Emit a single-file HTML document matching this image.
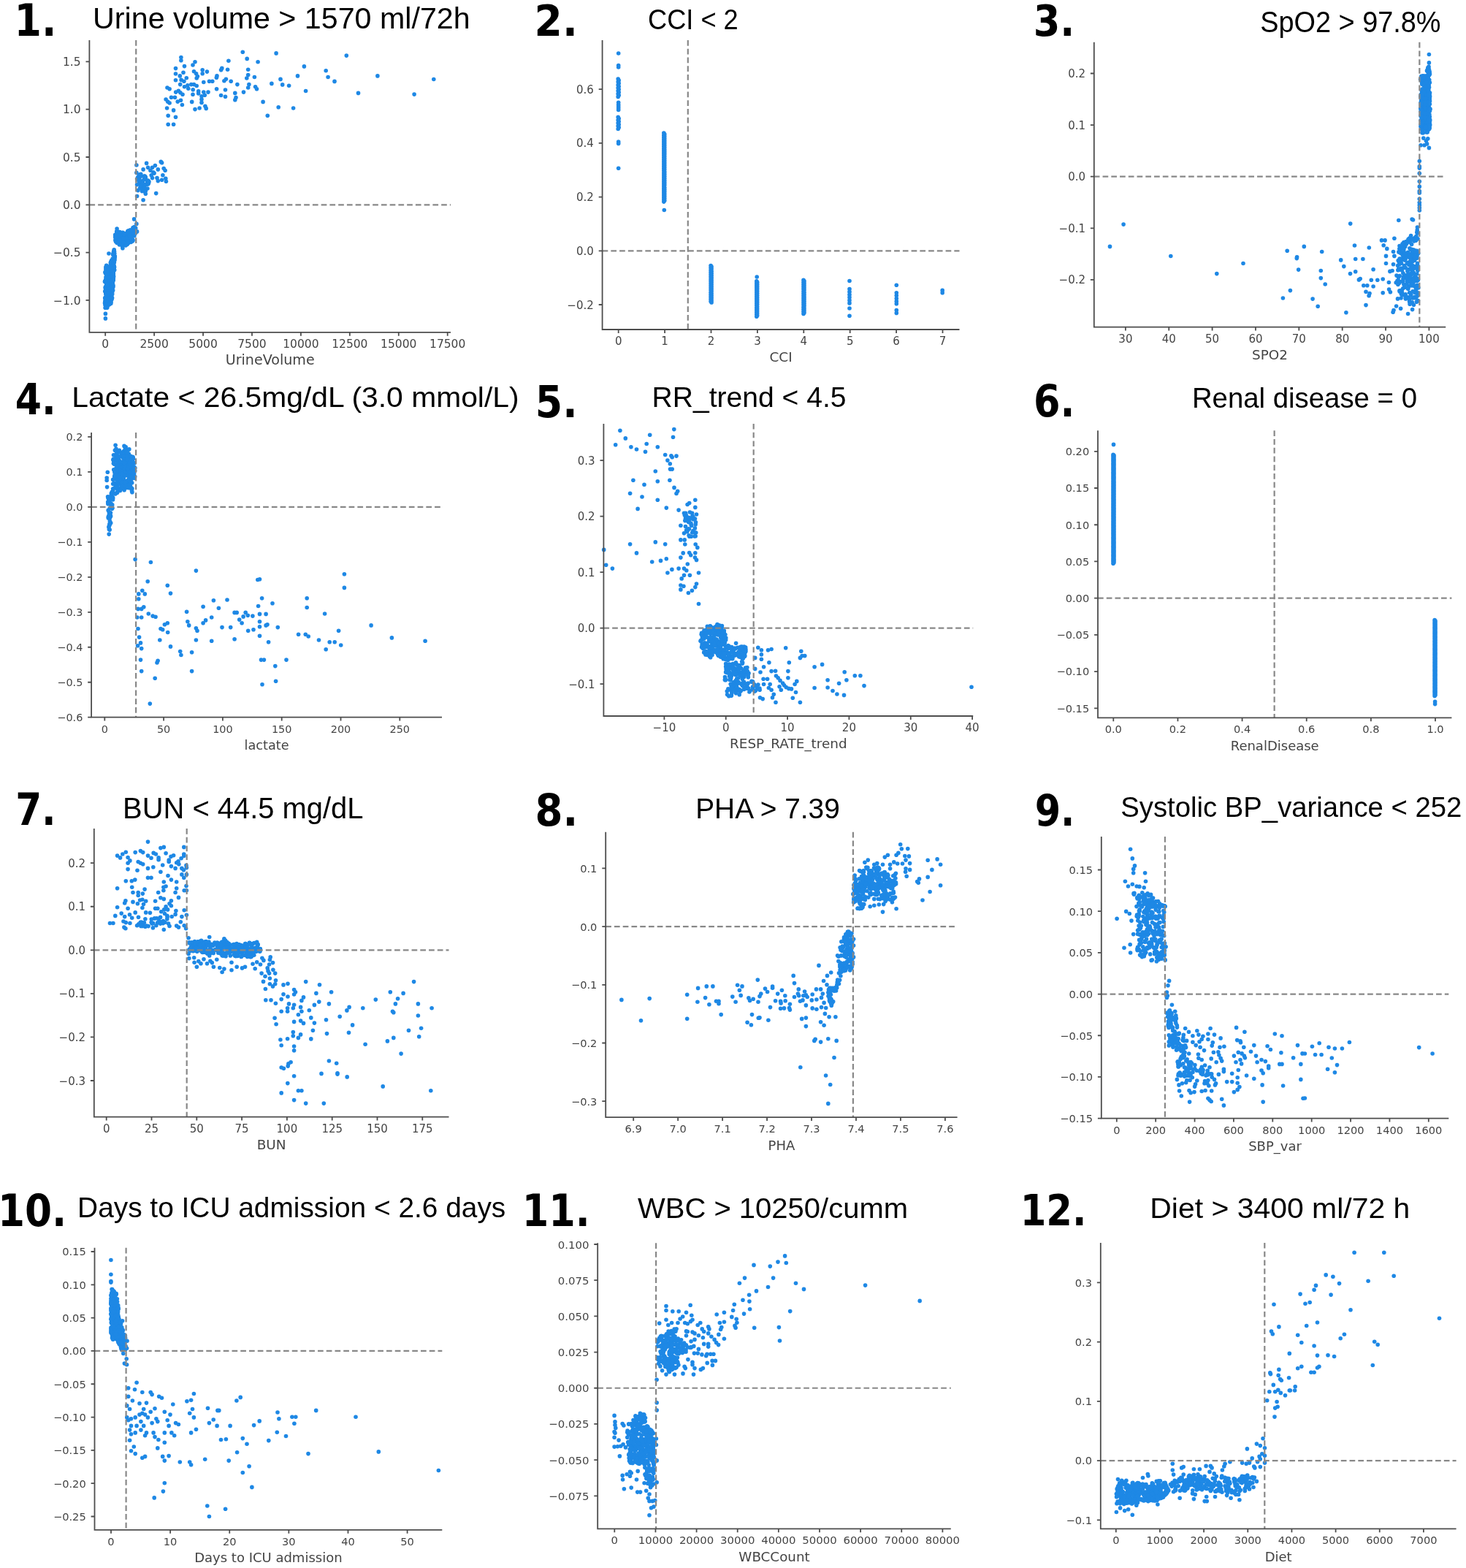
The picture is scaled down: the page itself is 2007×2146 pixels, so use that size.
<!DOCTYPE html><html><head><meta charset="utf-8"><title>SHAP dependence plots</title><style>html,body{margin:0;padding:0;background:#fff;}svg{display:block;}</style></head><body><svg width="2007" height="2146" viewBox="0 0 2007 2146"><rect width="2007" height="2146" fill="#fff"/><g fill="#1E88E5"><circle cx="145.0" cy="410.5" r="2.8"/><circle cx="154.3" cy="362.4" r="2.8"/><circle cx="150.3" cy="378.2" r="2.8"/><circle cx="152.6" cy="405.7" r="2.8"/><circle cx="155.3" cy="376.8" r="2.8"/><circle cx="149.6" cy="400.2" r="2.8"/><circle cx="146.4" cy="418.4" r="2.8"/><circle cx="156.3" cy="344.2" r="2.8"/><circle cx="143.5" cy="385.6" r="2.8"/><circle cx="146.3" cy="376.0" r="2.8"/><circle cx="149.5" cy="381.9" r="2.8"/><circle cx="146.3" cy="379.0" r="2.8"/><circle cx="152.5" cy="356.8" r="2.8"/><circle cx="144.9" cy="368.7" r="2.8"/><circle cx="153.7" cy="399.4" r="2.8"/><circle cx="147.5" cy="389.4" r="2.8"/><circle cx="150.5" cy="389.5" r="2.8"/><circle cx="154.8" cy="375.3" r="2.8"/><circle cx="145.6" cy="386.2" r="2.8"/><circle cx="153.4" cy="396.4" r="2.8"/><circle cx="148.6" cy="377.3" r="2.8"/><circle cx="150.5" cy="404.9" r="2.8"/><circle cx="150.7" cy="373.6" r="2.8"/><circle cx="143.7" cy="398.8" r="2.8"/><circle cx="154.4" cy="385.5" r="2.8"/><circle cx="155.7" cy="360.6" r="2.8"/><circle cx="151.5" cy="379.0" r="2.8"/><circle cx="147.0" cy="386.2" r="2.8"/><circle cx="154.9" cy="383.8" r="2.8"/><circle cx="151.3" cy="376.3" r="2.8"/><circle cx="143.9" cy="412.3" r="2.8"/><circle cx="150.5" cy="381.1" r="2.8"/><circle cx="148.3" cy="369.8" r="2.8"/><circle cx="151.0" cy="392.3" r="2.8"/><circle cx="152.1" cy="378.9" r="2.8"/><circle cx="145.7" cy="389.1" r="2.8"/><circle cx="146.8" cy="410.0" r="2.8"/><circle cx="154.1" cy="362.0" r="2.8"/><circle cx="144.7" cy="392.4" r="2.8"/><circle cx="145.4" cy="384.5" r="2.8"/><circle cx="153.5" cy="378.6" r="2.8"/><circle cx="147.8" cy="380.2" r="2.8"/><circle cx="144.7" cy="414.7" r="2.8"/><circle cx="152.0" cy="408.0" r="2.8"/><circle cx="145.2" cy="400.0" r="2.8"/><circle cx="145.4" cy="398.9" r="2.8"/><circle cx="153.0" cy="385.9" r="2.8"/><circle cx="146.3" cy="420.9" r="2.8"/><circle cx="154.8" cy="383.6" r="2.8"/><circle cx="146.4" cy="394.3" r="2.8"/><circle cx="148.9" cy="388.4" r="2.8"/><circle cx="147.8" cy="392.9" r="2.8"/><circle cx="147.6" cy="411.4" r="2.8"/><circle cx="147.6" cy="417.9" r="2.8"/><circle cx="154.0" cy="375.5" r="2.8"/><circle cx="156.0" cy="344.8" r="2.8"/><circle cx="153.4" cy="383.0" r="2.8"/><circle cx="148.6" cy="369.9" r="2.8"/><circle cx="146.1" cy="396.4" r="2.8"/><circle cx="144.6" cy="395.7" r="2.8"/><circle cx="147.4" cy="382.3" r="2.8"/><circle cx="147.8" cy="412.4" r="2.8"/><circle cx="156.3" cy="343.2" r="2.8"/><circle cx="146.0" cy="368.3" r="2.8"/><circle cx="153.0" cy="409.7" r="2.8"/><circle cx="156.7" cy="369.6" r="2.8"/><circle cx="146.5" cy="400.6" r="2.8"/><circle cx="156.4" cy="359.0" r="2.8"/><circle cx="154.2" cy="390.4" r="2.8"/><circle cx="155.4" cy="371.6" r="2.8"/><circle cx="148.1" cy="365.4" r="2.8"/><circle cx="145.1" cy="386.4" r="2.8"/><circle cx="144.2" cy="412.0" r="2.8"/><circle cx="148.1" cy="391.6" r="2.8"/><circle cx="154.5" cy="372.4" r="2.8"/><circle cx="151.4" cy="359.9" r="2.8"/><circle cx="147.1" cy="405.6" r="2.8"/><circle cx="144.8" cy="413.5" r="2.8"/><circle cx="146.6" cy="402.1" r="2.8"/><circle cx="144.6" cy="415.6" r="2.8"/><circle cx="156.4" cy="365.6" r="2.8"/><circle cx="146.8" cy="380.4" r="2.8"/><circle cx="144.5" cy="394.6" r="2.8"/><circle cx="151.8" cy="378.2" r="2.8"/><circle cx="157.3" cy="350.8" r="2.8"/><circle cx="146.2" cy="391.8" r="2.8"/><circle cx="153.2" cy="395.4" r="2.8"/><circle cx="146.9" cy="385.7" r="2.8"/><circle cx="152.6" cy="393.9" r="2.8"/><circle cx="147.6" cy="368.3" r="2.8"/><circle cx="147.7" cy="410.4" r="2.8"/><circle cx="156.2" cy="366.3" r="2.8"/><circle cx="148.0" cy="385.9" r="2.8"/><circle cx="151.6" cy="390.1" r="2.8"/><circle cx="144.2" cy="393.3" r="2.8"/><circle cx="147.3" cy="406.0" r="2.8"/><circle cx="150.3" cy="411.7" r="2.8"/><circle cx="145.3" cy="382.4" r="2.8"/><circle cx="154.7" cy="348.0" r="2.8"/><circle cx="157.0" cy="355.8" r="2.8"/><circle cx="155.1" cy="367.7" r="2.8"/><circle cx="144.6" cy="383.4" r="2.8"/><circle cx="156.5" cy="365.5" r="2.8"/><circle cx="156.2" cy="353.2" r="2.8"/><circle cx="156.4" cy="344.3" r="2.8"/><circle cx="147.7" cy="415.0" r="2.8"/><circle cx="153.2" cy="356.2" r="2.8"/><circle cx="153.6" cy="395.9" r="2.8"/><circle cx="151.1" cy="385.6" r="2.8"/><circle cx="155.6" cy="378.5" r="2.8"/><circle cx="148.9" cy="369.2" r="2.8"/><circle cx="152.6" cy="375.5" r="2.8"/><circle cx="155.2" cy="374.0" r="2.8"/><circle cx="149.0" cy="391.4" r="2.8"/><circle cx="150.8" cy="382.4" r="2.8"/><circle cx="152.6" cy="377.3" r="2.8"/><circle cx="153.1" cy="401.1" r="2.8"/><circle cx="146.6" cy="381.9" r="2.8"/><circle cx="149.1" cy="387.2" r="2.8"/><circle cx="147.1" cy="394.2" r="2.8"/><circle cx="150.6" cy="412.9" r="2.8"/><circle cx="145.4" cy="403.9" r="2.8"/><circle cx="156.0" cy="367.0" r="2.8"/><circle cx="148.5" cy="398.6" r="2.8"/><circle cx="153.9" cy="390.0" r="2.8"/><circle cx="146.3" cy="387.9" r="2.8"/><circle cx="153.1" cy="399.9" r="2.8"/><circle cx="148.2" cy="383.5" r="2.8"/><circle cx="145.5" cy="400.9" r="2.8"/><circle cx="154.9" cy="392.7" r="2.8"/><circle cx="147.0" cy="415.8" r="2.8"/><circle cx="157.1" cy="353.0" r="2.8"/><circle cx="152.7" cy="398.5" r="2.8"/><circle cx="149.6" cy="416.7" r="2.8"/><circle cx="154.8" cy="376.8" r="2.8"/><circle cx="145.5" cy="368.1" r="2.8"/><circle cx="144.9" cy="415.4" r="2.8"/><circle cx="157.1" cy="351.4" r="2.8"/><circle cx="151.9" cy="374.8" r="2.8"/><circle cx="144.8" cy="365.7" r="2.8"/><circle cx="146.7" cy="402.5" r="2.8"/><circle cx="152.3" cy="390.8" r="2.8"/><circle cx="155.3" cy="358.5" r="2.8"/><circle cx="147.3" cy="385.7" r="2.8"/><circle cx="147.1" cy="389.2" r="2.8"/><circle cx="146.8" cy="397.2" r="2.8"/><circle cx="150.3" cy="411.1" r="2.8"/><circle cx="154.3" cy="388.0" r="2.8"/><circle cx="144.7" cy="407.2" r="2.8"/><circle cx="144.8" cy="402.3" r="2.8"/><circle cx="145.1" cy="382.3" r="2.8"/><circle cx="151.5" cy="367.0" r="2.8"/><circle cx="150.4" cy="370.7" r="2.8"/><circle cx="149.6" cy="378.2" r="2.8"/><circle cx="147.5" cy="374.1" r="2.8"/><circle cx="154.6" cy="397.2" r="2.8"/><circle cx="150.3" cy="394.3" r="2.8"/><circle cx="151.8" cy="413.2" r="2.8"/><circle cx="155.2" cy="383.2" r="2.8"/><circle cx="155.3" cy="374.9" r="2.8"/><circle cx="152.2" cy="384.8" r="2.8"/><circle cx="148.8" cy="376.3" r="2.8"/><circle cx="149.0" cy="411.6" r="2.8"/><circle cx="151.6" cy="401.2" r="2.8"/><circle cx="150.3" cy="402.2" r="2.8"/><circle cx="152.5" cy="394.3" r="2.8"/><circle cx="152.3" cy="374.7" r="2.8"/><circle cx="152.3" cy="393.1" r="2.8"/><circle cx="155.0" cy="390.8" r="2.8"/><circle cx="155.3" cy="381.0" r="2.8"/><circle cx="150.6" cy="402.1" r="2.8"/><circle cx="149.3" cy="370.5" r="2.8"/><circle cx="153.2" cy="374.3" r="2.8"/><circle cx="153.2" cy="390.8" r="2.8"/><circle cx="156.1" cy="363.6" r="2.8"/><circle cx="144.2" cy="409.1" r="2.8"/><circle cx="150.7" cy="371.6" r="2.8"/><circle cx="150.6" cy="401.5" r="2.8"/><circle cx="145.5" cy="394.7" r="2.8"/><circle cx="153.5" cy="407.8" r="2.8"/><circle cx="147.0" cy="391.2" r="2.8"/><circle cx="146.5" cy="387.2" r="2.8"/><circle cx="145.6" cy="405.8" r="2.8"/><circle cx="155.8" cy="368.5" r="2.8"/><circle cx="146.3" cy="419.9" r="2.8"/><circle cx="143.5" cy="414.7" r="2.8"/><circle cx="152.2" cy="367.4" r="2.8"/><circle cx="149.4" cy="403.5" r="2.8"/><circle cx="154.6" cy="357.1" r="2.8"/><circle cx="152.0" cy="363.0" r="2.8"/><circle cx="145.1" cy="399.8" r="2.8"/><circle cx="148.4" cy="402.7" r="2.8"/><circle cx="146.6" cy="400.0" r="2.8"/><circle cx="153.6" cy="366.5" r="2.8"/><circle cx="144.6" cy="373.9" r="2.8"/><circle cx="151.8" cy="413.8" r="2.8"/><circle cx="153.4" cy="407.8" r="2.8"/><circle cx="148.1" cy="409.7" r="2.8"/><circle cx="144.8" cy="397.9" r="2.8"/><circle cx="144.5" cy="374.1" r="2.8"/><circle cx="150.3" cy="372.4" r="2.8"/><circle cx="155.1" cy="379.2" r="2.8"/><circle cx="151.6" cy="358.9" r="2.8"/><circle cx="153.6" cy="368.5" r="2.8"/><circle cx="151.8" cy="415.5" r="2.8"/><circle cx="147.8" cy="372.8" r="2.8"/><circle cx="148.9" cy="413.1" r="2.8"/><circle cx="154.2" cy="354.1" r="2.8"/><circle cx="145.2" cy="395.6" r="2.8"/><circle cx="143.9" cy="372.5" r="2.8"/><circle cx="145.0" cy="379.3" r="2.8"/><circle cx="155.4" cy="345.2" r="2.8"/><circle cx="152.4" cy="402.1" r="2.8"/><circle cx="152.8" cy="373.3" r="2.8"/><circle cx="152.5" cy="361.4" r="2.8"/><circle cx="144.0" cy="417.6" r="2.8"/><circle cx="151.7" cy="370.1" r="2.8"/><circle cx="151.9" cy="387.2" r="2.8"/><circle cx="148.3" cy="375.2" r="2.8"/><circle cx="146.0" cy="413.1" r="2.8"/><circle cx="149.3" cy="395.5" r="2.8"/><circle cx="153.5" cy="402.0" r="2.8"/><circle cx="153.6" cy="402.7" r="2.8"/><circle cx="146.8" cy="420.9" r="2.8"/><circle cx="145.3" cy="416.2" r="2.8"/><circle cx="155.0" cy="379.8" r="2.8"/><circle cx="143.7" cy="384.8" r="2.8"/><circle cx="148.9" cy="399.1" r="2.8"/><circle cx="156.0" cy="343.7" r="2.8"/><circle cx="154.8" cy="348.7" r="2.8"/><circle cx="153.8" cy="367.1" r="2.8"/><circle cx="145.0" cy="406.2" r="2.8"/><circle cx="147.5" cy="376.2" r="2.8"/><circle cx="146.7" cy="386.9" r="2.8"/><circle cx="147.9" cy="369.2" r="2.8"/><circle cx="152.6" cy="378.1" r="2.8"/><circle cx="150.9" cy="414.5" r="2.8"/><circle cx="155.3" cy="365.4" r="2.8"/><circle cx="145.4" cy="371.8" r="2.8"/><circle cx="148.1" cy="388.4" r="2.8"/><circle cx="143.7" cy="407.8" r="2.8"/><circle cx="152.6" cy="367.2" r="2.8"/><circle cx="147.5" cy="370.3" r="2.8"/><circle cx="147.8" cy="402.4" r="2.8"/><circle cx="150.4" cy="384.4" r="2.8"/><circle cx="145.3" cy="415.9" r="2.8"/><circle cx="147.9" cy="368.3" r="2.8"/><circle cx="144.1" cy="421.2" r="2.8"/><circle cx="150.1" cy="415.8" r="2.8"/><circle cx="145.1" cy="384.2" r="2.8"/><circle cx="154.0" cy="371.1" r="2.8"/><circle cx="149.0" cy="379.4" r="2.8"/><circle cx="153.1" cy="387.4" r="2.8"/><circle cx="156.4" cy="356.7" r="2.8"/><circle cx="149.1" cy="400.8" r="2.8"/><circle cx="151.1" cy="363.3" r="2.8"/><circle cx="152.3" cy="384.4" r="2.8"/><circle cx="149.0" cy="347.0" r="2.8"/><circle cx="144.4" cy="429.4" r="2.8"/><circle cx="144.4" cy="435.9" r="2.8"/><circle cx="145.7" cy="363.3" r="2.8"/><circle cx="156.2" cy="341.7" r="2.8"/><circle cx="156.8" cy="347.0" r="2.8"/><circle cx="181.3" cy="329.9" r="2.8"/><circle cx="176.6" cy="317.0" r="2.8"/><circle cx="174.7" cy="326.0" r="2.8"/><circle cx="169.7" cy="319.6" r="2.8"/><circle cx="168.3" cy="334.6" r="2.8"/><circle cx="172.5" cy="324.6" r="2.8"/><circle cx="179.2" cy="331.5" r="2.8"/><circle cx="167.6" cy="337.2" r="2.8"/><circle cx="184.9" cy="312.6" r="2.8"/><circle cx="179.0" cy="329.2" r="2.8"/><circle cx="170.6" cy="323.7" r="2.8"/><circle cx="171.4" cy="335.5" r="2.8"/><circle cx="171.8" cy="332.7" r="2.8"/><circle cx="167.6" cy="334.3" r="2.8"/><circle cx="183.1" cy="321.6" r="2.8"/><circle cx="178.1" cy="322.4" r="2.8"/><circle cx="163.8" cy="317.5" r="2.8"/><circle cx="183.4" cy="315.8" r="2.8"/><circle cx="183.5" cy="317.0" r="2.8"/><circle cx="171.8" cy="323.3" r="2.8"/><circle cx="176.0" cy="325.4" r="2.8"/><circle cx="172.1" cy="335.8" r="2.8"/><circle cx="180.9" cy="329.6" r="2.8"/><circle cx="183.4" cy="313.5" r="2.8"/><circle cx="176.1" cy="315.9" r="2.8"/><circle cx="163.9" cy="334.1" r="2.8"/><circle cx="160.5" cy="323.4" r="2.8"/><circle cx="181.8" cy="315.1" r="2.8"/><circle cx="163.5" cy="334.2" r="2.8"/><circle cx="169.5" cy="329.3" r="2.8"/><circle cx="162.4" cy="328.0" r="2.8"/><circle cx="158.2" cy="329.7" r="2.8"/><circle cx="162.7" cy="328.5" r="2.8"/><circle cx="185.7" cy="312.3" r="2.8"/><circle cx="175.0" cy="330.1" r="2.8"/><circle cx="160.7" cy="317.9" r="2.8"/><circle cx="158.3" cy="321.2" r="2.8"/><circle cx="179.3" cy="330.0" r="2.8"/><circle cx="182.1" cy="328.9" r="2.8"/><circle cx="176.3" cy="317.2" r="2.8"/><circle cx="160.4" cy="321.2" r="2.8"/><circle cx="182.4" cy="311.6" r="2.8"/><circle cx="174.1" cy="319.5" r="2.8"/><circle cx="184.8" cy="315.5" r="2.8"/><circle cx="174.8" cy="320.4" r="2.8"/><circle cx="158.0" cy="324.5" r="2.8"/><circle cx="160.2" cy="326.8" r="2.8"/><circle cx="164.1" cy="321.1" r="2.8"/><circle cx="164.6" cy="325.5" r="2.8"/><circle cx="175.3" cy="331.8" r="2.8"/><circle cx="177.7" cy="315.4" r="2.8"/><circle cx="169.5" cy="323.6" r="2.8"/><circle cx="178.1" cy="315.0" r="2.8"/><circle cx="172.3" cy="321.7" r="2.8"/><circle cx="166.3" cy="327.0" r="2.8"/><circle cx="163.5" cy="335.0" r="2.8"/><circle cx="169.8" cy="323.1" r="2.8"/><circle cx="169.4" cy="323.5" r="2.8"/><circle cx="180.4" cy="318.7" r="2.8"/><circle cx="172.3" cy="335.4" r="2.8"/><circle cx="174.9" cy="316.4" r="2.8"/><circle cx="185.5" cy="318.9" r="2.8"/><circle cx="158.0" cy="328.3" r="2.8"/><circle cx="160.4" cy="316.9" r="2.8"/><circle cx="181.4" cy="328.0" r="2.8"/><circle cx="157.9" cy="321.3" r="2.8"/><circle cx="169.2" cy="322.3" r="2.8"/><circle cx="163.4" cy="325.4" r="2.8"/><circle cx="168.1" cy="335.9" r="2.8"/><circle cx="159.7" cy="330.4" r="2.8"/><circle cx="163.0" cy="324.9" r="2.8"/><circle cx="168.6" cy="321.7" r="2.8"/><circle cx="179.0" cy="319.6" r="2.8"/><circle cx="176.3" cy="331.1" r="2.8"/><circle cx="178.1" cy="322.7" r="2.8"/><circle cx="167.7" cy="321.5" r="2.8"/><circle cx="180.2" cy="315.8" r="2.8"/><circle cx="172.5" cy="322.1" r="2.8"/><circle cx="169.7" cy="328.2" r="2.8"/><circle cx="161.6" cy="320.3" r="2.8"/><circle cx="176.6" cy="328.2" r="2.8"/><circle cx="170.0" cy="323.5" r="2.8"/><circle cx="160.7" cy="324.0" r="2.8"/><circle cx="160.2" cy="323.3" r="2.8"/><circle cx="177.9" cy="315.5" r="2.8"/><circle cx="183.0" cy="321.6" r="2.8"/><circle cx="177.5" cy="319.9" r="2.8"/><circle cx="174.4" cy="334.3" r="2.8"/><circle cx="162.6" cy="323.1" r="2.8"/><circle cx="171.2" cy="319.9" r="2.8"/><circle cx="177.6" cy="321.9" r="2.8"/><circle cx="184.9" cy="317.7" r="2.8"/><circle cx="178.7" cy="327.5" r="2.8"/><circle cx="163.9" cy="326.4" r="2.8"/><circle cx="169.0" cy="327.8" r="2.8"/><circle cx="157.8" cy="321.7" r="2.8"/><circle cx="176.0" cy="332.3" r="2.8"/><circle cx="178.3" cy="326.0" r="2.8"/><circle cx="160.3" cy="332.3" r="2.8"/><circle cx="178.7" cy="325.4" r="2.8"/><circle cx="162.9" cy="331.9" r="2.8"/><circle cx="161.4" cy="326.1" r="2.8"/><circle cx="173.6" cy="321.8" r="2.8"/><circle cx="171.3" cy="332.9" r="2.8"/><circle cx="176.2" cy="330.4" r="2.8"/><circle cx="171.3" cy="328.0" r="2.8"/><circle cx="159.7" cy="330.4" r="2.8"/><circle cx="162.4" cy="330.3" r="2.8"/><circle cx="179.8" cy="319.9" r="2.8"/><circle cx="176.7" cy="331.4" r="2.8"/><circle cx="182.1" cy="311.8" r="2.8"/><circle cx="162.1" cy="319.2" r="2.8"/><circle cx="157.8" cy="324.5" r="2.8"/><circle cx="185.0" cy="318.7" r="2.8"/><circle cx="172.8" cy="319.2" r="2.8"/><circle cx="170.1" cy="333.9" r="2.8"/><circle cx="166.3" cy="327.3" r="2.8"/><circle cx="171.3" cy="323.9" r="2.8"/><circle cx="181.0" cy="316.9" r="2.8"/><circle cx="175.9" cy="331.7" r="2.8"/><circle cx="176.1" cy="319.5" r="2.8"/><circle cx="175.5" cy="319.5" r="2.8"/><circle cx="172.6" cy="333.3" r="2.8"/><circle cx="180.2" cy="326.6" r="2.8"/><circle cx="160.7" cy="332.4" r="2.8"/><circle cx="168.3" cy="318.7" r="2.8"/><circle cx="170.1" cy="327.0" r="2.8"/><circle cx="184.0" cy="317.5" r="2.8"/><circle cx="162.9" cy="328.1" r="2.8"/><circle cx="168.1" cy="318.4" r="2.8"/><circle cx="180.1" cy="314.7" r="2.8"/><circle cx="180.5" cy="326.8" r="2.8"/><circle cx="168.9" cy="332.5" r="2.8"/><circle cx="167.2" cy="334.2" r="2.8"/><circle cx="183.9" cy="322.8" r="2.8"/><circle cx="178.6" cy="330.3" r="2.8"/><circle cx="165.8" cy="326.5" r="2.8"/><circle cx="176.6" cy="318.8" r="2.8"/><circle cx="184.8" cy="318.4" r="2.8"/><circle cx="171.1" cy="334.6" r="2.8"/><circle cx="167.5" cy="318.5" r="2.8"/><circle cx="179.2" cy="320.9" r="2.8"/><circle cx="181.2" cy="319.5" r="2.8"/><circle cx="165.6" cy="326.9" r="2.8"/><circle cx="161.8" cy="317.2" r="2.8"/><circle cx="183.9" cy="310.6" r="2.8"/><circle cx="164.6" cy="320.4" r="2.8"/><circle cx="164.6" cy="318.0" r="2.8"/><circle cx="174.9" cy="317.8" r="2.8"/><circle cx="168.1" cy="330.8" r="2.8"/><circle cx="181.7" cy="320.7" r="2.8"/><circle cx="172.4" cy="333.2" r="2.8"/><circle cx="167.1" cy="330.8" r="2.8"/><circle cx="174.9" cy="319.6" r="2.8"/><circle cx="171.0" cy="326.4" r="2.8"/><circle cx="166.5" cy="332.9" r="2.8"/><circle cx="174.5" cy="325.4" r="2.8"/><circle cx="170.4" cy="320.1" r="2.8"/><circle cx="159.7" cy="316.9" r="2.8"/><circle cx="160.5" cy="318.3" r="2.8"/><circle cx="164.4" cy="322.2" r="2.8"/><circle cx="180.9" cy="323.5" r="2.8"/><circle cx="161.5" cy="322.5" r="2.8"/><circle cx="168.3" cy="326.5" r="2.8"/><circle cx="177.9" cy="323.0" r="2.8"/><circle cx="183.6" cy="312.6" r="2.8"/><circle cx="160.5" cy="332.3" r="2.8"/><circle cx="169.8" cy="320.6" r="2.8"/><circle cx="168.8" cy="331.7" r="2.8"/><circle cx="180.6" cy="324.6" r="2.8"/><circle cx="164.0" cy="328.9" r="2.8"/><circle cx="177.4" cy="327.5" r="2.8"/><circle cx="158.3" cy="324.3" r="2.8"/><circle cx="174.0" cy="327.1" r="2.8"/><circle cx="175.3" cy="330.1" r="2.8"/><circle cx="177.5" cy="322.0" r="2.8"/><circle cx="158.8" cy="331.0" r="2.8"/><circle cx="183.6" cy="299.9" r="2.8"/><circle cx="186.9" cy="306.4" r="2.8"/><circle cx="187.6" cy="316.9" r="2.8"/><circle cx="160.1" cy="313.0" r="2.8"/><circle cx="167.9" cy="339.8" r="2.8"/><circle cx="190.6" cy="251.3" r="2.8"/><circle cx="193.0" cy="252.9" r="2.8"/><circle cx="191.0" cy="243.2" r="2.8"/><circle cx="201.6" cy="249.6" r="2.8"/><circle cx="197.9" cy="241.0" r="2.8"/><circle cx="197.9" cy="259.8" r="2.8"/><circle cx="195.8" cy="256.5" r="2.8"/><circle cx="200.1" cy="252.6" r="2.8"/><circle cx="202.1" cy="249.5" r="2.8"/><circle cx="199.4" cy="260.1" r="2.8"/><circle cx="199.3" cy="261.2" r="2.8"/><circle cx="193.5" cy="258.0" r="2.8"/><circle cx="194.4" cy="261.6" r="2.8"/><circle cx="188.7" cy="242.8" r="2.8"/><circle cx="203.9" cy="248.5" r="2.8"/><circle cx="197.7" cy="245.0" r="2.8"/><circle cx="195.5" cy="247.2" r="2.8"/><circle cx="192.7" cy="252.4" r="2.8"/><circle cx="196.9" cy="260.7" r="2.8"/><circle cx="198.7" cy="261.4" r="2.8"/><circle cx="198.5" cy="241.4" r="2.8"/><circle cx="202.8" cy="252.0" r="2.8"/><circle cx="199.3" cy="242.6" r="2.8"/><circle cx="201.5" cy="252.1" r="2.8"/><circle cx="191.5" cy="238.7" r="2.8"/><circle cx="193.8" cy="241.0" r="2.8"/><circle cx="191.6" cy="257.2" r="2.8"/><circle cx="199.4" cy="245.7" r="2.8"/><circle cx="191.9" cy="239.1" r="2.8"/><circle cx="189.9" cy="247.8" r="2.8"/><circle cx="197.4" cy="241.2" r="2.8"/><circle cx="202.7" cy="247.0" r="2.8"/><circle cx="194.7" cy="250.7" r="2.8"/><circle cx="198.0" cy="252.7" r="2.8"/><circle cx="196.5" cy="253.3" r="2.8"/><circle cx="203.5" cy="250.4" r="2.8"/><circle cx="186.9" cy="226.0" r="2.8"/><circle cx="200.6" cy="223.4" r="2.8"/><circle cx="220.3" cy="221.4" r="2.8"/><circle cx="221.6" cy="222.7" r="2.8"/><circle cx="196.1" cy="231.9" r="2.8"/><circle cx="202.6" cy="229.2" r="2.8"/><circle cx="208.5" cy="229.2" r="2.8"/><circle cx="212.4" cy="226.6" r="2.8"/><circle cx="216.3" cy="231.9" r="2.8"/><circle cx="224.2" cy="230.5" r="2.8"/><circle cx="226.1" cy="233.2" r="2.8"/><circle cx="186.9" cy="236.4" r="2.8"/><circle cx="190.2" cy="239.7" r="2.8"/><circle cx="192.8" cy="238.4" r="2.8"/><circle cx="198.0" cy="242.3" r="2.8"/><circle cx="187.6" cy="244.9" r="2.8"/><circle cx="191.5" cy="247.6" r="2.8"/><circle cx="195.4" cy="250.2" r="2.8"/><circle cx="199.3" cy="243.6" r="2.8"/><circle cx="203.3" cy="248.9" r="2.8"/><circle cx="187.6" cy="252.8" r="2.8"/><circle cx="192.8" cy="254.1" r="2.8"/><circle cx="198.0" cy="256.7" r="2.8"/><circle cx="201.9" cy="258.0" r="2.8"/><circle cx="188.9" cy="260.6" r="2.8"/><circle cx="198.0" cy="261.9" r="2.8"/><circle cx="199.3" cy="265.2" r="2.8"/><circle cx="187.6" cy="268.5" r="2.8"/><circle cx="196.1" cy="273.7" r="2.8"/><circle cx="213.7" cy="264.6" r="2.8"/><circle cx="208.5" cy="243.6" r="2.8"/><circle cx="209.8" cy="235.8" r="2.8"/><circle cx="215.0" cy="243.6" r="2.8"/><circle cx="216.3" cy="247.6" r="2.8"/><circle cx="221.6" cy="246.2" r="2.8"/><circle cx="222.9" cy="239.7" r="2.8"/><circle cx="226.8" cy="244.3" r="2.8"/><circle cx="227.4" cy="248.2" r="2.8"/><circle cx="205.9" cy="233.2" r="2.8"/><circle cx="211.1" cy="237.1" r="2.8"/><circle cx="207.2" cy="239.7" r="2.8"/><circle cx="247.9" cy="78.5" r="2.8"/><circle cx="247.9" cy="82.8" r="2.8"/><circle cx="252.5" cy="90.6" r="2.8"/><circle cx="240.5" cy="93.6" r="2.8"/><circle cx="240.5" cy="101.0" r="2.8"/><circle cx="251.0" cy="99.3" r="2.8"/><circle cx="246.3" cy="103.9" r="2.8"/><circle cx="255.3" cy="106.7" r="2.8"/><circle cx="240.5" cy="109.7" r="2.8"/><circle cx="248.1" cy="109.4" r="2.8"/><circle cx="251.9" cy="111.3" r="2.8"/><circle cx="246.7" cy="115.6" r="2.8"/><circle cx="252.5" cy="118.7" r="2.8"/><circle cx="256.8" cy="116.9" r="2.8"/><circle cx="257.8" cy="121.2" r="2.8"/><circle cx="229.0" cy="120.0" r="2.8"/><circle cx="232.1" cy="121.8" r="2.8"/><circle cx="240.7" cy="126.1" r="2.8"/><circle cx="244.4" cy="124.3" r="2.8"/><circle cx="246.9" cy="126.8" r="2.8"/><circle cx="250.0" cy="129.2" r="2.8"/><circle cx="234.5" cy="133.2" r="2.8"/><circle cx="239.5" cy="133.2" r="2.8"/><circle cx="227.1" cy="136.0" r="2.8"/><circle cx="229.6" cy="139.1" r="2.8"/><circle cx="232.1" cy="141.0" r="2.8"/><circle cx="243.2" cy="139.1" r="2.8"/><circle cx="247.5" cy="137.3" r="2.8"/><circle cx="249.4" cy="143.5" r="2.8"/><circle cx="228.6" cy="148.0" r="2.8"/><circle cx="237.6" cy="150.9" r="2.8"/><circle cx="230.2" cy="158.3" r="2.8"/><circle cx="240.5" cy="160.2" r="2.8"/><circle cx="230.2" cy="170.3" r="2.8"/><circle cx="237.6" cy="170.3" r="2.8"/><circle cx="264.0" cy="89.0" r="2.8"/><circle cx="267.0" cy="84.7" r="2.8"/><circle cx="265.5" cy="97.7" r="2.8"/><circle cx="268.6" cy="100.8" r="2.8"/><circle cx="270.4" cy="104.5" r="2.8"/><circle cx="269.2" cy="107.0" r="2.8"/><circle cx="277.2" cy="95.8" r="2.8"/><circle cx="277.2" cy="100.8" r="2.8"/><circle cx="283.4" cy="98.1" r="2.8"/><circle cx="278.8" cy="112.5" r="2.8"/><circle cx="261.8" cy="115.6" r="2.8"/><circle cx="265.5" cy="115.6" r="2.8"/><circle cx="269.2" cy="117.5" r="2.8"/><circle cx="264.2" cy="122.8" r="2.8"/><circle cx="264.0" cy="129.2" r="2.8"/><circle cx="271.7" cy="124.9" r="2.8"/><circle cx="271.7" cy="128.0" r="2.8"/><circle cx="278.8" cy="126.1" r="2.8"/><circle cx="285.0" cy="126.1" r="2.8"/><circle cx="276.0" cy="131.7" r="2.8"/><circle cx="280.3" cy="130.2" r="2.8"/><circle cx="276.0" cy="136.0" r="2.8"/><circle cx="276.0" cy="140.4" r="2.8"/><circle cx="262.7" cy="139.4" r="2.8"/><circle cx="267.0" cy="149.6" r="2.8"/><circle cx="273.1" cy="148.0" r="2.8"/><circle cx="280.9" cy="145.3" r="2.8"/><circle cx="282.2" cy="148.4" r="2.8"/><circle cx="286.5" cy="111.3" r="2.8"/><circle cx="290.8" cy="111.3" r="2.8"/><circle cx="297.0" cy="103.9" r="2.8"/><circle cx="296.4" cy="106.3" r="2.8"/><circle cx="302.6" cy="95.8" r="2.8"/><circle cx="303.8" cy="93.4" r="2.8"/><circle cx="312.9" cy="83.2" r="2.8"/><circle cx="311.6" cy="95.2" r="2.8"/><circle cx="306.9" cy="110.7" r="2.8"/><circle cx="309.4" cy="108.2" r="2.8"/><circle cx="316.2" cy="111.3" r="2.8"/><circle cx="296.6" cy="121.8" r="2.8"/><circle cx="308.5" cy="123.0" r="2.8"/><circle cx="302.6" cy="130.5" r="2.8"/><circle cx="308.5" cy="132.3" r="2.8"/><circle cx="321.8" cy="127.4" r="2.8"/><circle cx="323.0" cy="133.6" r="2.8"/><circle cx="321.8" cy="136.7" r="2.8"/><circle cx="324.9" cy="115.6" r="2.8"/><circle cx="332.3" cy="71.3" r="2.8"/><circle cx="338.2" cy="80.4" r="2.8"/><circle cx="339.7" cy="95.2" r="2.8"/><circle cx="339.7" cy="102.6" r="2.8"/><circle cx="337.8" cy="107.0" r="2.8"/><circle cx="348.4" cy="105.5" r="2.8"/><circle cx="353.1" cy="84.7" r="2.8"/><circle cx="333.5" cy="126.1" r="2.8"/><circle cx="339.7" cy="120.0" r="2.8"/><circle cx="340.9" cy="115.6" r="2.8"/><circle cx="349.6" cy="118.7" r="2.8"/><circle cx="351.5" cy="121.8" r="2.8"/><circle cx="360.1" cy="139.4" r="2.8"/><circle cx="366.3" cy="158.3" r="2.8"/><circle cx="371.9" cy="114.4" r="2.8"/><circle cx="378.1" cy="72.9" r="2.8"/><circle cx="381.2" cy="146.8" r="2.8"/><circle cx="384.0" cy="108.4" r="2.8"/><circle cx="386.7" cy="115.9" r="2.8"/><circle cx="395.6" cy="117.2" r="2.8"/><circle cx="401.6" cy="148.0" r="2.8"/><circle cx="407.5" cy="103.9" r="2.8"/><circle cx="416.4" cy="90.9" r="2.8"/><circle cx="418.6" cy="124.5" r="2.8"/><circle cx="446.2" cy="96.7" r="2.8"/><circle cx="449.1" cy="105.5" r="2.8"/><circle cx="458.0" cy="111.4" r="2.8"/><circle cx="474.3" cy="76.1" r="2.8"/><circle cx="490.5" cy="127.4" r="2.8"/><circle cx="516.9" cy="103.9" r="2.8"/><circle cx="567.1" cy="129.1" r="2.8"/><circle cx="593.8" cy="108.5" r="2.8"/></g><path d="M122.40,280.30H617.00" stroke="#888888" stroke-width="2.2" stroke-dasharray="7.7 4.05" fill="none"/><path d="M186.23,55.00V454.80" stroke="#888888" stroke-width="2.2" stroke-dasharray="7.7 4.05" fill="none"/><g font-family="DejaVu Sans, sans-serif" font-size="15.5" fill="#444444"><path d="M122.40,55.00V454.80H617.00" fill="none" stroke="#4d4d4d" stroke-width="1.8"/><path d="M144.20,454.80v4.90M211.13,454.80v4.90M278.06,454.80v4.90M344.99,454.80v4.90M411.91,454.80v4.90M478.84,454.80v4.90M545.77,454.80v4.90M612.70,454.80v4.90M122.40,410.90h-4.90M122.40,345.60h-4.90M122.40,280.30h-4.90M122.40,215.00h-4.90M122.40,149.70h-4.90M122.40,84.40h-4.90" stroke="#4d4d4d" stroke-width="1.8"/><text x="144.20" y="475.80" text-anchor="middle">0</text><text x="211.13" y="475.80" text-anchor="middle">2500</text><text x="278.06" y="475.80" text-anchor="middle">5000</text><text x="344.99" y="475.80" text-anchor="middle">7500</text><text x="411.91" y="475.80" text-anchor="middle">10000</text><text x="478.84" y="475.80" text-anchor="middle">12500</text><text x="545.77" y="475.80" text-anchor="middle">15000</text><text x="612.70" y="475.80" text-anchor="middle">17500</text><text x="110.60" y="416.63" text-anchor="end">−1.0</text><text x="110.60" y="351.34" text-anchor="end">−0.5</text><text x="110.60" y="286.04" text-anchor="end">0.0</text><text x="110.60" y="220.74" text-anchor="end">0.5</text><text x="110.60" y="155.44" text-anchor="end">1.0</text><text x="110.60" y="90.14" text-anchor="end">1.5</text></g><text x="369.70" y="499.10" text-anchor="middle" font-family="DejaVu Sans, sans-serif" font-size="19.1" fill="#444444">UrineVolume</text><g fill="#1E88E5"><circle cx="846.7" cy="73.0" r="2.8"/><circle cx="846.7" cy="89.6" r="2.8"/><circle cx="846.7" cy="92.0" r="2.8"/><circle cx="846.7" cy="140.3" r="2.8"/><circle cx="846.7" cy="143.3" r="2.8"/><circle cx="846.7" cy="145.7" r="2.8"/><circle cx="846.7" cy="148.1" r="2.8"/><circle cx="846.7" cy="150.5" r="2.8"/><circle cx="846.7" cy="194.0" r="2.8"/><circle cx="846.7" cy="196.4" r="2.8"/><circle cx="846.7" cy="230.2" r="2.8"/><circle cx="846.2" cy="108.0" r="2.8"/><circle cx="847.2" cy="110.1" r="2.8"/><circle cx="846.2" cy="112.1" r="2.8"/><circle cx="847.2" cy="114.1" r="2.8"/><circle cx="846.2" cy="116.2" r="2.8"/><circle cx="847.2" cy="118.2" r="2.8"/><circle cx="846.2" cy="120.2" r="2.8"/><circle cx="847.2" cy="122.3" r="2.8"/><circle cx="846.2" cy="124.3" r="2.8"/><circle cx="847.2" cy="126.3" r="2.8"/><circle cx="846.2" cy="128.4" r="2.8"/><circle cx="847.2" cy="130.4" r="2.8"/><circle cx="846.2" cy="132.4" r="2.8"/><circle cx="846.2" cy="160.2" r="2.8"/><circle cx="847.2" cy="162.2" r="2.8"/><circle cx="846.2" cy="164.3" r="2.8"/><circle cx="847.2" cy="166.3" r="2.8"/><circle cx="846.2" cy="168.3" r="2.8"/><circle cx="847.2" cy="170.4" r="2.8"/><circle cx="846.2" cy="172.4" r="2.8"/><circle cx="847.2" cy="174.4" r="2.8"/><circle cx="846.2" cy="176.5" r="2.8"/><circle cx="908.8" cy="182.1" r="2.8"/><circle cx="909.8" cy="183.7" r="2.8"/><circle cx="908.8" cy="185.2" r="2.8"/><circle cx="909.8" cy="186.7" r="2.8"/><circle cx="908.8" cy="188.2" r="2.8"/><circle cx="909.8" cy="189.7" r="2.8"/><circle cx="908.8" cy="191.2" r="2.8"/><circle cx="909.8" cy="192.8" r="2.8"/><circle cx="908.8" cy="194.3" r="2.8"/><circle cx="909.8" cy="195.8" r="2.8"/><circle cx="908.8" cy="197.3" r="2.8"/><circle cx="909.8" cy="198.8" r="2.8"/><circle cx="908.8" cy="200.3" r="2.8"/><circle cx="909.8" cy="201.8" r="2.8"/><circle cx="908.8" cy="203.4" r="2.8"/><circle cx="909.8" cy="204.9" r="2.8"/><circle cx="908.8" cy="206.4" r="2.8"/><circle cx="909.8" cy="207.9" r="2.8"/><circle cx="908.8" cy="209.4" r="2.8"/><circle cx="909.8" cy="210.9" r="2.8"/><circle cx="908.8" cy="212.4" r="2.8"/><circle cx="909.8" cy="214.0" r="2.8"/><circle cx="908.8" cy="215.5" r="2.8"/><circle cx="909.8" cy="217.0" r="2.8"/><circle cx="908.8" cy="218.5" r="2.8"/><circle cx="909.8" cy="220.0" r="2.8"/><circle cx="908.8" cy="221.5" r="2.8"/><circle cx="909.8" cy="223.0" r="2.8"/><circle cx="908.8" cy="224.6" r="2.8"/><circle cx="909.8" cy="226.1" r="2.8"/><circle cx="908.8" cy="227.6" r="2.8"/><circle cx="909.8" cy="229.1" r="2.8"/><circle cx="908.8" cy="230.6" r="2.8"/><circle cx="909.8" cy="232.1" r="2.8"/><circle cx="908.8" cy="233.6" r="2.8"/><circle cx="909.8" cy="235.2" r="2.8"/><circle cx="908.8" cy="236.7" r="2.8"/><circle cx="909.8" cy="238.2" r="2.8"/><circle cx="908.8" cy="239.7" r="2.8"/><circle cx="909.8" cy="241.2" r="2.8"/><circle cx="908.8" cy="242.7" r="2.8"/><circle cx="909.8" cy="244.2" r="2.8"/><circle cx="908.8" cy="245.8" r="2.8"/><circle cx="909.8" cy="247.3" r="2.8"/><circle cx="908.8" cy="248.8" r="2.8"/><circle cx="909.8" cy="250.3" r="2.8"/><circle cx="908.8" cy="251.8" r="2.8"/><circle cx="909.8" cy="253.3" r="2.8"/><circle cx="908.8" cy="254.8" r="2.8"/><circle cx="909.8" cy="256.4" r="2.8"/><circle cx="908.8" cy="257.9" r="2.8"/><circle cx="909.8" cy="259.4" r="2.8"/><circle cx="908.8" cy="260.9" r="2.8"/><circle cx="909.8" cy="262.4" r="2.8"/><circle cx="908.8" cy="263.9" r="2.8"/><circle cx="909.8" cy="265.5" r="2.8"/><circle cx="908.8" cy="267.0" r="2.8"/><circle cx="909.8" cy="268.5" r="2.8"/><circle cx="908.8" cy="270.0" r="2.8"/><circle cx="909.8" cy="271.5" r="2.8"/><circle cx="908.8" cy="273.0" r="2.8"/><circle cx="909.8" cy="274.5" r="2.8"/><circle cx="908.8" cy="276.1" r="2.8"/><circle cx="909.3" cy="287.5" r="2.8"/><circle cx="973.1" cy="363.6" r="2.8"/><circle cx="974.1" cy="365.1" r="2.8"/><circle cx="973.1" cy="366.6" r="2.8"/><circle cx="974.1" cy="368.1" r="2.8"/><circle cx="973.1" cy="369.7" r="2.8"/><circle cx="974.1" cy="371.2" r="2.8"/><circle cx="973.1" cy="372.7" r="2.8"/><circle cx="974.1" cy="374.2" r="2.8"/><circle cx="973.1" cy="375.8" r="2.8"/><circle cx="974.1" cy="377.3" r="2.8"/><circle cx="973.1" cy="378.8" r="2.8"/><circle cx="974.1" cy="380.3" r="2.8"/><circle cx="973.1" cy="381.9" r="2.8"/><circle cx="974.1" cy="383.4" r="2.8"/><circle cx="973.1" cy="384.9" r="2.8"/><circle cx="974.1" cy="386.4" r="2.8"/><circle cx="973.1" cy="388.0" r="2.8"/><circle cx="974.1" cy="389.5" r="2.8"/><circle cx="973.1" cy="391.0" r="2.8"/><circle cx="974.1" cy="392.5" r="2.8"/><circle cx="973.1" cy="394.1" r="2.8"/><circle cx="974.1" cy="395.6" r="2.8"/><circle cx="973.1" cy="397.1" r="2.8"/><circle cx="974.1" cy="398.6" r="2.8"/><circle cx="973.1" cy="400.2" r="2.8"/><circle cx="974.1" cy="401.7" r="2.8"/><circle cx="973.1" cy="403.2" r="2.8"/><circle cx="974.1" cy="404.8" r="2.8"/><circle cx="973.1" cy="406.3" r="2.8"/><circle cx="974.1" cy="407.8" r="2.8"/><circle cx="973.1" cy="409.3" r="2.8"/><circle cx="974.1" cy="410.9" r="2.8"/><circle cx="973.1" cy="412.4" r="2.8"/><circle cx="974.1" cy="413.9" r="2.8"/><circle cx="1036.2" cy="379.0" r="2.8"/><circle cx="1035.8" cy="384.9" r="2.8"/><circle cx="1036.7" cy="386.4" r="2.8"/><circle cx="1035.8" cy="387.9" r="2.8"/><circle cx="1036.7" cy="389.4" r="2.8"/><circle cx="1035.8" cy="390.9" r="2.8"/><circle cx="1036.7" cy="392.4" r="2.8"/><circle cx="1035.8" cy="393.9" r="2.8"/><circle cx="1036.7" cy="395.4" r="2.8"/><circle cx="1035.8" cy="397.0" r="2.8"/><circle cx="1036.7" cy="398.5" r="2.8"/><circle cx="1035.8" cy="400.0" r="2.8"/><circle cx="1036.7" cy="401.5" r="2.8"/><circle cx="1035.8" cy="403.0" r="2.8"/><circle cx="1036.7" cy="404.5" r="2.8"/><circle cx="1035.8" cy="406.0" r="2.8"/><circle cx="1036.7" cy="407.6" r="2.8"/><circle cx="1035.8" cy="409.1" r="2.8"/><circle cx="1036.7" cy="410.6" r="2.8"/><circle cx="1035.8" cy="412.1" r="2.8"/><circle cx="1036.7" cy="413.6" r="2.8"/><circle cx="1035.8" cy="415.1" r="2.8"/><circle cx="1036.7" cy="416.6" r="2.8"/><circle cx="1035.8" cy="418.1" r="2.8"/><circle cx="1036.7" cy="419.7" r="2.8"/><circle cx="1035.8" cy="421.2" r="2.8"/><circle cx="1036.7" cy="422.7" r="2.8"/><circle cx="1035.8" cy="424.2" r="2.8"/><circle cx="1036.7" cy="425.7" r="2.8"/><circle cx="1035.8" cy="427.2" r="2.8"/><circle cx="1036.7" cy="428.7" r="2.8"/><circle cx="1035.8" cy="430.2" r="2.8"/><circle cx="1036.7" cy="431.8" r="2.8"/><circle cx="1035.8" cy="433.3" r="2.8"/><circle cx="1100.0" cy="383.3" r="2.8"/><circle cx="1101.0" cy="384.8" r="2.8"/><circle cx="1100.0" cy="386.4" r="2.8"/><circle cx="1101.0" cy="387.9" r="2.8"/><circle cx="1100.0" cy="389.5" r="2.8"/><circle cx="1101.0" cy="391.0" r="2.8"/><circle cx="1100.0" cy="392.5" r="2.8"/><circle cx="1101.0" cy="394.1" r="2.8"/><circle cx="1100.0" cy="395.6" r="2.8"/><circle cx="1101.0" cy="397.1" r="2.8"/><circle cx="1100.0" cy="398.7" r="2.8"/><circle cx="1101.0" cy="400.2" r="2.8"/><circle cx="1100.0" cy="401.7" r="2.8"/><circle cx="1101.0" cy="403.3" r="2.8"/><circle cx="1100.0" cy="404.8" r="2.8"/><circle cx="1101.0" cy="406.4" r="2.8"/><circle cx="1100.0" cy="407.9" r="2.8"/><circle cx="1101.0" cy="409.4" r="2.8"/><circle cx="1100.0" cy="411.0" r="2.8"/><circle cx="1101.0" cy="412.5" r="2.8"/><circle cx="1100.0" cy="414.0" r="2.8"/><circle cx="1101.0" cy="415.6" r="2.8"/><circle cx="1100.0" cy="417.1" r="2.8"/><circle cx="1101.0" cy="418.6" r="2.8"/><circle cx="1100.0" cy="420.2" r="2.8"/><circle cx="1101.0" cy="421.7" r="2.8"/><circle cx="1100.0" cy="423.3" r="2.8"/><circle cx="1101.0" cy="424.8" r="2.8"/><circle cx="1100.0" cy="426.3" r="2.8"/><circle cx="1101.0" cy="427.9" r="2.8"/><circle cx="1100.0" cy="429.4" r="2.8"/><circle cx="1163.0" cy="384.5" r="2.8"/><circle cx="1163.0" cy="395.5" r="2.8"/><circle cx="1163.0" cy="399.4" r="2.8"/><circle cx="1163.0" cy="403.3" r="2.8"/><circle cx="1163.0" cy="407.1" r="2.8"/><circle cx="1163.0" cy="411.0" r="2.8"/><circle cx="1163.0" cy="414.9" r="2.8"/><circle cx="1163.0" cy="422.0" r="2.8"/><circle cx="1163.0" cy="432.3" r="2.8"/><circle cx="1227.3" cy="390.3" r="2.8"/><circle cx="1227.3" cy="400.7" r="2.8"/><circle cx="1227.3" cy="404.6" r="2.8"/><circle cx="1227.3" cy="408.5" r="2.8"/><circle cx="1227.3" cy="412.4" r="2.8"/><circle cx="1227.3" cy="415.8" r="2.8"/><circle cx="1227.3" cy="424.6" r="2.8"/><circle cx="1227.3" cy="428.4" r="2.8"/><circle cx="1290.2" cy="397.4" r="2.8"/><circle cx="1290.2" cy="400.7" r="2.8"/></g><path d="M824.60,343.30H1313.50" stroke="#888888" stroke-width="2.2" stroke-dasharray="7.7 4.05" fill="none"/><path d="M941.80,55.10V451.00" stroke="#888888" stroke-width="2.2" stroke-dasharray="7.7 4.05" fill="none"/><g font-family="DejaVu Sans, sans-serif" font-size="15.0" fill="#444444"><path d="M824.60,55.10V451.00H1313.50" fill="none" stroke="#4d4d4d" stroke-width="1.8"/><path d="M846.70,451.00v4.90M910.10,451.00v4.90M973.50,451.00v4.90M1036.90,451.00v4.90M1100.30,451.00v4.90M1163.70,451.00v4.90M1227.10,451.00v4.90M1290.50,451.00v4.90M824.60,417.00h-4.90M824.60,343.30h-4.90M824.60,269.60h-4.90M824.60,195.90h-4.90M824.60,122.20h-4.90" stroke="#4d4d4d" stroke-width="1.8"/><text x="846.70" y="472.00" text-anchor="middle">0</text><text x="910.10" y="472.00" text-anchor="middle">1</text><text x="973.50" y="472.00" text-anchor="middle">2</text><text x="1036.90" y="472.00" text-anchor="middle">3</text><text x="1100.30" y="472.00" text-anchor="middle">4</text><text x="1163.70" y="472.00" text-anchor="middle">5</text><text x="1227.10" y="472.00" text-anchor="middle">6</text><text x="1290.50" y="472.00" text-anchor="middle">7</text><text x="812.80" y="422.55" text-anchor="end">−0.2</text><text x="812.80" y="348.85" text-anchor="end">0.0</text><text x="812.80" y="275.15" text-anchor="end">0.2</text><text x="812.80" y="201.45" text-anchor="end">0.4</text><text x="812.80" y="127.75" text-anchor="end">0.6</text></g><text x="1069.05" y="495.30" text-anchor="middle" font-family="DejaVu Sans, sans-serif" font-size="18.4" fill="#444444">CCI</text><g fill="#1E88E5"><circle cx="1950.2" cy="141.8" r="2.8"/><circle cx="1956.8" cy="133.2" r="2.8"/><circle cx="1951.0" cy="144.3" r="2.8"/><circle cx="1946.5" cy="137.4" r="2.8"/><circle cx="1952.7" cy="163.0" r="2.8"/><circle cx="1945.2" cy="164.5" r="2.8"/><circle cx="1953.0" cy="146.8" r="2.8"/><circle cx="1946.6" cy="112.8" r="2.8"/><circle cx="1950.1" cy="167.5" r="2.8"/><circle cx="1951.1" cy="149.1" r="2.8"/><circle cx="1950.9" cy="151.1" r="2.8"/><circle cx="1950.3" cy="116.1" r="2.8"/><circle cx="1955.6" cy="155.2" r="2.8"/><circle cx="1948.3" cy="111.7" r="2.8"/><circle cx="1954.6" cy="127.2" r="2.8"/><circle cx="1955.7" cy="126.0" r="2.8"/><circle cx="1957.2" cy="167.9" r="2.8"/><circle cx="1956.6" cy="133.6" r="2.8"/><circle cx="1957.5" cy="127.0" r="2.8"/><circle cx="1945.0" cy="148.1" r="2.8"/><circle cx="1954.7" cy="115.3" r="2.8"/><circle cx="1957.3" cy="159.8" r="2.8"/><circle cx="1955.0" cy="106.9" r="2.8"/><circle cx="1951.7" cy="131.5" r="2.8"/><circle cx="1946.6" cy="157.4" r="2.8"/><circle cx="1945.8" cy="149.4" r="2.8"/><circle cx="1945.6" cy="129.1" r="2.8"/><circle cx="1946.9" cy="115.3" r="2.8"/><circle cx="1957.4" cy="163.9" r="2.8"/><circle cx="1948.2" cy="171.4" r="2.8"/><circle cx="1946.9" cy="126.7" r="2.8"/><circle cx="1955.8" cy="149.2" r="2.8"/><circle cx="1946.9" cy="114.3" r="2.8"/><circle cx="1954.7" cy="120.7" r="2.8"/><circle cx="1945.2" cy="143.8" r="2.8"/><circle cx="1947.3" cy="145.5" r="2.8"/><circle cx="1949.1" cy="132.0" r="2.8"/><circle cx="1957.2" cy="134.8" r="2.8"/><circle cx="1951.9" cy="169.7" r="2.8"/><circle cx="1946.5" cy="104.8" r="2.8"/><circle cx="1956.5" cy="165.3" r="2.8"/><circle cx="1947.4" cy="108.1" r="2.8"/><circle cx="1954.2" cy="176.4" r="2.8"/><circle cx="1946.7" cy="177.3" r="2.8"/><circle cx="1956.2" cy="145.7" r="2.8"/><circle cx="1947.2" cy="154.9" r="2.8"/><circle cx="1947.5" cy="165.8" r="2.8"/><circle cx="1952.2" cy="117.5" r="2.8"/><circle cx="1946.4" cy="156.4" r="2.8"/><circle cx="1951.7" cy="168.4" r="2.8"/><circle cx="1952.5" cy="116.3" r="2.8"/><circle cx="1956.7" cy="109.3" r="2.8"/><circle cx="1946.4" cy="124.4" r="2.8"/><circle cx="1949.0" cy="171.9" r="2.8"/><circle cx="1957.5" cy="150.6" r="2.8"/><circle cx="1953.5" cy="144.0" r="2.8"/><circle cx="1953.7" cy="178.5" r="2.8"/><circle cx="1950.6" cy="157.3" r="2.8"/><circle cx="1948.4" cy="181.8" r="2.8"/><circle cx="1945.0" cy="140.5" r="2.8"/><circle cx="1954.2" cy="172.8" r="2.8"/><circle cx="1954.2" cy="154.9" r="2.8"/><circle cx="1954.9" cy="174.1" r="2.8"/><circle cx="1948.8" cy="153.2" r="2.8"/><circle cx="1956.4" cy="170.1" r="2.8"/><circle cx="1949.7" cy="162.8" r="2.8"/><circle cx="1955.9" cy="142.9" r="2.8"/><circle cx="1952.6" cy="125.6" r="2.8"/><circle cx="1952.0" cy="146.2" r="2.8"/><circle cx="1945.1" cy="149.0" r="2.8"/><circle cx="1957.7" cy="170.9" r="2.8"/><circle cx="1954.0" cy="126.1" r="2.8"/><circle cx="1954.1" cy="143.7" r="2.8"/><circle cx="1950.1" cy="167.1" r="2.8"/><circle cx="1945.1" cy="159.1" r="2.8"/><circle cx="1950.6" cy="111.7" r="2.8"/><circle cx="1953.6" cy="136.1" r="2.8"/><circle cx="1952.5" cy="174.6" r="2.8"/><circle cx="1948.1" cy="152.5" r="2.8"/><circle cx="1946.8" cy="106.2" r="2.8"/><circle cx="1956.5" cy="150.9" r="2.8"/><circle cx="1950.1" cy="172.0" r="2.8"/><circle cx="1948.5" cy="151.4" r="2.8"/><circle cx="1946.7" cy="130.0" r="2.8"/><circle cx="1955.1" cy="174.0" r="2.8"/><circle cx="1956.2" cy="125.8" r="2.8"/><circle cx="1952.0" cy="119.6" r="2.8"/><circle cx="1945.8" cy="136.0" r="2.8"/><circle cx="1955.6" cy="168.1" r="2.8"/><circle cx="1953.8" cy="177.3" r="2.8"/><circle cx="1947.8" cy="106.2" r="2.8"/><circle cx="1950.2" cy="115.8" r="2.8"/><circle cx="1946.9" cy="128.5" r="2.8"/><circle cx="1952.6" cy="135.7" r="2.8"/><circle cx="1948.3" cy="167.2" r="2.8"/><circle cx="1957.6" cy="132.0" r="2.8"/><circle cx="1956.1" cy="94.5" r="2.8"/><circle cx="1953.8" cy="142.7" r="2.8"/><circle cx="1948.2" cy="162.9" r="2.8"/><circle cx="1955.5" cy="112.4" r="2.8"/><circle cx="1952.7" cy="131.4" r="2.8"/><circle cx="1952.7" cy="150.4" r="2.8"/><circle cx="1955.1" cy="178.1" r="2.8"/><circle cx="1953.4" cy="108.9" r="2.8"/><circle cx="1950.5" cy="107.0" r="2.8"/><circle cx="1953.8" cy="107.1" r="2.8"/><circle cx="1947.7" cy="122.3" r="2.8"/><circle cx="1953.6" cy="138.2" r="2.8"/><circle cx="1952.5" cy="159.6" r="2.8"/><circle cx="1949.4" cy="162.9" r="2.8"/><circle cx="1956.5" cy="98.7" r="2.8"/><circle cx="1956.9" cy="156.6" r="2.8"/><circle cx="1945.7" cy="132.1" r="2.8"/><circle cx="1952.6" cy="173.6" r="2.8"/><circle cx="1949.2" cy="142.6" r="2.8"/><circle cx="1956.1" cy="163.3" r="2.8"/><circle cx="1957.0" cy="133.0" r="2.8"/><circle cx="1953.0" cy="109.4" r="2.8"/><circle cx="1954.0" cy="165.3" r="2.8"/><circle cx="1952.8" cy="156.1" r="2.8"/><circle cx="1946.9" cy="172.7" r="2.8"/><circle cx="1951.4" cy="162.8" r="2.8"/><circle cx="1948.4" cy="173.7" r="2.8"/><circle cx="1955.8" cy="122.5" r="2.8"/><circle cx="1945.1" cy="130.9" r="2.8"/><circle cx="1951.6" cy="160.7" r="2.8"/><circle cx="1955.2" cy="96.6" r="2.8"/><circle cx="1955.0" cy="106.5" r="2.8"/><circle cx="1948.6" cy="162.5" r="2.8"/><circle cx="1945.9" cy="104.3" r="2.8"/><circle cx="1951.1" cy="156.7" r="2.8"/><circle cx="1955.6" cy="153.6" r="2.8"/><circle cx="1957.1" cy="135.6" r="2.8"/><circle cx="1957.1" cy="98.6" r="2.8"/><circle cx="1947.0" cy="138.7" r="2.8"/><circle cx="1948.0" cy="157.2" r="2.8"/><circle cx="1952.8" cy="138.4" r="2.8"/><circle cx="1955.6" cy="141.8" r="2.8"/><circle cx="1948.3" cy="125.5" r="2.8"/><circle cx="1955.7" cy="172.8" r="2.8"/><circle cx="1946.8" cy="168.3" r="2.8"/><circle cx="1957.4" cy="138.5" r="2.8"/><circle cx="1951.9" cy="109.1" r="2.8"/><circle cx="1951.4" cy="136.6" r="2.8"/><circle cx="1957.4" cy="137.8" r="2.8"/><circle cx="1949.5" cy="163.7" r="2.8"/><circle cx="1951.8" cy="135.5" r="2.8"/><circle cx="1953.5" cy="96.8" r="2.8"/><circle cx="1951.4" cy="128.5" r="2.8"/><circle cx="1957.2" cy="174.9" r="2.8"/><circle cx="1947.7" cy="133.9" r="2.8"/><circle cx="1945.7" cy="130.3" r="2.8"/><circle cx="1955.3" cy="172.8" r="2.8"/><circle cx="1950.6" cy="119.7" r="2.8"/><circle cx="1946.6" cy="147.0" r="2.8"/><circle cx="1956.8" cy="102.6" r="2.8"/><circle cx="1954.8" cy="92.8" r="2.8"/><circle cx="1946.6" cy="111.5" r="2.8"/><circle cx="1953.5" cy="120.1" r="2.8"/><circle cx="1948.9" cy="147.2" r="2.8"/><circle cx="1945.4" cy="157.3" r="2.8"/><circle cx="1945.6" cy="137.3" r="2.8"/><circle cx="1947.4" cy="108.8" r="2.8"/><circle cx="1951.3" cy="130.5" r="2.8"/><circle cx="1949.2" cy="128.4" r="2.8"/><circle cx="1951.3" cy="105.3" r="2.8"/><circle cx="1946.8" cy="148.3" r="2.8"/><circle cx="1952.8" cy="139.0" r="2.8"/><circle cx="1955.8" cy="146.5" r="2.8"/><circle cx="1955.8" cy="112.0" r="2.8"/><circle cx="1954.2" cy="164.6" r="2.8"/><circle cx="1956.5" cy="119.5" r="2.8"/><circle cx="1948.3" cy="174.8" r="2.8"/><circle cx="1947.0" cy="181.7" r="2.8"/><circle cx="1956.3" cy="103.0" r="2.8"/><circle cx="1947.3" cy="156.9" r="2.8"/><circle cx="1955.5" cy="129.2" r="2.8"/><circle cx="1954.9" cy="102.2" r="2.8"/><circle cx="1949.5" cy="153.2" r="2.8"/><circle cx="1953.4" cy="173.8" r="2.8"/><circle cx="1957.4" cy="101.3" r="2.8"/><circle cx="1951.0" cy="159.8" r="2.8"/><circle cx="1950.9" cy="153.2" r="2.8"/><circle cx="1951.6" cy="137.7" r="2.8"/><circle cx="1951.8" cy="104.1" r="2.8"/><circle cx="1946.5" cy="109.3" r="2.8"/><circle cx="1956.8" cy="99.4" r="2.8"/><circle cx="1950.4" cy="160.4" r="2.8"/><circle cx="1948.5" cy="133.3" r="2.8"/><circle cx="1951.1" cy="129.9" r="2.8"/><circle cx="1953.7" cy="167.7" r="2.8"/><circle cx="1946.5" cy="132.1" r="2.8"/><circle cx="1954.2" cy="127.7" r="2.8"/><circle cx="1946.6" cy="105.8" r="2.8"/><circle cx="1956.3" cy="163.8" r="2.8"/><circle cx="1953.7" cy="169.2" r="2.8"/><circle cx="1952.7" cy="127.6" r="2.8"/><circle cx="1952.3" cy="136.7" r="2.8"/><circle cx="1957.6" cy="164.1" r="2.8"/><circle cx="1947.5" cy="173.8" r="2.8"/><circle cx="1954.3" cy="161.6" r="2.8"/><circle cx="1955.2" cy="127.7" r="2.8"/><circle cx="1956.4" cy="170.9" r="2.8"/><circle cx="1953.6" cy="160.7" r="2.8"/><circle cx="1954.6" cy="127.7" r="2.8"/><circle cx="1954.0" cy="97.2" r="2.8"/><circle cx="1948.7" cy="133.5" r="2.8"/><circle cx="1952.8" cy="147.6" r="2.8"/><circle cx="1947.2" cy="176.8" r="2.8"/><circle cx="1953.2" cy="121.5" r="2.8"/><circle cx="1953.1" cy="142.6" r="2.8"/><circle cx="1951.3" cy="126.3" r="2.8"/><circle cx="1957.8" cy="149.3" r="2.8"/><circle cx="1953.7" cy="160.1" r="2.8"/><circle cx="1952.5" cy="158.1" r="2.8"/><circle cx="1947.5" cy="127.3" r="2.8"/><circle cx="1944.6" cy="108.6" r="2.8"/><circle cx="1947.4" cy="173.3" r="2.8"/><circle cx="1951.6" cy="137.0" r="2.8"/><circle cx="1957.4" cy="142.5" r="2.8"/><circle cx="1957.7" cy="148.9" r="2.8"/><circle cx="1955.2" cy="97.7" r="2.8"/><circle cx="1952.2" cy="159.9" r="2.8"/><circle cx="1946.2" cy="133.7" r="2.8"/><circle cx="1946.3" cy="135.9" r="2.8"/><circle cx="1957.1" cy="129.1" r="2.8"/><circle cx="1951.2" cy="145.2" r="2.8"/><circle cx="1949.0" cy="116.8" r="2.8"/><circle cx="1953.0" cy="141.8" r="2.8"/><circle cx="1947.9" cy="156.0" r="2.8"/><circle cx="1946.1" cy="159.5" r="2.8"/><circle cx="1949.4" cy="172.5" r="2.8"/><circle cx="1954.3" cy="95.3" r="2.8"/><circle cx="1945.0" cy="173.2" r="2.8"/><circle cx="1949.9" cy="134.3" r="2.8"/><circle cx="1957.4" cy="113.0" r="2.8"/><circle cx="1951.2" cy="176.1" r="2.8"/><circle cx="1954.0" cy="133.4" r="2.8"/><circle cx="1957.5" cy="165.2" r="2.8"/><circle cx="1952.6" cy="132.3" r="2.8"/><circle cx="1950.1" cy="151.6" r="2.8"/><circle cx="1950.3" cy="114.6" r="2.8"/><circle cx="1952.0" cy="129.0" r="2.8"/><circle cx="1954.7" cy="139.1" r="2.8"/><circle cx="1954.1" cy="112.5" r="2.8"/><circle cx="1945.5" cy="172.1" r="2.8"/><circle cx="1954.8" cy="147.7" r="2.8"/><circle cx="1948.9" cy="115.5" r="2.8"/><circle cx="1953.4" cy="142.2" r="2.8"/><circle cx="1952.1" cy="148.4" r="2.8"/><circle cx="1954.4" cy="108.1" r="2.8"/><circle cx="1947.4" cy="180.0" r="2.8"/><circle cx="1956.6" cy="170.8" r="2.8"/><circle cx="1947.7" cy="129.5" r="2.8"/><circle cx="1945.1" cy="152.4" r="2.8"/><circle cx="1951.6" cy="148.2" r="2.8"/><circle cx="1949.1" cy="134.4" r="2.8"/><circle cx="1946.9" cy="122.1" r="2.8"/><circle cx="1954.3" cy="167.1" r="2.8"/><circle cx="1955.2" cy="147.6" r="2.8"/><circle cx="1954.6" cy="110.2" r="2.8"/><circle cx="1949.8" cy="114.3" r="2.8"/><circle cx="1955.2" cy="124.4" r="2.8"/><circle cx="1953.0" cy="180.9" r="2.8"/><circle cx="1948.5" cy="140.7" r="2.8"/><circle cx="1954.3" cy="174.6" r="2.8"/><circle cx="1949.9" cy="124.4" r="2.8"/><circle cx="1945.3" cy="170.5" r="2.8"/><circle cx="1951.8" cy="134.9" r="2.8"/><circle cx="1953.4" cy="118.0" r="2.8"/><circle cx="1954.7" cy="97.7" r="2.8"/><circle cx="1946.9" cy="151.1" r="2.8"/><circle cx="1954.0" cy="154.0" r="2.8"/><circle cx="1947.9" cy="103.8" r="2.8"/><circle cx="1948.9" cy="156.9" r="2.8"/><circle cx="1953.8" cy="142.6" r="2.8"/><circle cx="1956.7" cy="176.4" r="2.8"/><circle cx="1956.6" cy="130.7" r="2.8"/><circle cx="1955.1" cy="118.5" r="2.8"/><circle cx="1948.3" cy="127.2" r="2.8"/><circle cx="1956.9" cy="172.3" r="2.8"/><circle cx="1947.4" cy="123.7" r="2.8"/><circle cx="1949.0" cy="123.9" r="2.8"/><circle cx="1949.4" cy="126.1" r="2.8"/><circle cx="1946.6" cy="142.1" r="2.8"/><circle cx="1955.0" cy="140.0" r="2.8"/><circle cx="1955.5" cy="142.0" r="2.8"/><circle cx="1946.4" cy="159.9" r="2.8"/><circle cx="1956.2" cy="116.4" r="2.8"/><circle cx="1951.5" cy="142.5" r="2.8"/><circle cx="1957.3" cy="150.1" r="2.8"/><circle cx="1955.1" cy="96.6" r="2.8"/><circle cx="1951.5" cy="162.5" r="2.8"/><circle cx="1954.2" cy="172.7" r="2.8"/><circle cx="1945.1" cy="148.5" r="2.8"/><circle cx="1945.9" cy="158.7" r="2.8"/><circle cx="1952.9" cy="113.1" r="2.8"/><circle cx="1947.0" cy="160.5" r="2.8"/><circle cx="1951.2" cy="160.4" r="2.8"/><circle cx="1949.4" cy="121.5" r="2.8"/><circle cx="1957.4" cy="152.0" r="2.8"/><circle cx="1950.8" cy="139.7" r="2.8"/><circle cx="1953.9" cy="155.3" r="2.8"/><circle cx="1956.6" cy="128.2" r="2.8"/><circle cx="1955.4" cy="151.5" r="2.8"/><circle cx="1955.8" cy="164.2" r="2.8"/><circle cx="1955.5" cy="171.7" r="2.8"/><circle cx="1957.2" cy="149.1" r="2.8"/><circle cx="1951.2" cy="155.4" r="2.8"/><circle cx="1955.1" cy="129.2" r="2.8"/><circle cx="1949.8" cy="104.1" r="2.8"/><circle cx="1954.2" cy="181.0" r="2.8"/><circle cx="1949.2" cy="106.0" r="2.8"/><circle cx="1946.8" cy="129.5" r="2.8"/><circle cx="1948.0" cy="179.1" r="2.8"/><circle cx="1945.5" cy="149.8" r="2.8"/><circle cx="1954.7" cy="107.1" r="2.8"/><circle cx="1944.8" cy="132.6" r="2.8"/><circle cx="1952.0" cy="173.6" r="2.8"/><circle cx="1956.4" cy="74.5" r="2.8"/><circle cx="1956.4" cy="85.9" r="2.8"/><circle cx="1948.8" cy="189.1" r="2.8"/><circle cx="1954.8" cy="189.7" r="2.8"/><circle cx="1945.1" cy="198.7" r="2.8"/><circle cx="1950.0" cy="198.7" r="2.8"/><circle cx="1953.6" cy="196.9" r="2.8"/><circle cx="1956.4" cy="202.4" r="2.8"/><circle cx="1952.4" cy="192.7" r="2.8"/><circle cx="1956.0" cy="91.4" r="2.8"/><circle cx="1956.6" cy="96.2" r="2.8"/><circle cx="1943.3" cy="220.5" r="2.8"/><circle cx="1943.3" cy="227.7" r="2.8"/><circle cx="1943.3" cy="230.1" r="2.8"/><circle cx="1943.3" cy="237.3" r="2.8"/><circle cx="1943.3" cy="248.2" r="2.8"/><circle cx="1943.3" cy="255.4" r="2.8"/><circle cx="1943.3" cy="261.5" r="2.8"/><circle cx="1943.3" cy="263.9" r="2.8"/><circle cx="1943.3" cy="272.3" r="2.8"/><circle cx="1943.3" cy="277.2" r="2.8"/><circle cx="1943.3" cy="280.8" r="2.8"/><circle cx="1943.3" cy="284.4" r="2.8"/><circle cx="1943.3" cy="288.0" r="2.8"/><circle cx="1925.5" cy="381.1" r="2.8"/><circle cx="1931.4" cy="327.0" r="2.8"/><circle cx="1919.2" cy="397.2" r="2.8"/><circle cx="1932.2" cy="375.3" r="2.8"/><circle cx="1928.1" cy="381.6" r="2.8"/><circle cx="1915.2" cy="358.3" r="2.8"/><circle cx="1913.0" cy="384.2" r="2.8"/><circle cx="1921.2" cy="354.6" r="2.8"/><circle cx="1941.4" cy="411.6" r="2.8"/><circle cx="1914.2" cy="356.5" r="2.8"/><circle cx="1914.9" cy="344.9" r="2.8"/><circle cx="1930.0" cy="329.2" r="2.8"/><circle cx="1916.0" cy="397.8" r="2.8"/><circle cx="1923.2" cy="356.1" r="2.8"/><circle cx="1929.2" cy="362.1" r="2.8"/><circle cx="1933.3" cy="413.7" r="2.8"/><circle cx="1941.1" cy="381.8" r="2.8"/><circle cx="1921.8" cy="350.2" r="2.8"/><circle cx="1932.2" cy="382.9" r="2.8"/><circle cx="1922.0" cy="365.8" r="2.8"/><circle cx="1935.9" cy="364.6" r="2.8"/><circle cx="1924.1" cy="366.6" r="2.8"/><circle cx="1917.6" cy="356.9" r="2.8"/><circle cx="1922.8" cy="393.2" r="2.8"/><circle cx="1913.9" cy="369.8" r="2.8"/><circle cx="1916.2" cy="385.2" r="2.8"/><circle cx="1921.4" cy="379.0" r="2.8"/><circle cx="1917.2" cy="341.7" r="2.8"/><circle cx="1922.0" cy="331.9" r="2.8"/><circle cx="1934.0" cy="407.9" r="2.8"/><circle cx="1934.7" cy="348.0" r="2.8"/><circle cx="1912.0" cy="377.1" r="2.8"/><circle cx="1920.7" cy="394.8" r="2.8"/><circle cx="1936.6" cy="379.2" r="2.8"/><circle cx="1917.8" cy="367.5" r="2.8"/><circle cx="1925.6" cy="377.9" r="2.8"/><circle cx="1938.5" cy="329.1" r="2.8"/><circle cx="1919.8" cy="403.8" r="2.8"/><circle cx="1926.7" cy="385.2" r="2.8"/><circle cx="1932.6" cy="334.5" r="2.8"/><circle cx="1919.6" cy="338.8" r="2.8"/><circle cx="1932.0" cy="385.0" r="2.8"/><circle cx="1923.8" cy="337.4" r="2.8"/><circle cx="1928.1" cy="377.7" r="2.8"/><circle cx="1939.3" cy="413.2" r="2.8"/><circle cx="1934.4" cy="355.9" r="2.8"/><circle cx="1929.0" cy="406.8" r="2.8"/><circle cx="1935.2" cy="373.0" r="2.8"/><circle cx="1921.5" cy="350.8" r="2.8"/><circle cx="1933.6" cy="371.2" r="2.8"/><circle cx="1911.2" cy="386.7" r="2.8"/><circle cx="1938.8" cy="395.9" r="2.8"/><circle cx="1938.6" cy="407.8" r="2.8"/><circle cx="1927.3" cy="395.0" r="2.8"/><circle cx="1921.7" cy="344.8" r="2.8"/><circle cx="1939.8" cy="384.5" r="2.8"/><circle cx="1927.5" cy="377.4" r="2.8"/><circle cx="1914.6" cy="368.2" r="2.8"/><circle cx="1932.5" cy="353.5" r="2.8"/><circle cx="1918.4" cy="354.8" r="2.8"/><circle cx="1920.8" cy="384.1" r="2.8"/><circle cx="1920.4" cy="385.2" r="2.8"/><circle cx="1934.3" cy="381.4" r="2.8"/><circle cx="1939.8" cy="350.5" r="2.8"/><circle cx="1924.5" cy="330.9" r="2.8"/><circle cx="1931.5" cy="347.9" r="2.8"/><circle cx="1918.1" cy="346.4" r="2.8"/><circle cx="1921.9" cy="341.4" r="2.8"/><circle cx="1917.0" cy="357.5" r="2.8"/><circle cx="1926.3" cy="385.4" r="2.8"/><circle cx="1915.8" cy="360.9" r="2.8"/><circle cx="1929.6" cy="400.6" r="2.8"/><circle cx="1918.5" cy="360.3" r="2.8"/><circle cx="1937.3" cy="399.5" r="2.8"/><circle cx="1917.8" cy="368.6" r="2.8"/><circle cx="1934.4" cy="353.6" r="2.8"/><circle cx="1931.6" cy="381.8" r="2.8"/><circle cx="1940.9" cy="370.3" r="2.8"/><circle cx="1931.9" cy="348.8" r="2.8"/><circle cx="1933.5" cy="345.9" r="2.8"/><circle cx="1926.3" cy="350.0" r="2.8"/><circle cx="1917.7" cy="369.2" r="2.8"/><circle cx="1935.7" cy="342.0" r="2.8"/><circle cx="1939.8" cy="375.0" r="2.8"/><circle cx="1922.8" cy="403.8" r="2.8"/><circle cx="1938.6" cy="345.8" r="2.8"/><circle cx="1914.6" cy="379.4" r="2.8"/><circle cx="1936.9" cy="376.0" r="2.8"/><circle cx="1935.1" cy="355.4" r="2.8"/><circle cx="1929.9" cy="339.7" r="2.8"/><circle cx="1923.4" cy="351.9" r="2.8"/><circle cx="1922.7" cy="354.0" r="2.8"/><circle cx="1935.8" cy="329.9" r="2.8"/><circle cx="1917.1" cy="338.8" r="2.8"/><circle cx="1940.9" cy="367.0" r="2.8"/><circle cx="1937.9" cy="398.4" r="2.8"/><circle cx="1921.9" cy="389.3" r="2.8"/><circle cx="1937.6" cy="399.6" r="2.8"/><circle cx="1915.8" cy="387.3" r="2.8"/><circle cx="1916.4" cy="344.8" r="2.8"/><circle cx="1937.5" cy="375.8" r="2.8"/><circle cx="1913.9" cy="384.0" r="2.8"/><circle cx="1927.4" cy="359.2" r="2.8"/><circle cx="1927.1" cy="380.5" r="2.8"/><circle cx="1935.6" cy="365.1" r="2.8"/><circle cx="1930.5" cy="361.1" r="2.8"/><circle cx="1930.4" cy="352.9" r="2.8"/><circle cx="1923.6" cy="366.3" r="2.8"/><circle cx="1932.9" cy="341.3" r="2.8"/><circle cx="1939.5" cy="363.7" r="2.8"/><circle cx="1937.3" cy="384.6" r="2.8"/><circle cx="1940.4" cy="383.8" r="2.8"/><circle cx="1924.0" cy="354.7" r="2.8"/><circle cx="1929.6" cy="391.3" r="2.8"/><circle cx="1936.8" cy="325.6" r="2.8"/><circle cx="1914.2" cy="384.1" r="2.8"/><circle cx="1929.9" cy="413.6" r="2.8"/><circle cx="1940.6" cy="390.5" r="2.8"/><circle cx="1940.2" cy="315.0" r="2.8"/><circle cx="1925.5" cy="333.7" r="2.8"/><circle cx="1934.2" cy="356.5" r="2.8"/><circle cx="1927.6" cy="345.2" r="2.8"/><circle cx="1929.6" cy="412.2" r="2.8"/><circle cx="1941.4" cy="392.5" r="2.8"/><circle cx="1939.7" cy="350.1" r="2.8"/><circle cx="1929.4" cy="382.4" r="2.8"/><circle cx="1925.7" cy="388.9" r="2.8"/><circle cx="1936.4" cy="391.6" r="2.8"/><circle cx="1921.3" cy="352.1" r="2.8"/><circle cx="1925.8" cy="332.5" r="2.8"/><circle cx="1930.1" cy="368.4" r="2.8"/><circle cx="1922.0" cy="336.2" r="2.8"/><circle cx="1922.7" cy="376.4" r="2.8"/><circle cx="1914.7" cy="368.9" r="2.8"/><circle cx="1940.3" cy="390.3" r="2.8"/><circle cx="1918.5" cy="356.0" r="2.8"/><circle cx="1913.9" cy="389.5" r="2.8"/><circle cx="1930.4" cy="330.2" r="2.8"/><circle cx="1927.8" cy="374.7" r="2.8"/><circle cx="1928.7" cy="351.8" r="2.8"/><circle cx="1920.3" cy="349.3" r="2.8"/><circle cx="1941.7" cy="346.7" r="2.8"/><circle cx="1926.3" cy="360.4" r="2.8"/><circle cx="1916.1" cy="354.0" r="2.8"/><circle cx="1917.1" cy="345.9" r="2.8"/><circle cx="1922.1" cy="348.8" r="2.8"/><circle cx="1939.9" cy="343.2" r="2.8"/><circle cx="1921.0" cy="381.2" r="2.8"/><circle cx="1923.1" cy="366.2" r="2.8"/><circle cx="1931.6" cy="322.6" r="2.8"/><circle cx="1918.5" cy="397.2" r="2.8"/><circle cx="1941.5" cy="382.9" r="2.8"/><circle cx="1916.0" cy="358.1" r="2.8"/><circle cx="1919.5" cy="400.5" r="2.8"/><circle cx="1930.5" cy="379.0" r="2.8"/><circle cx="1929.0" cy="362.4" r="2.8"/><circle cx="1940.5" cy="360.2" r="2.8"/><circle cx="1939.8" cy="353.2" r="2.8"/><circle cx="1925.2" cy="349.8" r="2.8"/><circle cx="1932.9" cy="391.0" r="2.8"/><circle cx="1918.1" cy="367.3" r="2.8"/><circle cx="1933.3" cy="364.8" r="2.8"/><circle cx="1931.3" cy="376.8" r="2.8"/><circle cx="1932.9" cy="349.4" r="2.8"/><circle cx="1938.4" cy="395.1" r="2.8"/><circle cx="1938.8" cy="327.9" r="2.8"/><circle cx="1936.7" cy="356.3" r="2.8"/><circle cx="1920.5" cy="339.3" r="2.8"/><circle cx="1922.5" cy="363.6" r="2.8"/><circle cx="1929.4" cy="410.1" r="2.8"/><circle cx="1937.5" cy="407.7" r="2.8"/><circle cx="1939.7" cy="367.6" r="2.8"/><circle cx="1922.1" cy="331.8" r="2.8"/><circle cx="1939.0" cy="392.5" r="2.8"/><circle cx="1927.9" cy="395.2" r="2.8"/><circle cx="1918.8" cy="368.1" r="2.8"/><circle cx="1938.9" cy="323.4" r="2.8"/><circle cx="1929.9" cy="331.5" r="2.8"/><circle cx="1936.8" cy="400.3" r="2.8"/><circle cx="1930.7" cy="357.9" r="2.8"/><circle cx="1921.9" cy="354.1" r="2.8"/><circle cx="1926.9" cy="371.1" r="2.8"/><circle cx="1936.9" cy="406.3" r="2.8"/><circle cx="1927.8" cy="369.2" r="2.8"/><circle cx="1937.0" cy="351.2" r="2.8"/><circle cx="1935.5" cy="367.5" r="2.8"/><circle cx="1930.1" cy="416.2" r="2.8"/><circle cx="1917.5" cy="354.8" r="2.8"/><circle cx="1935.6" cy="390.5" r="2.8"/><circle cx="1927.0" cy="393.7" r="2.8"/><circle cx="1931.8" cy="403.4" r="2.8"/><circle cx="1930.9" cy="350.2" r="2.8"/><circle cx="1941.0" cy="326.8" r="2.8"/><circle cx="1929.5" cy="326.1" r="2.8"/><circle cx="1940.8" cy="368.0" r="2.8"/><circle cx="1916.2" cy="398.9" r="2.8"/><circle cx="1917.7" cy="354.3" r="2.8"/><circle cx="1931.3" cy="341.7" r="2.8"/><circle cx="1928.4" cy="385.7" r="2.8"/><circle cx="1934.1" cy="398.7" r="2.8"/><circle cx="1934.1" cy="342.0" r="2.8"/><circle cx="1934.2" cy="357.6" r="2.8"/><circle cx="1930.1" cy="349.7" r="2.8"/><circle cx="1913.6" cy="363.5" r="2.8"/><circle cx="1923.6" cy="346.2" r="2.8"/><circle cx="1928.3" cy="368.7" r="2.8"/><circle cx="1938.8" cy="343.4" r="2.8"/><circle cx="1937.8" cy="345.1" r="2.8"/><circle cx="1939.8" cy="318.1" r="2.8"/><circle cx="1931.3" cy="386.3" r="2.8"/><circle cx="1940.5" cy="318.9" r="2.8"/><circle cx="1916.2" cy="357.3" r="2.8"/><circle cx="1936.2" cy="383.4" r="2.8"/><circle cx="1941.8" cy="394.0" r="2.8"/><circle cx="1924.3" cy="407.9" r="2.8"/><circle cx="1940.5" cy="404.7" r="2.8"/><circle cx="1931.2" cy="362.5" r="2.8"/><circle cx="1925.6" cy="406.3" r="2.8"/><circle cx="1939.7" cy="366.1" r="2.8"/><circle cx="1931.7" cy="361.2" r="2.8"/><circle cx="1934.8" cy="386.3" r="2.8"/><circle cx="1941.3" cy="400.9" r="2.8"/><circle cx="1931.8" cy="374.1" r="2.8"/><circle cx="1916.0" cy="361.6" r="2.8"/><circle cx="1917.0" cy="355.3" r="2.8"/><circle cx="1916.2" cy="377.6" r="2.8"/><circle cx="1932.0" cy="366.3" r="2.8"/><circle cx="1924.2" cy="353.2" r="2.8"/><circle cx="1939.1" cy="380.4" r="2.8"/><circle cx="1930.9" cy="327.2" r="2.8"/><circle cx="1927.5" cy="329.6" r="2.8"/><circle cx="1920.8" cy="373.7" r="2.8"/><circle cx="1916.0" cy="336.5" r="2.8"/><circle cx="1933.4" cy="363.0" r="2.8"/><circle cx="1938.4" cy="328.8" r="2.8"/><circle cx="1929.6" cy="384.9" r="2.8"/><circle cx="1928.0" cy="327.6" r="2.8"/><circle cx="1941.1" cy="364.1" r="2.8"/><circle cx="1939.0" cy="327.4" r="2.8"/><circle cx="1919.3" cy="369.8" r="2.8"/><circle cx="1918.4" cy="402.4" r="2.8"/><circle cx="1915.8" cy="340.6" r="2.8"/><circle cx="1940.2" cy="404.4" r="2.8"/><circle cx="1931.5" cy="356.9" r="2.8"/><circle cx="1924.2" cy="402.7" r="2.8"/><circle cx="1933.5" cy="326.8" r="2.8"/><circle cx="1920.0" cy="333.8" r="2.8"/><circle cx="1924.4" cy="408.9" r="2.8"/><circle cx="1848.7" cy="306.1" r="2.8"/><circle cx="1914.8" cy="301.5" r="2.8"/><circle cx="1933.1" cy="300.1" r="2.8"/><circle cx="1934.5" cy="301.0" r="2.8"/><circle cx="1940.4" cy="311.1" r="2.8"/><circle cx="1809.7" cy="344.5" r="2.8"/><circle cx="1854.5" cy="336.0" r="2.8"/><circle cx="1874.3" cy="339.0" r="2.8"/><circle cx="1891.5" cy="328.9" r="2.8"/><circle cx="1896.1" cy="328.9" r="2.8"/><circle cx="1894.2" cy="335.8" r="2.8"/><circle cx="1898.8" cy="340.4" r="2.8"/><circle cx="1908.9" cy="326.2" r="2.8"/><circle cx="1907.5" cy="344.5" r="2.8"/><circle cx="1897.5" cy="350.4" r="2.8"/><circle cx="1908.9" cy="350.4" r="2.8"/><circle cx="1835.7" cy="355.9" r="2.8"/><circle cx="1855.7" cy="354.5" r="2.8"/><circle cx="1865.9" cy="354.5" r="2.8"/><circle cx="1897.5" cy="360.5" r="2.8"/><circle cx="1907.5" cy="361.8" r="2.8"/><circle cx="1839.8" cy="364.6" r="2.8"/><circle cx="1808.3" cy="370.5" r="2.8"/><circle cx="1880.1" cy="368.7" r="2.8"/><circle cx="1848.5" cy="374.6" r="2.8"/><circle cx="1855.7" cy="371.7" r="2.8"/><circle cx="1808.3" cy="380.6" r="2.8"/><circle cx="1860.4" cy="382.9" r="2.8"/><circle cx="1862.2" cy="381.5" r="2.8"/><circle cx="1877.3" cy="383.3" r="2.8"/><circle cx="1885.8" cy="383.3" r="2.8"/><circle cx="1893.2" cy="382.0" r="2.8"/><circle cx="1814.2" cy="389.0" r="2.8"/><circle cx="1866.8" cy="390.7" r="2.8"/><circle cx="1871.8" cy="390.7" r="2.8"/><circle cx="1880.1" cy="392.0" r="2.8"/><circle cx="1870.0" cy="399.2" r="2.8"/><circle cx="1875.0" cy="401.6" r="2.8"/><circle cx="1874.1" cy="404.8" r="2.8"/><circle cx="1893.2" cy="400.7" r="2.8"/><circle cx="1901.6" cy="396.1" r="2.8"/><circle cx="1903.4" cy="399.8" r="2.8"/><circle cx="1797.1" cy="409.1" r="2.8"/><circle cx="1804.2" cy="419.3" r="2.8"/><circle cx="1870.0" cy="417.6" r="2.8"/><circle cx="1842.9" cy="427.7" r="2.8"/><circle cx="1902.9" cy="371.4" r="2.8"/><circle cx="1906.1" cy="370.5" r="2.8"/><circle cx="1901.4" cy="386.5" r="2.8"/><circle cx="1911.6" cy="419.0" r="2.8"/><circle cx="1908.0" cy="424.5" r="2.8"/><circle cx="1907.1" cy="427.2" r="2.8"/><circle cx="1917.6" cy="422.2" r="2.8"/><circle cx="1927.6" cy="429.5" r="2.8"/><circle cx="1933.6" cy="423.6" r="2.8"/><circle cx="1935.4" cy="417.2" r="2.8"/><circle cx="1913.5" cy="408.9" r="2.8"/><circle cx="1918.0" cy="408.0" r="2.8"/><circle cx="1519.5" cy="337.4" r="2.8"/><circle cx="1538.1" cy="307.1" r="2.8"/><circle cx="1602.8" cy="350.5" r="2.8"/><circle cx="1665.8" cy="374.6" r="2.8"/><circle cx="1702.0" cy="360.5" r="2.8"/><circle cx="1762.2" cy="343.2" r="2.8"/><circle cx="1766.4" cy="397.6" r="2.8"/><circle cx="1756.4" cy="408.0" r="2.8"/><circle cx="1775.6" cy="351.8" r="2.8"/><circle cx="1775.3" cy="353.6" r="2.8"/><circle cx="1777.7" cy="369.1" r="2.8"/><circle cx="1785.3" cy="337.4" r="2.8"/></g><path d="M1497.80,241.70H1979.20" stroke="#888888" stroke-width="2.2" stroke-dasharray="7.7 4.05" fill="none"/><path d="M1943.34,57.80V447.60" stroke="#888888" stroke-width="2.2" stroke-dasharray="7.7 4.05" fill="none"/><g font-family="DejaVu Sans, sans-serif" font-size="15.0" fill="#444444"><path d="M1497.80,57.80V447.60H1979.20" fill="none" stroke="#4d4d4d" stroke-width="1.8"/><path d="M1540.90,447.60v4.90M1600.26,447.60v4.90M1659.61,447.60v4.90M1718.97,447.60v4.90M1778.33,447.60v4.90M1837.69,447.60v4.90M1897.04,447.60v4.90M1956.40,447.60v4.90M1497.80,382.90h-4.90M1497.80,312.30h-4.90M1497.80,241.70h-4.90M1497.80,171.10h-4.90M1497.80,100.50h-4.90" stroke="#4d4d4d" stroke-width="1.8"/><text x="1540.90" y="468.60" text-anchor="middle">30</text><text x="1600.26" y="468.60" text-anchor="middle">40</text><text x="1659.61" y="468.60" text-anchor="middle">50</text><text x="1718.97" y="468.60" text-anchor="middle">60</text><text x="1778.33" y="468.60" text-anchor="middle">70</text><text x="1837.69" y="468.60" text-anchor="middle">80</text><text x="1897.04" y="468.60" text-anchor="middle">90</text><text x="1956.40" y="468.60" text-anchor="middle">100</text><text x="1486.00" y="388.45" text-anchor="end">−0.2</text><text x="1486.00" y="317.85" text-anchor="end">−0.1</text><text x="1486.00" y="247.25" text-anchor="end">0.0</text><text x="1486.00" y="176.65" text-anchor="end">0.1</text><text x="1486.00" y="106.05" text-anchor="end">0.2</text></g><text x="1738.50" y="491.90" text-anchor="middle" font-family="DejaVu Sans, sans-serif" font-size="18.4" fill="#444444">SPO2</text><g fill="#1E88E5"><circle cx="153.3" cy="692.7" r="2.8"/><circle cx="171.4" cy="667.2" r="2.8"/><circle cx="166.4" cy="637.8" r="2.8"/><circle cx="169.5" cy="617.6" r="2.8"/><circle cx="177.5" cy="637.4" r="2.8"/><circle cx="166.1" cy="623.3" r="2.8"/><circle cx="183.6" cy="653.8" r="2.8"/><circle cx="160.2" cy="667.9" r="2.8"/><circle cx="180.3" cy="637.7" r="2.8"/><circle cx="177.0" cy="634.5" r="2.8"/><circle cx="178.8" cy="633.6" r="2.8"/><circle cx="162.7" cy="653.5" r="2.8"/><circle cx="164.3" cy="655.9" r="2.8"/><circle cx="166.1" cy="668.7" r="2.8"/><circle cx="158.8" cy="621.7" r="2.8"/><circle cx="149.5" cy="707.7" r="2.8"/><circle cx="176.9" cy="654.6" r="2.8"/><circle cx="180.9" cy="668.7" r="2.8"/><circle cx="161.4" cy="639.2" r="2.8"/><circle cx="180.7" cy="628.9" r="2.8"/><circle cx="149.6" cy="706.7" r="2.8"/><circle cx="176.7" cy="667.7" r="2.8"/><circle cx="156.9" cy="644.3" r="2.8"/><circle cx="163.1" cy="629.9" r="2.8"/><circle cx="179.6" cy="646.5" r="2.8"/><circle cx="167.5" cy="642.6" r="2.8"/><circle cx="147.9" cy="681.1" r="2.8"/><circle cx="169.5" cy="640.4" r="2.8"/><circle cx="181.8" cy="625.4" r="2.8"/><circle cx="172.2" cy="624.6" r="2.8"/><circle cx="167.7" cy="648.5" r="2.8"/><circle cx="166.0" cy="635.8" r="2.8"/><circle cx="149.4" cy="701.7" r="2.8"/><circle cx="153.7" cy="695.4" r="2.8"/><circle cx="159.0" cy="614.3" r="2.8"/><circle cx="161.9" cy="646.7" r="2.8"/><circle cx="181.6" cy="645.0" r="2.8"/><circle cx="170.1" cy="670.8" r="2.8"/><circle cx="149.4" cy="707.9" r="2.8"/><circle cx="184.6" cy="652.2" r="2.8"/><circle cx="149.8" cy="707.8" r="2.8"/><circle cx="176.2" cy="663.5" r="2.8"/><circle cx="170.9" cy="611.6" r="2.8"/><circle cx="171.8" cy="662.8" r="2.8"/><circle cx="166.9" cy="656.4" r="2.8"/><circle cx="162.4" cy="636.5" r="2.8"/><circle cx="164.5" cy="637.9" r="2.8"/><circle cx="161.8" cy="668.2" r="2.8"/><circle cx="159.0" cy="647.0" r="2.8"/><circle cx="162.0" cy="626.8" r="2.8"/><circle cx="168.3" cy="618.9" r="2.8"/><circle cx="175.5" cy="665.2" r="2.8"/><circle cx="174.1" cy="634.2" r="2.8"/><circle cx="173.2" cy="640.8" r="2.8"/><circle cx="183.6" cy="648.2" r="2.8"/><circle cx="152.9" cy="691.7" r="2.8"/><circle cx="154.7" cy="681.6" r="2.8"/><circle cx="157.6" cy="655.1" r="2.8"/><circle cx="157.8" cy="630.3" r="2.8"/><circle cx="161.8" cy="642.2" r="2.8"/><circle cx="148.3" cy="707.4" r="2.8"/><circle cx="148.5" cy="682.8" r="2.8"/><circle cx="173.9" cy="638.3" r="2.8"/><circle cx="161.2" cy="625.6" r="2.8"/><circle cx="168.2" cy="636.5" r="2.8"/><circle cx="147.6" cy="679.7" r="2.8"/><circle cx="150.1" cy="718.2" r="2.8"/><circle cx="170.8" cy="666.3" r="2.8"/><circle cx="177.8" cy="650.2" r="2.8"/><circle cx="157.3" cy="652.0" r="2.8"/><circle cx="173.1" cy="632.2" r="2.8"/><circle cx="157.4" cy="616.3" r="2.8"/><circle cx="150.0" cy="709.4" r="2.8"/><circle cx="160.5" cy="673.7" r="2.8"/><circle cx="171.1" cy="630.3" r="2.8"/><circle cx="173.1" cy="635.5" r="2.8"/><circle cx="171.9" cy="628.8" r="2.8"/><circle cx="180.9" cy="634.3" r="2.8"/><circle cx="180.9" cy="653.1" r="2.8"/><circle cx="153.8" cy="674.6" r="2.8"/><circle cx="178.3" cy="653.1" r="2.8"/><circle cx="148.0" cy="689.8" r="2.8"/><circle cx="172.0" cy="639.9" r="2.8"/><circle cx="163.5" cy="655.0" r="2.8"/><circle cx="165.8" cy="641.4" r="2.8"/><circle cx="167.7" cy="664.8" r="2.8"/><circle cx="148.3" cy="708.9" r="2.8"/><circle cx="166.2" cy="665.1" r="2.8"/><circle cx="161.4" cy="639.5" r="2.8"/><circle cx="182.7" cy="633.3" r="2.8"/><circle cx="171.3" cy="626.9" r="2.8"/><circle cx="178.9" cy="641.3" r="2.8"/><circle cx="173.2" cy="645.0" r="2.8"/><circle cx="155.4" cy="634.3" r="2.8"/><circle cx="161.1" cy="632.6" r="2.8"/><circle cx="173.8" cy="659.3" r="2.8"/><circle cx="151.7" cy="715.8" r="2.8"/><circle cx="172.2" cy="611.8" r="2.8"/><circle cx="164.0" cy="669.8" r="2.8"/><circle cx="184.0" cy="654.5" r="2.8"/><circle cx="161.0" cy="651.2" r="2.8"/><circle cx="164.5" cy="671.4" r="2.8"/><circle cx="147.7" cy="687.1" r="2.8"/><circle cx="164.5" cy="636.0" r="2.8"/><circle cx="159.5" cy="649.0" r="2.8"/><circle cx="155.5" cy="622.8" r="2.8"/><circle cx="167.5" cy="623.2" r="2.8"/><circle cx="167.7" cy="619.5" r="2.8"/><circle cx="169.3" cy="631.3" r="2.8"/><circle cx="151.3" cy="689.4" r="2.8"/><circle cx="164.0" cy="637.3" r="2.8"/><circle cx="171.1" cy="666.6" r="2.8"/><circle cx="168.4" cy="653.3" r="2.8"/><circle cx="154.6" cy="669.1" r="2.8"/><circle cx="158.7" cy="649.2" r="2.8"/><circle cx="163.3" cy="633.5" r="2.8"/><circle cx="180.4" cy="650.0" r="2.8"/><circle cx="172.6" cy="637.1" r="2.8"/><circle cx="172.0" cy="663.7" r="2.8"/><circle cx="161.4" cy="643.1" r="2.8"/><circle cx="173.6" cy="667.4" r="2.8"/><circle cx="179.5" cy="626.9" r="2.8"/><circle cx="180.8" cy="639.0" r="2.8"/><circle cx="171.1" cy="642.3" r="2.8"/><circle cx="158.3" cy="624.9" r="2.8"/><circle cx="161.8" cy="625.8" r="2.8"/><circle cx="148.8" cy="686.3" r="2.8"/><circle cx="158.4" cy="663.2" r="2.8"/><circle cx="174.4" cy="659.3" r="2.8"/><circle cx="184.6" cy="640.4" r="2.8"/><circle cx="171.0" cy="647.1" r="2.8"/><circle cx="183.0" cy="651.9" r="2.8"/><circle cx="177.9" cy="630.2" r="2.8"/><circle cx="170.9" cy="629.7" r="2.8"/><circle cx="176.2" cy="621.0" r="2.8"/><circle cx="182.7" cy="646.6" r="2.8"/><circle cx="156.7" cy="635.5" r="2.8"/><circle cx="175.0" cy="638.8" r="2.8"/><circle cx="159.3" cy="646.1" r="2.8"/><circle cx="177.2" cy="631.9" r="2.8"/><circle cx="150.2" cy="695.8" r="2.8"/><circle cx="153.4" cy="675.7" r="2.8"/><circle cx="151.6" cy="706.6" r="2.8"/><circle cx="158.9" cy="626.4" r="2.8"/><circle cx="149.4" cy="724.4" r="2.8"/><circle cx="169.1" cy="653.2" r="2.8"/><circle cx="170.3" cy="657.5" r="2.8"/><circle cx="176.4" cy="636.5" r="2.8"/><circle cx="149.6" cy="719.6" r="2.8"/><circle cx="159.0" cy="640.9" r="2.8"/><circle cx="160.5" cy="674.3" r="2.8"/><circle cx="160.1" cy="644.5" r="2.8"/><circle cx="173.4" cy="647.4" r="2.8"/><circle cx="174.8" cy="641.4" r="2.8"/><circle cx="175.8" cy="660.5" r="2.8"/><circle cx="167.6" cy="639.3" r="2.8"/><circle cx="184.2" cy="633.8" r="2.8"/><circle cx="156.1" cy="661.3" r="2.8"/><circle cx="172.9" cy="640.8" r="2.8"/><circle cx="173.6" cy="661.4" r="2.8"/><circle cx="161.5" cy="633.1" r="2.8"/><circle cx="179.9" cy="668.8" r="2.8"/><circle cx="161.4" cy="650.5" r="2.8"/><circle cx="163.4" cy="616.2" r="2.8"/><circle cx="156.0" cy="631.7" r="2.8"/><circle cx="153.6" cy="681.3" r="2.8"/><circle cx="150.2" cy="725.1" r="2.8"/><circle cx="179.6" cy="667.5" r="2.8"/><circle cx="178.5" cy="665.4" r="2.8"/><circle cx="154.1" cy="680.2" r="2.8"/><circle cx="171.7" cy="663.5" r="2.8"/><circle cx="154.8" cy="671.5" r="2.8"/><circle cx="159.9" cy="623.2" r="2.8"/><circle cx="165.3" cy="619.4" r="2.8"/><circle cx="175.0" cy="657.9" r="2.8"/><circle cx="167.1" cy="639.6" r="2.8"/><circle cx="160.7" cy="669.6" r="2.8"/><circle cx="159.2" cy="621.5" r="2.8"/><circle cx="149.1" cy="705.4" r="2.8"/><circle cx="174.2" cy="641.4" r="2.8"/><circle cx="165.1" cy="642.1" r="2.8"/><circle cx="177.6" cy="660.9" r="2.8"/><circle cx="176.9" cy="655.3" r="2.8"/><circle cx="181.8" cy="632.2" r="2.8"/><circle cx="176.1" cy="643.5" r="2.8"/><circle cx="159.6" cy="636.8" r="2.8"/><circle cx="152.3" cy="675.4" r="2.8"/><circle cx="182.7" cy="633.6" r="2.8"/><circle cx="175.9" cy="626.8" r="2.8"/><circle cx="177.9" cy="657.6" r="2.8"/><circle cx="165.9" cy="659.6" r="2.8"/><circle cx="155.7" cy="642.7" r="2.8"/><circle cx="154.9" cy="629.6" r="2.8"/><circle cx="175.1" cy="615.5" r="2.8"/><circle cx="182.6" cy="643.3" r="2.8"/><circle cx="150.6" cy="679.8" r="2.8"/><circle cx="179.0" cy="638.8" r="2.8"/><circle cx="165.6" cy="655.6" r="2.8"/><circle cx="160.3" cy="654.5" r="2.8"/><circle cx="169.3" cy="641.9" r="2.8"/><circle cx="171.2" cy="615.3" r="2.8"/><circle cx="175.6" cy="646.4" r="2.8"/><circle cx="174.6" cy="625.2" r="2.8"/><circle cx="170.0" cy="629.7" r="2.8"/><circle cx="179.6" cy="656.3" r="2.8"/><circle cx="184.6" cy="640.6" r="2.8"/><circle cx="177.5" cy="651.2" r="2.8"/><circle cx="156.6" cy="668.0" r="2.8"/><circle cx="155.3" cy="628.2" r="2.8"/><circle cx="153.3" cy="673.4" r="2.8"/><circle cx="165.4" cy="640.6" r="2.8"/><circle cx="182.3" cy="626.6" r="2.8"/><circle cx="171.4" cy="633.6" r="2.8"/><circle cx="158.5" cy="655.9" r="2.8"/><circle cx="180.7" cy="641.5" r="2.8"/><circle cx="169.2" cy="658.6" r="2.8"/><circle cx="171.8" cy="647.3" r="2.8"/><circle cx="177.7" cy="628.2" r="2.8"/><circle cx="172.9" cy="664.1" r="2.8"/><circle cx="166.9" cy="662.0" r="2.8"/><circle cx="171.8" cy="627.1" r="2.8"/><circle cx="180.5" cy="671.9" r="2.8"/><circle cx="163.4" cy="641.4" r="2.8"/><circle cx="183.0" cy="643.7" r="2.8"/><circle cx="175.0" cy="650.9" r="2.8"/><circle cx="153.7" cy="695.3" r="2.8"/><circle cx="161.5" cy="618.5" r="2.8"/><circle cx="147.8" cy="688.8" r="2.8"/><circle cx="151.4" cy="701.7" r="2.8"/><circle cx="153.4" cy="696.3" r="2.8"/><circle cx="149.7" cy="683.6" r="2.8"/><circle cx="150.0" cy="717.1" r="2.8"/><circle cx="152.1" cy="692.3" r="2.8"/><circle cx="181.6" cy="633.2" r="2.8"/><circle cx="171.8" cy="651.0" r="2.8"/><circle cx="177.0" cy="646.8" r="2.8"/><circle cx="160.7" cy="657.2" r="2.8"/><circle cx="174.5" cy="640.7" r="2.8"/><circle cx="168.5" cy="664.0" r="2.8"/><circle cx="171.5" cy="664.8" r="2.8"/><circle cx="150.0" cy="687.6" r="2.8"/><circle cx="177.9" cy="651.6" r="2.8"/><circle cx="150.4" cy="713.3" r="2.8"/><circle cx="159.0" cy="667.4" r="2.8"/><circle cx="179.8" cy="653.7" r="2.8"/><circle cx="179.6" cy="627.7" r="2.8"/><circle cx="168.2" cy="661.6" r="2.8"/><circle cx="160.3" cy="663.0" r="2.8"/><circle cx="170.1" cy="663.3" r="2.8"/><circle cx="168.7" cy="626.7" r="2.8"/><circle cx="163.7" cy="643.8" r="2.8"/><circle cx="161.3" cy="642.7" r="2.8"/><circle cx="165.4" cy="648.5" r="2.8"/><circle cx="158.8" cy="661.9" r="2.8"/><circle cx="176.5" cy="661.3" r="2.8"/><circle cx="157.6" cy="675.8" r="2.8"/><circle cx="154.5" cy="684.0" r="2.8"/><circle cx="161.1" cy="664.3" r="2.8"/><circle cx="177.9" cy="645.7" r="2.8"/><circle cx="150.7" cy="707.9" r="2.8"/><circle cx="170.3" cy="662.3" r="2.8"/><circle cx="178.9" cy="639.2" r="2.8"/><circle cx="167.0" cy="665.9" r="2.8"/><circle cx="164.2" cy="652.7" r="2.8"/><circle cx="160.8" cy="636.9" r="2.8"/><circle cx="169.3" cy="655.7" r="2.8"/><circle cx="151.9" cy="689.0" r="2.8"/><circle cx="184.7" cy="644.3" r="2.8"/><circle cx="157.3" cy="649.3" r="2.8"/><circle cx="181.5" cy="642.8" r="2.8"/><circle cx="173.7" cy="665.8" r="2.8"/><circle cx="165.0" cy="643.7" r="2.8"/><circle cx="174.5" cy="664.4" r="2.8"/><circle cx="169.6" cy="646.1" r="2.8"/><circle cx="162.5" cy="661.5" r="2.8"/><circle cx="182.3" cy="628.2" r="2.8"/><circle cx="169.7" cy="620.2" r="2.8"/><circle cx="156.6" cy="652.0" r="2.8"/><circle cx="174.4" cy="660.2" r="2.8"/><circle cx="175.5" cy="656.7" r="2.8"/><circle cx="183.2" cy="638.8" r="2.8"/><circle cx="166.7" cy="660.4" r="2.8"/><circle cx="177.4" cy="625.1" r="2.8"/><circle cx="168.0" cy="664.2" r="2.8"/><circle cx="171.0" cy="637.4" r="2.8"/><circle cx="151.4" cy="682.2" r="2.8"/><circle cx="167.0" cy="645.3" r="2.8"/><circle cx="170.3" cy="664.8" r="2.8"/><circle cx="177.5" cy="623.7" r="2.8"/><circle cx="176.6" cy="638.1" r="2.8"/><circle cx="158.1" cy="664.6" r="2.8"/><circle cx="181.4" cy="631.8" r="2.8"/><circle cx="178.6" cy="659.4" r="2.8"/><circle cx="156.8" cy="646.1" r="2.8"/><circle cx="178.8" cy="650.9" r="2.8"/><circle cx="160.2" cy="621.9" r="2.8"/><circle cx="160.7" cy="630.3" r="2.8"/><circle cx="168.2" cy="621.3" r="2.8"/><circle cx="154.7" cy="656.4" r="2.8"/><circle cx="154.4" cy="674.2" r="2.8"/><circle cx="158.2" cy="675.8" r="2.8"/><circle cx="180.7" cy="660.7" r="2.8"/><circle cx="176.4" cy="628.0" r="2.8"/><circle cx="165.0" cy="631.7" r="2.8"/><circle cx="180.0" cy="652.5" r="2.8"/><circle cx="182.1" cy="647.3" r="2.8"/><circle cx="178.8" cy="624.3" r="2.8"/><circle cx="171.1" cy="659.4" r="2.8"/><circle cx="178.6" cy="636.2" r="2.8"/><circle cx="150.4" cy="683.4" r="2.8"/><circle cx="174.4" cy="621.0" r="2.8"/><circle cx="169.2" cy="654.2" r="2.8"/><circle cx="179.4" cy="627.7" r="2.8"/><circle cx="173.0" cy="624.0" r="2.8"/><circle cx="148.2" cy="698.4" r="2.8"/><circle cx="177.3" cy="663.0" r="2.8"/><circle cx="153.7" cy="690.9" r="2.8"/><circle cx="177.5" cy="663.4" r="2.8"/><circle cx="161.7" cy="625.2" r="2.8"/><circle cx="160.7" cy="666.9" r="2.8"/><circle cx="179.5" cy="660.3" r="2.8"/><circle cx="164.3" cy="624.9" r="2.8"/><circle cx="154.7" cy="662.2" r="2.8"/><circle cx="174.0" cy="618.2" r="2.8"/><circle cx="177.1" cy="628.8" r="2.8"/><circle cx="171.5" cy="660.3" r="2.8"/><circle cx="183.7" cy="641.2" r="2.8"/><circle cx="169.7" cy="633.6" r="2.8"/><circle cx="151.2" cy="705.6" r="2.8"/><circle cx="167.0" cy="648.5" r="2.8"/><circle cx="174.3" cy="628.4" r="2.8"/><circle cx="169.2" cy="624.0" r="2.8"/><circle cx="177.9" cy="666.6" r="2.8"/><circle cx="148.9" cy="721.3" r="2.8"/><circle cx="176.9" cy="664.1" r="2.8"/><circle cx="147.3" cy="646.2" r="2.8"/><circle cx="146.2" cy="654.1" r="2.8"/><circle cx="146.2" cy="657.5" r="2.8"/><circle cx="146.6" cy="666.6" r="2.8"/><circle cx="158.1" cy="609.2" r="2.8"/><circle cx="170.0" cy="610.4" r="2.8"/><circle cx="176.8" cy="614.9" r="2.8"/><circle cx="180.9" cy="673.7" r="2.8"/><circle cx="149.2" cy="731.1" r="2.8"/><circle cx="185.1" cy="765.6" r="2.8"/><circle cx="206.4" cy="769.5" r="2.8"/><circle cx="268.4" cy="781.1" r="2.8"/><circle cx="355.5" cy="792.7" r="2.8"/><circle cx="471.4" cy="785.8" r="2.8"/><circle cx="471.4" cy="804.4" r="2.8"/><circle cx="202.2" cy="795.8" r="2.8"/><circle cx="189.8" cy="812.9" r="2.8"/><circle cx="194.8" cy="808.2" r="2.8"/><circle cx="198.3" cy="812.9" r="2.8"/><circle cx="189.8" cy="819.8" r="2.8"/><circle cx="233.5" cy="812.1" r="2.8"/><circle cx="229.3" cy="801.3" r="2.8"/><circle cx="420.2" cy="818.7" r="2.8"/><circle cx="420.2" cy="831.5" r="2.8"/><circle cx="189.0" cy="833.4" r="2.8"/><circle cx="193.7" cy="833.4" r="2.8"/><circle cx="196.8" cy="830.7" r="2.8"/><circle cx="203.3" cy="840.0" r="2.8"/><circle cx="209.1" cy="843.1" r="2.8"/><circle cx="213.0" cy="844.2" r="2.8"/><circle cx="187.8" cy="845.0" r="2.8"/><circle cx="193.7" cy="845.0" r="2.8"/><circle cx="229.3" cy="852.8" r="2.8"/><circle cx="225.4" cy="854.7" r="2.8"/><circle cx="220.0" cy="860.5" r="2.8"/><circle cx="222.7" cy="861.7" r="2.8"/><circle cx="218.8" cy="876.0" r="2.8"/><circle cx="215.0" cy="907.0" r="2.8"/><circle cx="216.1" cy="904.3" r="2.8"/><circle cx="212.2" cy="928.3" r="2.8"/><circle cx="205.3" cy="963.1" r="2.8"/><circle cx="189.0" cy="860.5" r="2.8"/><circle cx="190.6" cy="872.1" r="2.8"/><circle cx="192.5" cy="879.9" r="2.8"/><circle cx="193.7" cy="887.6" r="2.8"/><circle cx="192.5" cy="903.1" r="2.8"/><circle cx="193.7" cy="918.6" r="2.8"/><circle cx="188.6" cy="883.7" r="2.8"/><circle cx="229.7" cy="865.5" r="2.8"/><circle cx="233.5" cy="884.9" r="2.8"/><circle cx="247.9" cy="896.5" r="2.8"/><circle cx="246.7" cy="891.5" r="2.8"/><circle cx="255.6" cy="837.3" r="2.8"/><circle cx="256.8" cy="850.8" r="2.8"/><circle cx="258.7" cy="855.9" r="2.8"/><circle cx="262.6" cy="892.7" r="2.8"/><circle cx="262.6" cy="918.6" r="2.8"/><circle cx="268.4" cy="859.7" r="2.8"/><circle cx="270.0" cy="863.2" r="2.8"/><circle cx="268.4" cy="876.0" r="2.8"/><circle cx="278.1" cy="830.3" r="2.8"/><circle cx="278.1" cy="852.8" r="2.8"/><circle cx="281.6" cy="848.9" r="2.8"/><circle cx="289.7" cy="845.0" r="2.8"/><circle cx="289.7" cy="877.2" r="2.8"/><circle cx="292.4" cy="821.8" r="2.8"/><circle cx="299.4" cy="832.2" r="2.8"/><circle cx="304.0" cy="858.6" r="2.8"/><circle cx="311.0" cy="821.0" r="2.8"/><circle cx="315.7" cy="858.6" r="2.8"/><circle cx="321.1" cy="874.8" r="2.8"/><circle cx="321.1" cy="838.4" r="2.8"/><circle cx="324.2" cy="838.4" r="2.8"/><circle cx="327.7" cy="848.1" r="2.8"/><circle cx="331.1" cy="852.8" r="2.8"/><circle cx="333.1" cy="843.9" r="2.8"/><circle cx="336.2" cy="838.4" r="2.8"/><circle cx="339.3" cy="842.3" r="2.8"/><circle cx="339.7" cy="863.2" r="2.8"/><circle cx="347.0" cy="861.7" r="2.8"/><circle cx="345.9" cy="843.1" r="2.8"/><circle cx="352.8" cy="793.5" r="2.8"/><circle cx="353.6" cy="829.5" r="2.8"/><circle cx="355.5" cy="840.4" r="2.8"/><circle cx="355.5" cy="850.8" r="2.8"/><circle cx="355.5" cy="857.8" r="2.8"/><circle cx="355.5" cy="870.2" r="2.8"/><circle cx="357.5" cy="903.1" r="2.8"/><circle cx="359.0" cy="936.8" r="2.8"/><circle cx="358.6" cy="818.7" r="2.8"/><circle cx="361.4" cy="903.1" r="2.8"/><circle cx="364.1" cy="840.4" r="2.8"/><circle cx="364.1" cy="855.9" r="2.8"/><circle cx="366.0" cy="854.7" r="2.8"/><circle cx="367.6" cy="878.7" r="2.8"/><circle cx="373.0" cy="825.7" r="2.8"/><circle cx="376.8" cy="911.6" r="2.8"/><circle cx="377.6" cy="932.2" r="2.8"/><circle cx="380.3" cy="858.6" r="2.8"/><circle cx="392.0" cy="903.1" r="2.8"/><circle cx="408.6" cy="868.3" r="2.8"/><circle cx="418.3" cy="868.3" r="2.8"/><circle cx="422.2" cy="871.0" r="2.8"/><circle cx="436.5" cy="876.0" r="2.8"/><circle cx="444.6" cy="840.0" r="2.8"/><circle cx="446.2" cy="888.8" r="2.8"/><circle cx="451.2" cy="878.7" r="2.8"/><circle cx="458.2" cy="878.7" r="2.8"/><circle cx="463.6" cy="863.2" r="2.8"/><circle cx="466.7" cy="883.0" r="2.8"/><circle cx="508.1" cy="855.9" r="2.8"/><circle cx="536.4" cy="872.9" r="2.8"/><circle cx="582.1" cy="877.2" r="2.8"/></g><path d="M125.10,693.85H605.00" stroke="#888888" stroke-width="2.2" stroke-dasharray="7.7 4.05" fill="none"/><path d="M186.12,592.10V981.70" stroke="#888888" stroke-width="2.2" stroke-dasharray="7.7 4.05" fill="none"/><g font-family="DejaVu Sans, sans-serif" font-size="14.4" fill="#444444"><path d="M125.10,592.10V981.70H605.00" fill="none" stroke="#4d4d4d" stroke-width="1.8"/><path d="M143.30,981.70v4.90M224.10,981.70v4.90M304.90,981.70v4.90M385.70,981.70v4.90M466.50,981.70v4.90M547.30,981.70v4.90M125.10,981.70h-4.90M125.10,933.73h-4.90M125.10,885.75h-4.90M125.10,837.78h-4.90M125.10,789.80h-4.90M125.10,741.83h-4.90M125.10,693.85h-4.90M125.10,645.88h-4.90M125.10,597.90h-4.90" stroke="#4d4d4d" stroke-width="1.8"/><text x="143.30" y="1002.70" text-anchor="middle">0</text><text x="224.10" y="1002.70" text-anchor="middle">50</text><text x="304.90" y="1002.70" text-anchor="middle">100</text><text x="385.70" y="1002.70" text-anchor="middle">150</text><text x="466.50" y="1002.70" text-anchor="middle">200</text><text x="547.30" y="1002.70" text-anchor="middle">250</text><text x="113.30" y="987.03" text-anchor="end">−0.6</text><text x="113.30" y="939.05" text-anchor="end">−0.5</text><text x="113.30" y="891.08" text-anchor="end">−0.4</text><text x="113.30" y="843.10" text-anchor="end">−0.3</text><text x="113.30" y="795.13" text-anchor="end">−0.2</text><text x="113.30" y="747.15" text-anchor="end">−0.1</text><text x="113.30" y="699.18" text-anchor="end">0.0</text><text x="113.30" y="651.20" text-anchor="end">0.1</text><text x="113.30" y="603.23" text-anchor="end">0.2</text></g><text x="365.05" y="1026.00" text-anchor="middle" font-family="DejaVu Sans, sans-serif" font-size="17.7" fill="#444444">lactate</text><g fill="#1E88E5"><circle cx="848.9" cy="589.2" r="2.8"/><circle cx="856.3" cy="599.9" r="2.8"/><circle cx="842.7" cy="608.8" r="2.8"/><circle cx="863.9" cy="611.8" r="2.8"/><circle cx="871.5" cy="615.0" r="2.8"/><circle cx="885.2" cy="607.5" r="2.8"/><circle cx="889.7" cy="595.3" r="2.8"/><circle cx="883.5" cy="618.2" r="2.8"/><circle cx="900.3" cy="611.8" r="2.8"/><circle cx="922.8" cy="587.6" r="2.8"/><circle cx="921.5" cy="598.3" r="2.8"/><circle cx="910.7" cy="622.5" r="2.8"/><circle cx="918.9" cy="623.8" r="2.8"/><circle cx="920.2" cy="625.8" r="2.8"/><circle cx="926.0" cy="624.1" r="2.8"/><circle cx="913.9" cy="630.1" r="2.8"/><circle cx="917.3" cy="634.7" r="2.8"/><circle cx="917.5" cy="642.1" r="2.8"/><circle cx="920.2" cy="642.1" r="2.8"/><circle cx="897.3" cy="645.0" r="2.8"/><circle cx="916.9" cy="657.2" r="2.8"/><circle cx="900.3" cy="658.7" r="2.8"/><circle cx="866.9" cy="657.2" r="2.8"/><circle cx="882.0" cy="663.3" r="2.8"/><circle cx="923.0" cy="667.4" r="2.8"/><circle cx="927.7" cy="672.2" r="2.8"/><circle cx="926.0" cy="675.5" r="2.8"/><circle cx="862.6" cy="675.2" r="2.8"/><circle cx="879.0" cy="680.0" r="2.8"/><circle cx="900.3" cy="684.2" r="2.8"/><circle cx="873.1" cy="696.4" r="2.8"/><circle cx="912.3" cy="695.1" r="2.8"/><circle cx="929.1" cy="698.1" r="2.8"/><circle cx="951.8" cy="684.2" r="2.8"/><circle cx="941.1" cy="690.5" r="2.8"/><circle cx="943.7" cy="688.5" r="2.8"/><circle cx="951.8" cy="694.4" r="2.8"/><circle cx="936.5" cy="702.3" r="2.8"/><circle cx="944.4" cy="701.0" r="2.8"/><circle cx="947.6" cy="702.3" r="2.8"/><circle cx="953.5" cy="704.0" r="2.8"/><circle cx="938.5" cy="709.5" r="2.8"/><circle cx="943.7" cy="712.1" r="2.8"/><circle cx="948.9" cy="710.8" r="2.8"/><circle cx="951.5" cy="710.1" r="2.8"/><circle cx="931.9" cy="719.3" r="2.8"/><circle cx="938.5" cy="720.6" r="2.8"/><circle cx="942.4" cy="723.9" r="2.8"/><circle cx="946.3" cy="718.6" r="2.8"/><circle cx="952.2" cy="717.7" r="2.8"/><circle cx="936.5" cy="729.7" r="2.8"/><circle cx="948.9" cy="726.5" r="2.8"/><circle cx="951.5" cy="729.1" r="2.8"/><circle cx="946.3" cy="734.3" r="2.8"/><circle cx="952.2" cy="733.7" r="2.8"/><circle cx="931.9" cy="738.9" r="2.8"/><circle cx="937.2" cy="738.9" r="2.8"/><circle cx="937.8" cy="745.0" r="2.8"/><circle cx="952.2" cy="745.0" r="2.8"/><circle cx="954.8" cy="749.4" r="2.8"/><circle cx="862.6" cy="744.8" r="2.8"/><circle cx="897.3" cy="741.9" r="2.8"/><circle cx="910.7" cy="744.8" r="2.8"/><circle cx="826.7" cy="752.4" r="2.8"/><circle cx="871.5" cy="756.9" r="2.8"/><circle cx="935.2" cy="756.9" r="2.8"/><circle cx="943.7" cy="756.5" r="2.8"/><circle cx="945.7" cy="759.8" r="2.8"/><circle cx="951.8" cy="756.8" r="2.8"/><circle cx="951.5" cy="763.1" r="2.8"/><circle cx="953.5" cy="766.4" r="2.8"/><circle cx="931.9" cy="763.1" r="2.8"/><circle cx="912.3" cy="764.7" r="2.8"/><circle cx="904.5" cy="767.4" r="2.8"/><circle cx="892.7" cy="769.0" r="2.8"/><circle cx="829.7" cy="773.3" r="2.8"/><circle cx="838.4" cy="778.1" r="2.8"/><circle cx="941.3" cy="772.0" r="2.8"/><circle cx="929.1" cy="778.1" r="2.8"/><circle cx="919.9" cy="779.4" r="2.8"/><circle cx="913.9" cy="784.0" r="2.8"/><circle cx="936.5" cy="778.1" r="2.8"/><circle cx="939.8" cy="780.7" r="2.8"/><circle cx="936.5" cy="787.3" r="2.8"/><circle cx="933.2" cy="791.9" r="2.8"/><circle cx="944.4" cy="787.3" r="2.8"/><circle cx="956.5" cy="784.0" r="2.8"/><circle cx="931.9" cy="801.0" r="2.8"/><circle cx="935.9" cy="802.3" r="2.8"/><circle cx="931.9" cy="806.9" r="2.8"/><circle cx="953.5" cy="799.0" r="2.8"/><circle cx="951.8" cy="803.6" r="2.8"/><circle cx="947.4" cy="808.2" r="2.8"/><circle cx="942.4" cy="811.5" r="2.8"/><circle cx="956.5" cy="826.5" r="2.8"/><circle cx="937.4" cy="705.3" r="2.8"/><circle cx="943.6" cy="724.0" r="2.8"/><circle cx="939.4" cy="705.3" r="2.8"/><circle cx="940.9" cy="726.4" r="2.8"/><circle cx="939.6" cy="725.8" r="2.8"/><circle cx="948.0" cy="706.1" r="2.8"/><circle cx="945.9" cy="716.3" r="2.8"/><circle cx="943.9" cy="734.2" r="2.8"/><circle cx="938.7" cy="702.3" r="2.8"/><circle cx="952.5" cy="714.8" r="2.8"/><circle cx="940.4" cy="712.4" r="2.8"/><circle cx="943.1" cy="732.8" r="2.8"/><circle cx="940.6" cy="708.7" r="2.8"/><circle cx="946.7" cy="719.5" r="2.8"/><circle cx="952.8" cy="729.0" r="2.8"/><circle cx="943.0" cy="708.3" r="2.8"/><circle cx="950.8" cy="734.0" r="2.8"/><circle cx="951.4" cy="722.9" r="2.8"/><circle cx="940.7" cy="727.7" r="2.8"/><circle cx="949.1" cy="708.0" r="2.8"/><circle cx="947.6" cy="708.8" r="2.8"/><circle cx="937.8" cy="712.6" r="2.8"/><circle cx="942.6" cy="714.6" r="2.8"/><circle cx="947.7" cy="729.0" r="2.8"/><circle cx="963.3" cy="865.2" r="2.8"/><circle cx="990.5" cy="890.2" r="2.8"/><circle cx="964.7" cy="879.8" r="2.8"/><circle cx="1019.6" cy="898.2" r="2.8"/><circle cx="1013.0" cy="895.9" r="2.8"/><circle cx="981.2" cy="862.7" r="2.8"/><circle cx="969.1" cy="894.8" r="2.8"/><circle cx="995.6" cy="892.7" r="2.8"/><circle cx="979.6" cy="866.7" r="2.8"/><circle cx="985.9" cy="858.1" r="2.8"/><circle cx="989.2" cy="894.8" r="2.8"/><circle cx="987.2" cy="889.3" r="2.8"/><circle cx="977.8" cy="873.6" r="2.8"/><circle cx="1002.9" cy="901.6" r="2.8"/><circle cx="990.2" cy="901.8" r="2.8"/><circle cx="992.3" cy="879.8" r="2.8"/><circle cx="972.9" cy="873.2" r="2.8"/><circle cx="997.5" cy="895.2" r="2.8"/><circle cx="996.7" cy="902.5" r="2.8"/><circle cx="987.9" cy="858.7" r="2.8"/><circle cx="978.9" cy="862.8" r="2.8"/><circle cx="982.0" cy="858.7" r="2.8"/><circle cx="971.9" cy="893.2" r="2.8"/><circle cx="1005.1" cy="888.0" r="2.8"/><circle cx="965.7" cy="870.3" r="2.8"/><circle cx="973.2" cy="876.5" r="2.8"/><circle cx="987.5" cy="899.3" r="2.8"/><circle cx="974.7" cy="881.7" r="2.8"/><circle cx="996.5" cy="903.6" r="2.8"/><circle cx="978.9" cy="889.9" r="2.8"/><circle cx="991.2" cy="863.8" r="2.8"/><circle cx="981.9" cy="855.7" r="2.8"/><circle cx="991.4" cy="891.8" r="2.8"/><circle cx="969.8" cy="858.9" r="2.8"/><circle cx="982.7" cy="878.0" r="2.8"/><circle cx="966.6" cy="868.2" r="2.8"/><circle cx="971.6" cy="864.4" r="2.8"/><circle cx="964.0" cy="873.9" r="2.8"/><circle cx="972.5" cy="896.5" r="2.8"/><circle cx="968.2" cy="882.9" r="2.8"/><circle cx="989.0" cy="881.1" r="2.8"/><circle cx="966.2" cy="880.9" r="2.8"/><circle cx="987.3" cy="862.0" r="2.8"/><circle cx="992.2" cy="878.8" r="2.8"/><circle cx="983.8" cy="897.1" r="2.8"/><circle cx="1014.1" cy="890.1" r="2.8"/><circle cx="965.0" cy="871.8" r="2.8"/><circle cx="997.3" cy="893.5" r="2.8"/><circle cx="997.2" cy="887.5" r="2.8"/><circle cx="962.9" cy="884.9" r="2.8"/><circle cx="1001.7" cy="885.5" r="2.8"/><circle cx="1002.5" cy="897.7" r="2.8"/><circle cx="985.3" cy="888.0" r="2.8"/><circle cx="969.5" cy="885.6" r="2.8"/><circle cx="1013.5" cy="889.6" r="2.8"/><circle cx="984.5" cy="892.4" r="2.8"/><circle cx="969.1" cy="861.0" r="2.8"/><circle cx="987.2" cy="881.6" r="2.8"/><circle cx="994.4" cy="901.1" r="2.8"/><circle cx="965.9" cy="895.9" r="2.8"/><circle cx="966.0" cy="891.5" r="2.8"/><circle cx="967.2" cy="882.0" r="2.8"/><circle cx="984.9" cy="859.7" r="2.8"/><circle cx="967.4" cy="865.6" r="2.8"/><circle cx="971.1" cy="877.6" r="2.8"/><circle cx="971.9" cy="866.5" r="2.8"/><circle cx="991.8" cy="889.1" r="2.8"/><circle cx="987.3" cy="864.0" r="2.8"/><circle cx="960.2" cy="868.2" r="2.8"/><circle cx="984.8" cy="859.6" r="2.8"/><circle cx="985.9" cy="879.7" r="2.8"/><circle cx="962.4" cy="887.4" r="2.8"/><circle cx="1020.3" cy="889.3" r="2.8"/><circle cx="987.4" cy="895.8" r="2.8"/><circle cx="1020.0" cy="892.4" r="2.8"/><circle cx="1019.5" cy="892.2" r="2.8"/><circle cx="979.3" cy="861.3" r="2.8"/><circle cx="989.9" cy="889.3" r="2.8"/><circle cx="975.7" cy="872.4" r="2.8"/><circle cx="975.0" cy="896.5" r="2.8"/><circle cx="972.4" cy="856.8" r="2.8"/><circle cx="961.4" cy="871.6" r="2.8"/><circle cx="963.2" cy="868.0" r="2.8"/><circle cx="964.0" cy="862.7" r="2.8"/><circle cx="970.8" cy="866.2" r="2.8"/><circle cx="1014.4" cy="896.8" r="2.8"/><circle cx="1019.8" cy="889.7" r="2.8"/><circle cx="986.3" cy="870.8" r="2.8"/><circle cx="970.9" cy="876.4" r="2.8"/><circle cx="971.2" cy="889.2" r="2.8"/><circle cx="1005.7" cy="887.1" r="2.8"/><circle cx="967.8" cy="880.2" r="2.8"/><circle cx="997.4" cy="902.2" r="2.8"/><circle cx="967.9" cy="892.8" r="2.8"/><circle cx="963.9" cy="884.2" r="2.8"/><circle cx="964.8" cy="885.8" r="2.8"/><circle cx="988.6" cy="893.8" r="2.8"/><circle cx="993.1" cy="875.5" r="2.8"/><circle cx="996.9" cy="883.5" r="2.8"/><circle cx="989.5" cy="881.8" r="2.8"/><circle cx="994.7" cy="892.7" r="2.8"/><circle cx="985.6" cy="865.4" r="2.8"/><circle cx="978.2" cy="874.3" r="2.8"/><circle cx="987.7" cy="859.9" r="2.8"/><circle cx="977.3" cy="877.2" r="2.8"/><circle cx="983.3" cy="880.8" r="2.8"/><circle cx="962.7" cy="882.2" r="2.8"/><circle cx="1017.0" cy="891.1" r="2.8"/><circle cx="994.4" cy="894.4" r="2.8"/><circle cx="982.9" cy="863.4" r="2.8"/><circle cx="976.0" cy="892.6" r="2.8"/><circle cx="991.3" cy="863.3" r="2.8"/><circle cx="972.3" cy="890.9" r="2.8"/><circle cx="1000.4" cy="899.0" r="2.8"/><circle cx="1003.8" cy="898.2" r="2.8"/><circle cx="1015.5" cy="899.7" r="2.8"/><circle cx="967.6" cy="867.0" r="2.8"/><circle cx="969.5" cy="894.9" r="2.8"/><circle cx="971.0" cy="875.0" r="2.8"/><circle cx="1016.1" cy="889.4" r="2.8"/><circle cx="1016.3" cy="901.5" r="2.8"/><circle cx="991.7" cy="869.5" r="2.8"/><circle cx="982.9" cy="878.7" r="2.8"/><circle cx="977.0" cy="879.9" r="2.8"/><circle cx="1016.8" cy="886.7" r="2.8"/><circle cx="990.8" cy="882.0" r="2.8"/><circle cx="979.3" cy="859.1" r="2.8"/><circle cx="979.9" cy="857.6" r="2.8"/><circle cx="974.8" cy="886.3" r="2.8"/><circle cx="988.7" cy="895.9" r="2.8"/><circle cx="1013.6" cy="899.3" r="2.8"/><circle cx="968.3" cy="896.3" r="2.8"/><circle cx="986.7" cy="881.4" r="2.8"/><circle cx="972.9" cy="889.5" r="2.8"/><circle cx="979.5" cy="859.0" r="2.8"/><circle cx="981.5" cy="890.9" r="2.8"/><circle cx="985.4" cy="888.7" r="2.8"/><circle cx="971.0" cy="875.1" r="2.8"/><circle cx="972.4" cy="863.5" r="2.8"/><circle cx="977.9" cy="861.6" r="2.8"/><circle cx="960.6" cy="875.7" r="2.8"/><circle cx="986.6" cy="885.1" r="2.8"/><circle cx="989.2" cy="868.5" r="2.8"/><circle cx="996.6" cy="900.5" r="2.8"/><circle cx="1010.9" cy="892.5" r="2.8"/><circle cx="1006.8" cy="887.8" r="2.8"/><circle cx="983.6" cy="884.9" r="2.8"/><circle cx="970.6" cy="893.5" r="2.8"/><circle cx="992.2" cy="872.3" r="2.8"/><circle cx="1002.2" cy="889.7" r="2.8"/><circle cx="984.7" cy="855.8" r="2.8"/><circle cx="973.3" cy="893.2" r="2.8"/><circle cx="986.2" cy="857.5" r="2.8"/><circle cx="992.3" cy="895.0" r="2.8"/><circle cx="991.6" cy="872.7" r="2.8"/><circle cx="1019.6" cy="893.9" r="2.8"/><circle cx="971.7" cy="884.8" r="2.8"/><circle cx="967.4" cy="882.7" r="2.8"/><circle cx="993.3" cy="884.2" r="2.8"/><circle cx="980.2" cy="861.9" r="2.8"/><circle cx="972.7" cy="899.7" r="2.8"/><circle cx="998.6" cy="895.8" r="2.8"/><circle cx="984.5" cy="865.3" r="2.8"/><circle cx="963.7" cy="892.9" r="2.8"/><circle cx="1014.2" cy="890.8" r="2.8"/><circle cx="972.6" cy="892.3" r="2.8"/><circle cx="971.3" cy="886.8" r="2.8"/><circle cx="968.7" cy="872.5" r="2.8"/><circle cx="978.7" cy="879.7" r="2.8"/><circle cx="982.6" cy="895.6" r="2.8"/><circle cx="998.9" cy="894.1" r="2.8"/><circle cx="969.9" cy="860.8" r="2.8"/><circle cx="1011.7" cy="898.7" r="2.8"/><circle cx="1013.6" cy="887.2" r="2.8"/><circle cx="973.6" cy="858.7" r="2.8"/><circle cx="990.2" cy="894.0" r="2.8"/><circle cx="961.6" cy="875.1" r="2.8"/><circle cx="1003.1" cy="892.1" r="2.8"/><circle cx="962.7" cy="884.7" r="2.8"/><circle cx="975.5" cy="888.4" r="2.8"/><circle cx="985.9" cy="860.0" r="2.8"/><circle cx="961.5" cy="884.6" r="2.8"/><circle cx="967.2" cy="862.1" r="2.8"/><circle cx="975.3" cy="881.1" r="2.8"/><circle cx="963.5" cy="871.0" r="2.8"/><circle cx="976.7" cy="867.1" r="2.8"/><circle cx="960.6" cy="885.8" r="2.8"/><circle cx="977.4" cy="890.0" r="2.8"/><circle cx="984.5" cy="884.8" r="2.8"/><circle cx="973.8" cy="862.4" r="2.8"/><circle cx="992.1" cy="899.4" r="2.8"/><circle cx="968.6" cy="860.0" r="2.8"/><circle cx="961.1" cy="884.0" r="2.8"/><circle cx="1000.3" cy="901.4" r="2.8"/><circle cx="966.9" cy="891.7" r="2.8"/><circle cx="986.0" cy="898.8" r="2.8"/><circle cx="1018.8" cy="885.1" r="2.8"/><circle cx="970.7" cy="894.9" r="2.8"/><circle cx="1009.6" cy="886.4" r="2.8"/><circle cx="989.8" cy="897.6" r="2.8"/><circle cx="983.4" cy="897.3" r="2.8"/><circle cx="980.3" cy="866.8" r="2.8"/><circle cx="981.1" cy="877.1" r="2.8"/><circle cx="959.0" cy="877.2" r="2.8"/><circle cx="971.5" cy="897.7" r="2.8"/><circle cx="1001.8" cy="887.8" r="2.8"/><circle cx="982.8" cy="866.3" r="2.8"/><circle cx="981.1" cy="858.6" r="2.8"/><circle cx="971.2" cy="857.2" r="2.8"/><circle cx="984.1" cy="882.1" r="2.8"/><circle cx="1008.1" cy="895.9" r="2.8"/><circle cx="993.3" cy="902.5" r="2.8"/><circle cx="973.4" cy="866.5" r="2.8"/><circle cx="971.5" cy="898.5" r="2.8"/><circle cx="998.4" cy="884.9" r="2.8"/><circle cx="997.2" cy="897.0" r="2.8"/><circle cx="982.0" cy="868.1" r="2.8"/><circle cx="991.8" cy="875.7" r="2.8"/><circle cx="990.5" cy="870.4" r="2.8"/><circle cx="988.7" cy="876.7" r="2.8"/><circle cx="990.8" cy="872.1" r="2.8"/><circle cx="991.1" cy="865.4" r="2.8"/><circle cx="983.7" cy="860.1" r="2.8"/><circle cx="963.5" cy="872.6" r="2.8"/><circle cx="978.5" cy="867.2" r="2.8"/><circle cx="1019.7" cy="897.1" r="2.8"/><circle cx="1020.9" cy="891.4" r="2.8"/><circle cx="987.0" cy="862.4" r="2.8"/><circle cx="983.9" cy="877.8" r="2.8"/><circle cx="1002.0" cy="888.2" r="2.8"/><circle cx="990.5" cy="866.1" r="2.8"/><circle cx="996.2" cy="887.6" r="2.8"/><circle cx="987.8" cy="859.0" r="2.8"/><circle cx="983.0" cy="880.5" r="2.8"/><circle cx="980.4" cy="893.0" r="2.8"/><circle cx="1005.3" cy="893.7" r="2.8"/><circle cx="1007.4" cy="894.7" r="2.8"/><circle cx="972.6" cy="867.5" r="2.8"/><circle cx="1020.9" cy="888.7" r="2.8"/><circle cx="1015.5" cy="885.1" r="2.8"/><circle cx="1020.7" cy="886.1" r="2.8"/><circle cx="982.8" cy="869.0" r="2.8"/><circle cx="1017.0" cy="892.8" r="2.8"/><circle cx="1014.0" cy="885.4" r="2.8"/><circle cx="971.9" cy="878.0" r="2.8"/><circle cx="1001.2" cy="892.5" r="2.8"/><circle cx="1019.2" cy="890.4" r="2.8"/><circle cx="974.5" cy="878.1" r="2.8"/><circle cx="979.6" cy="884.0" r="2.8"/><circle cx="1018.4" cy="890.5" r="2.8"/><circle cx="991.6" cy="875.1" r="2.8"/><circle cx="977.1" cy="871.9" r="2.8"/><circle cx="979.8" cy="882.0" r="2.8"/><circle cx="974.1" cy="892.2" r="2.8"/><circle cx="966.2" cy="867.2" r="2.8"/><circle cx="981.1" cy="875.0" r="2.8"/><circle cx="1011.2" cy="886.7" r="2.8"/><circle cx="989.1" cy="867.5" r="2.8"/><circle cx="981.1" cy="860.5" r="2.8"/><circle cx="985.7" cy="860.7" r="2.8"/><circle cx="984.0" cy="865.2" r="2.8"/><circle cx="978.3" cy="883.8" r="2.8"/><circle cx="978.8" cy="879.6" r="2.8"/><circle cx="974.5" cy="866.1" r="2.8"/><circle cx="977.6" cy="871.3" r="2.8"/><circle cx="960.6" cy="866.2" r="2.8"/><circle cx="967.3" cy="867.2" r="2.8"/><circle cx="1006.8" cy="897.0" r="2.8"/><circle cx="1004.9" cy="888.8" r="2.8"/><circle cx="992.0" cy="894.9" r="2.8"/><circle cx="1006.3" cy="895.9" r="2.8"/><circle cx="973.1" cy="871.9" r="2.8"/><circle cx="966.1" cy="885.6" r="2.8"/><circle cx="982.4" cy="888.3" r="2.8"/><circle cx="970.5" cy="865.4" r="2.8"/><circle cx="993.8" cy="873.1" r="2.8"/><circle cx="965.9" cy="882.8" r="2.8"/><circle cx="1017.1" cy="895.2" r="2.8"/><circle cx="1014.4" cy="887.8" r="2.8"/><circle cx="992.9" cy="868.5" r="2.8"/><circle cx="1017.4" cy="901.1" r="2.8"/><circle cx="986.9" cy="873.3" r="2.8"/><circle cx="1012.1" cy="886.2" r="2.8"/><circle cx="983.6" cy="896.6" r="2.8"/><circle cx="976.3" cy="877.9" r="2.8"/><circle cx="971.3" cy="891.4" r="2.8"/><circle cx="984.5" cy="856.9" r="2.8"/><circle cx="990.2" cy="863.9" r="2.8"/><circle cx="1011.9" cy="891.8" r="2.8"/><circle cx="961.2" cy="881.3" r="2.8"/><circle cx="993.7" cy="875.8" r="2.8"/><circle cx="962.7" cy="871.1" r="2.8"/><circle cx="977.8" cy="881.3" r="2.8"/><circle cx="978.8" cy="890.4" r="2.8"/><circle cx="975.7" cy="859.1" r="2.8"/><circle cx="987.8" cy="870.5" r="2.8"/><circle cx="963.8" cy="884.7" r="2.8"/><circle cx="1019.8" cy="890.9" r="2.8"/><circle cx="973.3" cy="891.6" r="2.8"/><circle cx="997.3" cy="895.6" r="2.8"/><circle cx="959.8" cy="876.3" r="2.8"/><circle cx="969.3" cy="866.3" r="2.8"/><circle cx="1020.2" cy="935.8" r="2.8"/><circle cx="1024.2" cy="935.1" r="2.8"/><circle cx="1018.2" cy="926.4" r="2.8"/><circle cx="1006.9" cy="919.6" r="2.8"/><circle cx="1016.6" cy="906.7" r="2.8"/><circle cx="1022.1" cy="941.0" r="2.8"/><circle cx="1013.1" cy="946.6" r="2.8"/><circle cx="1006.1" cy="914.7" r="2.8"/><circle cx="1036.3" cy="941.7" r="2.8"/><circle cx="998.1" cy="920.2" r="2.8"/><circle cx="1004.0" cy="917.7" r="2.8"/><circle cx="992.4" cy="930.4" r="2.8"/><circle cx="1007.1" cy="923.8" r="2.8"/><circle cx="1001.2" cy="909.5" r="2.8"/><circle cx="1029.0" cy="932.2" r="2.8"/><circle cx="998.2" cy="911.5" r="2.8"/><circle cx="998.0" cy="919.9" r="2.8"/><circle cx="994.9" cy="917.9" r="2.8"/><circle cx="1002.1" cy="913.7" r="2.8"/><circle cx="1024.3" cy="927.0" r="2.8"/><circle cx="1015.4" cy="922.0" r="2.8"/><circle cx="1018.7" cy="943.5" r="2.8"/><circle cx="1007.3" cy="907.5" r="2.8"/><circle cx="1015.8" cy="923.1" r="2.8"/><circle cx="1018.8" cy="926.3" r="2.8"/><circle cx="1007.6" cy="948.7" r="2.8"/><circle cx="1016.5" cy="934.8" r="2.8"/><circle cx="993.7" cy="908.4" r="2.8"/><circle cx="1021.8" cy="940.7" r="2.8"/><circle cx="1014.9" cy="925.2" r="2.8"/><circle cx="1017.1" cy="917.1" r="2.8"/><circle cx="1011.7" cy="944.4" r="2.8"/><circle cx="1008.1" cy="909.3" r="2.8"/><circle cx="1001.2" cy="939.8" r="2.8"/><circle cx="1022.8" cy="918.4" r="2.8"/><circle cx="1022.9" cy="942.3" r="2.8"/><circle cx="1013.5" cy="944.7" r="2.8"/><circle cx="1029.1" cy="933.5" r="2.8"/><circle cx="1022.9" cy="940.3" r="2.8"/><circle cx="1003.3" cy="908.6" r="2.8"/><circle cx="1005.4" cy="933.4" r="2.8"/><circle cx="1020.4" cy="914.0" r="2.8"/><circle cx="1001.4" cy="951.8" r="2.8"/><circle cx="995.6" cy="950.6" r="2.8"/><circle cx="1030.2" cy="932.9" r="2.8"/><circle cx="1030.6" cy="943.8" r="2.8"/><circle cx="1003.3" cy="909.7" r="2.8"/><circle cx="1010.2" cy="944.2" r="2.8"/><circle cx="1039.9" cy="942.0" r="2.8"/><circle cx="1022.6" cy="920.5" r="2.8"/><circle cx="998.4" cy="920.7" r="2.8"/><circle cx="1008.8" cy="928.9" r="2.8"/><circle cx="1014.3" cy="914.2" r="2.8"/><circle cx="996.1" cy="914.2" r="2.8"/><circle cx="998.4" cy="909.1" r="2.8"/><circle cx="1012.5" cy="910.6" r="2.8"/><circle cx="1014.8" cy="936.2" r="2.8"/><circle cx="995.9" cy="921.0" r="2.8"/><circle cx="1009.9" cy="916.7" r="2.8"/><circle cx="1007.2" cy="945.9" r="2.8"/><circle cx="992.5" cy="926.6" r="2.8"/><circle cx="1011.0" cy="918.2" r="2.8"/><circle cx="994.2" cy="912.0" r="2.8"/><circle cx="997.8" cy="952.8" r="2.8"/><circle cx="1008.4" cy="944.8" r="2.8"/><circle cx="994.1" cy="916.0" r="2.8"/><circle cx="1022.9" cy="913.5" r="2.8"/><circle cx="1001.9" cy="948.4" r="2.8"/><circle cx="1013.3" cy="944.9" r="2.8"/><circle cx="1006.1" cy="940.7" r="2.8"/><circle cx="1003.6" cy="937.6" r="2.8"/><circle cx="1014.0" cy="924.1" r="2.8"/><circle cx="996.9" cy="942.7" r="2.8"/><circle cx="999.9" cy="915.0" r="2.8"/><circle cx="993.7" cy="912.3" r="2.8"/><circle cx="1011.0" cy="928.0" r="2.8"/><circle cx="1000.7" cy="925.4" r="2.8"/><circle cx="998.8" cy="930.3" r="2.8"/><circle cx="1011.0" cy="933.5" r="2.8"/><circle cx="1016.4" cy="929.5" r="2.8"/><circle cx="1007.4" cy="931.2" r="2.8"/><circle cx="1018.9" cy="918.3" r="2.8"/><circle cx="1003.7" cy="916.8" r="2.8"/><circle cx="1007.1" cy="947.2" r="2.8"/><circle cx="1007.0" cy="945.6" r="2.8"/><circle cx="1014.3" cy="945.4" r="2.8"/><circle cx="1004.2" cy="934.3" r="2.8"/><circle cx="1009.4" cy="910.0" r="2.8"/><circle cx="993.6" cy="919.9" r="2.8"/><circle cx="1019.1" cy="918.1" r="2.8"/><circle cx="1032.7" cy="936.7" r="2.8"/><circle cx="1008.3" cy="936.7" r="2.8"/><circle cx="1009.4" cy="918.6" r="2.8"/><circle cx="997.7" cy="943.7" r="2.8"/><circle cx="1012.7" cy="919.9" r="2.8"/><circle cx="1017.3" cy="921.9" r="2.8"/><circle cx="1004.6" cy="916.2" r="2.8"/><circle cx="1019.2" cy="941.2" r="2.8"/><circle cx="1013.4" cy="920.8" r="2.8"/><circle cx="1000.9" cy="952.3" r="2.8"/><circle cx="1000.8" cy="944.7" r="2.8"/><circle cx="1010.5" cy="919.2" r="2.8"/><circle cx="1006.7" cy="920.4" r="2.8"/><circle cx="1021.1" cy="919.7" r="2.8"/><circle cx="1018.5" cy="933.4" r="2.8"/><circle cx="1007.9" cy="947.6" r="2.8"/><circle cx="1037.9" cy="937.1" r="2.8"/><circle cx="1012.4" cy="912.4" r="2.8"/><circle cx="1023.0" cy="918.5" r="2.8"/><circle cx="1000.2" cy="930.8" r="2.8"/><circle cx="1002.0" cy="936.2" r="2.8"/><circle cx="1008.7" cy="940.4" r="2.8"/><circle cx="1019.7" cy="941.4" r="2.8"/><circle cx="1037.2" cy="942.5" r="2.8"/><circle cx="1019.2" cy="924.1" r="2.8"/><circle cx="1023.2" cy="936.6" r="2.8"/><circle cx="1022.2" cy="939.9" r="2.8"/><circle cx="1006.3" cy="936.2" r="2.8"/><circle cx="1002.5" cy="942.1" r="2.8"/><circle cx="998.9" cy="909.7" r="2.8"/><circle cx="1004.3" cy="943.8" r="2.8"/><circle cx="994.4" cy="914.5" r="2.8"/><circle cx="1019.1" cy="942.1" r="2.8"/><circle cx="1016.4" cy="938.6" r="2.8"/><circle cx="1009.8" cy="923.0" r="2.8"/><circle cx="1002.0" cy="921.7" r="2.8"/><circle cx="1024.2" cy="924.7" r="2.8"/><circle cx="1030.7" cy="940.0" r="2.8"/><circle cx="1013.2" cy="923.7" r="2.8"/><circle cx="1004.7" cy="922.4" r="2.8"/><circle cx="997.7" cy="920.8" r="2.8"/><circle cx="993.4" cy="930.7" r="2.8"/><circle cx="1000.7" cy="928.3" r="2.8"/><circle cx="1011.7" cy="943.4" r="2.8"/><circle cx="1016.4" cy="908.1" r="2.8"/><circle cx="1011.8" cy="944.8" r="2.8"/><circle cx="1030.5" cy="940.4" r="2.8"/><circle cx="1026.8" cy="945.2" r="2.8"/><circle cx="1010.7" cy="935.1" r="2.8"/><circle cx="998.0" cy="919.5" r="2.8"/><circle cx="1010.4" cy="914.4" r="2.8"/><circle cx="1001.2" cy="936.8" r="2.8"/><circle cx="1007.4" cy="906.9" r="2.8"/><circle cx="1003.1" cy="938.5" r="2.8"/><circle cx="996.2" cy="915.1" r="2.8"/><circle cx="1000.2" cy="936.3" r="2.8"/><circle cx="1024.6" cy="942.0" r="2.8"/><circle cx="1003.2" cy="912.2" r="2.8"/><circle cx="1034.4" cy="945.3" r="2.8"/><circle cx="1001.2" cy="925.5" r="2.8"/><circle cx="995.5" cy="914.4" r="2.8"/><circle cx="992.9" cy="928.5" r="2.8"/><circle cx="1035.6" cy="939.3" r="2.8"/><circle cx="998.6" cy="925.6" r="2.8"/><circle cx="1030.3" cy="941.7" r="2.8"/><circle cx="1015.7" cy="905.5" r="2.8"/><circle cx="1030.8" cy="933.4" r="2.8"/><circle cx="1007.6" cy="880.2" r="2.8"/><circle cx="1037.8" cy="886.2" r="2.8"/><circle cx="1042.4" cy="889.8" r="2.8"/><circle cx="1051.5" cy="889.8" r="2.8"/><circle cx="1056.1" cy="888.5" r="2.8"/><circle cx="1075.7" cy="886.8" r="2.8"/><circle cx="1096.8" cy="891.2" r="2.8"/><circle cx="1095.4" cy="900.4" r="2.8"/><circle cx="1098.1" cy="897.6" r="2.8"/><circle cx="1101.8" cy="897.6" r="2.8"/><circle cx="1042.4" cy="895.8" r="2.8"/><circle cx="1042.4" cy="902.2" r="2.8"/><circle cx="1033.7" cy="900.4" r="2.8"/><circle cx="1052.9" cy="906.8" r="2.8"/><circle cx="1080.3" cy="906.8" r="2.8"/><circle cx="1045.6" cy="912.7" r="2.8"/><circle cx="1115.1" cy="912.7" r="2.8"/><circle cx="1033.7" cy="915.4" r="2.8"/><circle cx="1041.0" cy="920.0" r="2.8"/><circle cx="1056.1" cy="918.6" r="2.8"/><circle cx="1061.6" cy="918.2" r="2.8"/><circle cx="1078.9" cy="918.6" r="2.8"/><circle cx="1025.0" cy="921.4" r="2.8"/><circle cx="1062.5" cy="925.0" r="2.8"/><circle cx="1065.2" cy="927.8" r="2.8"/><circle cx="1068.0" cy="931.4" r="2.8"/><circle cx="1071.6" cy="935.1" r="2.8"/><circle cx="1073.5" cy="937.8" r="2.8"/><circle cx="1076.2" cy="940.6" r="2.8"/><circle cx="1079.9" cy="942.4" r="2.8"/><circle cx="1083.5" cy="942.9" r="2.8"/><circle cx="1078.9" cy="927.8" r="2.8"/><circle cx="1045.1" cy="929.2" r="2.8"/><circle cx="1050.6" cy="929.2" r="2.8"/><circle cx="1090.8" cy="932.4" r="2.8"/><circle cx="1088.1" cy="936.5" r="2.8"/><circle cx="1045.6" cy="936.5" r="2.8"/><circle cx="1054.2" cy="936.5" r="2.8"/><circle cx="1052.4" cy="941.5" r="2.8"/><circle cx="1056.1" cy="944.2" r="2.8"/><circle cx="1067.1" cy="939.7" r="2.8"/><circle cx="1069.3" cy="944.2" r="2.8"/><circle cx="1115.1" cy="941.5" r="2.8"/><circle cx="1025.9" cy="947.0" r="2.8"/><circle cx="1033.2" cy="946.1" r="2.8"/><circle cx="1040.1" cy="944.2" r="2.8"/><circle cx="1089.5" cy="947.5" r="2.8"/><circle cx="1059.3" cy="950.2" r="2.8"/><circle cx="1057.5" cy="954.8" r="2.8"/><circle cx="1040.5" cy="954.8" r="2.8"/><circle cx="1044.2" cy="956.6" r="2.8"/><circle cx="1085.3" cy="955.2" r="2.8"/><circle cx="1062.0" cy="961.2" r="2.8"/><circle cx="1095.4" cy="961.2" r="2.8"/><circle cx="995.3" cy="946.1" r="2.8"/><circle cx="1012.2" cy="950.7" r="2.8"/><circle cx="982.0" cy="854.6" r="2.8"/><circle cx="968.3" cy="857.4" r="2.8"/><circle cx="988.4" cy="856.5" r="2.8"/><circle cx="1125.6" cy="909.4" r="2.8"/><circle cx="1133.1" cy="930.7" r="2.8"/><circle cx="1133.1" cy="941.0" r="2.8"/><circle cx="1140.0" cy="945.5" r="2.8"/><circle cx="1145.9" cy="950.0" r="2.8"/><circle cx="1148.6" cy="935.2" r="2.8"/><circle cx="1156.2" cy="919.7" r="2.8"/><circle cx="1158.9" cy="930.7" r="2.8"/><circle cx="1155.5" cy="951.4" r="2.8"/><circle cx="1170.3" cy="924.8" r="2.8"/><circle cx="1177.9" cy="924.8" r="2.8"/><circle cx="1183.0" cy="938.6" r="2.8"/><circle cx="1330.0" cy="940.3" r="2.8"/></g><path d="M826.40,859.70H1332.20" stroke="#888888" stroke-width="2.2" stroke-dasharray="7.7 4.05" fill="none"/><path d="M1031.69,579.90V980.00" stroke="#888888" stroke-width="2.2" stroke-dasharray="7.7 4.05" fill="none"/><g font-family="DejaVu Sans, sans-serif" font-size="15.0" fill="#444444"><path d="M826.40,579.90V980.00H1332.20" fill="none" stroke="#4d4d4d" stroke-width="1.8"/><path d="M909.40,980.00v4.90M993.74,980.00v4.90M1078.08,980.00v4.90M1162.42,980.00v4.90M1246.76,980.00v4.90M1331.10,980.00v4.90M826.40,936.20h-4.90M826.40,859.70h-4.90M826.40,783.20h-4.90M826.40,706.70h-4.90M826.40,630.20h-4.90" stroke="#4d4d4d" stroke-width="1.8"/><text x="909.40" y="1001.00" text-anchor="middle">−10</text><text x="993.74" y="1001.00" text-anchor="middle">0</text><text x="1078.08" y="1001.00" text-anchor="middle">10</text><text x="1162.42" y="1001.00" text-anchor="middle">20</text><text x="1246.76" y="1001.00" text-anchor="middle">30</text><text x="1331.10" y="1001.00" text-anchor="middle">40</text><text x="814.60" y="941.75" text-anchor="end">−0.1</text><text x="814.60" y="865.25" text-anchor="end">0.0</text><text x="814.60" y="788.75" text-anchor="end">0.1</text><text x="814.60" y="712.25" text-anchor="end">0.2</text><text x="814.60" y="635.75" text-anchor="end">0.3</text></g><text x="1079.30" y="1024.30" text-anchor="middle" font-family="DejaVu Sans, sans-serif" font-size="18.4" fill="#444444">RESP_RATE_trend</text><g fill="#1E88E5"><circle cx="1524.5" cy="608.4" r="2.8"/><circle cx="1524.0" cy="622.2" r="2.8"/><circle cx="1525.0" cy="623.4" r="2.8"/><circle cx="1524.0" cy="624.6" r="2.8"/><circle cx="1525.0" cy="625.8" r="2.8"/><circle cx="1524.0" cy="627.0" r="2.8"/><circle cx="1525.0" cy="628.2" r="2.8"/><circle cx="1524.0" cy="629.4" r="2.8"/><circle cx="1525.0" cy="630.6" r="2.8"/><circle cx="1524.0" cy="631.8" r="2.8"/><circle cx="1525.0" cy="633.0" r="2.8"/><circle cx="1524.0" cy="634.2" r="2.8"/><circle cx="1525.0" cy="635.4" r="2.8"/><circle cx="1524.0" cy="636.6" r="2.8"/><circle cx="1525.0" cy="637.8" r="2.8"/><circle cx="1524.0" cy="639.0" r="2.8"/><circle cx="1525.0" cy="640.2" r="2.8"/><circle cx="1524.0" cy="641.4" r="2.8"/><circle cx="1525.0" cy="642.6" r="2.8"/><circle cx="1524.0" cy="643.8" r="2.8"/><circle cx="1525.0" cy="645.0" r="2.8"/><circle cx="1524.0" cy="646.2" r="2.8"/><circle cx="1525.0" cy="647.4" r="2.8"/><circle cx="1524.0" cy="648.6" r="2.8"/><circle cx="1525.0" cy="649.8" r="2.8"/><circle cx="1524.0" cy="651.0" r="2.8"/><circle cx="1525.0" cy="652.2" r="2.8"/><circle cx="1524.0" cy="653.4" r="2.8"/><circle cx="1525.0" cy="654.6" r="2.8"/><circle cx="1524.0" cy="655.8" r="2.8"/><circle cx="1525.0" cy="657.0" r="2.8"/><circle cx="1524.0" cy="658.2" r="2.8"/><circle cx="1525.0" cy="659.5" r="2.8"/><circle cx="1524.0" cy="660.7" r="2.8"/><circle cx="1525.0" cy="661.9" r="2.8"/><circle cx="1524.0" cy="663.1" r="2.8"/><circle cx="1525.0" cy="664.3" r="2.8"/><circle cx="1524.0" cy="665.5" r="2.8"/><circle cx="1525.0" cy="666.7" r="2.8"/><circle cx="1524.0" cy="667.9" r="2.8"/><circle cx="1525.0" cy="669.1" r="2.8"/><circle cx="1524.0" cy="670.3" r="2.8"/><circle cx="1525.0" cy="671.5" r="2.8"/><circle cx="1524.0" cy="672.7" r="2.8"/><circle cx="1525.0" cy="673.9" r="2.8"/><circle cx="1524.0" cy="675.1" r="2.8"/><circle cx="1525.0" cy="676.3" r="2.8"/><circle cx="1524.0" cy="677.5" r="2.8"/><circle cx="1525.0" cy="678.7" r="2.8"/><circle cx="1524.0" cy="679.9" r="2.8"/><circle cx="1525.0" cy="681.1" r="2.8"/><circle cx="1524.0" cy="682.3" r="2.8"/><circle cx="1525.0" cy="683.5" r="2.8"/><circle cx="1524.0" cy="684.7" r="2.8"/><circle cx="1525.0" cy="685.9" r="2.8"/><circle cx="1524.0" cy="687.1" r="2.8"/><circle cx="1525.0" cy="688.3" r="2.8"/><circle cx="1524.0" cy="689.5" r="2.8"/><circle cx="1525.0" cy="690.7" r="2.8"/><circle cx="1524.0" cy="691.9" r="2.8"/><circle cx="1525.0" cy="693.1" r="2.8"/><circle cx="1524.0" cy="694.3" r="2.8"/><circle cx="1525.0" cy="695.5" r="2.8"/><circle cx="1524.0" cy="696.7" r="2.8"/><circle cx="1525.0" cy="697.9" r="2.8"/><circle cx="1524.0" cy="699.1" r="2.8"/><circle cx="1525.0" cy="700.3" r="2.8"/><circle cx="1524.0" cy="701.5" r="2.8"/><circle cx="1525.0" cy="702.7" r="2.8"/><circle cx="1524.0" cy="703.9" r="2.8"/><circle cx="1525.0" cy="705.1" r="2.8"/><circle cx="1524.0" cy="706.3" r="2.8"/><circle cx="1525.0" cy="707.5" r="2.8"/><circle cx="1524.0" cy="708.7" r="2.8"/><circle cx="1525.0" cy="709.9" r="2.8"/><circle cx="1524.0" cy="711.1" r="2.8"/><circle cx="1525.0" cy="712.3" r="2.8"/><circle cx="1524.0" cy="713.5" r="2.8"/><circle cx="1525.0" cy="714.7" r="2.8"/><circle cx="1524.0" cy="715.9" r="2.8"/><circle cx="1525.0" cy="717.1" r="2.8"/><circle cx="1524.0" cy="718.3" r="2.8"/><circle cx="1525.0" cy="719.5" r="2.8"/><circle cx="1524.0" cy="720.7" r="2.8"/><circle cx="1525.0" cy="721.9" r="2.8"/><circle cx="1524.0" cy="723.1" r="2.8"/><circle cx="1525.0" cy="724.3" r="2.8"/><circle cx="1524.0" cy="725.5" r="2.8"/><circle cx="1525.0" cy="726.7" r="2.8"/><circle cx="1524.0" cy="727.9" r="2.8"/><circle cx="1525.0" cy="729.1" r="2.8"/><circle cx="1524.0" cy="730.3" r="2.8"/><circle cx="1525.0" cy="731.5" r="2.8"/><circle cx="1524.0" cy="732.7" r="2.8"/><circle cx="1525.0" cy="734.0" r="2.8"/><circle cx="1524.0" cy="735.2" r="2.8"/><circle cx="1525.0" cy="736.4" r="2.8"/><circle cx="1524.0" cy="737.6" r="2.8"/><circle cx="1525.0" cy="738.8" r="2.8"/><circle cx="1524.0" cy="740.0" r="2.8"/><circle cx="1525.0" cy="741.2" r="2.8"/><circle cx="1524.0" cy="742.4" r="2.8"/><circle cx="1525.0" cy="743.6" r="2.8"/><circle cx="1524.0" cy="744.8" r="2.8"/><circle cx="1525.0" cy="746.0" r="2.8"/><circle cx="1524.0" cy="747.2" r="2.8"/><circle cx="1525.0" cy="748.4" r="2.8"/><circle cx="1524.0" cy="749.6" r="2.8"/><circle cx="1525.0" cy="750.8" r="2.8"/><circle cx="1524.0" cy="752.0" r="2.8"/><circle cx="1525.0" cy="753.2" r="2.8"/><circle cx="1524.0" cy="754.4" r="2.8"/><circle cx="1525.0" cy="755.6" r="2.8"/><circle cx="1524.0" cy="756.8" r="2.8"/><circle cx="1525.0" cy="758.0" r="2.8"/><circle cx="1524.0" cy="759.2" r="2.8"/><circle cx="1525.0" cy="760.4" r="2.8"/><circle cx="1524.0" cy="761.6" r="2.8"/><circle cx="1525.0" cy="762.8" r="2.8"/><circle cx="1524.0" cy="764.0" r="2.8"/><circle cx="1525.0" cy="765.2" r="2.8"/><circle cx="1524.0" cy="766.4" r="2.8"/><circle cx="1525.0" cy="767.6" r="2.8"/><circle cx="1524.0" cy="768.8" r="2.8"/><circle cx="1525.0" cy="770.0" r="2.8"/><circle cx="1524.0" cy="771.2" r="2.8"/><circle cx="1964.1" cy="848.5" r="2.8"/><circle cx="1965.0" cy="849.7" r="2.8"/><circle cx="1964.1" cy="850.9" r="2.8"/><circle cx="1965.0" cy="852.1" r="2.8"/><circle cx="1964.1" cy="853.3" r="2.8"/><circle cx="1965.0" cy="854.5" r="2.8"/><circle cx="1964.1" cy="855.7" r="2.8"/><circle cx="1965.0" cy="857.0" r="2.8"/><circle cx="1964.1" cy="858.2" r="2.8"/><circle cx="1965.0" cy="859.4" r="2.8"/><circle cx="1964.1" cy="860.6" r="2.8"/><circle cx="1965.0" cy="861.8" r="2.8"/><circle cx="1964.1" cy="863.0" r="2.8"/><circle cx="1965.0" cy="864.2" r="2.8"/><circle cx="1964.1" cy="865.4" r="2.8"/><circle cx="1965.0" cy="866.6" r="2.8"/><circle cx="1964.1" cy="867.8" r="2.8"/><circle cx="1965.0" cy="869.0" r="2.8"/><circle cx="1964.1" cy="870.2" r="2.8"/><circle cx="1965.0" cy="871.5" r="2.8"/><circle cx="1964.1" cy="872.7" r="2.8"/><circle cx="1965.0" cy="873.9" r="2.8"/><circle cx="1964.1" cy="875.1" r="2.8"/><circle cx="1965.0" cy="876.3" r="2.8"/><circle cx="1964.1" cy="877.5" r="2.8"/><circle cx="1965.0" cy="878.7" r="2.8"/><circle cx="1964.1" cy="879.9" r="2.8"/><circle cx="1965.0" cy="881.1" r="2.8"/><circle cx="1964.1" cy="882.3" r="2.8"/><circle cx="1965.0" cy="883.5" r="2.8"/><circle cx="1964.1" cy="884.7" r="2.8"/><circle cx="1965.0" cy="886.0" r="2.8"/><circle cx="1964.1" cy="887.2" r="2.8"/><circle cx="1965.0" cy="888.4" r="2.8"/><circle cx="1964.1" cy="889.6" r="2.8"/><circle cx="1965.0" cy="890.8" r="2.8"/><circle cx="1964.1" cy="892.0" r="2.8"/><circle cx="1965.0" cy="893.2" r="2.8"/><circle cx="1964.1" cy="894.4" r="2.8"/><circle cx="1965.0" cy="895.6" r="2.8"/><circle cx="1964.1" cy="896.8" r="2.8"/><circle cx="1965.0" cy="898.0" r="2.8"/><circle cx="1964.1" cy="899.2" r="2.8"/><circle cx="1965.0" cy="900.5" r="2.8"/><circle cx="1964.1" cy="901.7" r="2.8"/><circle cx="1965.0" cy="902.9" r="2.8"/><circle cx="1964.1" cy="904.1" r="2.8"/><circle cx="1965.0" cy="905.3" r="2.8"/><circle cx="1964.1" cy="906.5" r="2.8"/><circle cx="1965.0" cy="907.7" r="2.8"/><circle cx="1964.1" cy="908.9" r="2.8"/><circle cx="1965.0" cy="910.1" r="2.8"/><circle cx="1964.1" cy="911.3" r="2.8"/><circle cx="1965.0" cy="912.5" r="2.8"/><circle cx="1964.1" cy="913.7" r="2.8"/><circle cx="1965.0" cy="914.9" r="2.8"/><circle cx="1964.1" cy="916.2" r="2.8"/><circle cx="1965.0" cy="917.4" r="2.8"/><circle cx="1964.1" cy="918.6" r="2.8"/><circle cx="1965.0" cy="919.8" r="2.8"/><circle cx="1964.1" cy="921.0" r="2.8"/><circle cx="1965.0" cy="922.2" r="2.8"/><circle cx="1964.1" cy="923.4" r="2.8"/><circle cx="1965.0" cy="924.6" r="2.8"/><circle cx="1964.1" cy="925.8" r="2.8"/><circle cx="1965.0" cy="927.0" r="2.8"/><circle cx="1964.1" cy="928.2" r="2.8"/><circle cx="1965.0" cy="929.4" r="2.8"/><circle cx="1964.1" cy="930.7" r="2.8"/><circle cx="1965.0" cy="931.9" r="2.8"/><circle cx="1964.1" cy="933.1" r="2.8"/><circle cx="1965.0" cy="934.3" r="2.8"/><circle cx="1964.1" cy="935.5" r="2.8"/><circle cx="1965.0" cy="936.7" r="2.8"/><circle cx="1964.1" cy="937.9" r="2.8"/><circle cx="1965.0" cy="939.1" r="2.8"/><circle cx="1964.1" cy="940.3" r="2.8"/><circle cx="1965.0" cy="941.5" r="2.8"/><circle cx="1964.1" cy="942.7" r="2.8"/><circle cx="1965.0" cy="943.9" r="2.8"/><circle cx="1964.1" cy="945.2" r="2.8"/><circle cx="1965.0" cy="946.4" r="2.8"/><circle cx="1964.1" cy="947.6" r="2.8"/><circle cx="1965.0" cy="948.8" r="2.8"/><circle cx="1964.1" cy="950.0" r="2.8"/><circle cx="1965.0" cy="951.2" r="2.8"/><circle cx="1964.1" cy="952.4" r="2.8"/><circle cx="1964.6" cy="960.4" r="2.8"/><circle cx="1964.6" cy="963.6" r="2.8"/></g><path d="M1503.00,818.66H1987.40" stroke="#888888" stroke-width="2.2" stroke-dasharray="7.7 4.05" fill="none"/><path d="M1744.65,589.20V982.40" stroke="#888888" stroke-width="2.2" stroke-dasharray="7.7 4.05" fill="none"/><g font-family="DejaVu Sans, sans-serif" font-size="14.6" fill="#444444"><path d="M1503.00,589.20V982.40H1987.40" fill="none" stroke="#4d4d4d" stroke-width="1.8"/><path d="M1524.30,982.40v4.90M1612.44,982.40v4.90M1700.58,982.40v4.90M1788.72,982.40v4.90M1876.86,982.40v4.90M1965.00,982.40v4.90M1503.00,969.30h-4.90M1503.00,919.09h-4.90M1503.00,868.87h-4.90M1503.00,818.66h-4.90M1503.00,768.44h-4.90M1503.00,718.23h-4.90M1503.00,668.01h-4.90M1503.00,617.80h-4.90" stroke="#4d4d4d" stroke-width="1.8"/><text x="1524.30" y="1003.40" text-anchor="middle">0.0</text><text x="1612.44" y="1003.40" text-anchor="middle">0.2</text><text x="1700.58" y="1003.40" text-anchor="middle">0.4</text><text x="1788.72" y="1003.40" text-anchor="middle">0.6</text><text x="1876.86" y="1003.40" text-anchor="middle">0.8</text><text x="1965.00" y="1003.40" text-anchor="middle">1.0</text><text x="1491.20" y="974.70" text-anchor="end">−0.15</text><text x="1491.20" y="924.49" text-anchor="end">−0.10</text><text x="1491.20" y="874.27" text-anchor="end">−0.05</text><text x="1491.20" y="824.06" text-anchor="end">0.00</text><text x="1491.20" y="773.84" text-anchor="end">0.05</text><text x="1491.20" y="723.63" text-anchor="end">0.10</text><text x="1491.20" y="673.42" text-anchor="end">0.15</text><text x="1491.20" y="623.20" text-anchor="end">0.20</text></g><text x="1745.20" y="1026.70" text-anchor="middle" font-family="DejaVu Sans, sans-serif" font-size="18.0" fill="#444444">RenalDisease</text><g fill="#1E88E5"><circle cx="202.5" cy="1152.1" r="2.8"/><circle cx="219.9" cy="1160.6" r="2.8"/><circle cx="224.3" cy="1159.4" r="2.8"/><circle cx="251.8" cy="1159.4" r="2.8"/><circle cx="160.6" cy="1171.1" r="2.8"/><circle cx="164.6" cy="1173.9" r="2.8"/><circle cx="167.8" cy="1169.0" r="2.8"/><circle cx="172.3" cy="1166.2" r="2.8"/><circle cx="185.2" cy="1166.6" r="2.8"/><circle cx="192.4" cy="1164.6" r="2.8"/><circle cx="195.7" cy="1166.6" r="2.8"/><circle cx="202.5" cy="1171.1" r="2.8"/><circle cx="207.0" cy="1174.3" r="2.8"/><circle cx="210.2" cy="1167.4" r="2.8"/><circle cx="213.4" cy="1169.0" r="2.8"/><circle cx="217.1" cy="1173.9" r="2.8"/><circle cx="217.1" cy="1176.7" r="2.8"/><circle cx="227.1" cy="1167.8" r="2.8"/><circle cx="231.2" cy="1177.1" r="2.8"/><circle cx="231.2" cy="1179.5" r="2.8"/><circle cx="234.0" cy="1172.3" r="2.8"/><circle cx="237.6" cy="1170.7" r="2.8"/><circle cx="175.1" cy="1173.5" r="2.8"/><circle cx="177.9" cy="1177.9" r="2.8"/><circle cx="175.1" cy="1181.2" r="2.8"/><circle cx="189.2" cy="1179.5" r="2.8"/><circle cx="192.4" cy="1181.2" r="2.8"/><circle cx="195.7" cy="1182.8" r="2.8"/><circle cx="222.7" cy="1184.0" r="2.8"/><circle cx="234.4" cy="1185.6" r="2.8"/><circle cx="240.1" cy="1188.4" r="2.8"/><circle cx="241.7" cy="1180.7" r="2.8"/><circle cx="244.1" cy="1178.7" r="2.8"/><circle cx="244.9" cy="1182.8" r="2.8"/><circle cx="248.1" cy="1174.7" r="2.8"/><circle cx="251.8" cy="1169.0" r="2.8"/><circle cx="251.8" cy="1171.5" r="2.8"/><circle cx="255.0" cy="1184.4" r="2.8"/><circle cx="255.4" cy="1187.6" r="2.8"/><circle cx="248.9" cy="1188.4" r="2.8"/><circle cx="251.4" cy="1190.8" r="2.8"/><circle cx="175.1" cy="1189.6" r="2.8"/><circle cx="188.0" cy="1191.2" r="2.8"/><circle cx="202.5" cy="1188.4" r="2.8"/><circle cx="209.8" cy="1186.8" r="2.8"/><circle cx="219.9" cy="1193.3" r="2.8"/><circle cx="230.0" cy="1198.5" r="2.8"/><circle cx="248.9" cy="1196.9" r="2.8"/><circle cx="251.8" cy="1201.3" r="2.8"/><circle cx="255.4" cy="1196.9" r="2.8"/><circle cx="202.5" cy="1201.3" r="2.8"/><circle cx="207.0" cy="1201.3" r="2.8"/><circle cx="172.3" cy="1205.8" r="2.8"/><circle cx="180.3" cy="1205.8" r="2.8"/><circle cx="184.8" cy="1204.1" r="2.8"/><circle cx="224.3" cy="1207.0" r="2.8"/><circle cx="234.4" cy="1204.1" r="2.8"/><circle cx="241.7" cy="1207.0" r="2.8"/><circle cx="160.6" cy="1215.8" r="2.8"/><circle cx="180.7" cy="1214.2" r="2.8"/><circle cx="198.1" cy="1217.1" r="2.8"/><circle cx="223.9" cy="1214.2" r="2.8"/><circle cx="227.1" cy="1213.0" r="2.8"/><circle cx="223.9" cy="1218.7" r="2.8"/><circle cx="241.7" cy="1215.8" r="2.8"/><circle cx="240.1" cy="1221.5" r="2.8"/><circle cx="255.0" cy="1212.6" r="2.8"/><circle cx="252.2" cy="1218.7" r="2.8"/><circle cx="255.4" cy="1218.7" r="2.8"/><circle cx="182.0" cy="1221.5" r="2.8"/><circle cx="189.2" cy="1221.5" r="2.8"/><circle cx="189.2" cy="1225.5" r="2.8"/><circle cx="195.3" cy="1223.1" r="2.8"/><circle cx="216.7" cy="1221.5" r="2.8"/><circle cx="244.5" cy="1228.4" r="2.8"/><circle cx="219.9" cy="1228.8" r="2.8"/><circle cx="224.3" cy="1230.4" r="2.8"/><circle cx="171.9" cy="1232.8" r="2.8"/><circle cx="170.7" cy="1236.0" r="2.8"/><circle cx="182.0" cy="1234.4" r="2.8"/><circle cx="188.4" cy="1236.8" r="2.8"/><circle cx="191.6" cy="1232.0" r="2.8"/><circle cx="194.9" cy="1231.2" r="2.8"/><circle cx="196.5" cy="1237.6" r="2.8"/><circle cx="199.7" cy="1233.2" r="2.8"/><circle cx="194.9" cy="1242.5" r="2.8"/><circle cx="212.6" cy="1233.2" r="2.8"/><circle cx="234.4" cy="1232.8" r="2.8"/><circle cx="232.0" cy="1236.8" r="2.8"/><circle cx="227.1" cy="1240.9" r="2.8"/><circle cx="234.4" cy="1239.7" r="2.8"/><circle cx="160.6" cy="1241.7" r="2.8"/><circle cx="175.1" cy="1243.3" r="2.8"/><circle cx="212.6" cy="1243.3" r="2.8"/><circle cx="215.8" cy="1243.3" r="2.8"/><circle cx="224.7" cy="1244.9" r="2.8"/><circle cx="229.6" cy="1244.9" r="2.8"/><circle cx="240.9" cy="1246.5" r="2.8"/><circle cx="252.2" cy="1245.7" r="2.8"/><circle cx="255.4" cy="1252.2" r="2.8"/><circle cx="157.8" cy="1253.4" r="2.8"/><circle cx="166.2" cy="1250.1" r="2.8"/><circle cx="170.7" cy="1254.6" r="2.8"/><circle cx="177.5" cy="1251.8" r="2.8"/><circle cx="180.7" cy="1256.2" r="2.8"/><circle cx="185.2" cy="1248.9" r="2.8"/><circle cx="199.7" cy="1248.9" r="2.8"/><circle cx="205.4" cy="1249.3" r="2.8"/><circle cx="220.7" cy="1247.7" r="2.8"/><circle cx="225.5" cy="1250.5" r="2.8"/><circle cx="240.1" cy="1251.4" r="2.8"/><circle cx="248.9" cy="1254.6" r="2.8"/><circle cx="247.3" cy="1261.8" r="2.8"/><circle cx="252.2" cy="1266.7" r="2.8"/><circle cx="254.6" cy="1270.7" r="2.8"/><circle cx="150.5" cy="1263.5" r="2.8"/><circle cx="154.9" cy="1263.5" r="2.8"/><circle cx="169.0" cy="1261.0" r="2.8"/><circle cx="172.3" cy="1262.6" r="2.8"/><circle cx="177.9" cy="1263.5" r="2.8"/><circle cx="169.9" cy="1269.1" r="2.8"/><circle cx="171.9" cy="1270.7" r="2.8"/><circle cx="187.6" cy="1266.7" r="2.8"/><circle cx="198.9" cy="1268.3" r="2.8"/><circle cx="209.4" cy="1269.9" r="2.8"/><circle cx="224.3" cy="1272.3" r="2.8"/><circle cx="232.0" cy="1267.5" r="2.8"/><circle cx="241.7" cy="1267.1" r="2.8"/><circle cx="244.5" cy="1269.1" r="2.8"/><circle cx="195.1" cy="1267.4" r="2.8"/><circle cx="215.7" cy="1262.9" r="2.8"/><circle cx="214.5" cy="1256.7" r="2.8"/><circle cx="223.4" cy="1260.6" r="2.8"/><circle cx="225.9" cy="1262.3" r="2.8"/><circle cx="228.8" cy="1257.8" r="2.8"/><circle cx="219.5" cy="1261.5" r="2.8"/><circle cx="189.8" cy="1264.8" r="2.8"/><circle cx="228.9" cy="1253.3" r="2.8"/><circle cx="223.1" cy="1263.7" r="2.8"/><circle cx="193.1" cy="1262.4" r="2.8"/><circle cx="193.0" cy="1267.4" r="2.8"/><circle cx="189.5" cy="1255.3" r="2.8"/><circle cx="217.8" cy="1261.2" r="2.8"/><circle cx="195.9" cy="1266.8" r="2.8"/><circle cx="229.1" cy="1255.0" r="2.8"/><circle cx="194.1" cy="1262.4" r="2.8"/><circle cx="207.2" cy="1262.3" r="2.8"/><circle cx="211.5" cy="1256.9" r="2.8"/><circle cx="209.7" cy="1263.6" r="2.8"/><circle cx="208.1" cy="1263.9" r="2.8"/><circle cx="213.8" cy="1266.7" r="2.8"/><circle cx="219.6" cy="1255.4" r="2.8"/><circle cx="230.6" cy="1264.1" r="2.8"/><circle cx="192.3" cy="1262.3" r="2.8"/><circle cx="193.2" cy="1266.9" r="2.8"/><circle cx="219.6" cy="1264.1" r="2.8"/><circle cx="217.3" cy="1257.4" r="2.8"/><circle cx="198.9" cy="1257.8" r="2.8"/><circle cx="223.5" cy="1262.6" r="2.8"/><circle cx="207.3" cy="1258.0" r="2.8"/><circle cx="235.2" cy="1254.5" r="2.8"/><circle cx="197.4" cy="1262.8" r="2.8"/><circle cx="200.7" cy="1267.0" r="2.8"/><circle cx="203.1" cy="1267.6" r="2.8"/><circle cx="284.6" cy="1291.5" r="2.8"/><circle cx="330.4" cy="1302.5" r="2.8"/><circle cx="279.0" cy="1298.4" r="2.8"/><circle cx="259.9" cy="1291.0" r="2.8"/><circle cx="321.8" cy="1299.3" r="2.8"/><circle cx="279.1" cy="1300.4" r="2.8"/><circle cx="337.2" cy="1303.0" r="2.8"/><circle cx="352.3" cy="1294.3" r="2.8"/><circle cx="266.5" cy="1288.5" r="2.8"/><circle cx="341.4" cy="1300.8" r="2.8"/><circle cx="337.4" cy="1303.8" r="2.8"/><circle cx="294.8" cy="1299.5" r="2.8"/><circle cx="339.6" cy="1301.1" r="2.8"/><circle cx="342.8" cy="1300.1" r="2.8"/><circle cx="279.9" cy="1293.1" r="2.8"/><circle cx="265.2" cy="1291.8" r="2.8"/><circle cx="267.3" cy="1292.9" r="2.8"/><circle cx="320.4" cy="1295.0" r="2.8"/><circle cx="294.0" cy="1291.2" r="2.8"/><circle cx="321.6" cy="1300.9" r="2.8"/><circle cx="273.5" cy="1295.3" r="2.8"/><circle cx="355.5" cy="1301.6" r="2.8"/><circle cx="312.5" cy="1302.7" r="2.8"/><circle cx="340.9" cy="1304.9" r="2.8"/><circle cx="288.6" cy="1292.6" r="2.8"/><circle cx="344.2" cy="1293.8" r="2.8"/><circle cx="322.3" cy="1295.7" r="2.8"/><circle cx="348.0" cy="1297.2" r="2.8"/><circle cx="283.6" cy="1292.1" r="2.8"/><circle cx="313.0" cy="1292.5" r="2.8"/><circle cx="315.3" cy="1307.9" r="2.8"/><circle cx="296.9" cy="1291.4" r="2.8"/><circle cx="356.3" cy="1298.5" r="2.8"/><circle cx="268.1" cy="1301.3" r="2.8"/><circle cx="335.9" cy="1296.4" r="2.8"/><circle cx="263.6" cy="1295.4" r="2.8"/><circle cx="356.1" cy="1298.9" r="2.8"/><circle cx="324.9" cy="1299.1" r="2.8"/><circle cx="283.7" cy="1301.7" r="2.8"/><circle cx="268.3" cy="1296.7" r="2.8"/><circle cx="344.2" cy="1292.5" r="2.8"/><circle cx="306.9" cy="1290.5" r="2.8"/><circle cx="347.8" cy="1307.2" r="2.8"/><circle cx="286.9" cy="1301.6" r="2.8"/><circle cx="332.9" cy="1299.2" r="2.8"/><circle cx="334.5" cy="1299.0" r="2.8"/><circle cx="344.5" cy="1306.3" r="2.8"/><circle cx="344.4" cy="1309.1" r="2.8"/><circle cx="265.8" cy="1297.9" r="2.8"/><circle cx="304.4" cy="1299.4" r="2.8"/><circle cx="299.3" cy="1291.3" r="2.8"/><circle cx="310.8" cy="1303.8" r="2.8"/><circle cx="277.2" cy="1293.7" r="2.8"/><circle cx="356.0" cy="1301.9" r="2.8"/><circle cx="300.7" cy="1298.7" r="2.8"/><circle cx="269.3" cy="1291.6" r="2.8"/><circle cx="290.8" cy="1300.4" r="2.8"/><circle cx="280.1" cy="1291.5" r="2.8"/><circle cx="264.3" cy="1301.4" r="2.8"/><circle cx="280.9" cy="1302.3" r="2.8"/><circle cx="278.5" cy="1289.3" r="2.8"/><circle cx="350.1" cy="1300.0" r="2.8"/><circle cx="304.2" cy="1305.1" r="2.8"/><circle cx="266.9" cy="1296.6" r="2.8"/><circle cx="299.3" cy="1297.4" r="2.8"/><circle cx="329.6" cy="1302.4" r="2.8"/><circle cx="297.2" cy="1294.4" r="2.8"/><circle cx="342.8" cy="1292.2" r="2.8"/><circle cx="276.1" cy="1297.0" r="2.8"/><circle cx="299.1" cy="1292.9" r="2.8"/><circle cx="341.5" cy="1290.2" r="2.8"/><circle cx="305.5" cy="1291.3" r="2.8"/><circle cx="283.6" cy="1305.1" r="2.8"/><circle cx="302.4" cy="1296.4" r="2.8"/><circle cx="312.4" cy="1303.5" r="2.8"/><circle cx="272.6" cy="1293.3" r="2.8"/><circle cx="353.4" cy="1300.2" r="2.8"/><circle cx="311.1" cy="1304.2" r="2.8"/><circle cx="262.9" cy="1300.3" r="2.8"/><circle cx="307.2" cy="1306.8" r="2.8"/><circle cx="265.2" cy="1290.6" r="2.8"/><circle cx="316.3" cy="1302.5" r="2.8"/><circle cx="280.6" cy="1289.0" r="2.8"/><circle cx="345.6" cy="1292.1" r="2.8"/><circle cx="316.3" cy="1301.1" r="2.8"/><circle cx="298.9" cy="1300.3" r="2.8"/><circle cx="309.1" cy="1308.8" r="2.8"/><circle cx="277.5" cy="1303.5" r="2.8"/><circle cx="281.0" cy="1295.7" r="2.8"/><circle cx="323.9" cy="1293.4" r="2.8"/><circle cx="288.6" cy="1304.3" r="2.8"/><circle cx="264.5" cy="1297.2" r="2.8"/><circle cx="264.5" cy="1291.3" r="2.8"/><circle cx="344.7" cy="1307.4" r="2.8"/><circle cx="293.9" cy="1290.0" r="2.8"/><circle cx="340.0" cy="1303.2" r="2.8"/><circle cx="338.4" cy="1293.4" r="2.8"/><circle cx="270.6" cy="1288.9" r="2.8"/><circle cx="267.9" cy="1299.5" r="2.8"/><circle cx="284.3" cy="1300.8" r="2.8"/><circle cx="320.2" cy="1292.5" r="2.8"/><circle cx="305.7" cy="1308.1" r="2.8"/><circle cx="299.3" cy="1292.8" r="2.8"/><circle cx="320.5" cy="1292.5" r="2.8"/><circle cx="330.8" cy="1299.5" r="2.8"/><circle cx="347.0" cy="1299.3" r="2.8"/><circle cx="340.1" cy="1300.2" r="2.8"/><circle cx="272.0" cy="1289.2" r="2.8"/><circle cx="336.3" cy="1307.0" r="2.8"/><circle cx="346.5" cy="1291.2" r="2.8"/><circle cx="282.0" cy="1288.6" r="2.8"/><circle cx="334.7" cy="1307.5" r="2.8"/><circle cx="297.6" cy="1301.2" r="2.8"/><circle cx="343.1" cy="1309.8" r="2.8"/><circle cx="337.7" cy="1307.5" r="2.8"/><circle cx="336.9" cy="1307.1" r="2.8"/><circle cx="337.7" cy="1292.6" r="2.8"/><circle cx="343.8" cy="1306.9" r="2.8"/><circle cx="302.9" cy="1293.5" r="2.8"/><circle cx="336.2" cy="1291.6" r="2.8"/><circle cx="259.6" cy="1290.8" r="2.8"/><circle cx="353.2" cy="1292.9" r="2.8"/><circle cx="320.9" cy="1295.8" r="2.8"/><circle cx="354.6" cy="1299.1" r="2.8"/><circle cx="352.8" cy="1292.6" r="2.8"/><circle cx="268.0" cy="1296.7" r="2.8"/><circle cx="329.6" cy="1293.7" r="2.8"/><circle cx="317.4" cy="1298.5" r="2.8"/><circle cx="295.5" cy="1300.1" r="2.8"/><circle cx="282.5" cy="1303.3" r="2.8"/><circle cx="310.7" cy="1303.6" r="2.8"/><circle cx="330.9" cy="1302.4" r="2.8"/><circle cx="323.2" cy="1294.1" r="2.8"/><circle cx="328.7" cy="1293.4" r="2.8"/><circle cx="288.0" cy="1296.0" r="2.8"/><circle cx="297.2" cy="1293.3" r="2.8"/><circle cx="269.9" cy="1296.3" r="2.8"/><circle cx="350.6" cy="1302.5" r="2.8"/><circle cx="346.9" cy="1301.0" r="2.8"/><circle cx="287.1" cy="1299.4" r="2.8"/><circle cx="299.9" cy="1300.2" r="2.8"/><circle cx="322.2" cy="1297.4" r="2.8"/><circle cx="301.1" cy="1291.3" r="2.8"/><circle cx="304.2" cy="1308.0" r="2.8"/><circle cx="265.7" cy="1298.6" r="2.8"/><circle cx="320.1" cy="1294.3" r="2.8"/><circle cx="338.5" cy="1304.3" r="2.8"/><circle cx="324.0" cy="1291.6" r="2.8"/><circle cx="281.6" cy="1297.6" r="2.8"/><circle cx="298.4" cy="1301.4" r="2.8"/><circle cx="276.6" cy="1303.0" r="2.8"/><circle cx="306.3" cy="1292.0" r="2.8"/><circle cx="331.8" cy="1304.8" r="2.8"/><circle cx="267.8" cy="1296.4" r="2.8"/><circle cx="308.7" cy="1287.4" r="2.8"/><circle cx="302.6" cy="1305.5" r="2.8"/><circle cx="345.7" cy="1301.0" r="2.8"/><circle cx="328.6" cy="1298.4" r="2.8"/><circle cx="339.7" cy="1299.4" r="2.8"/><circle cx="346.3" cy="1304.1" r="2.8"/><circle cx="304.4" cy="1292.4" r="2.8"/><circle cx="281.8" cy="1301.6" r="2.8"/><circle cx="333.3" cy="1298.8" r="2.8"/><circle cx="319.5" cy="1292.8" r="2.8"/><circle cx="265.0" cy="1293.1" r="2.8"/><circle cx="284.2" cy="1293.9" r="2.8"/><circle cx="310.9" cy="1289.5" r="2.8"/><circle cx="280.2" cy="1302.9" r="2.8"/><circle cx="297.7" cy="1299.3" r="2.8"/><circle cx="298.5" cy="1291.1" r="2.8"/><circle cx="315.2" cy="1303.0" r="2.8"/><circle cx="342.3" cy="1304.7" r="2.8"/><circle cx="292.2" cy="1304.4" r="2.8"/><circle cx="342.0" cy="1309.2" r="2.8"/><circle cx="298.8" cy="1304.2" r="2.8"/><circle cx="311.5" cy="1300.7" r="2.8"/><circle cx="279.1" cy="1291.4" r="2.8"/><circle cx="290.6" cy="1302.6" r="2.8"/><circle cx="297.4" cy="1290.1" r="2.8"/><circle cx="303.6" cy="1289.2" r="2.8"/><circle cx="296.4" cy="1299.8" r="2.8"/><circle cx="260.0" cy="1301.7" r="2.8"/><circle cx="270.7" cy="1297.3" r="2.8"/><circle cx="262.3" cy="1295.3" r="2.8"/><circle cx="278.3" cy="1294.0" r="2.8"/><circle cx="332.8" cy="1295.3" r="2.8"/><circle cx="331.9" cy="1306.3" r="2.8"/><circle cx="259.2" cy="1299.2" r="2.8"/><circle cx="321.8" cy="1305.0" r="2.8"/><circle cx="321.9" cy="1304.4" r="2.8"/><circle cx="351.5" cy="1291.0" r="2.8"/><circle cx="259.3" cy="1289.8" r="2.8"/><circle cx="269.8" cy="1302.3" r="2.8"/><circle cx="313.2" cy="1291.4" r="2.8"/><circle cx="326.7" cy="1304.7" r="2.8"/><circle cx="273.9" cy="1300.8" r="2.8"/><circle cx="338.6" cy="1309.5" r="2.8"/><circle cx="288.2" cy="1302.5" r="2.8"/><circle cx="352.4" cy="1295.7" r="2.8"/><circle cx="325.8" cy="1301.3" r="2.8"/><circle cx="341.7" cy="1300.7" r="2.8"/><circle cx="334.9" cy="1294.5" r="2.8"/><circle cx="299.8" cy="1295.1" r="2.8"/><circle cx="307.5" cy="1294.4" r="2.8"/><circle cx="341.6" cy="1306.0" r="2.8"/><circle cx="320.3" cy="1306.2" r="2.8"/><circle cx="327.5" cy="1296.7" r="2.8"/><circle cx="330.1" cy="1309.5" r="2.8"/><circle cx="310.7" cy="1297.8" r="2.8"/><circle cx="300.5" cy="1303.8" r="2.8"/><circle cx="344.8" cy="1292.0" r="2.8"/><circle cx="303.4" cy="1300.9" r="2.8"/><circle cx="341.7" cy="1290.5" r="2.8"/><circle cx="326.9" cy="1292.8" r="2.8"/><circle cx="305.8" cy="1304.5" r="2.8"/><circle cx="325.8" cy="1301.8" r="2.8"/><circle cx="306.0" cy="1305.3" r="2.8"/><circle cx="266.5" cy="1291.5" r="2.8"/><circle cx="325.9" cy="1293.5" r="2.8"/><circle cx="315.0" cy="1297.6" r="2.8"/><circle cx="310.0" cy="1296.4" r="2.8"/><circle cx="331.3" cy="1294.1" r="2.8"/><circle cx="327.0" cy="1292.7" r="2.8"/><circle cx="282.2" cy="1289.1" r="2.8"/><circle cx="276.4" cy="1289.0" r="2.8"/><circle cx="310.4" cy="1304.6" r="2.8"/><circle cx="275.6" cy="1291.4" r="2.8"/><circle cx="305.3" cy="1303.7" r="2.8"/><circle cx="354.2" cy="1298.8" r="2.8"/><circle cx="276.5" cy="1291.6" r="2.8"/><circle cx="310.3" cy="1292.8" r="2.8"/><circle cx="354.0" cy="1299.5" r="2.8"/><circle cx="343.5" cy="1298.0" r="2.8"/><circle cx="343.9" cy="1300.0" r="2.8"/><circle cx="303.8" cy="1296.8" r="2.8"/><circle cx="275.6" cy="1287.4" r="2.8"/><circle cx="350.7" cy="1297.7" r="2.8"/><circle cx="338.9" cy="1295.8" r="2.8"/><circle cx="264.6" cy="1301.4" r="2.8"/><circle cx="262.6" cy="1289.7" r="2.8"/><circle cx="313.1" cy="1293.5" r="2.8"/><circle cx="333.1" cy="1300.8" r="2.8"/><circle cx="335.7" cy="1291.6" r="2.8"/><circle cx="309.1" cy="1297.0" r="2.8"/><circle cx="318.9" cy="1300.9" r="2.8"/><circle cx="330.7" cy="1309.1" r="2.8"/><circle cx="277.9" cy="1291.2" r="2.8"/><circle cx="274.5" cy="1288.0" r="2.8"/><circle cx="316.2" cy="1293.2" r="2.8"/><circle cx="280.2" cy="1303.3" r="2.8"/><circle cx="327.0" cy="1297.1" r="2.8"/><circle cx="325.5" cy="1308.5" r="2.8"/><circle cx="335.5" cy="1301.3" r="2.8"/><circle cx="322.9" cy="1308.7" r="2.8"/><circle cx="299.5" cy="1299.3" r="2.8"/><circle cx="321.5" cy="1308.1" r="2.8"/><circle cx="273.7" cy="1293.6" r="2.8"/><circle cx="331.6" cy="1299.9" r="2.8"/><circle cx="285.9" cy="1289.1" r="2.8"/><circle cx="325.6" cy="1303.1" r="2.8"/><circle cx="350.8" cy="1298.3" r="2.8"/><circle cx="306.3" cy="1288.1" r="2.8"/><circle cx="261.2" cy="1296.6" r="2.8"/><circle cx="289.3" cy="1292.2" r="2.8"/><circle cx="340.2" cy="1300.1" r="2.8"/><circle cx="324.0" cy="1292.7" r="2.8"/><circle cx="304.0" cy="1301.9" r="2.8"/><circle cx="348.2" cy="1290.5" r="2.8"/><circle cx="315.4" cy="1301.5" r="2.8"/><circle cx="306.1" cy="1288.3" r="2.8"/><circle cx="291.8" cy="1294.2" r="2.8"/><circle cx="323.8" cy="1306.9" r="2.8"/><circle cx="290.0" cy="1302.9" r="2.8"/><circle cx="338.0" cy="1299.5" r="2.8"/><circle cx="302.4" cy="1293.8" r="2.8"/><circle cx="297.4" cy="1298.6" r="2.8"/><circle cx="355.3" cy="1302.1" r="2.8"/><circle cx="311.1" cy="1296.1" r="2.8"/><circle cx="258.1" cy="1283.7" r="2.8"/><circle cx="286.7" cy="1282.5" r="2.8"/><circle cx="306.9" cy="1284.9" r="2.8"/><circle cx="351.7" cy="1289.4" r="2.8"/><circle cx="258.1" cy="1305.5" r="2.8"/><circle cx="258.9" cy="1311.6" r="2.8"/><circle cx="265.7" cy="1310.7" r="2.8"/><circle cx="266.1" cy="1317.2" r="2.8"/><circle cx="269.4" cy="1323.3" r="2.8"/><circle cx="271.8" cy="1315.6" r="2.8"/><circle cx="275.0" cy="1318.8" r="2.8"/><circle cx="279.0" cy="1312.8" r="2.8"/><circle cx="283.5" cy="1318.8" r="2.8"/><circle cx="286.7" cy="1307.9" r="2.8"/><circle cx="287.9" cy="1315.2" r="2.8"/><circle cx="290.3" cy="1317.6" r="2.8"/><circle cx="292.4" cy="1323.3" r="2.8"/><circle cx="296.8" cy="1313.2" r="2.8"/><circle cx="300.8" cy="1324.5" r="2.8"/><circle cx="304.1" cy="1330.5" r="2.8"/><circle cx="306.9" cy="1326.1" r="2.8"/><circle cx="317.0" cy="1317.2" r="2.8"/><circle cx="317.0" cy="1327.7" r="2.8"/><circle cx="324.2" cy="1323.3" r="2.8"/><circle cx="331.5" cy="1324.9" r="2.8"/><circle cx="335.5" cy="1323.3" r="2.8"/><circle cx="346.0" cy="1319.2" r="2.8"/><circle cx="349.2" cy="1325.7" r="2.8"/><circle cx="351.7" cy="1316.8" r="2.8"/><circle cx="356.5" cy="1320.0" r="2.8"/><circle cx="358.9" cy="1311.2" r="2.8"/><circle cx="360.9" cy="1314.4" r="2.8"/><circle cx="370.2" cy="1309.9" r="2.8"/><circle cx="369.4" cy="1313.6" r="2.8"/><circle cx="373.5" cy="1317.6" r="2.8"/><circle cx="368.6" cy="1320.0" r="2.8"/><circle cx="366.2" cy="1324.9" r="2.8"/><circle cx="367.0" cy="1328.9" r="2.8"/><circle cx="368.6" cy="1332.1" r="2.8"/><circle cx="373.9" cy="1327.3" r="2.8"/><circle cx="376.7" cy="1332.1" r="2.8"/><circle cx="358.1" cy="1332.1" r="2.8"/><circle cx="363.0" cy="1336.2" r="2.8"/><circle cx="369.4" cy="1339.0" r="2.8"/><circle cx="360.5" cy="1343.4" r="2.8"/><circle cx="369.4" cy="1346.7" r="2.8"/><circle cx="373.5" cy="1349.9" r="2.8"/><circle cx="377.5" cy="1341.8" r="2.8"/><circle cx="376.7" cy="1346.7" r="2.8"/><circle cx="363.4" cy="1353.5" r="2.8"/><circle cx="388.0" cy="1347.9" r="2.8"/><circle cx="394.0" cy="1346.3" r="2.8"/><circle cx="388.0" cy="1360.8" r="2.8"/><circle cx="394.0" cy="1364.0" r="2.8"/><circle cx="385.2" cy="1367.6" r="2.8"/><circle cx="363.8" cy="1368.8" r="2.8"/><circle cx="371.0" cy="1368.8" r="2.8"/><circle cx="418.7" cy="1343.6" r="2.8"/><circle cx="437.5" cy="1347.8" r="2.8"/><circle cx="453.6" cy="1357.8" r="2.8"/><circle cx="432.9" cy="1359.4" r="2.8"/><circle cx="402.6" cy="1354.5" r="2.8"/><circle cx="404.5" cy="1357.8" r="2.8"/><circle cx="402.6" cy="1361.0" r="2.8"/><circle cx="415.5" cy="1364.9" r="2.8"/><circle cx="412.9" cy="1369.4" r="2.8"/><circle cx="436.8" cy="1371.1" r="2.8"/><circle cx="450.4" cy="1373.9" r="2.8"/><circle cx="430.4" cy="1375.4" r="2.8"/><circle cx="377.4" cy="1373.2" r="2.8"/><circle cx="395.5" cy="1373.9" r="2.8"/><circle cx="402.6" cy="1375.2" r="2.8"/><circle cx="401.3" cy="1379.7" r="2.8"/><circle cx="393.6" cy="1379.7" r="2.8"/><circle cx="393.6" cy="1384.2" r="2.8"/><circle cx="385.2" cy="1384.2" r="2.8"/><circle cx="411.6" cy="1378.4" r="2.8"/><circle cx="412.9" cy="1384.2" r="2.8"/><circle cx="408.4" cy="1388.7" r="2.8"/><circle cx="423.3" cy="1382.7" r="2.8"/><circle cx="425.8" cy="1392.9" r="2.8"/><circle cx="376.1" cy="1393.3" r="2.8"/><circle cx="378.1" cy="1401.7" r="2.8"/><circle cx="402.6" cy="1398.4" r="2.8"/><circle cx="411.6" cy="1397.1" r="2.8"/><circle cx="415.5" cy="1400.4" r="2.8"/><circle cx="430.4" cy="1400.1" r="2.8"/><circle cx="446.5" cy="1395.8" r="2.8"/><circle cx="465.2" cy="1391.3" r="2.8"/><circle cx="474.9" cy="1382.9" r="2.8"/><circle cx="478.1" cy="1378.4" r="2.8"/><circle cx="496.8" cy="1379.7" r="2.8"/><circle cx="514.3" cy="1368.1" r="2.8"/><circle cx="534.3" cy="1357.8" r="2.8"/><circle cx="552.1" cy="1359.4" r="2.8"/><circle cx="544.6" cy="1366.8" r="2.8"/><circle cx="541.4" cy="1373.9" r="2.8"/><circle cx="537.5" cy="1384.2" r="2.8"/><circle cx="538.8" cy="1385.8" r="2.8"/><circle cx="566.6" cy="1343.6" r="2.8"/><circle cx="572.4" cy="1373.9" r="2.8"/><circle cx="591.1" cy="1379.7" r="2.8"/><circle cx="572.4" cy="1390.0" r="2.8"/><circle cx="482.6" cy="1402.9" r="2.8"/><circle cx="477.5" cy="1413.3" r="2.8"/><circle cx="447.5" cy="1414.6" r="2.8"/><circle cx="428.4" cy="1410.3" r="2.8"/><circle cx="401.3" cy="1412.6" r="2.8"/><circle cx="401.3" cy="1417.8" r="2.8"/><circle cx="411.6" cy="1415.9" r="2.8"/><circle cx="408.4" cy="1420.4" r="2.8"/><circle cx="425.8" cy="1421.9" r="2.8"/><circle cx="383.9" cy="1423.0" r="2.8"/><circle cx="393.6" cy="1421.7" r="2.8"/><circle cx="385.2" cy="1430.7" r="2.8"/><circle cx="402.6" cy="1432.0" r="2.8"/><circle cx="402.6" cy="1437.8" r="2.8"/><circle cx="500.1" cy="1429.2" r="2.8"/><circle cx="530.4" cy="1424.9" r="2.8"/><circle cx="538.8" cy="1420.4" r="2.8"/><circle cx="559.5" cy="1410.3" r="2.8"/><circle cx="576.6" cy="1407.2" r="2.8"/><circle cx="573.7" cy="1418.8" r="2.8"/><circle cx="549.1" cy="1442.1" r="2.8"/><circle cx="450.4" cy="1452.0" r="2.8"/><circle cx="460.7" cy="1455.2" r="2.8"/><circle cx="398.1" cy="1453.7" r="2.8"/><circle cx="394.9" cy="1455.9" r="2.8"/><circle cx="394.2" cy="1459.1" r="2.8"/><circle cx="385.2" cy="1461.0" r="2.8"/><circle cx="388.4" cy="1462.3" r="2.8"/><circle cx="402.6" cy="1472.7" r="2.8"/><circle cx="440.0" cy="1469.4" r="2.8"/><circle cx="462.0" cy="1468.8" r="2.8"/><circle cx="462.0" cy="1470.1" r="2.8"/><circle cx="475.2" cy="1473.9" r="2.8"/><circle cx="393.8" cy="1482.6" r="2.8"/><circle cx="385.2" cy="1495.9" r="2.8"/><circle cx="408.4" cy="1492.7" r="2.8"/><circle cx="412.9" cy="1492.7" r="2.8"/><circle cx="402.6" cy="1505.6" r="2.8"/><circle cx="418.7" cy="1510.1" r="2.8"/><circle cx="443.3" cy="1510.1" r="2.8"/><circle cx="524.2" cy="1486.9" r="2.8"/><circle cx="589.8" cy="1492.7" r="2.8"/></g><path d="M128.80,1300.32H614.50" stroke="#888888" stroke-width="2.2" stroke-dasharray="7.7 4.05" fill="none"/><path d="M255.70,1134.10V1528.70" stroke="#888888" stroke-width="2.2" stroke-dasharray="7.7 4.05" fill="none"/><g font-family="DejaVu Sans, sans-serif" font-size="15.0" fill="#444444"><path d="M128.80,1134.10V1528.70H614.50" fill="none" stroke="#4d4d4d" stroke-width="1.8"/><path d="M145.70,1528.70v4.90M207.50,1528.70v4.90M269.30,1528.70v4.90M331.10,1528.70v4.90M392.90,1528.70v4.90M454.70,1528.70v4.90M516.50,1528.70v4.90M578.30,1528.70v4.90M128.80,1479.00h-4.90M128.80,1419.44h-4.90M128.80,1359.88h-4.90M128.80,1300.32h-4.90M128.80,1240.76h-4.90M128.80,1181.20h-4.90" stroke="#4d4d4d" stroke-width="1.8"/><text x="145.70" y="1549.70" text-anchor="middle">0</text><text x="207.50" y="1549.70" text-anchor="middle">25</text><text x="269.30" y="1549.70" text-anchor="middle">50</text><text x="331.10" y="1549.70" text-anchor="middle">75</text><text x="392.90" y="1549.70" text-anchor="middle">100</text><text x="454.70" y="1549.70" text-anchor="middle">125</text><text x="516.50" y="1549.70" text-anchor="middle">150</text><text x="578.30" y="1549.70" text-anchor="middle">175</text><text x="117.00" y="1484.55" text-anchor="end">−0.3</text><text x="117.00" y="1424.99" text-anchor="end">−0.2</text><text x="117.00" y="1365.43" text-anchor="end">−0.1</text><text x="117.00" y="1305.87" text-anchor="end">0.0</text><text x="117.00" y="1246.31" text-anchor="end">0.1</text><text x="117.00" y="1186.75" text-anchor="end">0.2</text></g><text x="371.65" y="1573.00" text-anchor="middle" font-family="DejaVu Sans, sans-serif" font-size="18.4" fill="#444444">BUN</text><g fill="#1E88E5"><circle cx="1182.3" cy="1212.4" r="2.8"/><circle cx="1177.4" cy="1234.2" r="2.8"/><circle cx="1181.6" cy="1215.8" r="2.8"/><circle cx="1223.1" cy="1205.2" r="2.8"/><circle cx="1225.5" cy="1228.1" r="2.8"/><circle cx="1200.5" cy="1221.1" r="2.8"/><circle cx="1202.7" cy="1202.6" r="2.8"/><circle cx="1178.4" cy="1220.2" r="2.8"/><circle cx="1223.1" cy="1230.2" r="2.8"/><circle cx="1179.3" cy="1230.1" r="2.8"/><circle cx="1203.1" cy="1189.9" r="2.8"/><circle cx="1226.6" cy="1209.8" r="2.8"/><circle cx="1192.5" cy="1191.7" r="2.8"/><circle cx="1221.7" cy="1215.6" r="2.8"/><circle cx="1178.4" cy="1202.5" r="2.8"/><circle cx="1213.3" cy="1222.6" r="2.8"/><circle cx="1223.4" cy="1222.1" r="2.8"/><circle cx="1200.0" cy="1213.8" r="2.8"/><circle cx="1173.0" cy="1218.1" r="2.8"/><circle cx="1202.4" cy="1216.4" r="2.8"/><circle cx="1211.3" cy="1218.1" r="2.8"/><circle cx="1170.9" cy="1209.8" r="2.8"/><circle cx="1199.7" cy="1218.8" r="2.8"/><circle cx="1196.5" cy="1188.0" r="2.8"/><circle cx="1205.9" cy="1206.9" r="2.8"/><circle cx="1168.4" cy="1223.2" r="2.8"/><circle cx="1208.2" cy="1227.7" r="2.8"/><circle cx="1201.0" cy="1212.3" r="2.8"/><circle cx="1225.0" cy="1197.4" r="2.8"/><circle cx="1209.8" cy="1223.8" r="2.8"/><circle cx="1211.2" cy="1210.7" r="2.8"/><circle cx="1168.8" cy="1231.1" r="2.8"/><circle cx="1184.4" cy="1231.6" r="2.8"/><circle cx="1190.8" cy="1199.9" r="2.8"/><circle cx="1201.9" cy="1222.7" r="2.8"/><circle cx="1208.7" cy="1215.8" r="2.8"/><circle cx="1187.1" cy="1219.5" r="2.8"/><circle cx="1213.4" cy="1200.4" r="2.8"/><circle cx="1223.3" cy="1229.7" r="2.8"/><circle cx="1172.1" cy="1211.1" r="2.8"/><circle cx="1176.2" cy="1234.5" r="2.8"/><circle cx="1184.1" cy="1228.6" r="2.8"/><circle cx="1167.9" cy="1223.7" r="2.8"/><circle cx="1201.7" cy="1222.1" r="2.8"/><circle cx="1223.1" cy="1220.0" r="2.8"/><circle cx="1204.5" cy="1230.7" r="2.8"/><circle cx="1177.3" cy="1236.9" r="2.8"/><circle cx="1202.4" cy="1221.6" r="2.8"/><circle cx="1177.0" cy="1213.8" r="2.8"/><circle cx="1192.2" cy="1192.0" r="2.8"/><circle cx="1198.0" cy="1216.7" r="2.8"/><circle cx="1218.8" cy="1222.9" r="2.8"/><circle cx="1203.8" cy="1213.1" r="2.8"/><circle cx="1224.3" cy="1211.3" r="2.8"/><circle cx="1168.7" cy="1234.9" r="2.8"/><circle cx="1185.8" cy="1187.1" r="2.8"/><circle cx="1178.8" cy="1210.4" r="2.8"/><circle cx="1213.2" cy="1224.7" r="2.8"/><circle cx="1201.1" cy="1204.2" r="2.8"/><circle cx="1169.7" cy="1212.5" r="2.8"/><circle cx="1192.3" cy="1224.5" r="2.8"/><circle cx="1168.9" cy="1211.3" r="2.8"/><circle cx="1171.3" cy="1214.5" r="2.8"/><circle cx="1193.8" cy="1200.6" r="2.8"/><circle cx="1179.1" cy="1241.1" r="2.8"/><circle cx="1202.3" cy="1230.3" r="2.8"/><circle cx="1217.8" cy="1224.6" r="2.8"/><circle cx="1198.2" cy="1189.5" r="2.8"/><circle cx="1197.6" cy="1223.7" r="2.8"/><circle cx="1212.7" cy="1230.0" r="2.8"/><circle cx="1212.4" cy="1198.5" r="2.8"/><circle cx="1204.3" cy="1212.3" r="2.8"/><circle cx="1178.3" cy="1227.1" r="2.8"/><circle cx="1211.0" cy="1193.7" r="2.8"/><circle cx="1213.6" cy="1231.2" r="2.8"/><circle cx="1206.4" cy="1209.6" r="2.8"/><circle cx="1180.7" cy="1242.0" r="2.8"/><circle cx="1179.6" cy="1207.7" r="2.8"/><circle cx="1191.5" cy="1223.5" r="2.8"/><circle cx="1188.9" cy="1228.1" r="2.8"/><circle cx="1173.4" cy="1210.6" r="2.8"/><circle cx="1176.4" cy="1225.4" r="2.8"/><circle cx="1184.2" cy="1206.0" r="2.8"/><circle cx="1181.5" cy="1223.4" r="2.8"/><circle cx="1181.4" cy="1230.5" r="2.8"/><circle cx="1195.8" cy="1215.7" r="2.8"/><circle cx="1183.8" cy="1227.8" r="2.8"/><circle cx="1184.5" cy="1227.2" r="2.8"/><circle cx="1218.5" cy="1204.6" r="2.8"/><circle cx="1210.5" cy="1205.1" r="2.8"/><circle cx="1168.8" cy="1215.9" r="2.8"/><circle cx="1178.1" cy="1192.3" r="2.8"/><circle cx="1192.1" cy="1222.1" r="2.8"/><circle cx="1180.9" cy="1192.9" r="2.8"/><circle cx="1201.8" cy="1196.7" r="2.8"/><circle cx="1201.2" cy="1224.1" r="2.8"/><circle cx="1197.1" cy="1198.6" r="2.8"/><circle cx="1194.8" cy="1196.7" r="2.8"/><circle cx="1180.9" cy="1240.4" r="2.8"/><circle cx="1212.4" cy="1201.0" r="2.8"/><circle cx="1176.1" cy="1225.4" r="2.8"/><circle cx="1189.9" cy="1214.9" r="2.8"/><circle cx="1201.6" cy="1194.6" r="2.8"/><circle cx="1169.1" cy="1229.0" r="2.8"/><circle cx="1213.2" cy="1230.4" r="2.8"/><circle cx="1187.3" cy="1200.9" r="2.8"/><circle cx="1205.2" cy="1203.3" r="2.8"/><circle cx="1212.3" cy="1213.6" r="2.8"/><circle cx="1179.5" cy="1199.6" r="2.8"/><circle cx="1182.5" cy="1193.5" r="2.8"/><circle cx="1216.5" cy="1213.8" r="2.8"/><circle cx="1200.4" cy="1193.7" r="2.8"/><circle cx="1192.1" cy="1208.3" r="2.8"/><circle cx="1177.4" cy="1215.8" r="2.8"/><circle cx="1213.9" cy="1200.3" r="2.8"/><circle cx="1189.5" cy="1191.5" r="2.8"/><circle cx="1181.6" cy="1202.1" r="2.8"/><circle cx="1203.7" cy="1189.1" r="2.8"/><circle cx="1170.7" cy="1210.8" r="2.8"/><circle cx="1226.4" cy="1195.3" r="2.8"/><circle cx="1195.9" cy="1209.1" r="2.8"/><circle cx="1202.3" cy="1189.7" r="2.8"/><circle cx="1212.2" cy="1211.6" r="2.8"/><circle cx="1204.5" cy="1204.6" r="2.8"/><circle cx="1169.3" cy="1216.7" r="2.8"/><circle cx="1180.7" cy="1241.8" r="2.8"/><circle cx="1182.5" cy="1198.0" r="2.8"/><circle cx="1222.1" cy="1222.6" r="2.8"/><circle cx="1223.7" cy="1228.6" r="2.8"/><circle cx="1184.9" cy="1200.4" r="2.8"/><circle cx="1192.2" cy="1197.2" r="2.8"/><circle cx="1173.6" cy="1213.5" r="2.8"/><circle cx="1171.7" cy="1205.4" r="2.8"/><circle cx="1173.2" cy="1228.1" r="2.8"/><circle cx="1172.2" cy="1212.3" r="2.8"/><circle cx="1170.9" cy="1233.6" r="2.8"/><circle cx="1183.9" cy="1210.4" r="2.8"/><circle cx="1186.9" cy="1188.7" r="2.8"/><circle cx="1191.2" cy="1210.1" r="2.8"/><circle cx="1173.8" cy="1219.4" r="2.8"/><circle cx="1219.3" cy="1206.5" r="2.8"/><circle cx="1174.4" cy="1218.4" r="2.8"/><circle cx="1191.6" cy="1211.6" r="2.8"/><circle cx="1204.1" cy="1198.8" r="2.8"/><circle cx="1209.5" cy="1197.6" r="2.8"/><circle cx="1174.3" cy="1219.1" r="2.8"/><circle cx="1190.1" cy="1202.6" r="2.8"/><circle cx="1213.6" cy="1228.1" r="2.8"/><circle cx="1194.7" cy="1203.6" r="2.8"/><circle cx="1209.7" cy="1226.6" r="2.8"/><circle cx="1180.0" cy="1202.5" r="2.8"/><circle cx="1207.5" cy="1215.4" r="2.8"/><circle cx="1185.3" cy="1206.6" r="2.8"/><circle cx="1203.5" cy="1206.7" r="2.8"/><circle cx="1210.0" cy="1218.9" r="2.8"/><circle cx="1214.3" cy="1207.6" r="2.8"/><circle cx="1218.5" cy="1231.2" r="2.8"/><circle cx="1226.5" cy="1207.7" r="2.8"/><circle cx="1179.8" cy="1212.1" r="2.8"/><circle cx="1206.8" cy="1208.4" r="2.8"/><circle cx="1173.7" cy="1212.2" r="2.8"/><circle cx="1208.6" cy="1195.1" r="2.8"/><circle cx="1181.4" cy="1212.2" r="2.8"/><circle cx="1201.5" cy="1209.6" r="2.8"/><circle cx="1223.0" cy="1206.1" r="2.8"/><circle cx="1181.6" cy="1205.9" r="2.8"/><circle cx="1206.7" cy="1195.4" r="2.8"/><circle cx="1215.4" cy="1228.5" r="2.8"/><circle cx="1172.2" cy="1218.7" r="2.8"/><circle cx="1192.2" cy="1216.2" r="2.8"/><circle cx="1200.3" cy="1217.4" r="2.8"/><circle cx="1201.5" cy="1190.0" r="2.8"/><circle cx="1199.7" cy="1192.5" r="2.8"/><circle cx="1195.8" cy="1196.3" r="2.8"/><circle cx="1208.9" cy="1229.7" r="2.8"/><circle cx="1183.6" cy="1215.0" r="2.8"/><circle cx="1210.2" cy="1198.3" r="2.8"/><circle cx="1192.2" cy="1216.9" r="2.8"/><circle cx="1208.5" cy="1210.8" r="2.8"/><circle cx="1215.9" cy="1198.0" r="2.8"/><circle cx="1177.0" cy="1216.5" r="2.8"/><circle cx="1182.9" cy="1204.0" r="2.8"/><circle cx="1208.4" cy="1216.5" r="2.8"/><circle cx="1213.9" cy="1230.7" r="2.8"/><circle cx="1209.0" cy="1218.2" r="2.8"/><circle cx="1194.2" cy="1198.4" r="2.8"/><circle cx="1179.0" cy="1243.3" r="2.8"/><circle cx="1201.9" cy="1187.0" r="2.8"/><circle cx="1182.2" cy="1208.7" r="2.8"/><circle cx="1183.2" cy="1219.3" r="2.8"/><circle cx="1178.8" cy="1211.5" r="2.8"/><circle cx="1188.5" cy="1210.1" r="2.8"/><circle cx="1196.9" cy="1197.1" r="2.8"/><circle cx="1197.8" cy="1214.7" r="2.8"/><circle cx="1190.4" cy="1207.7" r="2.8"/><circle cx="1196.8" cy="1223.4" r="2.8"/><circle cx="1179.9" cy="1208.1" r="2.8"/><circle cx="1180.8" cy="1216.0" r="2.8"/><circle cx="1193.5" cy="1192.9" r="2.8"/><circle cx="1184.5" cy="1214.1" r="2.8"/><circle cx="1221.7" cy="1228.6" r="2.8"/><circle cx="1187.3" cy="1210.7" r="2.8"/><circle cx="1201.6" cy="1192.0" r="2.8"/><circle cx="1187.9" cy="1187.2" r="2.8"/><circle cx="1192.2" cy="1216.6" r="2.8"/><circle cx="1169.8" cy="1220.9" r="2.8"/><circle cx="1221.9" cy="1210.4" r="2.8"/><circle cx="1207.2" cy="1228.6" r="2.8"/><circle cx="1170.4" cy="1208.9" r="2.8"/><circle cx="1216.2" cy="1209.9" r="2.8"/><circle cx="1193.6" cy="1214.4" r="2.8"/><circle cx="1214.0" cy="1208.0" r="2.8"/><circle cx="1190.9" cy="1222.8" r="2.8"/><circle cx="1179.5" cy="1243.1" r="2.8"/><circle cx="1183.8" cy="1207.7" r="2.8"/><circle cx="1173.5" cy="1210.7" r="2.8"/><circle cx="1176.4" cy="1229.7" r="2.8"/><circle cx="1222.7" cy="1198.7" r="2.8"/><circle cx="1189.6" cy="1195.9" r="2.8"/><circle cx="1177.6" cy="1208.0" r="2.8"/><circle cx="1193.6" cy="1205.3" r="2.8"/><circle cx="1181.0" cy="1216.8" r="2.8"/><circle cx="1211.1" cy="1193.6" r="2.8"/><circle cx="1181.2" cy="1203.8" r="2.8"/><circle cx="1184.8" cy="1209.5" r="2.8"/><circle cx="1206.8" cy="1225.4" r="2.8"/><circle cx="1175.3" cy="1216.9" r="2.8"/><circle cx="1176.8" cy="1243.6" r="2.8"/><circle cx="1221.8" cy="1213.5" r="2.8"/><circle cx="1213.3" cy="1199.1" r="2.8"/><circle cx="1191.4" cy="1195.3" r="2.8"/><circle cx="1217.0" cy="1202.7" r="2.8"/><circle cx="1179.1" cy="1212.6" r="2.8"/><circle cx="1225.9" cy="1202.1" r="2.8"/><circle cx="1216.8" cy="1209.8" r="2.8"/><circle cx="1203.3" cy="1214.0" r="2.8"/><circle cx="1180.9" cy="1194.3" r="2.8"/><circle cx="1199.6" cy="1201.6" r="2.8"/><circle cx="1173.4" cy="1230.9" r="2.8"/><circle cx="1174.8" cy="1243.0" r="2.8"/><circle cx="1199.5" cy="1224.7" r="2.8"/><circle cx="1195.5" cy="1210.2" r="2.8"/><circle cx="1220.9" cy="1212.2" r="2.8"/><circle cx="1182.8" cy="1237.7" r="2.8"/><circle cx="1189.9" cy="1200.7" r="2.8"/><circle cx="1210.1" cy="1204.0" r="2.8"/><circle cx="1178.2" cy="1202.5" r="2.8"/><circle cx="1203.2" cy="1188.0" r="2.8"/><circle cx="1194.6" cy="1214.5" r="2.8"/><circle cx="1214.4" cy="1230.1" r="2.8"/><circle cx="1191.8" cy="1206.3" r="2.8"/><circle cx="1176.2" cy="1202.8" r="2.8"/><circle cx="1182.0" cy="1237.2" r="2.8"/><circle cx="1187.2" cy="1205.4" r="2.8"/><circle cx="1179.3" cy="1219.4" r="2.8"/><circle cx="1212.0" cy="1218.7" r="2.8"/><circle cx="1211.1" cy="1216.6" r="2.8"/><circle cx="1194.2" cy="1214.8" r="2.8"/><circle cx="1211.2" cy="1201.6" r="2.8"/><circle cx="1211.1" cy="1200.6" r="2.8"/><circle cx="1199.5" cy="1210.4" r="2.8"/><circle cx="1173.2" cy="1221.7" r="2.8"/><circle cx="1189.7" cy="1205.7" r="2.8"/><circle cx="1215.0" cy="1198.1" r="2.8"/><circle cx="1174.0" cy="1243.3" r="2.8"/><circle cx="1219.8" cy="1215.8" r="2.8"/><circle cx="1213.3" cy="1213.1" r="2.8"/><circle cx="1173.4" cy="1223.1" r="2.8"/><circle cx="1232.7" cy="1155.7" r="2.8"/><circle cx="1234.3" cy="1161.8" r="2.8"/><circle cx="1242.8" cy="1161.6" r="2.8"/><circle cx="1215.4" cy="1170.3" r="2.8"/><circle cx="1211.3" cy="1173.1" r="2.8"/><circle cx="1227.1" cy="1170.3" r="2.8"/><circle cx="1229.9" cy="1167.4" r="2.8"/><circle cx="1238.8" cy="1171.5" r="2.8"/><circle cx="1244.4" cy="1171.9" r="2.8"/><circle cx="1240.0" cy="1177.1" r="2.8"/><circle cx="1223.8" cy="1179.9" r="2.8"/><circle cx="1228.7" cy="1182.0" r="2.8"/><circle cx="1235.5" cy="1182.0" r="2.8"/><circle cx="1245.6" cy="1181.6" r="2.8"/><circle cx="1218.6" cy="1183.2" r="2.8"/><circle cx="1218.6" cy="1188.8" r="2.8"/><circle cx="1208.5" cy="1183.2" r="2.8"/><circle cx="1196.8" cy="1183.2" r="2.8"/><circle cx="1200.8" cy="1181.6" r="2.8"/><circle cx="1200.4" cy="1187.6" r="2.8"/><circle cx="1240.0" cy="1188.8" r="2.8"/><circle cx="1239.6" cy="1193.3" r="2.8"/><circle cx="1245.6" cy="1190.4" r="2.8"/><circle cx="1241.2" cy="1199.3" r="2.8"/><circle cx="1215.0" cy="1196.5" r="2.8"/><circle cx="1270.2" cy="1177.3" r="2.8"/><circle cx="1283.1" cy="1175.9" r="2.8"/><circle cx="1287.6" cy="1183.2" r="2.8"/><circle cx="1275.9" cy="1190.4" r="2.8"/><circle cx="1270.2" cy="1200.4" r="2.8"/><circle cx="1258.5" cy="1202.9" r="2.8"/><circle cx="1255.7" cy="1206.6" r="2.8"/><circle cx="1257.3" cy="1208.2" r="2.8"/><circle cx="1287.6" cy="1211.8" r="2.8"/><circle cx="1273.1" cy="1220.5" r="2.8"/><circle cx="1263.0" cy="1232.0" r="2.8"/><circle cx="1221.4" cy="1234.8" r="2.8"/><circle cx="1227.1" cy="1243.7" r="2.8"/><circle cx="1208.5" cy="1248.1" r="2.8"/><circle cx="1191.2" cy="1240.7" r="2.8"/><circle cx="1196.8" cy="1239.2" r="2.8"/><circle cx="1203.3" cy="1238.0" r="2.8"/><circle cx="1209.7" cy="1237.6" r="2.8"/><circle cx="1212.1" cy="1233.6" r="2.8"/><circle cx="1196.8" cy="1230.4" r="2.8"/><circle cx="1183.9" cy="1180.3" r="2.8"/><circle cx="1188.3" cy="1177.1" r="2.8"/><circle cx="1170.2" cy="1198.1" r="2.8"/><circle cx="1171.0" cy="1202.9" r="2.8"/><circle cx="1176.6" cy="1191.6" r="2.8"/><circle cx="1182.3" cy="1191.6" r="2.8"/><circle cx="1158.0" cy="1324.1" r="2.8"/><circle cx="1165.6" cy="1316.1" r="2.8"/><circle cx="1164.8" cy="1290.3" r="2.8"/><circle cx="1159.9" cy="1317.0" r="2.8"/><circle cx="1155.6" cy="1318.1" r="2.8"/><circle cx="1155.5" cy="1328.8" r="2.8"/><circle cx="1137.7" cy="1373.5" r="2.8"/><circle cx="1161.1" cy="1298.6" r="2.8"/><circle cx="1164.2" cy="1312.4" r="2.8"/><circle cx="1160.4" cy="1289.8" r="2.8"/><circle cx="1135.3" cy="1354.4" r="2.8"/><circle cx="1141.7" cy="1352.3" r="2.8"/><circle cx="1165.4" cy="1300.9" r="2.8"/><circle cx="1156.9" cy="1301.7" r="2.8"/><circle cx="1155.5" cy="1326.5" r="2.8"/><circle cx="1164.9" cy="1285.9" r="2.8"/><circle cx="1134.5" cy="1354.4" r="2.8"/><circle cx="1161.2" cy="1306.4" r="2.8"/><circle cx="1156.5" cy="1327.9" r="2.8"/><circle cx="1166.5" cy="1286.8" r="2.8"/><circle cx="1152.8" cy="1301.4" r="2.8"/><circle cx="1141.0" cy="1355.5" r="2.8"/><circle cx="1160.5" cy="1275.2" r="2.8"/><circle cx="1165.9" cy="1308.0" r="2.8"/><circle cx="1146.7" cy="1341.0" r="2.8"/><circle cx="1159.4" cy="1282.3" r="2.8"/><circle cx="1155.4" cy="1285.3" r="2.8"/><circle cx="1167.1" cy="1305.1" r="2.8"/><circle cx="1142.1" cy="1356.2" r="2.8"/><circle cx="1157.6" cy="1292.4" r="2.8"/><circle cx="1165.5" cy="1324.2" r="2.8"/><circle cx="1148.0" cy="1308.9" r="2.8"/><circle cx="1164.9" cy="1322.6" r="2.8"/><circle cx="1151.2" cy="1322.5" r="2.8"/><circle cx="1136.8" cy="1366.2" r="2.8"/><circle cx="1160.1" cy="1292.3" r="2.8"/><circle cx="1138.0" cy="1367.6" r="2.8"/><circle cx="1151.4" cy="1307.9" r="2.8"/><circle cx="1146.4" cy="1345.0" r="2.8"/><circle cx="1136.8" cy="1355.1" r="2.8"/><circle cx="1155.3" cy="1307.5" r="2.8"/><circle cx="1151.1" cy="1300.2" r="2.8"/><circle cx="1144.6" cy="1356.0" r="2.8"/><circle cx="1161.9" cy="1275.1" r="2.8"/><circle cx="1144.5" cy="1351.2" r="2.8"/><circle cx="1164.5" cy="1280.6" r="2.8"/><circle cx="1157.6" cy="1328.1" r="2.8"/><circle cx="1152.9" cy="1322.4" r="2.8"/><circle cx="1143.7" cy="1353.1" r="2.8"/><circle cx="1148.5" cy="1346.5" r="2.8"/><circle cx="1159.4" cy="1316.2" r="2.8"/><circle cx="1158.1" cy="1285.6" r="2.8"/><circle cx="1163.7" cy="1291.3" r="2.8"/><circle cx="1161.5" cy="1322.4" r="2.8"/><circle cx="1153.3" cy="1295.0" r="2.8"/><circle cx="1161.4" cy="1299.1" r="2.8"/><circle cx="1155.8" cy="1288.6" r="2.8"/><circle cx="1140.7" cy="1370.8" r="2.8"/><circle cx="1161.8" cy="1280.3" r="2.8"/><circle cx="1157.8" cy="1324.9" r="2.8"/><circle cx="1150.8" cy="1325.7" r="2.8"/><circle cx="1139.3" cy="1352.2" r="2.8"/><circle cx="1158.9" cy="1304.7" r="2.8"/><circle cx="1162.3" cy="1323.1" r="2.8"/><circle cx="1146.4" cy="1344.1" r="2.8"/><circle cx="1165.1" cy="1278.0" r="2.8"/><circle cx="1151.9" cy="1297.4" r="2.8"/><circle cx="1166.2" cy="1289.0" r="2.8"/><circle cx="1161.8" cy="1313.1" r="2.8"/><circle cx="1155.7" cy="1308.6" r="2.8"/><circle cx="1163.7" cy="1328.0" r="2.8"/><circle cx="1165.0" cy="1321.7" r="2.8"/><circle cx="1158.4" cy="1282.0" r="2.8"/><circle cx="1155.1" cy="1321.8" r="2.8"/><circle cx="1155.5" cy="1282.8" r="2.8"/><circle cx="1165.3" cy="1291.4" r="2.8"/><circle cx="1135.8" cy="1352.3" r="2.8"/><circle cx="1159.0" cy="1293.8" r="2.8"/><circle cx="1133.9" cy="1358.4" r="2.8"/><circle cx="1165.5" cy="1286.6" r="2.8"/><circle cx="1156.7" cy="1326.2" r="2.8"/><circle cx="1164.8" cy="1306.3" r="2.8"/><circle cx="1150.9" cy="1335.7" r="2.8"/><circle cx="1164.6" cy="1325.7" r="2.8"/><circle cx="1154.3" cy="1296.4" r="2.8"/><circle cx="1148.5" cy="1331.8" r="2.8"/><circle cx="1158.3" cy="1325.7" r="2.8"/><circle cx="1160.8" cy="1302.0" r="2.8"/><circle cx="1152.8" cy="1322.1" r="2.8"/><circle cx="1159.3" cy="1298.5" r="2.8"/><circle cx="1152.4" cy="1298.9" r="2.8"/><circle cx="1160.1" cy="1285.3" r="2.8"/><circle cx="1159.9" cy="1278.0" r="2.8"/><circle cx="1156.0" cy="1302.8" r="2.8"/><circle cx="1162.7" cy="1323.1" r="2.8"/><circle cx="1145.8" cy="1348.1" r="2.8"/><circle cx="1166.9" cy="1288.4" r="2.8"/><circle cx="1146.6" cy="1307.8" r="2.8"/><circle cx="1157.2" cy="1285.6" r="2.8"/><circle cx="1167.1" cy="1316.5" r="2.8"/><circle cx="1147.9" cy="1315.6" r="2.8"/><circle cx="1162.3" cy="1299.5" r="2.8"/><circle cx="1149.6" cy="1341.3" r="2.8"/><circle cx="1152.3" cy="1319.7" r="2.8"/><circle cx="1155.4" cy="1326.8" r="2.8"/><circle cx="1159.6" cy="1289.4" r="2.8"/><circle cx="1160.9" cy="1299.9" r="2.8"/><circle cx="1164.2" cy="1311.0" r="2.8"/><circle cx="1166.8" cy="1312.0" r="2.8"/><circle cx="1137.0" cy="1352.2" r="2.8"/><circle cx="1138.6" cy="1355.2" r="2.8"/><circle cx="1136.1" cy="1370.8" r="2.8"/><circle cx="1165.9" cy="1277.2" r="2.8"/><circle cx="1136.5" cy="1357.6" r="2.8"/><circle cx="1138.3" cy="1376.3" r="2.8"/><circle cx="1158.0" cy="1283.4" r="2.8"/><circle cx="1160.5" cy="1315.6" r="2.8"/><circle cx="1159.4" cy="1303.4" r="2.8"/><circle cx="1161.0" cy="1296.0" r="2.8"/><circle cx="1160.3" cy="1284.7" r="2.8"/><circle cx="1139.0" cy="1355.7" r="2.8"/><circle cx="1157.9" cy="1279.1" r="2.8"/><circle cx="1139.0" cy="1370.1" r="2.8"/><circle cx="1158.3" cy="1310.1" r="2.8"/><circle cx="1138.3" cy="1369.3" r="2.8"/><circle cx="1158.8" cy="1301.2" r="2.8"/><circle cx="1166.4" cy="1322.6" r="2.8"/><circle cx="1165.0" cy="1307.7" r="2.8"/><circle cx="1158.2" cy="1278.5" r="2.8"/><circle cx="1165.7" cy="1324.7" r="2.8"/><circle cx="1159.0" cy="1289.9" r="2.8"/><circle cx="1165.7" cy="1291.4" r="2.8"/><circle cx="1149.9" cy="1323.2" r="2.8"/><circle cx="1151.4" cy="1298.4" r="2.8"/><circle cx="1139.0" cy="1373.2" r="2.8"/><circle cx="1164.8" cy="1312.4" r="2.8"/><circle cx="1145.7" cy="1352.0" r="2.8"/><circle cx="1151.3" cy="1323.0" r="2.8"/><circle cx="1165.7" cy="1296.5" r="2.8"/><circle cx="1164.0" cy="1301.6" r="2.8"/><circle cx="1151.8" cy="1330.3" r="2.8"/><circle cx="1135.4" cy="1366.3" r="2.8"/><circle cx="1166.9" cy="1304.1" r="2.8"/><circle cx="1157.4" cy="1289.8" r="2.8"/><circle cx="1142.5" cy="1352.6" r="2.8"/><circle cx="1159.7" cy="1323.4" r="2.8"/><circle cx="1162.2" cy="1276.4" r="2.8"/><circle cx="1165.1" cy="1297.7" r="2.8"/><circle cx="1160.6" cy="1275.6" r="2.8"/><circle cx="1164.6" cy="1315.9" r="2.8"/><circle cx="1164.0" cy="1297.5" r="2.8"/><circle cx="1134.0" cy="1363.2" r="2.8"/><circle cx="1135.5" cy="1369.3" r="2.8"/><circle cx="1137.9" cy="1373.2" r="2.8"/><circle cx="1150.1" cy="1327.5" r="2.8"/><circle cx="1162.7" cy="1286.7" r="2.8"/><circle cx="1149.8" cy="1320.6" r="2.8"/><circle cx="1150.7" cy="1317.9" r="2.8"/><circle cx="1147.7" cy="1341.9" r="2.8"/><circle cx="1158.6" cy="1318.7" r="2.8"/><circle cx="1137.4" cy="1361.2" r="2.8"/><circle cx="1151.8" cy="1288.8" r="2.8"/><circle cx="1150.1" cy="1296.7" r="2.8"/><circle cx="1168.6" cy="1285.3" r="2.8"/><circle cx="1168.6" cy="1294.1" r="2.8"/><circle cx="1168.6" cy="1309.9" r="2.8"/><circle cx="1167.2" cy="1319.6" r="2.8"/><circle cx="1121.0" cy="1321.4" r="2.8"/><circle cx="1086.2" cy="1335.4" r="2.8"/><circle cx="1087.5" cy="1345.6" r="2.8"/><circle cx="1137.7" cy="1331.0" r="2.8"/><circle cx="1132.5" cy="1335.4" r="2.8"/><circle cx="1127.6" cy="1342.5" r="2.8"/><circle cx="1132.0" cy="1347.8" r="2.8"/><circle cx="1057.6" cy="1350.0" r="2.8"/><circle cx="1057.6" cy="1352.2" r="2.8"/><circle cx="1047.5" cy="1353.1" r="2.8"/><circle cx="1050.6" cy="1357.5" r="2.8"/><circle cx="1041.8" cy="1360.1" r="2.8"/><circle cx="1040.0" cy="1363.6" r="2.8"/><circle cx="1070.4" cy="1355.3" r="2.8"/><circle cx="1064.7" cy="1360.1" r="2.8"/><circle cx="1074.8" cy="1362.7" r="2.8"/><circle cx="1061.6" cy="1369.8" r="2.8"/><circle cx="1068.6" cy="1370.2" r="2.8"/><circle cx="1075.2" cy="1369.8" r="2.8"/><circle cx="1069.1" cy="1372.9" r="2.8"/><circle cx="1081.4" cy="1374.2" r="2.8"/><circle cx="1081.4" cy="1382.1" r="2.8"/><circle cx="1080.5" cy="1379.5" r="2.8"/><circle cx="1068.6" cy="1380.3" r="2.8"/><circle cx="1073.5" cy="1379.9" r="2.8"/><circle cx="1054.5" cy="1378.6" r="2.8"/><circle cx="1087.5" cy="1364.5" r="2.8"/><circle cx="1093.3" cy="1353.9" r="2.8"/><circle cx="1092.4" cy="1360.1" r="2.8"/><circle cx="1093.7" cy="1362.7" r="2.8"/><circle cx="1101.6" cy="1357.0" r="2.8"/><circle cx="1103.4" cy="1361.9" r="2.8"/><circle cx="1105.2" cy="1364.5" r="2.8"/><circle cx="1099.9" cy="1362.7" r="2.8"/><circle cx="1095.5" cy="1370.2" r="2.8"/><circle cx="1099.0" cy="1368.9" r="2.8"/><circle cx="1103.4" cy="1375.9" r="2.8"/><circle cx="1112.2" cy="1361.0" r="2.8"/><circle cx="1111.3" cy="1368.9" r="2.8"/><circle cx="1117.9" cy="1368.0" r="2.8"/><circle cx="1117.5" cy="1353.9" r="2.8"/><circle cx="1123.6" cy="1353.9" r="2.8"/><circle cx="1126.3" cy="1360.1" r="2.8"/><circle cx="1124.5" cy="1365.4" r="2.8"/><circle cx="1128.1" cy="1372.4" r="2.8"/><circle cx="1124.5" cy="1378.6" r="2.8"/><circle cx="1130.7" cy="1379.5" r="2.8"/><circle cx="1112.2" cy="1379.9" r="2.8"/><circle cx="1117.9" cy="1381.2" r="2.8"/><circle cx="1129.4" cy="1387.4" r="2.8"/><circle cx="1135.1" cy="1391.8" r="2.8"/><circle cx="1143.9" cy="1391.8" r="2.8"/><circle cx="1097.7" cy="1394.4" r="2.8"/><circle cx="1103.4" cy="1393.1" r="2.8"/><circle cx="1051.9" cy="1396.2" r="2.8"/><circle cx="1040.0" cy="1392.7" r="2.8"/><circle cx="1123.6" cy="1398.8" r="2.8"/><circle cx="1128.1" cy="1403.2" r="2.8"/><circle cx="1103.4" cy="1404.6" r="2.8"/><circle cx="1116.2" cy="1422.2" r="2.8"/><circle cx="1114.8" cy="1424.4" r="2.8"/><circle cx="1123.6" cy="1426.1" r="2.8"/><circle cx="1133.8" cy="1421.7" r="2.8"/><circle cx="1145.2" cy="1424.4" r="2.8"/><circle cx="850.9" cy="1368.4" r="2.8"/><circle cx="877.5" cy="1396.8" r="2.8"/><circle cx="889.2" cy="1366.6" r="2.8"/><circle cx="940.7" cy="1361.3" r="2.8"/><circle cx="940.7" cy="1394.3" r="2.8"/><circle cx="955.6" cy="1352.4" r="2.8"/><circle cx="954.9" cy="1371.2" r="2.8"/><circle cx="965.6" cy="1365.6" r="2.8"/><circle cx="967.3" cy="1349.9" r="2.8"/><circle cx="975.9" cy="1349.9" r="2.8"/><circle cx="970.9" cy="1374.8" r="2.8"/><circle cx="980.5" cy="1370.2" r="2.8"/><circle cx="984.0" cy="1373.7" r="2.8"/><circle cx="987.2" cy="1388.6" r="2.8"/><circle cx="984.0" cy="1370.2" r="2.8"/><circle cx="1002.8" cy="1364.1" r="2.8"/><circle cx="1007.1" cy="1371.2" r="2.8"/><circle cx="1009.6" cy="1348.2" r="2.8"/><circle cx="1012.4" cy="1355.3" r="2.8"/><circle cx="1016.0" cy="1349.9" r="2.8"/><circle cx="1014.2" cy="1362.4" r="2.8"/><circle cx="1024.9" cy="1365.9" r="2.8"/><circle cx="1026.6" cy="1369.5" r="2.8"/><circle cx="1029.5" cy="1388.6" r="2.8"/><circle cx="1031.2" cy="1367.3" r="2.8"/><circle cx="1037.3" cy="1341.1" r="2.8"/><circle cx="1038.0" cy="1371.2" r="2.8"/><circle cx="1038.3" cy="1393.3" r="2.8"/><circle cx="1023.1" cy="1399.3" r="2.8"/><circle cx="1028.4" cy="1402.8" r="2.8"/><circle cx="1039.1" cy="1393.3" r="2.8"/><circle cx="1095.8" cy="1460.7" r="2.8"/><circle cx="1130.6" cy="1472.0" r="2.8"/><circle cx="1136.7" cy="1484.5" r="2.8"/><circle cx="1133.8" cy="1510.4" r="2.8"/><circle cx="1142.0" cy="1447.5" r="2.8"/></g><path d="M829.20,1268.10H1310.60" stroke="#888888" stroke-width="2.2" stroke-dasharray="7.7 4.05" fill="none"/><path d="M1167.90,1138.70V1529.20" stroke="#888888" stroke-width="2.2" stroke-dasharray="7.7 4.05" fill="none"/><g font-family="DejaVu Sans, sans-serif" font-size="14.6" fill="#444444"><path d="M829.20,1138.70V1529.20H1310.60" fill="none" stroke="#4d4d4d" stroke-width="1.8"/><path d="M867.20,1529.20v4.90M928.16,1529.20v4.90M989.11,1529.20v4.90M1050.07,1529.20v4.90M1111.03,1529.20v4.90M1171.99,1529.20v4.90M1232.94,1529.20v4.90M1293.90,1529.20v4.90M829.20,1507.20h-4.90M829.20,1427.50h-4.90M829.20,1347.80h-4.90M829.20,1268.10h-4.90M829.20,1188.40h-4.90" stroke="#4d4d4d" stroke-width="1.8"/><text x="867.20" y="1550.20" text-anchor="middle">6.9</text><text x="928.16" y="1550.20" text-anchor="middle">7.0</text><text x="989.11" y="1550.20" text-anchor="middle">7.1</text><text x="1050.07" y="1550.20" text-anchor="middle">7.2</text><text x="1111.03" y="1550.20" text-anchor="middle">7.3</text><text x="1171.99" y="1550.20" text-anchor="middle">7.4</text><text x="1232.94" y="1550.20" text-anchor="middle">7.5</text><text x="1293.90" y="1550.20" text-anchor="middle">7.6</text><text x="817.40" y="1512.60" text-anchor="end">−0.3</text><text x="817.40" y="1432.90" text-anchor="end">−0.2</text><text x="817.40" y="1353.20" text-anchor="end">−0.1</text><text x="817.40" y="1273.50" text-anchor="end">0.0</text><text x="817.40" y="1193.80" text-anchor="end">0.1</text></g><text x="1069.90" y="1573.50" text-anchor="middle" font-family="DejaVu Sans, sans-serif" font-size="18.0" fill="#444444">PHA</text><g fill="#1E88E5"><circle cx="1570.9" cy="1271.7" r="2.8"/><circle cx="1586.0" cy="1247.7" r="2.8"/><circle cx="1562.6" cy="1285.5" r="2.8"/><circle cx="1570.5" cy="1251.7" r="2.8"/><circle cx="1566.6" cy="1248.7" r="2.8"/><circle cx="1590.1" cy="1285.1" r="2.8"/><circle cx="1577.6" cy="1249.5" r="2.8"/><circle cx="1568.0" cy="1229.8" r="2.8"/><circle cx="1582.2" cy="1245.3" r="2.8"/><circle cx="1576.8" cy="1292.4" r="2.8"/><circle cx="1577.3" cy="1233.3" r="2.8"/><circle cx="1581.4" cy="1241.5" r="2.8"/><circle cx="1566.7" cy="1228.5" r="2.8"/><circle cx="1567.5" cy="1226.2" r="2.8"/><circle cx="1563.8" cy="1221.7" r="2.8"/><circle cx="1557.6" cy="1278.3" r="2.8"/><circle cx="1570.6" cy="1258.1" r="2.8"/><circle cx="1566.3" cy="1228.9" r="2.8"/><circle cx="1566.1" cy="1225.6" r="2.8"/><circle cx="1580.1" cy="1281.1" r="2.8"/><circle cx="1577.4" cy="1256.6" r="2.8"/><circle cx="1593.1" cy="1252.6" r="2.8"/><circle cx="1557.0" cy="1253.1" r="2.8"/><circle cx="1583.8" cy="1310.4" r="2.8"/><circle cx="1588.1" cy="1262.5" r="2.8"/><circle cx="1568.8" cy="1303.6" r="2.8"/><circle cx="1581.3" cy="1297.1" r="2.8"/><circle cx="1582.6" cy="1239.4" r="2.8"/><circle cx="1557.1" cy="1300.6" r="2.8"/><circle cx="1574.4" cy="1256.8" r="2.8"/><circle cx="1570.5" cy="1241.3" r="2.8"/><circle cx="1559.1" cy="1226.0" r="2.8"/><circle cx="1566.5" cy="1230.1" r="2.8"/><circle cx="1590.2" cy="1312.2" r="2.8"/><circle cx="1575.6" cy="1224.4" r="2.8"/><circle cx="1575.9" cy="1231.0" r="2.8"/><circle cx="1565.0" cy="1228.2" r="2.8"/><circle cx="1571.1" cy="1222.8" r="2.8"/><circle cx="1560.6" cy="1238.9" r="2.8"/><circle cx="1575.0" cy="1294.6" r="2.8"/><circle cx="1582.0" cy="1269.1" r="2.8"/><circle cx="1563.5" cy="1309.6" r="2.8"/><circle cx="1556.8" cy="1228.6" r="2.8"/><circle cx="1577.9" cy="1276.8" r="2.8"/><circle cx="1568.5" cy="1298.7" r="2.8"/><circle cx="1584.6" cy="1303.8" r="2.8"/><circle cx="1569.8" cy="1244.5" r="2.8"/><circle cx="1578.4" cy="1277.8" r="2.8"/><circle cx="1562.1" cy="1285.7" r="2.8"/><circle cx="1592.5" cy="1257.4" r="2.8"/><circle cx="1584.7" cy="1265.1" r="2.8"/><circle cx="1560.1" cy="1293.1" r="2.8"/><circle cx="1564.5" cy="1277.4" r="2.8"/><circle cx="1571.5" cy="1243.6" r="2.8"/><circle cx="1557.0" cy="1298.5" r="2.8"/><circle cx="1569.1" cy="1244.0" r="2.8"/><circle cx="1575.6" cy="1293.1" r="2.8"/><circle cx="1574.0" cy="1267.6" r="2.8"/><circle cx="1573.0" cy="1243.5" r="2.8"/><circle cx="1568.9" cy="1232.5" r="2.8"/><circle cx="1564.3" cy="1275.7" r="2.8"/><circle cx="1576.5" cy="1248.1" r="2.8"/><circle cx="1576.7" cy="1294.8" r="2.8"/><circle cx="1571.2" cy="1232.5" r="2.8"/><circle cx="1586.5" cy="1274.3" r="2.8"/><circle cx="1568.4" cy="1277.1" r="2.8"/><circle cx="1571.7" cy="1236.3" r="2.8"/><circle cx="1576.7" cy="1254.8" r="2.8"/><circle cx="1593.7" cy="1248.4" r="2.8"/><circle cx="1573.5" cy="1297.0" r="2.8"/><circle cx="1568.4" cy="1249.5" r="2.8"/><circle cx="1591.4" cy="1255.9" r="2.8"/><circle cx="1585.5" cy="1233.5" r="2.8"/><circle cx="1586.3" cy="1313.5" r="2.8"/><circle cx="1564.8" cy="1295.9" r="2.8"/><circle cx="1590.3" cy="1238.9" r="2.8"/><circle cx="1587.0" cy="1311.2" r="2.8"/><circle cx="1574.3" cy="1238.7" r="2.8"/><circle cx="1580.5" cy="1275.9" r="2.8"/><circle cx="1558.8" cy="1236.3" r="2.8"/><circle cx="1586.2" cy="1268.7" r="2.8"/><circle cx="1574.7" cy="1305.9" r="2.8"/><circle cx="1578.6" cy="1229.1" r="2.8"/><circle cx="1576.4" cy="1290.2" r="2.8"/><circle cx="1592.0" cy="1279.9" r="2.8"/><circle cx="1559.2" cy="1299.2" r="2.8"/><circle cx="1580.7" cy="1305.7" r="2.8"/><circle cx="1570.2" cy="1237.7" r="2.8"/><circle cx="1559.4" cy="1225.3" r="2.8"/><circle cx="1577.6" cy="1240.8" r="2.8"/><circle cx="1559.2" cy="1251.0" r="2.8"/><circle cx="1565.9" cy="1248.5" r="2.8"/><circle cx="1570.5" cy="1278.5" r="2.8"/><circle cx="1588.7" cy="1279.7" r="2.8"/><circle cx="1588.1" cy="1304.7" r="2.8"/><circle cx="1556.6" cy="1252.0" r="2.8"/><circle cx="1572.6" cy="1269.1" r="2.8"/><circle cx="1584.0" cy="1293.6" r="2.8"/><circle cx="1557.6" cy="1273.3" r="2.8"/><circle cx="1569.9" cy="1260.3" r="2.8"/><circle cx="1582.0" cy="1287.7" r="2.8"/><circle cx="1581.1" cy="1254.2" r="2.8"/><circle cx="1559.4" cy="1246.7" r="2.8"/><circle cx="1552.0" cy="1222.9" r="2.8"/><circle cx="1576.7" cy="1240.9" r="2.8"/><circle cx="1593.1" cy="1307.6" r="2.8"/><circle cx="1587.4" cy="1253.8" r="2.8"/><circle cx="1568.9" cy="1265.6" r="2.8"/><circle cx="1591.5" cy="1274.3" r="2.8"/><circle cx="1567.4" cy="1289.3" r="2.8"/><circle cx="1592.4" cy="1293.7" r="2.8"/><circle cx="1565.3" cy="1233.2" r="2.8"/><circle cx="1557.2" cy="1230.0" r="2.8"/><circle cx="1557.6" cy="1296.4" r="2.8"/><circle cx="1568.0" cy="1257.0" r="2.8"/><circle cx="1577.1" cy="1229.1" r="2.8"/><circle cx="1584.5" cy="1240.6" r="2.8"/><circle cx="1572.1" cy="1237.4" r="2.8"/><circle cx="1559.6" cy="1230.3" r="2.8"/><circle cx="1566.0" cy="1259.2" r="2.8"/><circle cx="1563.2" cy="1283.5" r="2.8"/><circle cx="1594.1" cy="1239.5" r="2.8"/><circle cx="1577.9" cy="1249.5" r="2.8"/><circle cx="1593.7" cy="1298.2" r="2.8"/><circle cx="1578.9" cy="1286.4" r="2.8"/><circle cx="1562.6" cy="1308.3" r="2.8"/><circle cx="1592.0" cy="1240.2" r="2.8"/><circle cx="1572.4" cy="1278.0" r="2.8"/><circle cx="1585.9" cy="1307.2" r="2.8"/><circle cx="1565.6" cy="1260.2" r="2.8"/><circle cx="1566.3" cy="1307.1" r="2.8"/><circle cx="1557.6" cy="1228.3" r="2.8"/><circle cx="1559.1" cy="1253.0" r="2.8"/><circle cx="1580.4" cy="1264.4" r="2.8"/><circle cx="1565.9" cy="1261.4" r="2.8"/><circle cx="1573.9" cy="1236.3" r="2.8"/><circle cx="1571.0" cy="1254.4" r="2.8"/><circle cx="1567.0" cy="1246.9" r="2.8"/><circle cx="1582.4" cy="1254.4" r="2.8"/><circle cx="1581.9" cy="1234.3" r="2.8"/><circle cx="1592.4" cy="1268.3" r="2.8"/><circle cx="1591.2" cy="1238.8" r="2.8"/><circle cx="1576.5" cy="1273.5" r="2.8"/><circle cx="1572.0" cy="1274.0" r="2.8"/><circle cx="1570.5" cy="1263.1" r="2.8"/><circle cx="1592.9" cy="1246.3" r="2.8"/><circle cx="1561.3" cy="1301.8" r="2.8"/><circle cx="1587.2" cy="1242.5" r="2.8"/><circle cx="1588.3" cy="1288.9" r="2.8"/><circle cx="1587.2" cy="1253.1" r="2.8"/><circle cx="1556.2" cy="1254.1" r="2.8"/><circle cx="1562.6" cy="1239.6" r="2.8"/><circle cx="1577.5" cy="1262.5" r="2.8"/><circle cx="1569.8" cy="1265.7" r="2.8"/><circle cx="1579.5" cy="1296.9" r="2.8"/><circle cx="1559.1" cy="1267.0" r="2.8"/><circle cx="1581.8" cy="1285.5" r="2.8"/><circle cx="1566.0" cy="1237.6" r="2.8"/><circle cx="1568.2" cy="1232.2" r="2.8"/><circle cx="1582.6" cy="1257.2" r="2.8"/><circle cx="1586.9" cy="1262.8" r="2.8"/><circle cx="1570.7" cy="1239.1" r="2.8"/><circle cx="1566.6" cy="1305.8" r="2.8"/><circle cx="1558.1" cy="1255.8" r="2.8"/><circle cx="1572.7" cy="1225.8" r="2.8"/><circle cx="1572.1" cy="1246.5" r="2.8"/><circle cx="1594.2" cy="1307.3" r="2.8"/><circle cx="1566.8" cy="1306.3" r="2.8"/><circle cx="1586.1" cy="1255.7" r="2.8"/><circle cx="1584.1" cy="1291.9" r="2.8"/><circle cx="1570.8" cy="1298.3" r="2.8"/><circle cx="1582.6" cy="1233.8" r="2.8"/><circle cx="1585.1" cy="1257.1" r="2.8"/><circle cx="1562.4" cy="1290.5" r="2.8"/><circle cx="1556.0" cy="1240.6" r="2.8"/><circle cx="1558.9" cy="1254.3" r="2.8"/><circle cx="1573.8" cy="1233.9" r="2.8"/><circle cx="1590.2" cy="1296.5" r="2.8"/><circle cx="1587.7" cy="1236.8" r="2.8"/><circle cx="1565.5" cy="1300.9" r="2.8"/><circle cx="1561.5" cy="1270.0" r="2.8"/><circle cx="1567.5" cy="1288.1" r="2.8"/><circle cx="1583.1" cy="1296.8" r="2.8"/><circle cx="1557.8" cy="1278.5" r="2.8"/><circle cx="1560.7" cy="1270.7" r="2.8"/><circle cx="1558.9" cy="1272.4" r="2.8"/><circle cx="1558.4" cy="1229.6" r="2.8"/><circle cx="1581.2" cy="1298.3" r="2.8"/><circle cx="1559.6" cy="1272.3" r="2.8"/><circle cx="1590.4" cy="1302.7" r="2.8"/><circle cx="1569.6" cy="1285.3" r="2.8"/><circle cx="1576.0" cy="1293.0" r="2.8"/><circle cx="1560.2" cy="1244.8" r="2.8"/><circle cx="1586.9" cy="1247.5" r="2.8"/><circle cx="1581.0" cy="1274.4" r="2.8"/><circle cx="1583.4" cy="1302.2" r="2.8"/><circle cx="1571.6" cy="1267.4" r="2.8"/><circle cx="1578.2" cy="1286.7" r="2.8"/><circle cx="1589.3" cy="1278.5" r="2.8"/><circle cx="1566.7" cy="1281.1" r="2.8"/><circle cx="1585.6" cy="1275.8" r="2.8"/><circle cx="1562.4" cy="1267.0" r="2.8"/><circle cx="1572.8" cy="1235.1" r="2.8"/><circle cx="1589.0" cy="1239.8" r="2.8"/><circle cx="1562.2" cy="1306.5" r="2.8"/><circle cx="1567.9" cy="1275.7" r="2.8"/><circle cx="1574.6" cy="1269.6" r="2.8"/><circle cx="1583.2" cy="1255.7" r="2.8"/><circle cx="1590.6" cy="1291.1" r="2.8"/><circle cx="1570.6" cy="1280.0" r="2.8"/><circle cx="1582.0" cy="1303.2" r="2.8"/><circle cx="1569.9" cy="1298.1" r="2.8"/><circle cx="1552.9" cy="1222.3" r="2.8"/><circle cx="1560.2" cy="1246.7" r="2.8"/><circle cx="1593.7" cy="1280.7" r="2.8"/><circle cx="1571.1" cy="1255.8" r="2.8"/><circle cx="1560.7" cy="1262.3" r="2.8"/><circle cx="1572.2" cy="1290.6" r="2.8"/><circle cx="1564.9" cy="1254.2" r="2.8"/><circle cx="1587.4" cy="1286.9" r="2.8"/><circle cx="1563.4" cy="1240.9" r="2.8"/><circle cx="1573.0" cy="1238.7" r="2.8"/><circle cx="1572.7" cy="1231.9" r="2.8"/><circle cx="1560.2" cy="1234.8" r="2.8"/><circle cx="1579.2" cy="1237.0" r="2.8"/><circle cx="1587.4" cy="1238.9" r="2.8"/><circle cx="1552.5" cy="1224.2" r="2.8"/><circle cx="1587.2" cy="1272.3" r="2.8"/><circle cx="1568.0" cy="1224.7" r="2.8"/><circle cx="1580.5" cy="1235.9" r="2.8"/><circle cx="1589.6" cy="1285.8" r="2.8"/><circle cx="1576.1" cy="1251.3" r="2.8"/><circle cx="1586.6" cy="1269.5" r="2.8"/><circle cx="1562.4" cy="1279.1" r="2.8"/><circle cx="1580.7" cy="1302.7" r="2.8"/><circle cx="1579.0" cy="1285.6" r="2.8"/><circle cx="1573.8" cy="1240.7" r="2.8"/><circle cx="1593.2" cy="1261.6" r="2.8"/><circle cx="1591.5" cy="1307.9" r="2.8"/><circle cx="1566.0" cy="1228.1" r="2.8"/><circle cx="1566.1" cy="1230.7" r="2.8"/><circle cx="1560.5" cy="1279.5" r="2.8"/><circle cx="1557.8" cy="1260.0" r="2.8"/><circle cx="1573.2" cy="1295.2" r="2.8"/><circle cx="1562.5" cy="1227.6" r="2.8"/><circle cx="1573.9" cy="1289.9" r="2.8"/><circle cx="1594.0" cy="1304.9" r="2.8"/><circle cx="1560.6" cy="1307.1" r="2.8"/><circle cx="1570.6" cy="1296.7" r="2.8"/><circle cx="1576.8" cy="1285.3" r="2.8"/><circle cx="1559.6" cy="1286.4" r="2.8"/><circle cx="1592.8" cy="1301.1" r="2.8"/><circle cx="1594.3" cy="1301.1" r="2.8"/><circle cx="1584.2" cy="1278.6" r="2.8"/><circle cx="1573.5" cy="1241.0" r="2.8"/><circle cx="1594.4" cy="1290.9" r="2.8"/><circle cx="1571.1" cy="1251.0" r="2.8"/><circle cx="1587.0" cy="1310.2" r="2.8"/><circle cx="1586.4" cy="1289.8" r="2.8"/><circle cx="1570.4" cy="1272.1" r="2.8"/><circle cx="1559.2" cy="1238.1" r="2.8"/><circle cx="1569.4" cy="1274.6" r="2.8"/><circle cx="1566.3" cy="1308.8" r="2.8"/><circle cx="1561.7" cy="1289.7" r="2.8"/><circle cx="1588.7" cy="1306.0" r="2.8"/><circle cx="1577.4" cy="1313.7" r="2.8"/><circle cx="1560.3" cy="1291.9" r="2.8"/><circle cx="1575.9" cy="1254.1" r="2.8"/><circle cx="1547.6" cy="1162.2" r="2.8"/><circle cx="1550.3" cy="1174.9" r="2.8"/><circle cx="1553.5" cy="1184.9" r="2.8"/><circle cx="1551.7" cy="1189.4" r="2.8"/><circle cx="1551.7" cy="1194.8" r="2.8"/><circle cx="1567.6" cy="1194.8" r="2.8"/><circle cx="1568.5" cy="1206.2" r="2.8"/><circle cx="1540.4" cy="1206.2" r="2.8"/><circle cx="1550.3" cy="1210.2" r="2.8"/><circle cx="1556.2" cy="1213.0" r="2.8"/><circle cx="1559.9" cy="1213.4" r="2.8"/><circle cx="1566.2" cy="1214.8" r="2.8"/><circle cx="1544.5" cy="1213.0" r="2.8"/><circle cx="1541.7" cy="1247.4" r="2.8"/><circle cx="1546.3" cy="1250.5" r="2.8"/><circle cx="1529.1" cy="1257.3" r="2.8"/><circle cx="1549.0" cy="1260.1" r="2.8"/><circle cx="1551.7" cy="1278.6" r="2.8"/><circle cx="1560.8" cy="1278.6" r="2.8"/><circle cx="1547.2" cy="1292.7" r="2.8"/><circle cx="1539.0" cy="1297.2" r="2.8"/><circle cx="1547.6" cy="1304.0" r="2.8"/><circle cx="1576.2" cy="1314.4" r="2.8"/><circle cx="1583.4" cy="1315.8" r="2.8"/><circle cx="1595.2" cy="1313.9" r="2.8"/><circle cx="1596.1" cy="1295.8" r="2.8"/><circle cx="1595.2" cy="1240.6" r="2.8"/><circle cx="1581.6" cy="1241.5" r="2.8"/><circle cx="1577.5" cy="1237.4" r="2.8"/><circle cx="1566.2" cy="1235.6" r="2.8"/><circle cx="1627.1" cy="1467.6" r="2.8"/><circle cx="1620.7" cy="1442.4" r="2.8"/><circle cx="1630.2" cy="1459.7" r="2.8"/><circle cx="1620.0" cy="1447.7" r="2.8"/><circle cx="1609.4" cy="1423.3" r="2.8"/><circle cx="1620.0" cy="1439.5" r="2.8"/><circle cx="1616.9" cy="1437.2" r="2.8"/><circle cx="1600.9" cy="1425.7" r="2.8"/><circle cx="1606.0" cy="1433.2" r="2.8"/><circle cx="1632.9" cy="1467.5" r="2.8"/><circle cx="1620.0" cy="1435.4" r="2.8"/><circle cx="1605.7" cy="1410.6" r="2.8"/><circle cx="1623.8" cy="1452.0" r="2.8"/><circle cx="1654.2" cy="1470.4" r="2.8"/><circle cx="1633.2" cy="1463.7" r="2.8"/><circle cx="1653.8" cy="1469.0" r="2.8"/><circle cx="1615.0" cy="1433.8" r="2.8"/><circle cx="1613.7" cy="1455.6" r="2.8"/><circle cx="1608.1" cy="1411.5" r="2.8"/><circle cx="1616.4" cy="1448.5" r="2.8"/><circle cx="1628.2" cy="1471.9" r="2.8"/><circle cx="1619.8" cy="1439.3" r="2.8"/><circle cx="1601.7" cy="1418.4" r="2.8"/><circle cx="1653.2" cy="1465.2" r="2.8"/><circle cx="1624.6" cy="1424.4" r="2.8"/><circle cx="1627.3" cy="1454.5" r="2.8"/><circle cx="1614.9" cy="1435.8" r="2.8"/><circle cx="1619.6" cy="1431.5" r="2.8"/><circle cx="1614.1" cy="1428.3" r="2.8"/><circle cx="1600.3" cy="1430.9" r="2.8"/><circle cx="1646.2" cy="1470.4" r="2.8"/><circle cx="1608.9" cy="1413.6" r="2.8"/><circle cx="1644.5" cy="1465.2" r="2.8"/><circle cx="1621.4" cy="1445.5" r="2.8"/><circle cx="1616.4" cy="1430.7" r="2.8"/><circle cx="1644.3" cy="1469.3" r="2.8"/><circle cx="1602.2" cy="1423.5" r="2.8"/><circle cx="1611.1" cy="1436.5" r="2.8"/><circle cx="1611.8" cy="1423.3" r="2.8"/><circle cx="1617.5" cy="1471.4" r="2.8"/><circle cx="1606.6" cy="1421.6" r="2.8"/><circle cx="1605.7" cy="1426.6" r="2.8"/><circle cx="1605.7" cy="1416.8" r="2.8"/><circle cx="1620.1" cy="1436.1" r="2.8"/><circle cx="1613.8" cy="1414.9" r="2.8"/><circle cx="1617.3" cy="1446.3" r="2.8"/><circle cx="1643.7" cy="1463.9" r="2.8"/><circle cx="1638.4" cy="1465.2" r="2.8"/><circle cx="1630.1" cy="1453.6" r="2.8"/><circle cx="1627.6" cy="1457.9" r="2.8"/><circle cx="1605.3" cy="1430.6" r="2.8"/><circle cx="1635.9" cy="1457.6" r="2.8"/><circle cx="1613.1" cy="1459.9" r="2.8"/><circle cx="1622.9" cy="1461.3" r="2.8"/><circle cx="1609.1" cy="1426.8" r="2.8"/><circle cx="1622.0" cy="1433.4" r="2.8"/><circle cx="1628.6" cy="1462.4" r="2.8"/><circle cx="1612.9" cy="1456.6" r="2.8"/><circle cx="1616.5" cy="1457.8" r="2.8"/><circle cx="1614.3" cy="1414.1" r="2.8"/><circle cx="1608.7" cy="1416.4" r="2.8"/><circle cx="1627.7" cy="1442.0" r="2.8"/><circle cx="1652.3" cy="1469.7" r="2.8"/><circle cx="1612.7" cy="1428.6" r="2.8"/><circle cx="1605.5" cy="1419.5" r="2.8"/><circle cx="1600.3" cy="1425.8" r="2.8"/><circle cx="1616.6" cy="1470.1" r="2.8"/><circle cx="1625.3" cy="1462.8" r="2.8"/><circle cx="1651.0" cy="1472.0" r="2.8"/><circle cx="1616.2" cy="1471.8" r="2.8"/><circle cx="1600.2" cy="1416.7" r="2.8"/><circle cx="1616.6" cy="1472.1" r="2.8"/><circle cx="1623.0" cy="1466.5" r="2.8"/><circle cx="1604.6" cy="1427.9" r="2.8"/><circle cx="1645.3" cy="1460.4" r="2.8"/><circle cx="1617.2" cy="1438.5" r="2.8"/><circle cx="1601.9" cy="1421.3" r="2.8"/><circle cx="1610.6" cy="1437.2" r="2.8"/><circle cx="1612.4" cy="1452.9" r="2.8"/><circle cx="1613.8" cy="1435.5" r="2.8"/><circle cx="1615.1" cy="1468.1" r="2.8"/><circle cx="1612.6" cy="1415.2" r="2.8"/><circle cx="1621.0" cy="1424.7" r="2.8"/><circle cx="1610.5" cy="1420.9" r="2.8"/><circle cx="1604.3" cy="1420.2" r="2.8"/><circle cx="1646.6" cy="1467.1" r="2.8"/><circle cx="1629.1" cy="1468.6" r="2.8"/><circle cx="1614.3" cy="1453.5" r="2.8"/><circle cx="1619.9" cy="1420.4" r="2.8"/><circle cx="1631.6" cy="1455.2" r="2.8"/><circle cx="1647.0" cy="1464.4" r="2.8"/><circle cx="1623.6" cy="1433.6" r="2.8"/><circle cx="1603.4" cy="1423.4" r="2.8"/><circle cx="1642.3" cy="1466.0" r="2.8"/><circle cx="1628.8" cy="1472.6" r="2.8"/><circle cx="1619.8" cy="1455.7" r="2.8"/><circle cx="1657.3" cy="1469.7" r="2.8"/><circle cx="1626.9" cy="1453.7" r="2.8"/><circle cx="1629.8" cy="1459.7" r="2.8"/><circle cx="1621.5" cy="1460.8" r="2.8"/><circle cx="1619.4" cy="1444.4" r="2.8"/><circle cx="1612.3" cy="1453.6" r="2.8"/><circle cx="1603.7" cy="1418.7" r="2.8"/><circle cx="1608.1" cy="1428.0" r="2.8"/><circle cx="1621.3" cy="1467.9" r="2.8"/><circle cx="1644.4" cy="1464.0" r="2.8"/><circle cx="1622.6" cy="1430.7" r="2.8"/><circle cx="1620.3" cy="1416.4" r="2.8"/><circle cx="1613.4" cy="1459.7" r="2.8"/><circle cx="1611.9" cy="1424.9" r="2.8"/><circle cx="1653.4" cy="1471.0" r="2.8"/><circle cx="1635.7" cy="1462.5" r="2.8"/><circle cx="1622.0" cy="1440.3" r="2.8"/><circle cx="1613.2" cy="1421.5" r="2.8"/><circle cx="1612.0" cy="1425.4" r="2.8"/><circle cx="1625.1" cy="1449.8" r="2.8"/><circle cx="1607.0" cy="1419.1" r="2.8"/><circle cx="1622.5" cy="1432.7" r="2.8"/><circle cx="1630.1" cy="1470.9" r="2.8"/><circle cx="1623.5" cy="1472.1" r="2.8"/><circle cx="1625.4" cy="1472.1" r="2.8"/><circle cx="1610.6" cy="1432.7" r="2.8"/><circle cx="1616.2" cy="1449.6" r="2.8"/><circle cx="1613.4" cy="1469.8" r="2.8"/><circle cx="1619.0" cy="1423.6" r="2.8"/><circle cx="1602.9" cy="1388.8" r="2.8"/><circle cx="1610.4" cy="1394.1" r="2.8"/><circle cx="1597.0" cy="1386.2" r="2.8"/><circle cx="1609.4" cy="1397.7" r="2.8"/><circle cx="1599.3" cy="1404.2" r="2.8"/><circle cx="1609.8" cy="1389.7" r="2.8"/><circle cx="1600.2" cy="1399.4" r="2.8"/><circle cx="1611.5" cy="1406.1" r="2.8"/><circle cx="1609.9" cy="1400.6" r="2.8"/><circle cx="1599.4" cy="1397.7" r="2.8"/><circle cx="1602.7" cy="1398.4" r="2.8"/><circle cx="1603.6" cy="1386.3" r="2.8"/><circle cx="1601.3" cy="1389.8" r="2.8"/><circle cx="1605.1" cy="1406.9" r="2.8"/><circle cx="1605.6" cy="1406.5" r="2.8"/><circle cx="1602.1" cy="1392.8" r="2.8"/><circle cx="1601.7" cy="1390.9" r="2.8"/><circle cx="1601.4" cy="1382.7" r="2.8"/><circle cx="1606.7" cy="1395.5" r="2.8"/><circle cx="1599.0" cy="1386.9" r="2.8"/><circle cx="1611.4" cy="1403.6" r="2.8"/><circle cx="1603.1" cy="1401.4" r="2.8"/><circle cx="1601.7" cy="1391.8" r="2.8"/><circle cx="1601.3" cy="1395.7" r="2.8"/><circle cx="1600.5" cy="1384.0" r="2.8"/><circle cx="1609.8" cy="1392.4" r="2.8"/><circle cx="1608.7" cy="1384.2" r="2.8"/><circle cx="1600.7" cy="1394.4" r="2.8"/><circle cx="1598.6" cy="1391.6" r="2.8"/><circle cx="1600.5" cy="1402.3" r="2.8"/><circle cx="1604.0" cy="1387.6" r="2.8"/><circle cx="1605.3" cy="1393.9" r="2.8"/><circle cx="1599.3" cy="1402.3" r="2.8"/><circle cx="1604.5" cy="1391.7" r="2.8"/><circle cx="1600.6" cy="1342.4" r="2.8"/><circle cx="1599.0" cy="1348.8" r="2.8"/><circle cx="1597.4" cy="1358.0" r="2.8"/><circle cx="1598.4" cy="1362.8" r="2.8"/><circle cx="1597.4" cy="1365.5" r="2.8"/><circle cx="1604.4" cy="1375.2" r="2.8"/><circle cx="1600.1" cy="1406.4" r="2.8"/><circle cx="1604.4" cy="1405.3" r="2.8"/><circle cx="1622.7" cy="1407.5" r="2.8"/><circle cx="1627.5" cy="1412.3" r="2.8"/><circle cx="1638.8" cy="1410.7" r="2.8"/><circle cx="1640.9" cy="1416.1" r="2.8"/><circle cx="1632.9" cy="1417.7" r="2.8"/><circle cx="1646.9" cy="1418.2" r="2.8"/><circle cx="1653.9" cy="1415.0" r="2.8"/><circle cx="1657.1" cy="1407.5" r="2.8"/><circle cx="1662.5" cy="1416.1" r="2.8"/><circle cx="1671.1" cy="1420.9" r="2.8"/><circle cx="1653.9" cy="1422.5" r="2.8"/><circle cx="1645.2" cy="1422.5" r="2.8"/><circle cx="1642.0" cy="1425.8" r="2.8"/><circle cx="1632.9" cy="1426.3" r="2.8"/><circle cx="1637.2" cy="1430.6" r="2.8"/><circle cx="1643.1" cy="1433.3" r="2.8"/><circle cx="1648.5" cy="1437.6" r="2.8"/><circle cx="1660.3" cy="1426.8" r="2.8"/><circle cx="1659.2" cy="1431.1" r="2.8"/><circle cx="1670.0" cy="1433.3" r="2.8"/><circle cx="1675.9" cy="1432.2" r="2.8"/><circle cx="1667.8" cy="1439.7" r="2.8"/><circle cx="1661.4" cy="1440.3" r="2.8"/><circle cx="1668.9" cy="1444.0" r="2.8"/><circle cx="1671.1" cy="1448.3" r="2.8"/><circle cx="1672.7" cy="1452.1" r="2.8"/><circle cx="1658.2" cy="1448.9" r="2.8"/><circle cx="1665.2" cy="1453.7" r="2.8"/><circle cx="1640.4" cy="1443.0" r="2.8"/><circle cx="1640.9" cy="1448.3" r="2.8"/><circle cx="1645.2" cy="1450.5" r="2.8"/><circle cx="1692.6" cy="1406.4" r="2.8"/><circle cx="1703.9" cy="1412.3" r="2.8"/><circle cx="1745.3" cy="1415.0" r="2.8"/><circle cx="1755.0" cy="1417.7" r="2.8"/><circle cx="1693.7" cy="1423.6" r="2.8"/><circle cx="1698.0" cy="1424.7" r="2.8"/><circle cx="1698.5" cy="1426.8" r="2.8"/><circle cx="1702.8" cy="1433.3" r="2.8"/><circle cx="1716.8" cy="1430.6" r="2.8"/><circle cx="1735.1" cy="1431.7" r="2.8"/><circle cx="1739.4" cy="1436.5" r="2.8"/><circle cx="1776.5" cy="1430.6" r="2.8"/><circle cx="1712.5" cy="1439.2" r="2.8"/><circle cx="1719.5" cy="1445.1" r="2.8"/><circle cx="1753.9" cy="1440.8" r="2.8"/><circle cx="1783.0" cy="1441.9" r="2.8"/><circle cx="1689.4" cy="1445.1" r="2.8"/><circle cx="1695.3" cy="1440.3" r="2.8"/><circle cx="1700.1" cy="1441.9" r="2.8"/><circle cx="1703.3" cy="1445.1" r="2.8"/><circle cx="1704.4" cy="1447.8" r="2.8"/><circle cx="1698.0" cy="1450.5" r="2.8"/><circle cx="1692.0" cy="1453.7" r="2.8"/><circle cx="1699.6" cy="1455.9" r="2.8"/><circle cx="1770.6" cy="1447.8" r="2.8"/><circle cx="1727.0" cy="1450.5" r="2.8"/><circle cx="1732.4" cy="1452.6" r="2.8"/><circle cx="1721.1" cy="1453.7" r="2.8"/><circle cx="1736.7" cy="1459.1" r="2.8"/><circle cx="1736.7" cy="1461.8" r="2.8"/><circle cx="1751.8" cy="1456.4" r="2.8"/><circle cx="1755.0" cy="1456.4" r="2.8"/><circle cx="1780.8" cy="1456.4" r="2.8"/><circle cx="1649.6" cy="1458.0" r="2.8"/><circle cx="1656.0" cy="1460.7" r="2.8"/><circle cx="1675.4" cy="1463.4" r="2.8"/><circle cx="1675.4" cy="1466.6" r="2.8"/><circle cx="1695.3" cy="1464.5" r="2.8"/><circle cx="1727.0" cy="1465.0" r="2.8"/><circle cx="1729.2" cy="1468.8" r="2.8"/><circle cx="1668.4" cy="1470.4" r="2.8"/><circle cx="1686.7" cy="1469.3" r="2.8"/><circle cx="1706.6" cy="1472.0" r="2.8"/><circle cx="1716.8" cy="1476.3" r="2.8"/><circle cx="1694.2" cy="1474.7" r="2.8"/><circle cx="1679.7" cy="1480.6" r="2.8"/><circle cx="1686.7" cy="1480.6" r="2.8"/><circle cx="1694.2" cy="1482.2" r="2.8"/><circle cx="1696.9" cy="1487.6" r="2.8"/><circle cx="1694.2" cy="1491.4" r="2.8"/><circle cx="1689.4" cy="1494.6" r="2.8"/><circle cx="1728.1" cy="1484.9" r="2.8"/><circle cx="1756.6" cy="1486.0" r="2.8"/><circle cx="1780.8" cy="1477.4" r="2.8"/><circle cx="1658.7" cy="1469.9" r="2.8"/><circle cx="1659.2" cy="1474.2" r="2.8"/><circle cx="1662.5" cy="1477.4" r="2.8"/><circle cx="1664.6" cy="1482.8" r="2.8"/><circle cx="1663.5" cy="1484.9" r="2.8"/><circle cx="1653.9" cy="1478.5" r="2.8"/><circle cx="1649.6" cy="1479.5" r="2.8"/><circle cx="1649.0" cy="1482.8" r="2.8"/><circle cx="1652.8" cy="1482.8" r="2.8"/><circle cx="1654.9" cy="1486.0" r="2.8"/><circle cx="1638.8" cy="1479.0" r="2.8"/><circle cx="1636.6" cy="1483.8" r="2.8"/><circle cx="1635.6" cy="1487.1" r="2.8"/><circle cx="1632.3" cy="1474.7" r="2.8"/><circle cx="1628.0" cy="1472.0" r="2.8"/><circle cx="1624.8" cy="1478.5" r="2.8"/><circle cx="1629.1" cy="1478.5" r="2.8"/><circle cx="1621.6" cy="1473.1" r="2.8"/><circle cx="1623.7" cy="1481.7" r="2.8"/><circle cx="1618.4" cy="1482.8" r="2.8"/><circle cx="1614.0" cy="1484.9" r="2.8"/><circle cx="1611.4" cy="1477.4" r="2.8"/><circle cx="1613.0" cy="1472.0" r="2.8"/><circle cx="1614.6" cy="1493.0" r="2.8"/><circle cx="1617.3" cy="1500.0" r="2.8"/><circle cx="1628.0" cy="1492.5" r="2.8"/><circle cx="1630.2" cy="1495.7" r="2.8"/><circle cx="1635.0" cy="1494.6" r="2.8"/><circle cx="1645.2" cy="1493.5" r="2.8"/><circle cx="1650.1" cy="1492.5" r="2.8"/><circle cx="1658.7" cy="1493.0" r="2.8"/><circle cx="1653.9" cy="1503.2" r="2.8"/><circle cx="1656.0" cy="1505.4" r="2.8"/><circle cx="1658.2" cy="1507.5" r="2.8"/><circle cx="1628.6" cy="1508.1" r="2.8"/><circle cx="1672.7" cy="1504.3" r="2.8"/><circle cx="1675.4" cy="1512.9" r="2.8"/><circle cx="1729.2" cy="1508.1" r="2.8"/><circle cx="1784.0" cy="1503.2" r="2.8"/><circle cx="1796.4" cy="1432.2" r="2.8"/><circle cx="1806.2" cy="1427.7" r="2.8"/><circle cx="1819.0" cy="1433.3" r="2.8"/><circle cx="1827.4" cy="1435.0" r="2.8"/><circle cx="1837.4" cy="1435.0" r="2.8"/><circle cx="1847.4" cy="1426.5" r="2.8"/><circle cx="1786.4" cy="1442.0" r="2.8"/><circle cx="1800.6" cy="1443.5" r="2.8"/><circle cx="1809.1" cy="1443.5" r="2.8"/><circle cx="1823.3" cy="1448.0" r="2.8"/><circle cx="1830.5" cy="1457.6" r="2.8"/><circle cx="1817.6" cy="1463.3" r="2.8"/><circle cx="1827.4" cy="1467.8" r="2.8"/><circle cx="1786.4" cy="1503.0" r="2.8"/><circle cx="1942.7" cy="1433.6" r="2.8"/><circle cx="1961.1" cy="1442.0" r="2.8"/></g><path d="M1507.80,1360.55H1983.30" stroke="#888888" stroke-width="2.2" stroke-dasharray="7.7 4.05" fill="none"/><path d="M1594.90,1145.00V1530.60" stroke="#888888" stroke-width="2.2" stroke-dasharray="7.7 4.05" fill="none"/><g font-family="DejaVu Sans, sans-serif" font-size="14.6" fill="#444444"><path d="M1507.80,1145.00V1530.60H1983.30" fill="none" stroke="#4d4d4d" stroke-width="1.8"/><path d="M1528.80,1530.60v4.90M1582.17,1530.60v4.90M1635.55,1530.60v4.90M1688.92,1530.60v4.90M1742.30,1530.60v4.90M1795.67,1530.60v4.90M1849.05,1530.60v4.90M1902.42,1530.60v4.90M1955.80,1530.60v4.90M1507.80,1530.60h-4.90M1507.80,1473.92h-4.90M1507.80,1417.23h-4.90M1507.80,1360.55h-4.90M1507.80,1303.87h-4.90M1507.80,1247.18h-4.90M1507.80,1190.50h-4.90" stroke="#4d4d4d" stroke-width="1.8"/><text x="1528.80" y="1551.60" text-anchor="middle">0</text><text x="1582.17" y="1551.60" text-anchor="middle">200</text><text x="1635.55" y="1551.60" text-anchor="middle">400</text><text x="1688.92" y="1551.60" text-anchor="middle">600</text><text x="1742.30" y="1551.60" text-anchor="middle">800</text><text x="1795.67" y="1551.60" text-anchor="middle">1000</text><text x="1849.05" y="1551.60" text-anchor="middle">1200</text><text x="1902.42" y="1551.60" text-anchor="middle">1400</text><text x="1955.80" y="1551.60" text-anchor="middle">1600</text><text x="1496.00" y="1536.00" text-anchor="end">−0.15</text><text x="1496.00" y="1479.32" text-anchor="end">−0.10</text><text x="1496.00" y="1422.64" text-anchor="end">−0.05</text><text x="1496.00" y="1365.95" text-anchor="end">0.00</text><text x="1496.00" y="1309.27" text-anchor="end">0.05</text><text x="1496.00" y="1252.59" text-anchor="end">0.10</text><text x="1496.00" y="1195.90" text-anchor="end">0.15</text></g><text x="1745.55" y="1574.90" text-anchor="middle" font-family="DejaVu Sans, sans-serif" font-size="18.0" fill="#444444">SBP_var</text><g fill="#1E88E5"><circle cx="158.4" cy="1815.4" r="2.8"/><circle cx="157.1" cy="1778.8" r="2.8"/><circle cx="152.7" cy="1778.4" r="2.8"/><circle cx="152.0" cy="1821.6" r="2.8"/><circle cx="159.3" cy="1832.4" r="2.8"/><circle cx="155.1" cy="1791.7" r="2.8"/><circle cx="152.1" cy="1817.9" r="2.8"/><circle cx="155.5" cy="1774.4" r="2.8"/><circle cx="171.7" cy="1846.7" r="2.8"/><circle cx="154.6" cy="1782.9" r="2.8"/><circle cx="159.0" cy="1795.6" r="2.8"/><circle cx="153.0" cy="1783.2" r="2.8"/><circle cx="157.8" cy="1797.7" r="2.8"/><circle cx="162.0" cy="1810.7" r="2.8"/><circle cx="153.5" cy="1787.9" r="2.8"/><circle cx="156.1" cy="1811.5" r="2.8"/><circle cx="161.7" cy="1789.4" r="2.8"/><circle cx="153.5" cy="1826.8" r="2.8"/><circle cx="164.8" cy="1815.7" r="2.8"/><circle cx="166.5" cy="1835.8" r="2.8"/><circle cx="152.2" cy="1777.9" r="2.8"/><circle cx="161.6" cy="1822.4" r="2.8"/><circle cx="162.3" cy="1805.4" r="2.8"/><circle cx="158.1" cy="1782.7" r="2.8"/><circle cx="170.1" cy="1846.9" r="2.8"/><circle cx="162.2" cy="1802.1" r="2.8"/><circle cx="154.2" cy="1813.8" r="2.8"/><circle cx="156.0" cy="1815.9" r="2.8"/><circle cx="157.4" cy="1802.1" r="2.8"/><circle cx="161.9" cy="1836.9" r="2.8"/><circle cx="160.2" cy="1801.0" r="2.8"/><circle cx="151.8" cy="1798.2" r="2.8"/><circle cx="152.9" cy="1783.1" r="2.8"/><circle cx="164.3" cy="1821.5" r="2.8"/><circle cx="161.7" cy="1786.6" r="2.8"/><circle cx="153.7" cy="1808.0" r="2.8"/><circle cx="152.0" cy="1784.9" r="2.8"/><circle cx="158.3" cy="1820.0" r="2.8"/><circle cx="153.7" cy="1800.6" r="2.8"/><circle cx="161.5" cy="1826.2" r="2.8"/><circle cx="156.9" cy="1775.6" r="2.8"/><circle cx="167.4" cy="1829.9" r="2.8"/><circle cx="163.8" cy="1840.0" r="2.8"/><circle cx="159.9" cy="1800.6" r="2.8"/><circle cx="154.6" cy="1803.4" r="2.8"/><circle cx="165.8" cy="1845.4" r="2.8"/><circle cx="153.8" cy="1785.3" r="2.8"/><circle cx="165.4" cy="1825.6" r="2.8"/><circle cx="151.9" cy="1783.9" r="2.8"/><circle cx="165.0" cy="1816.5" r="2.8"/><circle cx="161.1" cy="1834.6" r="2.8"/><circle cx="152.8" cy="1786.3" r="2.8"/><circle cx="168.0" cy="1825.6" r="2.8"/><circle cx="165.2" cy="1821.5" r="2.8"/><circle cx="157.8" cy="1813.8" r="2.8"/><circle cx="163.7" cy="1832.3" r="2.8"/><circle cx="156.4" cy="1786.1" r="2.8"/><circle cx="158.3" cy="1779.5" r="2.8"/><circle cx="162.7" cy="1833.1" r="2.8"/><circle cx="158.3" cy="1809.2" r="2.8"/><circle cx="171.6" cy="1831.2" r="2.8"/><circle cx="163.2" cy="1809.9" r="2.8"/><circle cx="167.8" cy="1834.3" r="2.8"/><circle cx="157.5" cy="1814.0" r="2.8"/><circle cx="160.5" cy="1826.9" r="2.8"/><circle cx="155.6" cy="1815.9" r="2.8"/><circle cx="156.2" cy="1767.6" r="2.8"/><circle cx="169.0" cy="1829.3" r="2.8"/><circle cx="159.8" cy="1809.9" r="2.8"/><circle cx="161.3" cy="1813.8" r="2.8"/><circle cx="158.6" cy="1829.1" r="2.8"/><circle cx="168.8" cy="1838.4" r="2.8"/><circle cx="155.3" cy="1809.2" r="2.8"/><circle cx="160.8" cy="1798.5" r="2.8"/><circle cx="159.2" cy="1817.2" r="2.8"/><circle cx="152.3" cy="1776.9" r="2.8"/><circle cx="168.8" cy="1836.3" r="2.8"/><circle cx="162.8" cy="1817.2" r="2.8"/><circle cx="156.9" cy="1785.4" r="2.8"/><circle cx="169.8" cy="1840.5" r="2.8"/><circle cx="152.1" cy="1816.9" r="2.8"/><circle cx="163.2" cy="1837.8" r="2.8"/><circle cx="152.7" cy="1811.1" r="2.8"/><circle cx="161.0" cy="1798.2" r="2.8"/><circle cx="156.5" cy="1800.4" r="2.8"/><circle cx="168.5" cy="1825.9" r="2.8"/><circle cx="152.2" cy="1780.3" r="2.8"/><circle cx="153.0" cy="1769.4" r="2.8"/><circle cx="155.8" cy="1819.0" r="2.8"/><circle cx="156.8" cy="1771.7" r="2.8"/><circle cx="170.2" cy="1845.8" r="2.8"/><circle cx="155.4" cy="1798.5" r="2.8"/><circle cx="165.3" cy="1837.5" r="2.8"/><circle cx="171.3" cy="1836.7" r="2.8"/><circle cx="158.0" cy="1831.1" r="2.8"/><circle cx="155.9" cy="1801.6" r="2.8"/><circle cx="153.1" cy="1769.8" r="2.8"/><circle cx="153.2" cy="1792.5" r="2.8"/><circle cx="155.1" cy="1786.7" r="2.8"/><circle cx="159.2" cy="1771.6" r="2.8"/><circle cx="168.2" cy="1820.8" r="2.8"/><circle cx="153.4" cy="1805.9" r="2.8"/><circle cx="168.3" cy="1832.8" r="2.8"/><circle cx="156.2" cy="1794.4" r="2.8"/><circle cx="159.3" cy="1822.4" r="2.8"/><circle cx="154.5" cy="1829.2" r="2.8"/><circle cx="155.4" cy="1774.7" r="2.8"/><circle cx="161.0" cy="1829.9" r="2.8"/><circle cx="167.2" cy="1821.0" r="2.8"/><circle cx="166.5" cy="1846.9" r="2.8"/><circle cx="171.0" cy="1834.1" r="2.8"/><circle cx="156.5" cy="1817.8" r="2.8"/><circle cx="152.2" cy="1782.0" r="2.8"/><circle cx="172.2" cy="1842.6" r="2.8"/><circle cx="167.1" cy="1830.3" r="2.8"/><circle cx="170.8" cy="1837.1" r="2.8"/><circle cx="164.6" cy="1828.7" r="2.8"/><circle cx="154.8" cy="1783.2" r="2.8"/><circle cx="166.9" cy="1824.5" r="2.8"/><circle cx="160.0" cy="1802.3" r="2.8"/><circle cx="158.7" cy="1830.7" r="2.8"/><circle cx="161.1" cy="1790.1" r="2.8"/><circle cx="156.2" cy="1801.3" r="2.8"/><circle cx="152.2" cy="1792.8" r="2.8"/><circle cx="162.9" cy="1811.0" r="2.8"/><circle cx="157.9" cy="1796.7" r="2.8"/><circle cx="162.5" cy="1804.5" r="2.8"/><circle cx="153.9" cy="1795.3" r="2.8"/><circle cx="162.8" cy="1815.8" r="2.8"/><circle cx="154.0" cy="1817.8" r="2.8"/><circle cx="159.9" cy="1805.7" r="2.8"/><circle cx="168.4" cy="1835.4" r="2.8"/><circle cx="165.3" cy="1810.6" r="2.8"/><circle cx="155.5" cy="1806.9" r="2.8"/><circle cx="153.2" cy="1764.5" r="2.8"/><circle cx="157.1" cy="1775.0" r="2.8"/><circle cx="154.1" cy="1818.2" r="2.8"/><circle cx="160.2" cy="1791.8" r="2.8"/><circle cx="158.2" cy="1794.1" r="2.8"/><circle cx="163.3" cy="1823.5" r="2.8"/><circle cx="153.8" cy="1829.1" r="2.8"/><circle cx="152.0" cy="1793.9" r="2.8"/><circle cx="167.6" cy="1821.9" r="2.8"/><circle cx="154.7" cy="1795.0" r="2.8"/><circle cx="156.4" cy="1789.8" r="2.8"/><circle cx="155.8" cy="1770.0" r="2.8"/><circle cx="169.8" cy="1835.4" r="2.8"/><circle cx="159.9" cy="1781.2" r="2.8"/><circle cx="160.8" cy="1817.3" r="2.8"/><circle cx="168.0" cy="1846.3" r="2.8"/><circle cx="155.2" cy="1824.2" r="2.8"/><circle cx="161.2" cy="1792.3" r="2.8"/><circle cx="152.9" cy="1785.9" r="2.8"/><circle cx="162.1" cy="1804.4" r="2.8"/><circle cx="161.5" cy="1796.1" r="2.8"/><circle cx="165.5" cy="1839.5" r="2.8"/><circle cx="161.2" cy="1797.6" r="2.8"/><circle cx="167.0" cy="1835.3" r="2.8"/><circle cx="168.7" cy="1841.2" r="2.8"/><circle cx="159.0" cy="1770.2" r="2.8"/><circle cx="152.3" cy="1799.4" r="2.8"/><circle cx="164.0" cy="1839.7" r="2.8"/><circle cx="155.2" cy="1832.8" r="2.8"/><circle cx="160.5" cy="1808.6" r="2.8"/><circle cx="154.3" cy="1791.4" r="2.8"/><circle cx="154.7" cy="1780.8" r="2.8"/><circle cx="161.3" cy="1793.0" r="2.8"/><circle cx="155.4" cy="1830.6" r="2.8"/><circle cx="158.1" cy="1828.9" r="2.8"/><circle cx="165.4" cy="1843.2" r="2.8"/><circle cx="155.2" cy="1811.8" r="2.8"/><circle cx="152.9" cy="1793.0" r="2.8"/><circle cx="153.1" cy="1809.5" r="2.8"/><circle cx="166.3" cy="1828.8" r="2.8"/><circle cx="162.8" cy="1806.5" r="2.8"/><circle cx="169.8" cy="1832.7" r="2.8"/><circle cx="158.5" cy="1823.9" r="2.8"/><circle cx="168.4" cy="1833.9" r="2.8"/><circle cx="165.5" cy="1823.5" r="2.8"/><circle cx="165.5" cy="1822.7" r="2.8"/><circle cx="165.9" cy="1816.9" r="2.8"/><circle cx="156.4" cy="1811.9" r="2.8"/><circle cx="159.3" cy="1828.4" r="2.8"/><circle cx="170.4" cy="1836.5" r="2.8"/><circle cx="162.3" cy="1830.9" r="2.8"/><circle cx="153.5" cy="1764.6" r="2.8"/><circle cx="157.8" cy="1781.9" r="2.8"/><circle cx="164.5" cy="1818.5" r="2.8"/><circle cx="158.9" cy="1786.5" r="2.8"/><circle cx="159.7" cy="1809.2" r="2.8"/><circle cx="153.9" cy="1826.4" r="2.8"/><circle cx="158.9" cy="1832.1" r="2.8"/><circle cx="158.4" cy="1800.0" r="2.8"/><circle cx="153.1" cy="1821.3" r="2.8"/><circle cx="167.9" cy="1844.5" r="2.8"/><circle cx="158.9" cy="1801.6" r="2.8"/><circle cx="157.0" cy="1794.8" r="2.8"/><circle cx="158.7" cy="1801.9" r="2.8"/><circle cx="161.3" cy="1820.5" r="2.8"/><circle cx="168.0" cy="1820.4" r="2.8"/><circle cx="162.9" cy="1823.5" r="2.8"/><circle cx="159.9" cy="1814.6" r="2.8"/><circle cx="163.7" cy="1818.3" r="2.8"/><circle cx="166.2" cy="1816.9" r="2.8"/><circle cx="154.4" cy="1817.5" r="2.8"/><circle cx="165.5" cy="1811.9" r="2.8"/><circle cx="162.2" cy="1791.4" r="2.8"/><circle cx="162.3" cy="1825.7" r="2.8"/><circle cx="169.6" cy="1845.9" r="2.8"/><circle cx="154.5" cy="1774.4" r="2.8"/><circle cx="167.6" cy="1837.4" r="2.8"/><circle cx="156.6" cy="1772.5" r="2.8"/><circle cx="164.3" cy="1822.4" r="2.8"/><circle cx="154.5" cy="1766.1" r="2.8"/><circle cx="153.8" cy="1801.7" r="2.8"/><circle cx="163.8" cy="1816.7" r="2.8"/><circle cx="158.6" cy="1817.4" r="2.8"/><circle cx="165.3" cy="1811.5" r="2.8"/><circle cx="161.6" cy="1799.4" r="2.8"/><circle cx="152.4" cy="1777.3" r="2.8"/><circle cx="161.5" cy="1814.2" r="2.8"/><circle cx="163.8" cy="1836.7" r="2.8"/><circle cx="164.2" cy="1809.4" r="2.8"/><circle cx="169.1" cy="1835.3" r="2.8"/><circle cx="167.4" cy="1838.7" r="2.8"/><circle cx="154.6" cy="1833.2" r="2.8"/><circle cx="152.4" cy="1783.2" r="2.8"/><circle cx="161.2" cy="1821.1" r="2.8"/><circle cx="158.7" cy="1823.3" r="2.8"/><circle cx="161.6" cy="1789.0" r="2.8"/><circle cx="167.0" cy="1847.8" r="2.8"/><circle cx="165.2" cy="1829.8" r="2.8"/><circle cx="152.1" cy="1819.5" r="2.8"/><circle cx="152.5" cy="1803.3" r="2.8"/><circle cx="154.1" cy="1828.6" r="2.8"/><circle cx="160.7" cy="1816.2" r="2.8"/><circle cx="169.7" cy="1827.5" r="2.8"/><circle cx="152.0" cy="1772.5" r="2.8"/><circle cx="167.1" cy="1824.3" r="2.8"/><circle cx="166.1" cy="1839.2" r="2.8"/><circle cx="158.2" cy="1797.8" r="2.8"/><circle cx="166.7" cy="1840.2" r="2.8"/><circle cx="169.3" cy="1841.7" r="2.8"/><circle cx="152.1" cy="1784.1" r="2.8"/><circle cx="171.4" cy="1828.4" r="2.8"/><circle cx="157.2" cy="1782.6" r="2.8"/><circle cx="166.8" cy="1837.8" r="2.8"/><circle cx="161.5" cy="1826.8" r="2.8"/><circle cx="154.2" cy="1787.4" r="2.8"/><circle cx="161.6" cy="1804.2" r="2.8"/><circle cx="163.0" cy="1809.7" r="2.8"/><circle cx="163.2" cy="1837.1" r="2.8"/><circle cx="167.0" cy="1827.2" r="2.8"/><circle cx="163.6" cy="1827.5" r="2.8"/><circle cx="159.6" cy="1818.1" r="2.8"/><circle cx="160.8" cy="1817.4" r="2.8"/><circle cx="158.0" cy="1803.6" r="2.8"/><circle cx="163.1" cy="1839.2" r="2.8"/><circle cx="155.6" cy="1829.8" r="2.8"/><circle cx="157.3" cy="1794.1" r="2.8"/><circle cx="152.3" cy="1780.4" r="2.8"/><circle cx="158.4" cy="1804.9" r="2.8"/><circle cx="157.5" cy="1779.4" r="2.8"/><circle cx="162.8" cy="1805.1" r="2.8"/><circle cx="162.5" cy="1830.8" r="2.8"/><circle cx="153.0" cy="1810.0" r="2.8"/><circle cx="161.2" cy="1824.4" r="2.8"/><circle cx="159.1" cy="1830.2" r="2.8"/><circle cx="160.8" cy="1801.9" r="2.8"/><circle cx="153.7" cy="1766.6" r="2.8"/><circle cx="167.0" cy="1836.3" r="2.8"/><circle cx="151.9" cy="1823.9" r="2.8"/><circle cx="153.6" cy="1769.8" r="2.8"/><circle cx="153.8" cy="1804.0" r="2.8"/><circle cx="162.6" cy="1817.2" r="2.8"/><circle cx="162.6" cy="1832.1" r="2.8"/><circle cx="156.3" cy="1787.1" r="2.8"/><circle cx="162.1" cy="1832.6" r="2.8"/><circle cx="154.2" cy="1798.2" r="2.8"/><circle cx="154.1" cy="1799.2" r="2.8"/><circle cx="160.4" cy="1777.7" r="2.8"/><circle cx="171.5" cy="1846.4" r="2.8"/><circle cx="166.1" cy="1844.3" r="2.8"/><circle cx="158.0" cy="1810.0" r="2.8"/><circle cx="161.5" cy="1831.8" r="2.8"/><circle cx="167.3" cy="1824.8" r="2.8"/><circle cx="166.4" cy="1820.0" r="2.8"/><circle cx="155.4" cy="1803.6" r="2.8"/><circle cx="161.5" cy="1794.7" r="2.8"/><circle cx="157.6" cy="1790.7" r="2.8"/><circle cx="160.6" cy="1781.8" r="2.8"/><circle cx="157.3" cy="1791.8" r="2.8"/><circle cx="151.8" cy="1805.5" r="2.8"/><circle cx="157.0" cy="1823.1" r="2.8"/><circle cx="152.3" cy="1809.9" r="2.8"/><circle cx="166.9" cy="1816.9" r="2.8"/><circle cx="151.8" cy="1790.8" r="2.8"/><circle cx="158.5" cy="1771.0" r="2.8"/><circle cx="165.0" cy="1830.8" r="2.8"/><circle cx="163.6" cy="1819.7" r="2.8"/><circle cx="156.0" cy="1830.2" r="2.8"/><circle cx="167.0" cy="1820.0" r="2.8"/><circle cx="157.5" cy="1829.4" r="2.8"/><circle cx="155.9" cy="1829.9" r="2.8"/><circle cx="161.7" cy="1816.4" r="2.8"/><circle cx="166.5" cy="1824.0" r="2.8"/><circle cx="159.5" cy="1818.6" r="2.8"/><circle cx="158.6" cy="1821.5" r="2.8"/><circle cx="162.2" cy="1837.1" r="2.8"/><circle cx="158.8" cy="1780.7" r="2.8"/><circle cx="156.6" cy="1794.8" r="2.8"/><circle cx="154.8" cy="1778.8" r="2.8"/><circle cx="161.2" cy="1829.7" r="2.8"/><circle cx="156.3" cy="1810.9" r="2.8"/><circle cx="158.8" cy="1771.1" r="2.8"/><circle cx="159.3" cy="1823.0" r="2.8"/><circle cx="155.8" cy="1817.6" r="2.8"/><circle cx="170.6" cy="1846.6" r="2.8"/><circle cx="166.2" cy="1836.9" r="2.8"/><circle cx="152.2" cy="1773.5" r="2.8"/><circle cx="171.0" cy="1843.2" r="2.8"/><circle cx="171.0" cy="1835.6" r="2.8"/><circle cx="157.9" cy="1773.3" r="2.8"/><circle cx="154.4" cy="1797.1" r="2.8"/><circle cx="160.2" cy="1810.1" r="2.8"/><circle cx="156.6" cy="1781.0" r="2.8"/><circle cx="155.2" cy="1815.4" r="2.8"/><circle cx="162.6" cy="1820.8" r="2.8"/><circle cx="153.2" cy="1783.1" r="2.8"/><circle cx="168.1" cy="1827.7" r="2.8"/><circle cx="159.2" cy="1810.3" r="2.8"/><circle cx="160.8" cy="1803.3" r="2.8"/><circle cx="164.6" cy="1823.3" r="2.8"/><circle cx="161.6" cy="1790.9" r="2.8"/><circle cx="154.9" cy="1792.5" r="2.8"/><circle cx="158.6" cy="1784.3" r="2.8"/><circle cx="153.5" cy="1830.9" r="2.8"/><circle cx="158.6" cy="1825.7" r="2.8"/><circle cx="159.7" cy="1805.2" r="2.8"/><circle cx="152.7" cy="1810.4" r="2.8"/><circle cx="170.4" cy="1826.9" r="2.8"/><circle cx="158.0" cy="1800.7" r="2.8"/><circle cx="168.1" cy="1828.5" r="2.8"/><circle cx="158.9" cy="1807.6" r="2.8"/><circle cx="155.0" cy="1795.5" r="2.8"/><circle cx="151.9" cy="1724.5" r="2.8"/><circle cx="151.9" cy="1744.2" r="2.8"/><circle cx="151.9" cy="1753.5" r="2.8"/><circle cx="151.9" cy="1755.1" r="2.8"/><circle cx="167.6" cy="1807.8" r="2.8"/><circle cx="174.0" cy="1835.2" r="2.8"/><circle cx="173.6" cy="1845.2" r="2.8"/><circle cx="168.8" cy="1852.5" r="2.8"/><circle cx="173.2" cy="1859.7" r="2.8"/><circle cx="170.4" cy="1866.1" r="2.8"/><circle cx="173.6" cy="1867.7" r="2.8"/><circle cx="187.1" cy="1892.2" r="2.8"/><circle cx="175.7" cy="1899.8" r="2.8"/><circle cx="206.2" cy="1905.5" r="2.8"/><circle cx="208.1" cy="1908.6" r="2.8"/><circle cx="184.5" cy="1901.7" r="2.8"/><circle cx="194.8" cy="1905.5" r="2.8"/><circle cx="175.7" cy="1911.3" r="2.8"/><circle cx="181.4" cy="1917.0" r="2.8"/><circle cx="173.8" cy="1923.9" r="2.8"/><circle cx="177.6" cy="1928.5" r="2.8"/><circle cx="191.0" cy="1920.8" r="2.8"/><circle cx="196.7" cy="1928.5" r="2.8"/><circle cx="200.5" cy="1920.1" r="2.8"/><circle cx="212.0" cy="1927.7" r="2.8"/><circle cx="217.7" cy="1911.3" r="2.8"/><circle cx="221.5" cy="1913.2" r="2.8"/><circle cx="236.8" cy="1922.0" r="2.8"/><circle cx="255.9" cy="1917.8" r="2.8"/><circle cx="261.6" cy="1916.2" r="2.8"/><circle cx="265.4" cy="1907.5" r="2.8"/><circle cx="263.5" cy="1928.5" r="2.8"/><circle cx="191.0" cy="1936.1" r="2.8"/><circle cx="194.8" cy="1934.2" r="2.8"/><circle cx="198.6" cy="1936.1" r="2.8"/><circle cx="206.2" cy="1932.3" r="2.8"/><circle cx="202.4" cy="1939.9" r="2.8"/><circle cx="213.9" cy="1941.8" r="2.8"/><circle cx="233.0" cy="1936.1" r="2.8"/><circle cx="173.8" cy="1939.9" r="2.8"/><circle cx="175.7" cy="1943.7" r="2.8"/><circle cx="179.5" cy="1941.8" r="2.8"/><circle cx="185.2" cy="1939.9" r="2.8"/><circle cx="192.9" cy="1945.6" r="2.8"/><circle cx="179.5" cy="1951.4" r="2.8"/><circle cx="187.1" cy="1951.4" r="2.8"/><circle cx="196.7" cy="1951.4" r="2.8"/><circle cx="192.9" cy="1957.1" r="2.8"/><circle cx="200.5" cy="1960.9" r="2.8"/><circle cx="177.6" cy="1957.1" r="2.8"/><circle cx="185.2" cy="1960.9" r="2.8"/><circle cx="179.5" cy="1962.8" r="2.8"/><circle cx="177.6" cy="1971.2" r="2.8"/><circle cx="198.6" cy="1964.7" r="2.8"/><circle cx="208.1" cy="1947.6" r="2.8"/><circle cx="210.1" cy="1960.9" r="2.8"/><circle cx="212.0" cy="1966.6" r="2.8"/><circle cx="215.8" cy="1945.6" r="2.8"/><circle cx="225.3" cy="1932.3" r="2.8"/><circle cx="229.2" cy="1943.7" r="2.8"/><circle cx="231.1" cy="1951.4" r="2.8"/><circle cx="234.9" cy="1960.9" r="2.8"/><circle cx="238.7" cy="1964.7" r="2.8"/><circle cx="240.6" cy="1947.6" r="2.8"/><circle cx="244.4" cy="1949.5" r="2.8"/><circle cx="225.3" cy="1960.9" r="2.8"/><circle cx="216.9" cy="1970.5" r="2.8"/><circle cx="225.3" cy="1974.3" r="2.8"/><circle cx="179.5" cy="1985.7" r="2.8"/><circle cx="183.3" cy="1980.0" r="2.8"/><circle cx="185.2" cy="1989.6" r="2.8"/><circle cx="194.8" cy="1995.3" r="2.8"/><circle cx="198.6" cy="1993.4" r="2.8"/><circle cx="215.8" cy="1981.9" r="2.8"/><circle cx="222.7" cy="1993.4" r="2.8"/><circle cx="225.3" cy="1999.1" r="2.8"/><circle cx="231.1" cy="1992.6" r="2.8"/><circle cx="246.3" cy="2001.0" r="2.8"/><circle cx="259.7" cy="2001.0" r="2.8"/><circle cx="261.6" cy="2004.8" r="2.8"/><circle cx="261.6" cy="1960.9" r="2.8"/><circle cx="265.4" cy="1939.9" r="2.8"/><circle cx="268.5" cy="1956.3" r="2.8"/><circle cx="259.7" cy="1934.2" r="2.8"/><circle cx="284.5" cy="1927.3" r="2.8"/><circle cx="286.4" cy="1947.6" r="2.8"/><circle cx="292.2" cy="1943.0" r="2.8"/><circle cx="297.1" cy="1951.4" r="2.8"/><circle cx="297.9" cy="1930.4" r="2.8"/><circle cx="299.8" cy="1930.4" r="2.8"/><circle cx="302.5" cy="1970.5" r="2.8"/><circle cx="309.4" cy="1969.7" r="2.8"/><circle cx="315.1" cy="1951.4" r="2.8"/><circle cx="313.2" cy="1999.1" r="2.8"/><circle cx="323.9" cy="1917.0" r="2.8"/><circle cx="329.2" cy="1912.4" r="2.8"/><circle cx="324.6" cy="1987.7" r="2.8"/><circle cx="332.3" cy="1968.6" r="2.8"/><circle cx="338.0" cy="1976.2" r="2.8"/><circle cx="332.3" cy="2015.5" r="2.8"/><circle cx="341.1" cy="2006.8" r="2.8"/><circle cx="347.6" cy="1950.6" r="2.8"/><circle cx="355.2" cy="1944.9" r="2.8"/><circle cx="367.8" cy="1971.6" r="2.8"/><circle cx="380.0" cy="1933.0" r="2.8"/><circle cx="381.9" cy="1941.8" r="2.8"/><circle cx="379.3" cy="1960.2" r="2.8"/><circle cx="391.5" cy="1965.5" r="2.8"/><circle cx="399.9" cy="1939.2" r="2.8"/><circle cx="402.9" cy="1948.3" r="2.8"/><circle cx="404.8" cy="1939.2" r="2.8"/><circle cx="422.0" cy="1989.6" r="2.8"/><circle cx="432.7" cy="1930.4" r="2.8"/><circle cx="487.0" cy="1939.2" r="2.8"/><circle cx="518.3" cy="1986.9" r="2.8"/><circle cx="600.4" cy="2012.5" r="2.8"/><circle cx="211.2" cy="2049.9" r="2.8"/><circle cx="223.4" cy="2041.1" r="2.8"/><circle cx="225.3" cy="2029.7" r="2.8"/><circle cx="283.8" cy="2061.0" r="2.8"/><circle cx="286.4" cy="2075.5" r="2.8"/><circle cx="308.6" cy="2065.2" r="2.8"/><circle cx="344.9" cy="2035.4" r="2.8"/><circle cx="280.7" cy="1997.2" r="2.8"/></g><path d="M129.50,1848.94H605.30" stroke="#888888" stroke-width="2.2" stroke-dasharray="7.7 4.05" fill="none"/><path d="M172.60,1707.70V2093.80" stroke="#888888" stroke-width="2.2" stroke-dasharray="7.7 4.05" fill="none"/><g font-family="DejaVu Sans, sans-serif" font-size="14.6" fill="#444444"><path d="M129.50,1707.70V2093.80H605.30" fill="none" stroke="#4d4d4d" stroke-width="1.8"/><path d="M152.00,2093.80v4.90M233.12,2093.80v4.90M314.24,2093.80v4.90M395.36,2093.80v4.90M476.48,2093.80v4.90M557.60,2093.80v4.90M129.50,2075.50h-4.90M129.50,2030.19h-4.90M129.50,1984.88h-4.90M129.50,1939.56h-4.90M129.50,1894.25h-4.90M129.50,1848.94h-4.90M129.50,1803.62h-4.90M129.50,1758.31h-4.90M129.50,1713.00h-4.90" stroke="#4d4d4d" stroke-width="1.8"/><text x="152.00" y="2114.80" text-anchor="middle">0</text><text x="233.12" y="2114.80" text-anchor="middle">10</text><text x="314.24" y="2114.80" text-anchor="middle">20</text><text x="395.36" y="2114.80" text-anchor="middle">30</text><text x="476.48" y="2114.80" text-anchor="middle">40</text><text x="557.60" y="2114.80" text-anchor="middle">50</text><text x="117.70" y="2080.90" text-anchor="end">−0.25</text><text x="117.70" y="2035.59" text-anchor="end">−0.20</text><text x="117.70" y="1990.28" text-anchor="end">−0.15</text><text x="117.70" y="1944.96" text-anchor="end">−0.10</text><text x="117.70" y="1899.65" text-anchor="end">−0.05</text><text x="117.70" y="1854.34" text-anchor="end">0.00</text><text x="117.70" y="1809.03" text-anchor="end">0.05</text><text x="117.70" y="1763.71" text-anchor="end">0.10</text><text x="117.70" y="1718.40" text-anchor="end">0.15</text></g><text x="367.40" y="2138.10" text-anchor="middle" font-family="DejaVu Sans, sans-serif" font-size="18.0" fill="#444444">Days to ICU admission</text><g fill="#1E88E5"><circle cx="878.1" cy="1980.0" r="2.8"/><circle cx="880.1" cy="1972.8" r="2.8"/><circle cx="869.6" cy="1970.1" r="2.8"/><circle cx="870.2" cy="1946.8" r="2.8"/><circle cx="869.9" cy="1993.0" r="2.8"/><circle cx="888.8" cy="1967.3" r="2.8"/><circle cx="867.9" cy="1979.4" r="2.8"/><circle cx="887.0" cy="2019.9" r="2.8"/><circle cx="871.9" cy="1969.2" r="2.8"/><circle cx="892.4" cy="1993.6" r="2.8"/><circle cx="860.6" cy="1977.3" r="2.8"/><circle cx="870.3" cy="1960.6" r="2.8"/><circle cx="890.3" cy="2028.2" r="2.8"/><circle cx="867.0" cy="1943.5" r="2.8"/><circle cx="865.6" cy="1952.1" r="2.8"/><circle cx="886.7" cy="1972.6" r="2.8"/><circle cx="879.3" cy="1946.8" r="2.8"/><circle cx="891.6" cy="1972.5" r="2.8"/><circle cx="867.7" cy="1993.4" r="2.8"/><circle cx="874.7" cy="1943.0" r="2.8"/><circle cx="894.8" cy="2031.0" r="2.8"/><circle cx="875.0" cy="1953.3" r="2.8"/><circle cx="888.5" cy="2009.4" r="2.8"/><circle cx="885.4" cy="1969.6" r="2.8"/><circle cx="869.5" cy="1992.5" r="2.8"/><circle cx="889.4" cy="1981.7" r="2.8"/><circle cx="878.5" cy="1973.3" r="2.8"/><circle cx="890.5" cy="2032.0" r="2.8"/><circle cx="890.2" cy="1974.9" r="2.8"/><circle cx="879.5" cy="1994.2" r="2.8"/><circle cx="885.9" cy="1986.7" r="2.8"/><circle cx="890.5" cy="1959.5" r="2.8"/><circle cx="885.0" cy="1964.5" r="2.8"/><circle cx="877.5" cy="1977.8" r="2.8"/><circle cx="860.8" cy="1949.1" r="2.8"/><circle cx="878.7" cy="2001.7" r="2.8"/><circle cx="882.9" cy="2008.4" r="2.8"/><circle cx="891.9" cy="1957.8" r="2.8"/><circle cx="885.6" cy="1981.8" r="2.8"/><circle cx="870.1" cy="1951.0" r="2.8"/><circle cx="886.4" cy="1952.5" r="2.8"/><circle cx="864.7" cy="1972.4" r="2.8"/><circle cx="875.1" cy="1978.8" r="2.8"/><circle cx="887.9" cy="1980.4" r="2.8"/><circle cx="887.6" cy="1958.7" r="2.8"/><circle cx="892.7" cy="1999.1" r="2.8"/><circle cx="872.5" cy="1948.3" r="2.8"/><circle cx="895.8" cy="2011.0" r="2.8"/><circle cx="876.5" cy="1990.0" r="2.8"/><circle cx="878.1" cy="1985.4" r="2.8"/><circle cx="861.6" cy="1999.3" r="2.8"/><circle cx="872.2" cy="1950.4" r="2.8"/><circle cx="872.4" cy="1974.5" r="2.8"/><circle cx="860.3" cy="1962.3" r="2.8"/><circle cx="870.3" cy="1948.3" r="2.8"/><circle cx="874.8" cy="1938.4" r="2.8"/><circle cx="877.5" cy="1968.3" r="2.8"/><circle cx="869.7" cy="2000.6" r="2.8"/><circle cx="883.2" cy="1945.4" r="2.8"/><circle cx="862.8" cy="2000.9" r="2.8"/><circle cx="872.6" cy="1949.8" r="2.8"/><circle cx="869.1" cy="1961.3" r="2.8"/><circle cx="864.2" cy="1989.5" r="2.8"/><circle cx="887.0" cy="2000.8" r="2.8"/><circle cx="883.7" cy="1974.7" r="2.8"/><circle cx="886.5" cy="1961.8" r="2.8"/><circle cx="894.1" cy="2010.8" r="2.8"/><circle cx="883.6" cy="1962.1" r="2.8"/><circle cx="878.2" cy="1957.6" r="2.8"/><circle cx="890.6" cy="2035.7" r="2.8"/><circle cx="890.8" cy="2032.9" r="2.8"/><circle cx="873.8" cy="1979.4" r="2.8"/><circle cx="870.2" cy="1938.8" r="2.8"/><circle cx="881.9" cy="1936.7" r="2.8"/><circle cx="858.8" cy="1967.3" r="2.8"/><circle cx="875.0" cy="1979.5" r="2.8"/><circle cx="889.2" cy="2019.3" r="2.8"/><circle cx="874.3" cy="1942.0" r="2.8"/><circle cx="870.8" cy="1939.6" r="2.8"/><circle cx="871.3" cy="1960.5" r="2.8"/><circle cx="894.8" cy="2016.3" r="2.8"/><circle cx="888.3" cy="2005.0" r="2.8"/><circle cx="890.0" cy="1990.2" r="2.8"/><circle cx="881.5" cy="1935.7" r="2.8"/><circle cx="860.2" cy="1973.3" r="2.8"/><circle cx="893.8" cy="1986.9" r="2.8"/><circle cx="893.7" cy="1991.0" r="2.8"/><circle cx="859.1" cy="1958.1" r="2.8"/><circle cx="887.8" cy="1960.4" r="2.8"/><circle cx="869.1" cy="1999.7" r="2.8"/><circle cx="864.3" cy="1996.4" r="2.8"/><circle cx="887.0" cy="1953.0" r="2.8"/><circle cx="864.4" cy="1948.6" r="2.8"/><circle cx="872.7" cy="1996.9" r="2.8"/><circle cx="895.4" cy="1989.4" r="2.8"/><circle cx="877.2" cy="1984.8" r="2.8"/><circle cx="864.3" cy="2001.0" r="2.8"/><circle cx="886.0" cy="1999.9" r="2.8"/><circle cx="876.2" cy="1977.3" r="2.8"/><circle cx="887.8" cy="1980.1" r="2.8"/><circle cx="883.0" cy="1961.6" r="2.8"/><circle cx="886.4" cy="2010.9" r="2.8"/><circle cx="868.9" cy="1995.4" r="2.8"/><circle cx="879.7" cy="1998.6" r="2.8"/><circle cx="873.2" cy="1992.5" r="2.8"/><circle cx="858.8" cy="1960.2" r="2.8"/><circle cx="873.3" cy="1993.1" r="2.8"/><circle cx="880.8" cy="1960.0" r="2.8"/><circle cx="885.6" cy="2014.1" r="2.8"/><circle cx="878.4" cy="1964.6" r="2.8"/><circle cx="894.6" cy="1985.6" r="2.8"/><circle cx="890.3" cy="1971.4" r="2.8"/><circle cx="870.0" cy="1937.8" r="2.8"/><circle cx="878.1" cy="1977.6" r="2.8"/><circle cx="868.4" cy="1968.0" r="2.8"/><circle cx="870.1" cy="1992.4" r="2.8"/><circle cx="890.8" cy="1981.1" r="2.8"/><circle cx="862.4" cy="1990.7" r="2.8"/><circle cx="865.0" cy="1964.6" r="2.8"/><circle cx="874.0" cy="1989.1" r="2.8"/><circle cx="890.1" cy="1960.1" r="2.8"/><circle cx="871.1" cy="2001.1" r="2.8"/><circle cx="888.4" cy="1986.7" r="2.8"/><circle cx="869.9" cy="1966.1" r="2.8"/><circle cx="890.0" cy="1968.0" r="2.8"/><circle cx="873.8" cy="1951.5" r="2.8"/><circle cx="885.8" cy="2002.5" r="2.8"/><circle cx="894.5" cy="1961.7" r="2.8"/><circle cx="867.7" cy="1969.4" r="2.8"/><circle cx="881.5" cy="1941.0" r="2.8"/><circle cx="882.8" cy="1999.9" r="2.8"/><circle cx="894.5" cy="2002.9" r="2.8"/><circle cx="890.3" cy="2030.2" r="2.8"/><circle cx="890.6" cy="1988.1" r="2.8"/><circle cx="875.2" cy="2003.5" r="2.8"/><circle cx="887.9" cy="1967.4" r="2.8"/><circle cx="871.2" cy="1946.5" r="2.8"/><circle cx="870.1" cy="1971.5" r="2.8"/><circle cx="882.5" cy="1989.8" r="2.8"/><circle cx="881.1" cy="1953.3" r="2.8"/><circle cx="872.3" cy="1975.2" r="2.8"/><circle cx="876.7" cy="1995.2" r="2.8"/><circle cx="893.2" cy="1975.3" r="2.8"/><circle cx="885.0" cy="1975.9" r="2.8"/><circle cx="877.5" cy="1993.5" r="2.8"/><circle cx="863.6" cy="1977.3" r="2.8"/><circle cx="884.9" cy="2023.4" r="2.8"/><circle cx="880.7" cy="1969.9" r="2.8"/><circle cx="878.7" cy="1994.0" r="2.8"/><circle cx="877.3" cy="1989.6" r="2.8"/><circle cx="893.4" cy="1980.1" r="2.8"/><circle cx="892.6" cy="2033.2" r="2.8"/><circle cx="893.8" cy="1999.2" r="2.8"/><circle cx="895.9" cy="2011.6" r="2.8"/><circle cx="875.2" cy="1962.6" r="2.8"/><circle cx="885.9" cy="2013.6" r="2.8"/><circle cx="872.1" cy="1948.4" r="2.8"/><circle cx="865.5" cy="1981.9" r="2.8"/><circle cx="888.3" cy="1961.9" r="2.8"/><circle cx="863.3" cy="2002.2" r="2.8"/><circle cx="873.8" cy="2000.6" r="2.8"/><circle cx="873.6" cy="2000.3" r="2.8"/><circle cx="883.7" cy="1958.5" r="2.8"/><circle cx="884.5" cy="1969.3" r="2.8"/><circle cx="860.8" cy="1974.6" r="2.8"/><circle cx="889.3" cy="2024.5" r="2.8"/><circle cx="889.4" cy="1995.2" r="2.8"/><circle cx="893.5" cy="2009.8" r="2.8"/><circle cx="885.4" cy="1974.7" r="2.8"/><circle cx="882.9" cy="1975.6" r="2.8"/><circle cx="881.9" cy="1946.2" r="2.8"/><circle cx="867.9" cy="1964.3" r="2.8"/><circle cx="863.7" cy="1974.8" r="2.8"/><circle cx="874.4" cy="1977.4" r="2.8"/><circle cx="861.8" cy="1959.8" r="2.8"/><circle cx="885.8" cy="1951.9" r="2.8"/><circle cx="860.6" cy="1963.6" r="2.8"/><circle cx="866.1" cy="1959.7" r="2.8"/><circle cx="890.9" cy="1974.6" r="2.8"/><circle cx="873.1" cy="2002.6" r="2.8"/><circle cx="868.4" cy="1965.9" r="2.8"/><circle cx="886.6" cy="2030.3" r="2.8"/><circle cx="870.4" cy="1984.8" r="2.8"/><circle cx="887.6" cy="2019.6" r="2.8"/><circle cx="873.9" cy="1991.0" r="2.8"/><circle cx="877.7" cy="1944.1" r="2.8"/><circle cx="888.9" cy="2012.3" r="2.8"/><circle cx="892.1" cy="1963.3" r="2.8"/><circle cx="889.0" cy="1969.5" r="2.8"/><circle cx="885.8" cy="1999.9" r="2.8"/><circle cx="878.3" cy="2001.3" r="2.8"/><circle cx="869.3" cy="1969.7" r="2.8"/><circle cx="877.2" cy="1998.0" r="2.8"/><circle cx="863.9" cy="1969.9" r="2.8"/><circle cx="888.6" cy="2013.6" r="2.8"/><circle cx="883.2" cy="2017.7" r="2.8"/><circle cx="879.9" cy="1943.1" r="2.8"/><circle cx="870.0" cy="1956.9" r="2.8"/><circle cx="893.3" cy="2021.4" r="2.8"/><circle cx="893.6" cy="1977.1" r="2.8"/><circle cx="883.2" cy="2018.1" r="2.8"/><circle cx="871.6" cy="1943.8" r="2.8"/><circle cx="880.8" cy="1989.9" r="2.8"/><circle cx="892.6" cy="2026.0" r="2.8"/><circle cx="863.9" cy="1974.3" r="2.8"/><circle cx="869.3" cy="1994.0" r="2.8"/><circle cx="863.4" cy="1979.1" r="2.8"/><circle cx="893.4" cy="1968.8" r="2.8"/><circle cx="861.9" cy="1975.3" r="2.8"/><circle cx="876.8" cy="1985.0" r="2.8"/><circle cx="894.4" cy="1981.0" r="2.8"/><circle cx="866.8" cy="1955.7" r="2.8"/><circle cx="884.5" cy="1983.8" r="2.8"/><circle cx="873.6" cy="1956.2" r="2.8"/><circle cx="872.3" cy="1956.0" r="2.8"/><circle cx="881.4" cy="2000.1" r="2.8"/><circle cx="867.3" cy="1971.3" r="2.8"/><circle cx="867.7" cy="1973.3" r="2.8"/><circle cx="879.8" cy="1982.5" r="2.8"/><circle cx="872.8" cy="2001.1" r="2.8"/><circle cx="876.6" cy="1987.2" r="2.8"/><circle cx="863.1" cy="1973.3" r="2.8"/><circle cx="871.6" cy="1955.5" r="2.8"/><circle cx="885.4" cy="1967.2" r="2.8"/><circle cx="865.8" cy="1957.5" r="2.8"/><circle cx="865.5" cy="1964.2" r="2.8"/><circle cx="893.6" cy="1973.3" r="2.8"/><circle cx="881.3" cy="1943.0" r="2.8"/><circle cx="871.7" cy="1950.2" r="2.8"/><circle cx="864.9" cy="1949.7" r="2.8"/><circle cx="888.9" cy="1995.3" r="2.8"/><circle cx="885.8" cy="1976.5" r="2.8"/><circle cx="881.0" cy="1997.7" r="2.8"/><circle cx="889.8" cy="1959.4" r="2.8"/><circle cx="883.2" cy="1978.5" r="2.8"/><circle cx="888.6" cy="1986.5" r="2.8"/><circle cx="870.6" cy="1958.9" r="2.8"/><circle cx="868.7" cy="1989.2" r="2.8"/><circle cx="871.4" cy="1978.4" r="2.8"/><circle cx="876.3" cy="1949.6" r="2.8"/><circle cx="867.7" cy="1992.8" r="2.8"/><circle cx="886.2" cy="2023.3" r="2.8"/><circle cx="883.4" cy="2000.4" r="2.8"/><circle cx="870.4" cy="1982.7" r="2.8"/><circle cx="880.6" cy="1984.8" r="2.8"/><circle cx="886.3" cy="1973.1" r="2.8"/><circle cx="860.7" cy="1990.9" r="2.8"/><circle cx="861.8" cy="1992.0" r="2.8"/><circle cx="877.2" cy="1947.7" r="2.8"/><circle cx="862.3" cy="1997.0" r="2.8"/><circle cx="887.1" cy="1975.5" r="2.8"/><circle cx="882.8" cy="1971.6" r="2.8"/><circle cx="891.3" cy="2022.7" r="2.8"/><circle cx="872.2" cy="1963.0" r="2.8"/><circle cx="887.9" cy="1968.9" r="2.8"/><circle cx="877.9" cy="1987.4" r="2.8"/><circle cx="864.3" cy="1965.7" r="2.8"/><circle cx="885.5" cy="2010.2" r="2.8"/><circle cx="880.2" cy="1997.8" r="2.8"/><circle cx="862.6" cy="1989.2" r="2.8"/><circle cx="864.5" cy="1968.0" r="2.8"/><circle cx="871.8" cy="1972.6" r="2.8"/><circle cx="865.6" cy="1976.5" r="2.8"/><circle cx="885.7" cy="2019.8" r="2.8"/><circle cx="862.8" cy="1977.2" r="2.8"/><circle cx="862.8" cy="1975.1" r="2.8"/><circle cx="860.7" cy="1949.0" r="2.8"/><circle cx="867.7" cy="1984.3" r="2.8"/><circle cx="887.5" cy="1965.9" r="2.8"/><circle cx="890.9" cy="1965.8" r="2.8"/><circle cx="877.2" cy="1981.0" r="2.8"/><circle cx="872.9" cy="1972.8" r="2.8"/><circle cx="888.6" cy="2025.9" r="2.8"/><circle cx="894.7" cy="1972.1" r="2.8"/><circle cx="888.6" cy="1971.9" r="2.8"/><circle cx="877.6" cy="1975.5" r="2.8"/><circle cx="887.1" cy="1986.0" r="2.8"/><circle cx="893.0" cy="1959.7" r="2.8"/><circle cx="893.5" cy="1973.8" r="2.8"/><circle cx="883.7" cy="1963.8" r="2.8"/><circle cx="881.1" cy="1954.6" r="2.8"/><circle cx="870.4" cy="1980.6" r="2.8"/><circle cx="883.6" cy="1987.8" r="2.8"/><circle cx="873.4" cy="1973.1" r="2.8"/><circle cx="887.8" cy="1991.6" r="2.8"/><circle cx="870.2" cy="1993.4" r="2.8"/><circle cx="883.5" cy="1940.5" r="2.8"/><circle cx="889.7" cy="2031.7" r="2.8"/><circle cx="882.6" cy="1955.4" r="2.8"/><circle cx="861.2" cy="1995.5" r="2.8"/><circle cx="871.9" cy="1982.7" r="2.8"/><circle cx="888.4" cy="2026.4" r="2.8"/><circle cx="883.3" cy="1953.2" r="2.8"/><circle cx="865.5" cy="1951.5" r="2.8"/><circle cx="896.3" cy="1987.8" r="2.8"/><circle cx="862.5" cy="1998.3" r="2.8"/><circle cx="891.1" cy="2031.0" r="2.8"/><circle cx="871.5" cy="1941.3" r="2.8"/><circle cx="885.0" cy="2016.6" r="2.8"/><circle cx="873.2" cy="1970.7" r="2.8"/><circle cx="876.7" cy="1991.8" r="2.8"/><circle cx="877.4" cy="1981.0" r="2.8"/><circle cx="866.1" cy="2002.4" r="2.8"/><circle cx="862.2" cy="1999.4" r="2.8"/><circle cx="883.7" cy="2019.5" r="2.8"/><circle cx="894.6" cy="2002.5" r="2.8"/><circle cx="872.1" cy="1976.6" r="2.8"/><circle cx="890.5" cy="2027.8" r="2.8"/><circle cx="866.9" cy="1975.7" r="2.8"/><circle cx="891.3" cy="1985.6" r="2.8"/><circle cx="894.8" cy="1984.6" r="2.8"/><circle cx="883.9" cy="1993.4" r="2.8"/><circle cx="878.5" cy="1971.2" r="2.8"/><circle cx="877.8" cy="1940.2" r="2.8"/><circle cx="892.4" cy="2013.4" r="2.8"/><circle cx="866.8" cy="1993.9" r="2.8"/><circle cx="869.4" cy="1948.3" r="2.8"/><circle cx="862.2" cy="1988.4" r="2.8"/><circle cx="859.7" cy="1974.1" r="2.8"/><circle cx="871.2" cy="1995.7" r="2.8"/><circle cx="879.6" cy="1973.2" r="2.8"/><circle cx="879.2" cy="1940.2" r="2.8"/><circle cx="876.4" cy="1934.3" r="2.8"/><circle cx="862.2" cy="1983.4" r="2.8"/><circle cx="888.9" cy="1983.0" r="2.8"/><circle cx="863.3" cy="1986.2" r="2.8"/><circle cx="892.9" cy="2024.0" r="2.8"/><circle cx="863.4" cy="1973.8" r="2.8"/><circle cx="880.5" cy="1989.5" r="2.8"/><circle cx="878.6" cy="1935.9" r="2.8"/><circle cx="884.0" cy="1999.2" r="2.8"/><circle cx="886.3" cy="2021.7" r="2.8"/><circle cx="880.4" cy="1957.1" r="2.8"/><circle cx="895.2" cy="2005.2" r="2.8"/><circle cx="877.2" cy="1940.9" r="2.8"/><circle cx="868.3" cy="1950.1" r="2.8"/><circle cx="891.8" cy="1982.9" r="2.8"/><circle cx="886.4" cy="1956.9" r="2.8"/><circle cx="890.3" cy="1960.0" r="2.8"/><circle cx="895.3" cy="1994.4" r="2.8"/><circle cx="874.4" cy="1975.6" r="2.8"/><circle cx="890.6" cy="1996.4" r="2.8"/><circle cx="868.0" cy="1944.8" r="2.8"/><circle cx="885.7" cy="1952.5" r="2.8"/><circle cx="884.4" cy="1987.3" r="2.8"/><circle cx="890.9" cy="1984.7" r="2.8"/><circle cx="870.5" cy="1958.0" r="2.8"/><circle cx="894.2" cy="2024.4" r="2.8"/><circle cx="874.0" cy="1952.7" r="2.8"/><circle cx="879.0" cy="1954.0" r="2.8"/><circle cx="874.3" cy="1980.8" r="2.8"/><circle cx="891.4" cy="1980.1" r="2.8"/><circle cx="870.8" cy="1998.5" r="2.8"/><circle cx="896.1" cy="1976.6" r="2.8"/><circle cx="884.5" cy="1999.4" r="2.8"/><circle cx="876.8" cy="1949.6" r="2.8"/><circle cx="889.7" cy="2010.1" r="2.8"/><circle cx="862.1" cy="1999.8" r="2.8"/><circle cx="891.8" cy="1986.8" r="2.8"/><circle cx="880.0" cy="2001.6" r="2.8"/><circle cx="862.7" cy="1992.1" r="2.8"/><circle cx="873.9" cy="1951.1" r="2.8"/><circle cx="883.6" cy="2000.6" r="2.8"/><circle cx="863.9" cy="1990.5" r="2.8"/><circle cx="885.2" cy="1959.6" r="2.8"/><circle cx="879.6" cy="2000.9" r="2.8"/><circle cx="886.6" cy="2012.6" r="2.8"/><circle cx="880.9" cy="1977.7" r="2.8"/><circle cx="892.1" cy="1969.0" r="2.8"/><circle cx="895.4" cy="2002.4" r="2.8"/><circle cx="882.4" cy="2004.2" r="2.8"/><circle cx="899.2" cy="1919.8" r="2.8"/><circle cx="899.2" cy="1930.1" r="2.8"/><circle cx="841.1" cy="1937.4" r="2.8"/><circle cx="842.0" cy="1945.9" r="2.8"/><circle cx="842.0" cy="1950.2" r="2.8"/><circle cx="842.8" cy="1954.4" r="2.8"/><circle cx="841.1" cy="1959.6" r="2.8"/><circle cx="842.0" cy="1961.3" r="2.8"/><circle cx="841.1" cy="1967.3" r="2.8"/><circle cx="847.1" cy="1971.1" r="2.8"/><circle cx="852.2" cy="1948.5" r="2.8"/><circle cx="853.9" cy="1951.0" r="2.8"/><circle cx="841.1" cy="1980.1" r="2.8"/><circle cx="845.4" cy="1979.7" r="2.8"/><circle cx="849.7" cy="1979.2" r="2.8"/><circle cx="853.1" cy="1976.7" r="2.8"/><circle cx="856.5" cy="1980.9" r="2.8"/><circle cx="848.4" cy="1992.9" r="2.8"/><circle cx="862.5" cy="2014.3" r="2.8"/><circle cx="864.2" cy="2016.0" r="2.8"/><circle cx="858.2" cy="2017.7" r="2.8"/><circle cx="852.2" cy="2019.4" r="2.8"/><circle cx="862.5" cy="2020.3" r="2.8"/><circle cx="852.6" cy="2025.0" r="2.8"/><circle cx="873.2" cy="2013.4" r="2.8"/><circle cx="871.5" cy="2025.0" r="2.8"/><circle cx="854.4" cy="2037.8" r="2.8"/><circle cx="864.2" cy="2036.1" r="2.8"/><circle cx="872.7" cy="2042.1" r="2.8"/><circle cx="876.6" cy="2042.1" r="2.8"/><circle cx="884.7" cy="2040.3" r="2.8"/><circle cx="889.0" cy="2045.0" r="2.8"/><circle cx="887.3" cy="2050.2" r="2.8"/><circle cx="889.0" cy="2054.4" r="2.8"/><circle cx="893.2" cy="2054.4" r="2.8"/><circle cx="896.7" cy="2053.6" r="2.8"/><circle cx="891.5" cy="2063.8" r="2.8"/><circle cx="895.0" cy="2062.1" r="2.8"/><circle cx="889.0" cy="2073.7" r="2.8"/><circle cx="899.2" cy="1998.9" r="2.8"/><circle cx="899.2" cy="2028.8" r="2.8"/><circle cx="898.4" cy="1969.0" r="2.8"/><circle cx="898.4" cy="1977.5" r="2.8"/><circle cx="889.8" cy="1956.2" r="2.8"/><circle cx="882.1" cy="2029.7" r="2.8"/><circle cx="906.8" cy="1847.9" r="2.8"/><circle cx="944.9" cy="1844.5" r="2.8"/><circle cx="914.9" cy="1869.1" r="2.8"/><circle cx="915.8" cy="1839.4" r="2.8"/><circle cx="924.0" cy="1847.6" r="2.8"/><circle cx="917.3" cy="1836.6" r="2.8"/><circle cx="926.3" cy="1852.1" r="2.8"/><circle cx="935.1" cy="1844.9" r="2.8"/><circle cx="918.7" cy="1857.3" r="2.8"/><circle cx="901.0" cy="1836.3" r="2.8"/><circle cx="914.4" cy="1831.2" r="2.8"/><circle cx="914.6" cy="1870.2" r="2.8"/><circle cx="904.6" cy="1842.9" r="2.8"/><circle cx="918.0" cy="1847.5" r="2.8"/><circle cx="920.2" cy="1845.2" r="2.8"/><circle cx="918.3" cy="1855.3" r="2.8"/><circle cx="924.7" cy="1840.4" r="2.8"/><circle cx="919.0" cy="1860.2" r="2.8"/><circle cx="909.0" cy="1844.1" r="2.8"/><circle cx="921.2" cy="1826.7" r="2.8"/><circle cx="913.5" cy="1828.1" r="2.8"/><circle cx="912.4" cy="1861.5" r="2.8"/><circle cx="910.5" cy="1863.0" r="2.8"/><circle cx="914.0" cy="1826.7" r="2.8"/><circle cx="918.9" cy="1847.5" r="2.8"/><circle cx="913.9" cy="1832.2" r="2.8"/><circle cx="917.3" cy="1853.8" r="2.8"/><circle cx="913.9" cy="1838.9" r="2.8"/><circle cx="921.0" cy="1835.6" r="2.8"/><circle cx="919.1" cy="1868.0" r="2.8"/><circle cx="905.1" cy="1830.9" r="2.8"/><circle cx="906.5" cy="1862.8" r="2.8"/><circle cx="922.9" cy="1871.2" r="2.8"/><circle cx="902.9" cy="1833.4" r="2.8"/><circle cx="946.3" cy="1844.1" r="2.8"/><circle cx="924.6" cy="1860.2" r="2.8"/><circle cx="919.1" cy="1821.5" r="2.8"/><circle cx="917.3" cy="1864.5" r="2.8"/><circle cx="910.3" cy="1866.4" r="2.8"/><circle cx="914.1" cy="1870.4" r="2.8"/><circle cx="921.2" cy="1870.3" r="2.8"/><circle cx="916.4" cy="1877.6" r="2.8"/><circle cx="921.6" cy="1823.2" r="2.8"/><circle cx="911.9" cy="1844.1" r="2.8"/><circle cx="919.6" cy="1854.6" r="2.8"/><circle cx="902.8" cy="1831.4" r="2.8"/><circle cx="917.2" cy="1873.4" r="2.8"/><circle cx="916.1" cy="1841.7" r="2.8"/><circle cx="910.9" cy="1858.4" r="2.8"/><circle cx="910.2" cy="1836.7" r="2.8"/><circle cx="934.2" cy="1851.4" r="2.8"/><circle cx="925.0" cy="1822.1" r="2.8"/><circle cx="928.0" cy="1864.8" r="2.8"/><circle cx="941.5" cy="1843.8" r="2.8"/><circle cx="910.0" cy="1835.8" r="2.8"/><circle cx="911.0" cy="1828.7" r="2.8"/><circle cx="915.7" cy="1868.0" r="2.8"/><circle cx="913.7" cy="1832.7" r="2.8"/><circle cx="915.4" cy="1875.5" r="2.8"/><circle cx="937.0" cy="1849.6" r="2.8"/><circle cx="904.1" cy="1849.8" r="2.8"/><circle cx="908.8" cy="1855.8" r="2.8"/><circle cx="905.1" cy="1852.5" r="2.8"/><circle cx="899.7" cy="1857.8" r="2.8"/><circle cx="920.2" cy="1870.1" r="2.8"/><circle cx="908.3" cy="1862.7" r="2.8"/><circle cx="928.3" cy="1832.1" r="2.8"/><circle cx="899.9" cy="1842.7" r="2.8"/><circle cx="902.3" cy="1862.1" r="2.8"/><circle cx="918.6" cy="1844.9" r="2.8"/><circle cx="903.9" cy="1860.9" r="2.8"/><circle cx="925.5" cy="1835.4" r="2.8"/><circle cx="905.6" cy="1830.3" r="2.8"/><circle cx="925.0" cy="1858.1" r="2.8"/><circle cx="911.2" cy="1868.5" r="2.8"/><circle cx="902.8" cy="1832.8" r="2.8"/><circle cx="926.1" cy="1871.3" r="2.8"/><circle cx="926.9" cy="1849.8" r="2.8"/><circle cx="927.2" cy="1840.0" r="2.8"/><circle cx="920.4" cy="1860.7" r="2.8"/><circle cx="930.2" cy="1835.3" r="2.8"/><circle cx="924.3" cy="1872.4" r="2.8"/><circle cx="936.8" cy="1840.4" r="2.8"/><circle cx="906.0" cy="1863.5" r="2.8"/><circle cx="931.5" cy="1849.3" r="2.8"/><circle cx="932.6" cy="1833.7" r="2.8"/><circle cx="935.2" cy="1842.5" r="2.8"/><circle cx="913.1" cy="1832.2" r="2.8"/><circle cx="914.0" cy="1825.2" r="2.8"/><circle cx="931.4" cy="1837.9" r="2.8"/><circle cx="907.4" cy="1843.7" r="2.8"/><circle cx="908.1" cy="1856.0" r="2.8"/><circle cx="903.6" cy="1857.6" r="2.8"/><circle cx="904.4" cy="1829.0" r="2.8"/><circle cx="907.8" cy="1834.5" r="2.8"/><circle cx="924.2" cy="1864.6" r="2.8"/><circle cx="932.0" cy="1847.5" r="2.8"/><circle cx="931.4" cy="1845.2" r="2.8"/><circle cx="917.3" cy="1864.6" r="2.8"/><circle cx="913.6" cy="1838.6" r="2.8"/><circle cx="917.1" cy="1843.1" r="2.8"/><circle cx="918.7" cy="1824.9" r="2.8"/><circle cx="929.0" cy="1842.4" r="2.8"/><circle cx="923.2" cy="1847.4" r="2.8"/><circle cx="906.6" cy="1875.8" r="2.8"/><circle cx="912.5" cy="1860.6" r="2.8"/><circle cx="919.1" cy="1865.2" r="2.8"/><circle cx="922.5" cy="1828.3" r="2.8"/><circle cx="903.9" cy="1869.9" r="2.8"/><circle cx="916.2" cy="1853.6" r="2.8"/><circle cx="922.1" cy="1846.9" r="2.8"/><circle cx="906.7" cy="1840.5" r="2.8"/><circle cx="935.5" cy="1839.2" r="2.8"/><circle cx="923.3" cy="1840.5" r="2.8"/><circle cx="922.9" cy="1840.3" r="2.8"/><circle cx="909.9" cy="1834.8" r="2.8"/><circle cx="910.7" cy="1858.5" r="2.8"/><circle cx="911.0" cy="1836.2" r="2.8"/><circle cx="922.0" cy="1833.1" r="2.8"/><circle cx="920.3" cy="1866.9" r="2.8"/><circle cx="909.8" cy="1856.0" r="2.8"/><circle cx="905.4" cy="1828.4" r="2.8"/><circle cx="908.5" cy="1849.7" r="2.8"/><circle cx="903.9" cy="1859.0" r="2.8"/><circle cx="923.2" cy="1830.0" r="2.8"/><circle cx="945.7" cy="1843.8" r="2.8"/><circle cx="930.2" cy="1835.1" r="2.8"/><circle cx="900.4" cy="1860.3" r="2.8"/><circle cx="919.0" cy="1868.7" r="2.8"/><circle cx="911.4" cy="1827.8" r="2.8"/><circle cx="916.6" cy="1861.4" r="2.8"/><circle cx="939.0" cy="1847.4" r="2.8"/><circle cx="909.9" cy="1865.5" r="2.8"/><circle cx="920.2" cy="1870.9" r="2.8"/><circle cx="916.5" cy="1849.9" r="2.8"/><circle cx="928.9" cy="1868.1" r="2.8"/><circle cx="916.0" cy="1861.1" r="2.8"/><circle cx="924.8" cy="1861.2" r="2.8"/><circle cx="917.6" cy="1868.1" r="2.8"/><circle cx="916.5" cy="1859.3" r="2.8"/><circle cx="922.6" cy="1850.1" r="2.8"/><circle cx="926.8" cy="1845.4" r="2.8"/><circle cx="936.6" cy="1838.1" r="2.8"/><circle cx="907.7" cy="1837.1" r="2.8"/><circle cx="923.4" cy="1832.5" r="2.8"/><circle cx="914.2" cy="1840.1" r="2.8"/><circle cx="917.5" cy="1837.6" r="2.8"/><circle cx="918.2" cy="1848.7" r="2.8"/><circle cx="933.9" cy="1839.9" r="2.8"/><circle cx="927.2" cy="1863.3" r="2.8"/><circle cx="911.8" cy="1840.2" r="2.8"/><circle cx="918.9" cy="1838.4" r="2.8"/><circle cx="915.1" cy="1822.1" r="2.8"/><circle cx="921.4" cy="1827.9" r="2.8"/><circle cx="912.9" cy="1843.1" r="2.8"/><circle cx="935.9" cy="1849.7" r="2.8"/><circle cx="919.4" cy="1861.9" r="2.8"/><circle cx="907.9" cy="1852.4" r="2.8"/><circle cx="923.2" cy="1822.7" r="2.8"/><circle cx="920.4" cy="1873.9" r="2.8"/><circle cx="919.6" cy="1874.6" r="2.8"/><circle cx="899.9" cy="1834.4" r="2.8"/><circle cx="921.6" cy="1858.5" r="2.8"/><circle cx="939.0" cy="1850.2" r="2.8"/><circle cx="908.6" cy="1836.9" r="2.8"/><circle cx="909.3" cy="1859.3" r="2.8"/><circle cx="918.6" cy="1865.0" r="2.8"/><circle cx="939.3" cy="1840.7" r="2.8"/><circle cx="913.6" cy="1842.2" r="2.8"/><circle cx="901.7" cy="1866.3" r="2.8"/><circle cx="929.1" cy="1852.8" r="2.8"/><circle cx="929.1" cy="1852.2" r="2.8"/><circle cx="925.0" cy="1863.1" r="2.8"/><circle cx="904.0" cy="1842.0" r="2.8"/><circle cx="924.1" cy="1829.1" r="2.8"/><circle cx="916.7" cy="1826.0" r="2.8"/><circle cx="920.1" cy="1865.0" r="2.8"/><circle cx="934.4" cy="1842.1" r="2.8"/><circle cx="910.4" cy="1842.3" r="2.8"/><circle cx="910.1" cy="1844.4" r="2.8"/><circle cx="908.6" cy="1865.4" r="2.8"/><circle cx="905.4" cy="1850.2" r="2.8"/><circle cx="904.7" cy="1834.0" r="2.8"/><circle cx="921.1" cy="1861.8" r="2.8"/><circle cx="907.3" cy="1847.7" r="2.8"/><circle cx="912.1" cy="1834.8" r="2.8"/><circle cx="927.4" cy="1858.1" r="2.8"/><circle cx="907.8" cy="1836.3" r="2.8"/><circle cx="914.2" cy="1863.2" r="2.8"/><circle cx="912.3" cy="1859.6" r="2.8"/><circle cx="910.4" cy="1842.2" r="2.8"/><circle cx="923.3" cy="1847.0" r="2.8"/><circle cx="907.4" cy="1828.7" r="2.8"/><circle cx="923.3" cy="1858.0" r="2.8"/><circle cx="916.2" cy="1851.0" r="2.8"/><circle cx="909.9" cy="1861.8" r="2.8"/><circle cx="912.1" cy="1832.4" r="2.8"/><circle cx="919.9" cy="1851.2" r="2.8"/><circle cx="921.9" cy="1831.3" r="2.8"/><circle cx="916.9" cy="1831.5" r="2.8"/><circle cx="916.1" cy="1863.4" r="2.8"/><circle cx="928.4" cy="1842.1" r="2.8"/><circle cx="921.9" cy="1856.7" r="2.8"/><circle cx="919.2" cy="1840.6" r="2.8"/><circle cx="912.5" cy="1825.9" r="2.8"/><circle cx="900.0" cy="1837.1" r="2.8"/><circle cx="920.6" cy="1848.2" r="2.8"/><circle cx="910.9" cy="1836.2" r="2.8"/><circle cx="923.2" cy="1819.1" r="2.8"/><circle cx="910.4" cy="1847.0" r="2.8"/><circle cx="926.1" cy="1818.7" r="2.8"/><circle cx="925.9" cy="1862.3" r="2.8"/><circle cx="914.1" cy="1871.9" r="2.8"/><circle cx="920.2" cy="1831.9" r="2.8"/><circle cx="910.8" cy="1870.5" r="2.8"/><circle cx="935.8" cy="1839.2" r="2.8"/><circle cx="912.0" cy="1787.5" r="2.8"/><circle cx="912.0" cy="1793.5" r="2.8"/><circle cx="920.8" cy="1794.8" r="2.8"/><circle cx="929.2" cy="1794.8" r="2.8"/><circle cx="939.5" cy="1796.3" r="2.8"/><circle cx="945.2" cy="1786.3" r="2.8"/><circle cx="946.8" cy="1800.2" r="2.8"/><circle cx="912.0" cy="1806.2" r="2.8"/><circle cx="902.7" cy="1811.1" r="2.8"/><circle cx="919.6" cy="1810.5" r="2.8"/><circle cx="914.8" cy="1813.5" r="2.8"/><circle cx="928.0" cy="1810.5" r="2.8"/><circle cx="931.1" cy="1805.0" r="2.8"/><circle cx="934.7" cy="1802.0" r="2.8"/><circle cx="937.7" cy="1810.5" r="2.8"/><circle cx="941.3" cy="1811.7" r="2.8"/><circle cx="945.5" cy="1808.6" r="2.8"/><circle cx="948.0" cy="1806.2" r="2.8"/><circle cx="955.2" cy="1813.5" r="2.8"/><circle cx="958.8" cy="1810.5" r="2.8"/><circle cx="961.2" cy="1818.9" r="2.8"/><circle cx="963.7" cy="1822.5" r="2.8"/><circle cx="969.7" cy="1815.9" r="2.8"/><circle cx="970.9" cy="1818.9" r="2.8"/><circle cx="969.7" cy="1824.9" r="2.8"/><circle cx="973.9" cy="1829.2" r="2.8"/><circle cx="978.1" cy="1833.4" r="2.8"/><circle cx="980.6" cy="1837.6" r="2.8"/><circle cx="983.6" cy="1840.6" r="2.8"/><circle cx="981.2" cy="1799.0" r="2.8"/><circle cx="991.4" cy="1796.3" r="2.8"/><circle cx="985.4" cy="1810.5" r="2.8"/><circle cx="991.4" cy="1809.2" r="2.8"/><circle cx="987.8" cy="1816.5" r="2.8"/><circle cx="986.6" cy="1819.5" r="2.8"/><circle cx="983.9" cy="1826.4" r="2.8"/><circle cx="991.4" cy="1832.2" r="2.8"/><circle cx="939.5" cy="1821.9" r="2.8"/><circle cx="941.3" cy="1822.5" r="2.8"/><circle cx="939.5" cy="1828.0" r="2.8"/><circle cx="948.0" cy="1823.1" r="2.8"/><circle cx="951.0" cy="1824.9" r="2.8"/><circle cx="956.4" cy="1827.7" r="2.8"/><circle cx="962.4" cy="1830.7" r="2.8"/><circle cx="946.1" cy="1835.8" r="2.8"/><circle cx="951.0" cy="1833.4" r="2.8"/><circle cx="963.7" cy="1839.4" r="2.8"/><circle cx="969.7" cy="1839.4" r="2.8"/><circle cx="969.7" cy="1843.1" r="2.8"/><circle cx="956.4" cy="1846.4" r="2.8"/><circle cx="937.1" cy="1841.2" r="2.8"/><circle cx="949.8" cy="1842.4" r="2.8"/><circle cx="950.4" cy="1852.1" r="2.8"/><circle cx="955.2" cy="1852.1" r="2.8"/><circle cx="960.9" cy="1853.9" r="2.8"/><circle cx="966.7" cy="1855.7" r="2.8"/><circle cx="967.9" cy="1853.3" r="2.8"/><circle cx="976.9" cy="1853.3" r="2.8"/><circle cx="972.7" cy="1853.3" r="2.8"/><circle cx="941.9" cy="1860.6" r="2.8"/><circle cx="948.0" cy="1864.2" r="2.8"/><circle cx="948.0" cy="1867.8" r="2.8"/><circle cx="951.0" cy="1872.6" r="2.8"/><circle cx="959.4" cy="1874.4" r="2.8"/><circle cx="962.4" cy="1872.6" r="2.8"/><circle cx="968.2" cy="1865.4" r="2.8"/><circle cx="975.1" cy="1862.4" r="2.8"/><circle cx="979.4" cy="1862.4" r="2.8"/><circle cx="975.4" cy="1868.4" r="2.8"/><circle cx="937.1" cy="1870.2" r="2.8"/><circle cx="938.3" cy="1872.6" r="2.8"/><circle cx="923.5" cy="1881.1" r="2.8"/><circle cx="935.0" cy="1879.9" r="2.8"/><circle cx="949.5" cy="1881.1" r="2.8"/><circle cx="912.0" cy="1881.1" r="2.8"/><circle cx="916.0" cy="1876.9" r="2.8"/><circle cx="925.0" cy="1872.0" r="2.8"/><circle cx="914.8" cy="1867.8" r="2.8"/><circle cx="899.1" cy="1888.3" r="2.8"/><circle cx="1012.4" cy="1756.2" r="2.8"/><circle cx="1019.5" cy="1749.1" r="2.8"/><circle cx="1032.0" cy="1731.4" r="2.8"/><circle cx="1035.5" cy="1766.9" r="2.8"/><circle cx="1054.3" cy="1733.1" r="2.8"/><circle cx="1058.6" cy="1749.1" r="2.8"/><circle cx="1051.5" cy="1761.5" r="2.8"/><circle cx="1065.0" cy="1727.1" r="2.8"/><circle cx="1074.6" cy="1718.9" r="2.8"/><circle cx="1076.3" cy="1728.5" r="2.8"/><circle cx="1089.5" cy="1756.2" r="2.8"/><circle cx="1100.5" cy="1764.4" r="2.8"/><circle cx="1081.7" cy="1794.6" r="2.8"/><circle cx="1066.4" cy="1816.6" r="2.8"/><circle cx="1067.5" cy="1835.0" r="2.8"/><circle cx="1032.7" cy="1817.3" r="2.8"/><circle cx="1025.6" cy="1772.2" r="2.8"/><circle cx="1025.9" cy="1781.1" r="2.8"/><circle cx="1026.6" cy="1791.7" r="2.8"/><circle cx="1017.0" cy="1779.3" r="2.8"/><circle cx="1018.5" cy="1798.1" r="2.8"/><circle cx="1005.3" cy="1785.3" r="2.8"/><circle cx="1003.6" cy="1793.5" r="2.8"/><circle cx="1001.8" cy="1802.4" r="2.8"/><circle cx="1008.9" cy="1810.2" r="2.8"/><circle cx="1008.2" cy="1805.2" r="2.8"/><circle cx="1006.0" cy="1814.4" r="2.8"/><circle cx="1007.1" cy="1817.3" r="2.8"/><circle cx="1184.6" cy="1759.1" r="2.8"/><circle cx="1259.2" cy="1780.4" r="2.8"/></g><path d="M818.20,1899.74H1301.80" stroke="#888888" stroke-width="2.2" stroke-dasharray="7.7 4.05" fill="none"/><path d="M898.10,1701.20V2092.40" stroke="#888888" stroke-width="2.2" stroke-dasharray="7.7 4.05" fill="none"/><g font-family="DejaVu Sans, sans-serif" font-size="14.9" fill="#444444"><path d="M818.20,1701.20V2092.40H1301.80" fill="none" stroke="#4d4d4d" stroke-width="1.8"/><path d="M841.30,2092.40v4.90M897.44,2092.40v4.90M953.58,2092.40v4.90M1009.71,2092.40v4.90M1065.85,2092.40v4.90M1121.99,2092.40v4.90M1178.12,2092.40v4.90M1234.26,2092.40v4.90M1290.40,2092.40v4.90M818.20,2047.30h-4.90M818.20,1998.11h-4.90M818.20,1948.93h-4.90M818.20,1899.74h-4.90M818.20,1850.56h-4.90M818.20,1801.37h-4.90M818.20,1752.19h-4.90M818.20,1703.00h-4.90" stroke="#4d4d4d" stroke-width="1.8"/><text x="841.30" y="2113.40" text-anchor="middle">0</text><text x="897.44" y="2113.40" text-anchor="middle">10000</text><text x="953.58" y="2113.40" text-anchor="middle">20000</text><text x="1009.71" y="2113.40" text-anchor="middle">30000</text><text x="1065.85" y="2113.40" text-anchor="middle">40000</text><text x="1121.99" y="2113.40" text-anchor="middle">50000</text><text x="1178.12" y="2113.40" text-anchor="middle">60000</text><text x="1234.26" y="2113.40" text-anchor="middle">70000</text><text x="1290.40" y="2113.40" text-anchor="middle">80000</text><text x="806.40" y="2052.81" text-anchor="end">−0.075</text><text x="806.40" y="2003.63" text-anchor="end">−0.050</text><text x="806.40" y="1954.44" text-anchor="end">−0.025</text><text x="806.40" y="1905.26" text-anchor="end">0.000</text><text x="806.40" y="1856.07" text-anchor="end">0.025</text><text x="806.40" y="1806.88" text-anchor="end">0.050</text><text x="806.40" y="1757.70" text-anchor="end">0.075</text><text x="806.40" y="1708.51" text-anchor="end">0.100</text></g><text x="1060.00" y="2136.70" text-anchor="middle" font-family="DejaVu Sans, sans-serif" font-size="18.3" fill="#444444">WBCCount</text><g fill="#1E88E5"><circle cx="1533.5" cy="2030.3" r="2.8"/><circle cx="1577.3" cy="2029.9" r="2.8"/><circle cx="1581.6" cy="2040.5" r="2.8"/><circle cx="1587.7" cy="2032.8" r="2.8"/><circle cx="1571.4" cy="2037.2" r="2.8"/><circle cx="1543.2" cy="2050.5" r="2.8"/><circle cx="1583.3" cy="2027.4" r="2.8"/><circle cx="1599.8" cy="2039.9" r="2.8"/><circle cx="1567.0" cy="2034.8" r="2.8"/><circle cx="1552.9" cy="2049.7" r="2.8"/><circle cx="1577.8" cy="2039.3" r="2.8"/><circle cx="1552.1" cy="2037.7" r="2.8"/><circle cx="1554.7" cy="2055.0" r="2.8"/><circle cx="1587.8" cy="2031.8" r="2.8"/><circle cx="1555.9" cy="2030.7" r="2.8"/><circle cx="1541.7" cy="2056.9" r="2.8"/><circle cx="1559.2" cy="2046.3" r="2.8"/><circle cx="1588.0" cy="2042.5" r="2.8"/><circle cx="1587.2" cy="2051.0" r="2.8"/><circle cx="1571.5" cy="2043.9" r="2.8"/><circle cx="1592.1" cy="2047.7" r="2.8"/><circle cx="1552.4" cy="2055.5" r="2.8"/><circle cx="1576.0" cy="2039.7" r="2.8"/><circle cx="1553.2" cy="2045.9" r="2.8"/><circle cx="1540.5" cy="2049.6" r="2.8"/><circle cx="1543.3" cy="2044.5" r="2.8"/><circle cx="1567.6" cy="2045.1" r="2.8"/><circle cx="1539.0" cy="2056.0" r="2.8"/><circle cx="1573.8" cy="2034.7" r="2.8"/><circle cx="1588.2" cy="2046.8" r="2.8"/><circle cx="1544.3" cy="2044.0" r="2.8"/><circle cx="1542.7" cy="2048.0" r="2.8"/><circle cx="1546.9" cy="2054.4" r="2.8"/><circle cx="1540.4" cy="2029.5" r="2.8"/><circle cx="1557.5" cy="2030.5" r="2.8"/><circle cx="1534.6" cy="2038.6" r="2.8"/><circle cx="1590.8" cy="2046.1" r="2.8"/><circle cx="1562.7" cy="2042.5" r="2.8"/><circle cx="1542.6" cy="2032.4" r="2.8"/><circle cx="1546.7" cy="2049.7" r="2.8"/><circle cx="1532.7" cy="2029.9" r="2.8"/><circle cx="1598.1" cy="2042.4" r="2.8"/><circle cx="1546.5" cy="2035.0" r="2.8"/><circle cx="1543.8" cy="2050.5" r="2.8"/><circle cx="1534.9" cy="2039.7" r="2.8"/><circle cx="1583.9" cy="2049.1" r="2.8"/><circle cx="1550.3" cy="2029.7" r="2.8"/><circle cx="1574.1" cy="2045.0" r="2.8"/><circle cx="1534.9" cy="2036.1" r="2.8"/><circle cx="1547.8" cy="2041.7" r="2.8"/><circle cx="1547.8" cy="2045.5" r="2.8"/><circle cx="1537.7" cy="2031.0" r="2.8"/><circle cx="1577.4" cy="2043.5" r="2.8"/><circle cx="1569.3" cy="2049.9" r="2.8"/><circle cx="1578.6" cy="2031.1" r="2.8"/><circle cx="1541.0" cy="2054.7" r="2.8"/><circle cx="1580.5" cy="2038.1" r="2.8"/><circle cx="1578.6" cy="2048.6" r="2.8"/><circle cx="1533.5" cy="2039.8" r="2.8"/><circle cx="1583.7" cy="2053.1" r="2.8"/><circle cx="1577.2" cy="2035.8" r="2.8"/><circle cx="1590.8" cy="2043.5" r="2.8"/><circle cx="1592.9" cy="2031.1" r="2.8"/><circle cx="1596.5" cy="2033.5" r="2.8"/><circle cx="1542.7" cy="2042.5" r="2.8"/><circle cx="1576.6" cy="2033.8" r="2.8"/><circle cx="1587.8" cy="2049.3" r="2.8"/><circle cx="1584.1" cy="2040.1" r="2.8"/><circle cx="1593.1" cy="2035.5" r="2.8"/><circle cx="1562.8" cy="2052.8" r="2.8"/><circle cx="1550.9" cy="2029.4" r="2.8"/><circle cx="1571.0" cy="2053.1" r="2.8"/><circle cx="1543.1" cy="2051.2" r="2.8"/><circle cx="1538.7" cy="2058.4" r="2.8"/><circle cx="1534.8" cy="2029.1" r="2.8"/><circle cx="1587.9" cy="2038.1" r="2.8"/><circle cx="1532.5" cy="2033.6" r="2.8"/><circle cx="1579.6" cy="2042.1" r="2.8"/><circle cx="1571.8" cy="2036.7" r="2.8"/><circle cx="1567.7" cy="2032.7" r="2.8"/><circle cx="1596.5" cy="2042.2" r="2.8"/><circle cx="1575.2" cy="2040.8" r="2.8"/><circle cx="1533.5" cy="2057.7" r="2.8"/><circle cx="1547.5" cy="2045.8" r="2.8"/><circle cx="1541.2" cy="2036.2" r="2.8"/><circle cx="1593.9" cy="2046.2" r="2.8"/><circle cx="1560.8" cy="2040.4" r="2.8"/><circle cx="1553.3" cy="2047.8" r="2.8"/><circle cx="1575.3" cy="2036.8" r="2.8"/><circle cx="1572.3" cy="2049.4" r="2.8"/><circle cx="1530.0" cy="2043.1" r="2.8"/><circle cx="1546.3" cy="2045.2" r="2.8"/><circle cx="1583.5" cy="2044.2" r="2.8"/><circle cx="1546.7" cy="2038.9" r="2.8"/><circle cx="1543.4" cy="2053.6" r="2.8"/><circle cx="1555.7" cy="2032.3" r="2.8"/><circle cx="1594.5" cy="2043.9" r="2.8"/><circle cx="1572.7" cy="2052.2" r="2.8"/><circle cx="1551.8" cy="2042.1" r="2.8"/><circle cx="1548.1" cy="2050.7" r="2.8"/><circle cx="1547.0" cy="2034.6" r="2.8"/><circle cx="1540.2" cy="2055.7" r="2.8"/><circle cx="1555.2" cy="2054.6" r="2.8"/><circle cx="1578.4" cy="2053.7" r="2.8"/><circle cx="1576.3" cy="2041.2" r="2.8"/><circle cx="1587.6" cy="2048.2" r="2.8"/><circle cx="1595.3" cy="2031.5" r="2.8"/><circle cx="1555.8" cy="2039.9" r="2.8"/><circle cx="1582.0" cy="2047.5" r="2.8"/><circle cx="1538.4" cy="2053.4" r="2.8"/><circle cx="1545.4" cy="2056.7" r="2.8"/><circle cx="1560.5" cy="2031.4" r="2.8"/><circle cx="1589.3" cy="2046.7" r="2.8"/><circle cx="1567.0" cy="2049.0" r="2.8"/><circle cx="1566.7" cy="2052.6" r="2.8"/><circle cx="1589.4" cy="2042.5" r="2.8"/><circle cx="1598.8" cy="2037.9" r="2.8"/><circle cx="1580.9" cy="2052.1" r="2.8"/><circle cx="1556.2" cy="2057.1" r="2.8"/><circle cx="1581.8" cy="2038.9" r="2.8"/><circle cx="1532.0" cy="2055.6" r="2.8"/><circle cx="1596.5" cy="2039.8" r="2.8"/><circle cx="1561.7" cy="2043.1" r="2.8"/><circle cx="1535.7" cy="2026.3" r="2.8"/><circle cx="1580.1" cy="2034.3" r="2.8"/><circle cx="1529.9" cy="2047.5" r="2.8"/><circle cx="1538.8" cy="2057.0" r="2.8"/><circle cx="1571.6" cy="2051.2" r="2.8"/><circle cx="1591.7" cy="2034.0" r="2.8"/><circle cx="1573.0" cy="2046.5" r="2.8"/><circle cx="1529.2" cy="2037.9" r="2.8"/><circle cx="1528.9" cy="2057.7" r="2.8"/><circle cx="1530.9" cy="2033.8" r="2.8"/><circle cx="1536.2" cy="2044.6" r="2.8"/><circle cx="1558.7" cy="2029.8" r="2.8"/><circle cx="1532.4" cy="2031.3" r="2.8"/><circle cx="1555.8" cy="2034.0" r="2.8"/><circle cx="1532.4" cy="2035.3" r="2.8"/><circle cx="1580.8" cy="2037.8" r="2.8"/><circle cx="1531.1" cy="2034.4" r="2.8"/><circle cx="1562.2" cy="2033.0" r="2.8"/><circle cx="1534.1" cy="2049.0" r="2.8"/><circle cx="1562.1" cy="2051.6" r="2.8"/><circle cx="1533.0" cy="2036.5" r="2.8"/><circle cx="1582.5" cy="2036.1" r="2.8"/><circle cx="1567.2" cy="2047.0" r="2.8"/><circle cx="1575.9" cy="2039.5" r="2.8"/><circle cx="1533.7" cy="2034.1" r="2.8"/><circle cx="1574.7" cy="2053.5" r="2.8"/><circle cx="1568.3" cy="2044.5" r="2.8"/><circle cx="1544.1" cy="2039.1" r="2.8"/><circle cx="1554.3" cy="2047.5" r="2.8"/><circle cx="1576.0" cy="2034.5" r="2.8"/><circle cx="1592.1" cy="2035.2" r="2.8"/><circle cx="1549.8" cy="2053.5" r="2.8"/><circle cx="1541.9" cy="2026.2" r="2.8"/><circle cx="1529.5" cy="2045.6" r="2.8"/><circle cx="1577.3" cy="2036.3" r="2.8"/><circle cx="1585.4" cy="2031.9" r="2.8"/><circle cx="1577.6" cy="2035.1" r="2.8"/><circle cx="1568.0" cy="2052.4" r="2.8"/><circle cx="1579.2" cy="2048.1" r="2.8"/><circle cx="1573.5" cy="2037.6" r="2.8"/><circle cx="1544.6" cy="2039.4" r="2.8"/><circle cx="1569.0" cy="2046.2" r="2.8"/><circle cx="1551.9" cy="2032.2" r="2.8"/><circle cx="1564.6" cy="2033.7" r="2.8"/><circle cx="1537.2" cy="2041.5" r="2.8"/><circle cx="1534.9" cy="2045.4" r="2.8"/><circle cx="1548.8" cy="2033.8" r="2.8"/><circle cx="1588.9" cy="2040.8" r="2.8"/><circle cx="1558.2" cy="2043.2" r="2.8"/><circle cx="1570.8" cy="2043.2" r="2.8"/><circle cx="1537.0" cy="2048.0" r="2.8"/><circle cx="1581.1" cy="2053.9" r="2.8"/><circle cx="1558.3" cy="2039.6" r="2.8"/><circle cx="1580.7" cy="2035.1" r="2.8"/><circle cx="1540.6" cy="2028.4" r="2.8"/><circle cx="1569.0" cy="2031.6" r="2.8"/><circle cx="1554.3" cy="2044.2" r="2.8"/><circle cx="1559.7" cy="2037.3" r="2.8"/><circle cx="1573.6" cy="2046.5" r="2.8"/><circle cx="1584.0" cy="2053.6" r="2.8"/><circle cx="1536.7" cy="2027.9" r="2.8"/><circle cx="1588.2" cy="2037.8" r="2.8"/><circle cx="1539.9" cy="2046.5" r="2.8"/><circle cx="1557.2" cy="2054.9" r="2.8"/><circle cx="1586.1" cy="2026.7" r="2.8"/><circle cx="1528.4" cy="2044.6" r="2.8"/><circle cx="1544.6" cy="2047.6" r="2.8"/><circle cx="1560.5" cy="2043.6" r="2.8"/><circle cx="1580.1" cy="2044.8" r="2.8"/><circle cx="1530.6" cy="2043.2" r="2.8"/><circle cx="1588.5" cy="2034.3" r="2.8"/><circle cx="1571.9" cy="2049.4" r="2.8"/><circle cx="1571.0" cy="2036.4" r="2.8"/><circle cx="1582.7" cy="2036.2" r="2.8"/><circle cx="1549.5" cy="2057.9" r="2.8"/><circle cx="1564.6" cy="2031.4" r="2.8"/><circle cx="1582.3" cy="2040.6" r="2.8"/><circle cx="1535.3" cy="2048.4" r="2.8"/><circle cx="1557.4" cy="2029.6" r="2.8"/><circle cx="1543.5" cy="2038.1" r="2.8"/><circle cx="1585.7" cy="2037.2" r="2.8"/><circle cx="1551.3" cy="2056.7" r="2.8"/><circle cx="1595.3" cy="2042.3" r="2.8"/><circle cx="1534.0" cy="2053.3" r="2.8"/><circle cx="1572.8" cy="2040.6" r="2.8"/><circle cx="1534.9" cy="2052.8" r="2.8"/><circle cx="1537.1" cy="2042.3" r="2.8"/><circle cx="1551.6" cy="2054.9" r="2.8"/><circle cx="1530.1" cy="2055.1" r="2.8"/><circle cx="1532.3" cy="2055.2" r="2.8"/><circle cx="1573.3" cy="2050.4" r="2.8"/><circle cx="1571.0" cy="2035.0" r="2.8"/><circle cx="1582.8" cy="2039.5" r="2.8"/><circle cx="1548.2" cy="2038.7" r="2.8"/><circle cx="1596.1" cy="2037.0" r="2.8"/><circle cx="1531.4" cy="2044.9" r="2.8"/><circle cx="1577.4" cy="2032.0" r="2.8"/><circle cx="1575.3" cy="2042.4" r="2.8"/><circle cx="1584.4" cy="2047.4" r="2.8"/><circle cx="1534.6" cy="2030.1" r="2.8"/><circle cx="1565.3" cy="2045.2" r="2.8"/><circle cx="1577.2" cy="2051.6" r="2.8"/><circle cx="1537.1" cy="2054.7" r="2.8"/><circle cx="1530.4" cy="2035.8" r="2.8"/><circle cx="1597.4" cy="2035.3" r="2.8"/><circle cx="1542.6" cy="2057.1" r="2.8"/><circle cx="1586.2" cy="2043.3" r="2.8"/><circle cx="1533.4" cy="2044.4" r="2.8"/><circle cx="1593.5" cy="2029.6" r="2.8"/><circle cx="1551.8" cy="2052.9" r="2.8"/><circle cx="1565.0" cy="2043.5" r="2.8"/><circle cx="1571.9" cy="2047.2" r="2.8"/><circle cx="1540.2" cy="2053.3" r="2.8"/><circle cx="1530.4" cy="2035.8" r="2.8"/><circle cx="1564.3" cy="2037.9" r="2.8"/><circle cx="1563.9" cy="2031.4" r="2.8"/><circle cx="1589.1" cy="2038.6" r="2.8"/><circle cx="1585.6" cy="2035.9" r="2.8"/><circle cx="1534.8" cy="2037.5" r="2.8"/><circle cx="1595.6" cy="2031.2" r="2.8"/><circle cx="1570.5" cy="2053.4" r="2.8"/><circle cx="1588.4" cy="2026.8" r="2.8"/><circle cx="1566.5" cy="2046.7" r="2.8"/><circle cx="1558.0" cy="2034.6" r="2.8"/><circle cx="1595.0" cy="2045.9" r="2.8"/><circle cx="1530.5" cy="2024.6" r="2.8"/><circle cx="1528.6" cy="2048.7" r="2.8"/><circle cx="1542.9" cy="2035.9" r="2.8"/><circle cx="1590.1" cy="2033.1" r="2.8"/><circle cx="1556.5" cy="2043.7" r="2.8"/><circle cx="1569.9" cy="2052.6" r="2.8"/><circle cx="1582.8" cy="2048.5" r="2.8"/><circle cx="1556.9" cy="2038.5" r="2.8"/><circle cx="1561.3" cy="2051.9" r="2.8"/><circle cx="1553.7" cy="2051.9" r="2.8"/><circle cx="1556.4" cy="2055.3" r="2.8"/><circle cx="1530.1" cy="2041.6" r="2.8"/><circle cx="1571.8" cy="2039.9" r="2.8"/><circle cx="1591.2" cy="2032.6" r="2.8"/><circle cx="1596.7" cy="2044.4" r="2.8"/><circle cx="1551.1" cy="2046.6" r="2.8"/><circle cx="1591.9" cy="2046.9" r="2.8"/><circle cx="1589.6" cy="2050.5" r="2.8"/><circle cx="1585.3" cy="2050.2" r="2.8"/><circle cx="1567.4" cy="2042.1" r="2.8"/><circle cx="1544.0" cy="2032.9" r="2.8"/><circle cx="1538.7" cy="2049.0" r="2.8"/><circle cx="1558.8" cy="2050.9" r="2.8"/><circle cx="1572.7" cy="2035.4" r="2.8"/><circle cx="1565.2" cy="2053.6" r="2.8"/><circle cx="1575.4" cy="2035.9" r="2.8"/><circle cx="1569.0" cy="2042.4" r="2.8"/><circle cx="1575.1" cy="2046.2" r="2.8"/><circle cx="1549.6" cy="2035.8" r="2.8"/><circle cx="1592.6" cy="2049.1" r="2.8"/><circle cx="1582.7" cy="2042.8" r="2.8"/><circle cx="1566.3" cy="2053.8" r="2.8"/><circle cx="1577.7" cy="2044.6" r="2.8"/><circle cx="1558.2" cy="2042.3" r="2.8"/><circle cx="1557.0" cy="2047.3" r="2.8"/><circle cx="1595.1" cy="2029.4" r="2.8"/><circle cx="1557.5" cy="2056.4" r="2.8"/><circle cx="1538.5" cy="2031.6" r="2.8"/><circle cx="1554.6" cy="2032.9" r="2.8"/><circle cx="1553.1" cy="2034.6" r="2.8"/><circle cx="1571.3" cy="2046.1" r="2.8"/><circle cx="1558.2" cy="2051.5" r="2.8"/><circle cx="1651.1" cy="2031.8" r="2.8"/><circle cx="1667.2" cy="2032.4" r="2.8"/><circle cx="1680.7" cy="2038.7" r="2.8"/><circle cx="1668.6" cy="2029.1" r="2.8"/><circle cx="1668.9" cy="2033.6" r="2.8"/><circle cx="1608.9" cy="2040.2" r="2.8"/><circle cx="1677.0" cy="2033.7" r="2.8"/><circle cx="1621.0" cy="2032.2" r="2.8"/><circle cx="1672.8" cy="2020.1" r="2.8"/><circle cx="1650.0" cy="2036.8" r="2.8"/><circle cx="1693.3" cy="2036.0" r="2.8"/><circle cx="1680.8" cy="2042.7" r="2.8"/><circle cx="1708.4" cy="2035.3" r="2.8"/><circle cx="1627.4" cy="2020.8" r="2.8"/><circle cx="1628.4" cy="2033.0" r="2.8"/><circle cx="1678.4" cy="2023.8" r="2.8"/><circle cx="1706.1" cy="2031.9" r="2.8"/><circle cx="1608.2" cy="2026.4" r="2.8"/><circle cx="1673.0" cy="2042.2" r="2.8"/><circle cx="1640.0" cy="2017.7" r="2.8"/><circle cx="1700.2" cy="2029.6" r="2.8"/><circle cx="1636.5" cy="2024.8" r="2.8"/><circle cx="1618.0" cy="2026.1" r="2.8"/><circle cx="1714.8" cy="2029.5" r="2.8"/><circle cx="1681.1" cy="2032.8" r="2.8"/><circle cx="1697.0" cy="2040.8" r="2.8"/><circle cx="1661.3" cy="2033.9" r="2.8"/><circle cx="1663.3" cy="2027.3" r="2.8"/><circle cx="1699.9" cy="2022.0" r="2.8"/><circle cx="1655.8" cy="2031.3" r="2.8"/><circle cx="1638.3" cy="2036.2" r="2.8"/><circle cx="1671.8" cy="2038.4" r="2.8"/><circle cx="1622.7" cy="2028.5" r="2.8"/><circle cx="1691.2" cy="2033.8" r="2.8"/><circle cx="1623.4" cy="2032.4" r="2.8"/><circle cx="1691.9" cy="2039.8" r="2.8"/><circle cx="1693.9" cy="2031.7" r="2.8"/><circle cx="1638.9" cy="2028.8" r="2.8"/><circle cx="1609.7" cy="2039.0" r="2.8"/><circle cx="1625.6" cy="2037.0" r="2.8"/><circle cx="1641.2" cy="2020.2" r="2.8"/><circle cx="1646.6" cy="2024.6" r="2.8"/><circle cx="1643.1" cy="2027.7" r="2.8"/><circle cx="1695.7" cy="2026.1" r="2.8"/><circle cx="1676.8" cy="2022.4" r="2.8"/><circle cx="1632.0" cy="2023.8" r="2.8"/><circle cx="1714.6" cy="2021.6" r="2.8"/><circle cx="1704.4" cy="2028.1" r="2.8"/><circle cx="1656.3" cy="2038.1" r="2.8"/><circle cx="1653.3" cy="2028.7" r="2.8"/><circle cx="1613.2" cy="2033.8" r="2.8"/><circle cx="1679.7" cy="2036.6" r="2.8"/><circle cx="1626.4" cy="2029.5" r="2.8"/><circle cx="1700.3" cy="2027.7" r="2.8"/><circle cx="1614.4" cy="2024.2" r="2.8"/><circle cx="1672.3" cy="2022.3" r="2.8"/><circle cx="1608.8" cy="2038.7" r="2.8"/><circle cx="1700.4" cy="2020.4" r="2.8"/><circle cx="1643.6" cy="2021.3" r="2.8"/><circle cx="1687.9" cy="2041.6" r="2.8"/><circle cx="1703.1" cy="2020.9" r="2.8"/><circle cx="1634.1" cy="2032.5" r="2.8"/><circle cx="1712.5" cy="2022.7" r="2.8"/><circle cx="1689.5" cy="2024.3" r="2.8"/><circle cx="1636.6" cy="2031.9" r="2.8"/><circle cx="1611.6" cy="2028.8" r="2.8"/><circle cx="1625.8" cy="2036.8" r="2.8"/><circle cx="1678.6" cy="2040.6" r="2.8"/><circle cx="1665.5" cy="2039.7" r="2.8"/><circle cx="1641.3" cy="2037.6" r="2.8"/><circle cx="1678.5" cy="2036.7" r="2.8"/><circle cx="1657.4" cy="2033.1" r="2.8"/><circle cx="1679.7" cy="2028.5" r="2.8"/><circle cx="1670.4" cy="2030.7" r="2.8"/><circle cx="1705.8" cy="2034.6" r="2.8"/><circle cx="1698.3" cy="2039.3" r="2.8"/><circle cx="1604.2" cy="2034.2" r="2.8"/><circle cx="1631.8" cy="2020.2" r="2.8"/><circle cx="1683.9" cy="2030.3" r="2.8"/><circle cx="1681.7" cy="2033.5" r="2.8"/><circle cx="1649.0" cy="2024.2" r="2.8"/><circle cx="1702.7" cy="2021.0" r="2.8"/><circle cx="1626.7" cy="2024.5" r="2.8"/><circle cx="1644.7" cy="2030.9" r="2.8"/><circle cx="1707.4" cy="2019.7" r="2.8"/><circle cx="1618.2" cy="2022.9" r="2.8"/><circle cx="1664.2" cy="2041.2" r="2.8"/><circle cx="1708.3" cy="2031.7" r="2.8"/><circle cx="1658.9" cy="2038.6" r="2.8"/><circle cx="1706.9" cy="2025.4" r="2.8"/><circle cx="1643.1" cy="2020.9" r="2.8"/><circle cx="1654.8" cy="2030.2" r="2.8"/><circle cx="1711.1" cy="2028.6" r="2.8"/><circle cx="1632.8" cy="2039.7" r="2.8"/><circle cx="1698.9" cy="2028.7" r="2.8"/><circle cx="1642.8" cy="2031.8" r="2.8"/><circle cx="1683.4" cy="2028.1" r="2.8"/><circle cx="1612.6" cy="2027.0" r="2.8"/><circle cx="1649.3" cy="2034.4" r="2.8"/><circle cx="1635.6" cy="2033.8" r="2.8"/><circle cx="1630.7" cy="2027.3" r="2.8"/><circle cx="1700.5" cy="2023.9" r="2.8"/><circle cx="1655.9" cy="2029.7" r="2.8"/><circle cx="1663.9" cy="2041.2" r="2.8"/><circle cx="1689.4" cy="2024.3" r="2.8"/><circle cx="1690.2" cy="2043.4" r="2.8"/><circle cx="1679.9" cy="2037.7" r="2.8"/><circle cx="1641.6" cy="2032.2" r="2.8"/><circle cx="1691.4" cy="2026.8" r="2.8"/><circle cx="1665.8" cy="2040.4" r="2.8"/><circle cx="1640.2" cy="2025.6" r="2.8"/><circle cx="1619.9" cy="2026.5" r="2.8"/><circle cx="1616.8" cy="2022.3" r="2.8"/><circle cx="1677.1" cy="2022.6" r="2.8"/><circle cx="1627.0" cy="2028.7" r="2.8"/><circle cx="1717.4" cy="2022.1" r="2.8"/><circle cx="1627.8" cy="2021.1" r="2.8"/><circle cx="1639.8" cy="2037.2" r="2.8"/><circle cx="1627.2" cy="2030.0" r="2.8"/><circle cx="1622.1" cy="2040.1" r="2.8"/><circle cx="1654.9" cy="2028.9" r="2.8"/><circle cx="1660.3" cy="2023.3" r="2.8"/><circle cx="1623.4" cy="2026.2" r="2.8"/><circle cx="1639.5" cy="2029.4" r="2.8"/><circle cx="1624.0" cy="2026.6" r="2.8"/><circle cx="1682.0" cy="2036.0" r="2.8"/><circle cx="1627.4" cy="2031.0" r="2.8"/><circle cx="1658.3" cy="2031.4" r="2.8"/><circle cx="1668.0" cy="2038.2" r="2.8"/><circle cx="1663.4" cy="2023.7" r="2.8"/><circle cx="1648.2" cy="2027.5" r="2.8"/><circle cx="1707.7" cy="2019.0" r="2.8"/><circle cx="1605.0" cy="2029.4" r="2.8"/><circle cx="1652.0" cy="2037.4" r="2.8"/><circle cx="1638.9" cy="2022.3" r="2.8"/><circle cx="1634.4" cy="2018.2" r="2.8"/><circle cx="1609.6" cy="2035.0" r="2.8"/><circle cx="1704.2" cy="2037.7" r="2.8"/><circle cx="1657.8" cy="2030.4" r="2.8"/><circle cx="1638.8" cy="2031.6" r="2.8"/><circle cx="1645.4" cy="2036.0" r="2.8"/><circle cx="1630.5" cy="2032.2" r="2.8"/><circle cx="1602.4" cy="2031.5" r="2.8"/><circle cx="1626.3" cy="2030.5" r="2.8"/><circle cx="1632.8" cy="2028.4" r="2.8"/><circle cx="1704.6" cy="2037.1" r="2.8"/><circle cx="1697.3" cy="2024.1" r="2.8"/><circle cx="1645.5" cy="2038.8" r="2.8"/><circle cx="1607.9" cy="2031.6" r="2.8"/><circle cx="1615.2" cy="2027.4" r="2.8"/><circle cx="1690.0" cy="2028.1" r="2.8"/><circle cx="1619.1" cy="2035.7" r="2.8"/><circle cx="1676.7" cy="2027.6" r="2.8"/><circle cx="1682.3" cy="2028.3" r="2.8"/><circle cx="1654.7" cy="2027.9" r="2.8"/><circle cx="1682.0" cy="2023.5" r="2.8"/><circle cx="1671.2" cy="2033.5" r="2.8"/><circle cx="1620.9" cy="2038.2" r="2.8"/><circle cx="1704.8" cy="2024.5" r="2.8"/><circle cx="1638.2" cy="2038.9" r="2.8"/><circle cx="1665.3" cy="2020.5" r="2.8"/><circle cx="1629.9" cy="2021.7" r="2.8"/><circle cx="1652.7" cy="2025.7" r="2.8"/><circle cx="1701.1" cy="2027.7" r="2.8"/><circle cx="1620.3" cy="2037.4" r="2.8"/><circle cx="1685.8" cy="2039.2" r="2.8"/><circle cx="1685.2" cy="2040.0" r="2.8"/><circle cx="1670.3" cy="2040.8" r="2.8"/><circle cx="1690.0" cy="2027.6" r="2.8"/><circle cx="1689.3" cy="2042.4" r="2.8"/><circle cx="1615.5" cy="2040.2" r="2.8"/><circle cx="1702.3" cy="2021.3" r="2.8"/><circle cx="1708.4" cy="2022.4" r="2.8"/><circle cx="1686.2" cy="2042.7" r="2.8"/><circle cx="1644.8" cy="2031.4" r="2.8"/><circle cx="1678.7" cy="2040.1" r="2.8"/><circle cx="1678.6" cy="2037.2" r="2.8"/><circle cx="1681.6" cy="2031.6" r="2.8"/><circle cx="1643.0" cy="2036.1" r="2.8"/><circle cx="1623.1" cy="2033.6" r="2.8"/><circle cx="1642.9" cy="2025.3" r="2.8"/><circle cx="1620.5" cy="2039.8" r="2.8"/><circle cx="1657.4" cy="2040.4" r="2.8"/><circle cx="1696.4" cy="2035.8" r="2.8"/><circle cx="1635.3" cy="2022.5" r="2.8"/><circle cx="1666.2" cy="2039.5" r="2.8"/><circle cx="1623.7" cy="2025.9" r="2.8"/><circle cx="1660.6" cy="2034.8" r="2.8"/><circle cx="1680.0" cy="2023.3" r="2.8"/><circle cx="1690.9" cy="2030.7" r="2.8"/><circle cx="1640.0" cy="2025.2" r="2.8"/><circle cx="1628.4" cy="2019.2" r="2.8"/><circle cx="1716.3" cy="2024.2" r="2.8"/><circle cx="1612.0" cy="2027.3" r="2.8"/><circle cx="1712.1" cy="2030.6" r="2.8"/><circle cx="1620.9" cy="2028.2" r="2.8"/><circle cx="1627.9" cy="2027.1" r="2.8"/><circle cx="1690.8" cy="2024.6" r="2.8"/><circle cx="1661.8" cy="2031.2" r="2.8"/><circle cx="1654.4" cy="2032.3" r="2.8"/><circle cx="1622.9" cy="2039.6" r="2.8"/><circle cx="1661.0" cy="2031.2" r="2.8"/><circle cx="1629.2" cy="2030.0" r="2.8"/><circle cx="1705.1" cy="2024.8" r="2.8"/><circle cx="1670.7" cy="2032.1" r="2.8"/><circle cx="1618.3" cy="2037.7" r="2.8"/><circle cx="1662.7" cy="2032.5" r="2.8"/><circle cx="1528.4" cy="2069.5" r="2.8"/><circle cx="1533.6" cy="2063.9" r="2.8"/><circle cx="1539.7" cy="2067.6" r="2.8"/><circle cx="1544.7" cy="2065.8" r="2.8"/><circle cx="1550.3" cy="2073.2" r="2.8"/><circle cx="1555.8" cy="2060.2" r="2.8"/><circle cx="1564.5" cy="2022.5" r="2.8"/><circle cx="1571.3" cy="2017.5" r="2.8"/><circle cx="1571.9" cy="2020.0" r="2.8"/><circle cx="1571.9" cy="2054.6" r="2.8"/><circle cx="1584.9" cy="2059.0" r="2.8"/><circle cx="1605.3" cy="2003.3" r="2.8"/><circle cx="1605.3" cy="2012.0" r="2.8"/><circle cx="1606.6" cy="2018.1" r="2.8"/><circle cx="1615.2" cy="2050.3" r="2.8"/><circle cx="1617.7" cy="2008.9" r="2.8"/><circle cx="1620.2" cy="2007.6" r="2.8"/><circle cx="1620.2" cy="2018.1" r="2.8"/><circle cx="1634.4" cy="2010.7" r="2.8"/><circle cx="1634.4" cy="2051.6" r="2.8"/><circle cx="1642.4" cy="2010.7" r="2.8"/><circle cx="1649.2" cy="2020.6" r="2.8"/><circle cx="1651.1" cy="2006.4" r="2.8"/><circle cx="1657.3" cy="2006.4" r="2.8"/><circle cx="1659.1" cy="2008.9" r="2.8"/><circle cx="1656.0" cy="2014.4" r="2.8"/><circle cx="1662.2" cy="2016.9" r="2.8"/><circle cx="1649.2" cy="2054.6" r="2.8"/><circle cx="1652.3" cy="2054.6" r="2.8"/><circle cx="1651.7" cy="2048.5" r="2.8"/><circle cx="1663.5" cy="2048.5" r="2.8"/><circle cx="1673.4" cy="2012.0" r="2.8"/><circle cx="1675.8" cy="2007.0" r="2.8"/><circle cx="1677.1" cy="2003.3" r="2.8"/><circle cx="1683.9" cy="2000.8" r="2.8"/><circle cx="1679.6" cy="2046.6" r="2.8"/><circle cx="1685.1" cy="2050.3" r="2.8"/><circle cx="1696.9" cy="2052.8" r="2.8"/><circle cx="1691.9" cy="2045.4" r="2.8"/><circle cx="1695.6" cy="2045.4" r="2.8"/><circle cx="1689.4" cy="2023.7" r="2.8"/><circle cx="1707.4" cy="1982.9" r="2.8"/><circle cx="1720.4" cy="1976.1" r="2.8"/><circle cx="1725.3" cy="1978.6" r="2.8"/><circle cx="1729.0" cy="1968.7" r="2.8"/><circle cx="1731.5" cy="1981.7" r="2.8"/><circle cx="1731.5" cy="1992.2" r="2.8"/><circle cx="1727.8" cy="1989.7" r="2.8"/><circle cx="1724.1" cy="1993.4" r="2.8"/><circle cx="1714.2" cy="1995.9" r="2.8"/><circle cx="1700.6" cy="2002.1" r="2.8"/><circle cx="1706.2" cy="2003.3" r="2.8"/><circle cx="1710.5" cy="2002.1" r="2.8"/><circle cx="1716.7" cy="2007.0" r="2.8"/><circle cx="1717.9" cy="2008.9" r="2.8"/><circle cx="1725.3" cy="2007.6" r="2.8"/><circle cx="1725.3" cy="1997.1" r="2.8"/><circle cx="1731.5" cy="2002.1" r="2.8"/><circle cx="1721.6" cy="2000.8" r="2.8"/><circle cx="1716.0" cy="2035.5" r="2.8"/><circle cx="1720.4" cy="2027.4" r="2.8"/><circle cx="1706.8" cy="2030.5" r="2.8"/><circle cx="1709.9" cy="2033.0" r="2.8"/><circle cx="1710.5" cy="2037.9" r="2.8"/><circle cx="1704.3" cy="2040.4" r="2.8"/><circle cx="1606.6" cy="2041.7" r="2.8"/><circle cx="1636.2" cy="2045.4" r="2.8"/><circle cx="1632.5" cy="2044.1" r="2.8"/><circle cx="1854.1" cy="1714.3" r="2.8"/><circle cx="1894.8" cy="1714.3" r="2.8"/><circle cx="1815.2" cy="1744.9" r="2.8"/><circle cx="1824.9" cy="1747.3" r="2.8"/><circle cx="1833.5" cy="1756.6" r="2.8"/><circle cx="1873.1" cy="1753.2" r="2.8"/><circle cx="1908.2" cy="1746.3" r="2.8"/><circle cx="1801.5" cy="1759.4" r="2.8"/><circle cx="1799.1" cy="1765.3" r="2.8"/><circle cx="1780.1" cy="1771.1" r="2.8"/><circle cx="1822.1" cy="1772.1" r="2.8"/><circle cx="1787.0" cy="1784.2" r="2.8"/><circle cx="1793.2" cy="1782.5" r="2.8"/><circle cx="1744.0" cy="1785.2" r="2.8"/><circle cx="1849.0" cy="1792.8" r="2.8"/><circle cx="1970.5" cy="1804.2" r="2.8"/><circle cx="1803.5" cy="1810.0" r="2.8"/><circle cx="1788.7" cy="1814.5" r="2.8"/><circle cx="1740.5" cy="1822.1" r="2.8"/><circle cx="1742.3" cy="1825.8" r="2.8"/><circle cx="1750.9" cy="1815.9" r="2.8"/><circle cx="1776.7" cy="1827.2" r="2.8"/><circle cx="1781.8" cy="1837.5" r="2.8"/><circle cx="1840.4" cy="1826.2" r="2.8"/><circle cx="1835.2" cy="1831.7" r="2.8"/><circle cx="1881.7" cy="1836.2" r="2.8"/><circle cx="1886.2" cy="1840.3" r="2.8"/><circle cx="1799.1" cy="1842.0" r="2.8"/><circle cx="1803.5" cy="1855.1" r="2.8"/><circle cx="1765.3" cy="1852.4" r="2.8"/><circle cx="1818.0" cy="1854.8" r="2.8"/><circle cx="1826.6" cy="1856.5" r="2.8"/><circle cx="1879.3" cy="1868.5" r="2.8"/><circle cx="1738.8" cy="1878.9" r="2.8"/><circle cx="1739.5" cy="1880.6" r="2.8"/><circle cx="1750.9" cy="1874.4" r="2.8"/><circle cx="1750.2" cy="1882.3" r="2.8"/><circle cx="1752.6" cy="1887.5" r="2.8"/><circle cx="1754.3" cy="1889.2" r="2.8"/><circle cx="1764.6" cy="1885.7" r="2.8"/><circle cx="1776.7" cy="1872.7" r="2.8"/><circle cx="1781.8" cy="1870.3" r="2.8"/><circle cx="1794.9" cy="1878.2" r="2.8"/><circle cx="1799.1" cy="1878.2" r="2.8"/><circle cx="1765.3" cy="1903.0" r="2.8"/><circle cx="1773.2" cy="1897.8" r="2.8"/><circle cx="1772.6" cy="1903.0" r="2.8"/><circle cx="1743.3" cy="1895.4" r="2.8"/><circle cx="1737.8" cy="1904.7" r="2.8"/><circle cx="1745.7" cy="1904.7" r="2.8"/><circle cx="1749.8" cy="1902.3" r="2.8"/><circle cx="1753.3" cy="1906.4" r="2.8"/><circle cx="1759.5" cy="1909.8" r="2.8"/><circle cx="1748.1" cy="1918.5" r="2.8"/><circle cx="1749.1" cy="1925.3" r="2.8"/><circle cx="1745.7" cy="1927.1" r="2.8"/><circle cx="1734.7" cy="1916.7" r="2.8"/><circle cx="1745.0" cy="1939.1" r="2.8"/><circle cx="1805.9" cy="1870.3" r="2.8"/><circle cx="1803.5" cy="1872.0" r="2.8"/><circle cx="1766.4" cy="1903.0" r="2.8"/></g><path d="M1506.80,1999.05H1993.60" stroke="#888888" stroke-width="2.2" stroke-dasharray="7.7 4.05" fill="none"/><path d="M1731.30,1700.90V2092.30" stroke="#888888" stroke-width="2.2" stroke-dasharray="7.7 4.05" fill="none"/><g font-family="DejaVu Sans, sans-serif" font-size="14.6" fill="#444444"><path d="M1506.80,1700.90V2092.30H1993.60" fill="none" stroke="#4d4d4d" stroke-width="1.8"/><path d="M1527.80,2092.30v4.90M1587.96,2092.30v4.90M1648.11,2092.30v4.90M1708.27,2092.30v4.90M1768.43,2092.30v4.90M1828.59,2092.30v4.90M1888.74,2092.30v4.90M1948.90,2092.30v4.90M1506.80,2080.30h-4.90M1506.80,1999.05h-4.90M1506.80,1917.80h-4.90M1506.80,1836.55h-4.90M1506.80,1755.30h-4.90" stroke="#4d4d4d" stroke-width="1.8"/><text x="1527.80" y="2113.30" text-anchor="middle">0</text><text x="1587.96" y="2113.30" text-anchor="middle">1000</text><text x="1648.11" y="2113.30" text-anchor="middle">2000</text><text x="1708.27" y="2113.30" text-anchor="middle">3000</text><text x="1768.43" y="2113.30" text-anchor="middle">4000</text><text x="1828.59" y="2113.30" text-anchor="middle">5000</text><text x="1888.74" y="2113.30" text-anchor="middle">6000</text><text x="1948.90" y="2113.30" text-anchor="middle">7000</text><text x="1495.00" y="2085.70" text-anchor="end">−0.1</text><text x="1495.00" y="2004.45" text-anchor="end">0.0</text><text x="1495.00" y="1923.20" text-anchor="end">0.1</text><text x="1495.00" y="1841.95" text-anchor="end">0.2</text><text x="1495.00" y="1760.70" text-anchor="end">0.3</text></g><text x="1750.20" y="2136.60" text-anchor="middle" font-family="DejaVu Sans, sans-serif" font-size="18.0" fill="#444444">Diet</text><text x="19.61" y="48.70" font-family="DejaVu Sans, sans-serif" font-weight="bold" font-size="60.82" textLength="57.91" lengthAdjust="spacingAndGlyphs" fill="#000">1.</text><text x="127.11" y="38.70" font-family="Liberation Sans, sans-serif" font-weight="normal" font-size="40.14" textLength="516.57" lengthAdjust="spacingAndGlyphs" fill="#000">Urine volume &gt; 1570 ml/72h</text><text x="731.59" y="48.70" font-family="DejaVu Sans, sans-serif" font-weight="bold" font-size="59.32" textLength="59.25" lengthAdjust="spacingAndGlyphs" fill="#000">2.</text><text x="886.99" y="40.40" font-family="Liberation Sans, sans-serif" font-weight="normal" font-size="38.70" textLength="123.73" lengthAdjust="spacingAndGlyphs" fill="#000">CCI &lt; 2</text><text x="1414.68" y="48.70" font-family="DejaVu Sans, sans-serif" font-weight="bold" font-size="59.32" textLength="56.62" lengthAdjust="spacingAndGlyphs" fill="#000">3.</text><text x="1725.30" y="44.00" font-family="Liberation Sans, sans-serif" font-weight="normal" font-size="40.29" textLength="247.22" lengthAdjust="spacingAndGlyphs" fill="#000">SpO2 &gt; 97.8%</text><text x="20.86" y="567.30" font-family="DejaVu Sans, sans-serif" font-weight="bold" font-size="58.36" textLength="55.98" lengthAdjust="spacingAndGlyphs" fill="#000">4.</text><text x="98.23" y="556.80" font-family="Liberation Sans, sans-serif" font-weight="normal" font-size="38.12" textLength="612.37" lengthAdjust="spacingAndGlyphs" fill="#000">Lactate &lt; 26.5mg/dL (3.0 mmol/L)</text><text x="732.77" y="571.20" font-family="DejaVu Sans, sans-serif" font-weight="bold" font-size="61.10" textLength="57.85" lengthAdjust="spacingAndGlyphs" fill="#000">5.</text><text x="892.47" y="556.80" font-family="Liberation Sans, sans-serif" font-weight="normal" font-size="38.12" textLength="266.08" lengthAdjust="spacingAndGlyphs" fill="#000">RR_trend &lt; 4.5</text><text x="1415.05" y="569.80" font-family="DejaVu Sans, sans-serif" font-weight="bold" font-size="60.55" textLength="56.55" lengthAdjust="spacingAndGlyphs" fill="#000">6.</text><text x="1631.93" y="557.50" font-family="Liberation Sans, sans-serif" font-weight="normal" font-size="38.55" textLength="308.03" lengthAdjust="spacingAndGlyphs" fill="#000">Renal disease = 0</text><text x="21.14" y="1128.80" font-family="DejaVu Sans, sans-serif" font-weight="bold" font-size="60.82" textLength="55.56" lengthAdjust="spacingAndGlyphs" fill="#000">7.</text><text x="168.11" y="1120.20" font-family="Liberation Sans, sans-serif" font-weight="normal" font-size="40.87" textLength="329.27" lengthAdjust="spacingAndGlyphs" fill="#000">BUN &lt; 44.5 mg/dL</text><text x="732.52" y="1129.60" font-family="DejaVu Sans, sans-serif" font-weight="bold" font-size="60.41" textLength="58.78" lengthAdjust="spacingAndGlyphs" fill="#000">8.</text><text x="952.19" y="1120.20" font-family="Liberation Sans, sans-serif" font-weight="normal" font-size="39.28" textLength="197.64" lengthAdjust="spacingAndGlyphs" fill="#000">PHA &gt; 7.39</text><text x="1416.65" y="1129.80" font-family="DejaVu Sans, sans-serif" font-weight="bold" font-size="59.18" textLength="54.77" lengthAdjust="spacingAndGlyphs" fill="#000">9.</text><text x="1534.28" y="1118.10" font-family="Liberation Sans, sans-serif" font-weight="normal" font-size="39.42" textLength="467.09" lengthAdjust="spacingAndGlyphs" fill="#000">Systolic BP_variance &lt; 252</text><text x="-3.12" y="1677.70" font-family="DejaVu Sans, sans-serif" font-weight="bold" font-size="60.82" textLength="94.33" lengthAdjust="spacingAndGlyphs" fill="#000">10.</text><text x="106.09" y="1666.40" font-family="Liberation Sans, sans-serif" font-weight="normal" font-size="38.26" textLength="586.17" lengthAdjust="spacingAndGlyphs" fill="#000">Days to ICU admission &lt; 2.6 days</text><text x="714.66" y="1677.70" font-family="DejaVu Sans, sans-serif" font-weight="bold" font-size="60.82" textLength="93.07" lengthAdjust="spacingAndGlyphs" fill="#000">11.</text><text x="873.00" y="1667.20" font-family="Liberation Sans, sans-serif" font-weight="normal" font-size="39.42" textLength="370.04" lengthAdjust="spacingAndGlyphs" fill="#000">WBC &gt; 10250/cumm</text><text x="1396.71" y="1677.40" font-family="DejaVu Sans, sans-serif" font-weight="bold" font-size="59.04" textLength="90.80" lengthAdjust="spacingAndGlyphs" fill="#000">12.</text><text x="1574.23" y="1666.50" font-family="Liberation Sans, sans-serif" font-weight="normal" font-size="38.41" textLength="356.13" lengthAdjust="spacingAndGlyphs" fill="#000">Diet &gt; 3400 ml/72 h</text></svg></body></html>
